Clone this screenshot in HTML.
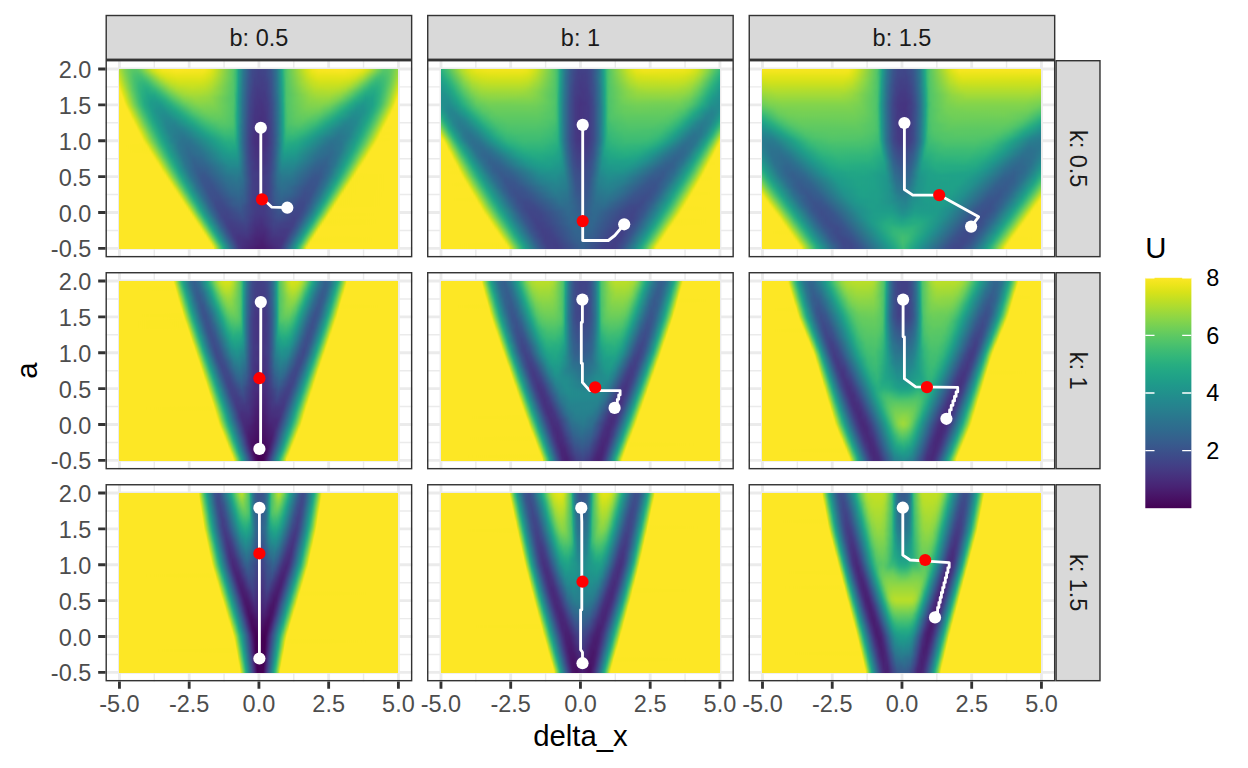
<!DOCTYPE html>
<html><head><meta charset="utf-8"><title>U landscape</title>
<style>
html,body{margin:0;padding:0;background:#fff}
#p{position:relative;width:1248px;height:768px;overflow:hidden;background:#fff;font-family:"Liberation Sans",sans-serif}
.l{position:absolute;left:0;top:0}
.hw{position:absolute;width:279px;height:180px;overflow:hidden}
.hm{position:absolute;left:0;top:-6px;width:279px;filter:url(#vb)}
.hm i{display:block;height:3px;width:279px}
</style></head><body><div id="p">
<svg width="0" height="0" style="position:absolute"><defs><filter id="vb" x="0" y="0" width="100%" height="100%" color-interpolation-filters="sRGB"><feGaussianBlur stdDeviation="0.6 1.4"/></filter></defs></svg>
<svg class="l" width="1248" height="768" viewBox="0 0 1248 768"><path d="M154.32 60.00V257.35M224.06 60.00V257.35M293.79 60.00V257.35M363.53 60.00V257.35M105.50 230.44H412.35M105.50 194.56H412.35M105.50 158.68H412.35M105.50 122.79H412.35M105.50 86.91H412.35" stroke="#ebebeb" stroke-width="1.42" fill="none"/><path d="M119.45 60.00V257.35M189.19 60.00V257.35M258.93 60.00V257.35M328.66 60.00V257.35M398.40 60.00V257.35M105.50 248.38H412.35M105.50 212.50H412.35M105.50 176.62H412.35M105.50 140.73H412.35M105.50 104.85H412.35M105.50 68.97H412.35" stroke="#ebebeb" stroke-width="2.84" fill="none"/><path d="M475.84 60.00V257.35M545.58 60.00V257.35M615.31 60.00V257.35M685.05 60.00V257.35M427.02 230.44H733.87M427.02 194.56H733.87M427.02 158.68H733.87M427.02 122.79H733.87M427.02 86.91H733.87" stroke="#ebebeb" stroke-width="1.42" fill="none"/><path d="M440.97 60.00V257.35M510.71 60.00V257.35M580.45 60.00V257.35M650.18 60.00V257.35M719.92 60.00V257.35M427.02 248.38H733.87M427.02 212.50H733.87M427.02 176.62H733.87M427.02 140.73H733.87M427.02 104.85H733.87M427.02 68.97H733.87" stroke="#ebebeb" stroke-width="2.84" fill="none"/><path d="M797.36 60.00V257.35M867.10 60.00V257.35M936.83 60.00V257.35M1006.57 60.00V257.35M748.54 230.44H1055.39M748.54 194.56H1055.39M748.54 158.68H1055.39M748.54 122.79H1055.39M748.54 86.91H1055.39" stroke="#ebebeb" stroke-width="1.42" fill="none"/><path d="M762.49 60.00V257.35M832.23 60.00V257.35M901.97 60.00V257.35M971.70 60.00V257.35M1041.44 60.00V257.35M748.54 248.38H1055.39M748.54 212.50H1055.39M748.54 176.62H1055.39M748.54 140.73H1055.39M748.54 104.85H1055.39M748.54 68.97H1055.39" stroke="#ebebeb" stroke-width="2.84" fill="none"/><path d="M154.32 272.02V469.37M224.06 272.02V469.37M293.79 272.02V469.37M363.53 272.02V469.37M105.50 442.46H412.35M105.50 406.58H412.35M105.50 370.70H412.35M105.50 334.81H412.35M105.50 298.93H412.35" stroke="#ebebeb" stroke-width="1.42" fill="none"/><path d="M119.45 272.02V469.37M189.19 272.02V469.37M258.93 272.02V469.37M328.66 272.02V469.37M398.40 272.02V469.37M105.50 460.40H412.35M105.50 424.52H412.35M105.50 388.64H412.35M105.50 352.75H412.35M105.50 316.87H412.35M105.50 280.99H412.35" stroke="#ebebeb" stroke-width="2.84" fill="none"/><path d="M475.84 272.02V469.37M545.58 272.02V469.37M615.31 272.02V469.37M685.05 272.02V469.37M427.02 442.46H733.87M427.02 406.58H733.87M427.02 370.70H733.87M427.02 334.81H733.87M427.02 298.93H733.87" stroke="#ebebeb" stroke-width="1.42" fill="none"/><path d="M440.97 272.02V469.37M510.71 272.02V469.37M580.45 272.02V469.37M650.18 272.02V469.37M719.92 272.02V469.37M427.02 460.40H733.87M427.02 424.52H733.87M427.02 388.64H733.87M427.02 352.75H733.87M427.02 316.87H733.87M427.02 280.99H733.87" stroke="#ebebeb" stroke-width="2.84" fill="none"/><path d="M797.36 272.02V469.37M867.10 272.02V469.37M936.83 272.02V469.37M1006.57 272.02V469.37M748.54 442.46H1055.39M748.54 406.58H1055.39M748.54 370.70H1055.39M748.54 334.81H1055.39M748.54 298.93H1055.39" stroke="#ebebeb" stroke-width="1.42" fill="none"/><path d="M762.49 272.02V469.37M832.23 272.02V469.37M901.97 272.02V469.37M971.70 272.02V469.37M1041.44 272.02V469.37M748.54 460.40H1055.39M748.54 424.52H1055.39M748.54 388.64H1055.39M748.54 352.75H1055.39M748.54 316.87H1055.39M748.54 280.99H1055.39" stroke="#ebebeb" stroke-width="2.84" fill="none"/><path d="M154.32 484.04V681.39M224.06 484.04V681.39M293.79 484.04V681.39M363.53 484.04V681.39M105.50 654.48H412.35M105.50 618.60H412.35M105.50 582.72H412.35M105.50 546.83H412.35M105.50 510.95H412.35" stroke="#ebebeb" stroke-width="1.42" fill="none"/><path d="M119.45 484.04V681.39M189.19 484.04V681.39M258.93 484.04V681.39M328.66 484.04V681.39M398.40 484.04V681.39M105.50 672.42H412.35M105.50 636.54H412.35M105.50 600.66H412.35M105.50 564.77H412.35M105.50 528.89H412.35M105.50 493.01H412.35" stroke="#ebebeb" stroke-width="2.84" fill="none"/><path d="M475.84 484.04V681.39M545.58 484.04V681.39M615.31 484.04V681.39M685.05 484.04V681.39M427.02 654.48H733.87M427.02 618.60H733.87M427.02 582.72H733.87M427.02 546.83H733.87M427.02 510.95H733.87" stroke="#ebebeb" stroke-width="1.42" fill="none"/><path d="M440.97 484.04V681.39M510.71 484.04V681.39M580.45 484.04V681.39M650.18 484.04V681.39M719.92 484.04V681.39M427.02 672.42H733.87M427.02 636.54H733.87M427.02 600.66H733.87M427.02 564.77H733.87M427.02 528.89H733.87M427.02 493.01H733.87" stroke="#ebebeb" stroke-width="2.84" fill="none"/><path d="M797.36 484.04V681.39M867.10 484.04V681.39M936.83 484.04V681.39M1006.57 484.04V681.39M748.54 654.48H1055.39M748.54 618.60H1055.39M748.54 582.72H1055.39M748.54 546.83H1055.39M748.54 510.95H1055.39" stroke="#ebebeb" stroke-width="1.42" fill="none"/><path d="M762.49 484.04V681.39M832.23 484.04V681.39M901.97 484.04V681.39M971.70 484.04V681.39M1041.44 484.04V681.39M748.54 672.42H1055.39M748.54 636.54H1055.39M748.54 600.66H1055.39M748.54 564.77H1055.39M748.54 528.89H1055.39M748.54 493.01H1055.39" stroke="#ebebeb" stroke-width="2.84" fill="none"/></svg>
<div class="hw" style="left:119px;top:69px"><div class="hm"><i style="background:linear-gradient(90deg,#b0dd2f 0.2%,#89d548 1.6%,#6ccd5a 3%,#5ac864 4.5%,#56c667 6.3%,#60ca60 7.3%,#75d054 8.4%,#cde11d 12%,#e7e419 13.8%,#f4e61e 15.6%,#fbe723 21%,#f6e620 30.6%,#e5e419 32.8%,#d0e11c 34.2%,#56c667 41%,#42be71 41.8%,#26ad81 42.5%,#1fa287 42.8%,#2a778e 44.6%,#39558c 46.8%,#3e4a89 47.8%,#414287 50%,#404688 52.5%,#3a538b 54.3%,#2b748e 56.5%,#1fa088 58.2%,#24aa83 58.6%,#3dbc74 59.3%,#5ac864 60.4%,#cde11d 66.8%,#dde318 67.9%,#efe51c 69.4%,#f8e621 71.5%,#fbe723 80.5%,#efe51c 86.6%,#dfe318 88%,#c8e020 89.4%,#77d153 92.7%,#56c667 94.8%,#56c667 95.9%,#60ca60 97.3%,#69cd5b 98%,#90d743 99.8%)"></i><i style="background:linear-gradient(90deg,#b0dd2f 0.2%,#89d548 1.6%,#6ccd5a 3%,#5ac864 4.5%,#56c667 6.3%,#60ca60 7.3%,#75d054 8.4%,#cde11d 12%,#e7e419 13.8%,#f4e61e 15.6%,#fbe723 21%,#f6e620 30.6%,#e5e419 32.8%,#d0e11c 34.2%,#56c667 41%,#42be71 41.8%,#26ad81 42.5%,#1fa287 42.8%,#2a778e 44.6%,#39558c 46.8%,#3e4a89 47.8%,#414287 50%,#404688 52.5%,#3a538b 54.3%,#2b748e 56.5%,#1fa088 58.2%,#24aa83 58.6%,#3dbc74 59.3%,#5ac864 60.4%,#cde11d 66.8%,#dde318 67.9%,#efe51c 69.4%,#f8e621 71.5%,#fbe723 80.5%,#efe51c 86.6%,#dfe318 88%,#c8e020 89.4%,#77d153 92.7%,#56c667 94.8%,#56c667 95.9%,#60ca60 97.3%,#69cd5b 98%,#90d743 99.8%)"></i><i style="background:linear-gradient(90deg,#b0dd2f 0.2%,#89d548 1.6%,#6ccd5a 3%,#5ac864 4.5%,#56c667 6.3%,#60ca60 7.3%,#75d054 8.4%,#cde11d 12%,#e7e419 13.8%,#f4e61e 15.6%,#fbe723 21%,#f6e620 30.6%,#e5e419 32.8%,#d0e11c 34.2%,#56c667 41%,#42be71 41.8%,#26ad81 42.5%,#1fa287 42.8%,#2a778e 44.6%,#39558c 46.8%,#3e4a89 47.8%,#414287 50%,#404688 52.5%,#3a538b 54.3%,#2b748e 56.5%,#1fa088 58.2%,#24aa83 58.6%,#3dbc74 59.3%,#5ac864 60.4%,#cde11d 66.8%,#dde318 67.9%,#efe51c 69.4%,#f8e621 71.5%,#fbe723 80.5%,#efe51c 86.6%,#dfe318 88%,#c8e020 89.4%,#77d153 92.7%,#56c667 94.8%,#56c667 95.9%,#60ca60 97.3%,#69cd5b 98%,#90d743 99.8%)"></i><i style="background:linear-gradient(90deg,#bade28 0.2%,#7cd250 2.3%,#60ca60 3.8%,#50c46a 5.2%,#4cc26c 6.6%,#56c667 8.1%,#69cd5b 9.1%,#cae11f 13.4%,#dae319 14.5%,#e5e419 15.9%,#f1e51d 20.3%,#efe51c 29.9%,#dfe318 32.4%,#cde11d 33.9%,#56c667 41%,#32b67a 42.1%,#1fa187 42.8%,#2a768e 44.6%,#3a548c 46.8%,#3e4989 47.8%,#424186 50%,#404588 52.5%,#39568c 54.7%,#2c738e 56.5%,#1f9f88 58.2%,#23a983 58.6%,#3bbb75 59.3%,#4ac16d 59.7%,#5ac864 60.4%,#c5e021 66.8%,#e2e418 69%,#efe51c 71.5%,#f1e51d 80.8%,#e5e419 85.5%,#cde11d 87.6%,#5ec962 92.7%,#4cc26c 94.4%,#52c569 96.2%,#5ec962 97.3%,#95d840 99.8%)"></i><i style="background:linear-gradient(90deg,#c5e021 0.2%,#8bd646 2%,#69cd5b 3.4%,#4cc26c 5.2%,#42be71 7%,#46c06f 8.1%,#5ec962 9.9%,#c8e020 14.9%,#dde318 17%,#e7e419 20.6%,#e7e419 28.9%,#e2e418 30.6%,#d2e21b 32.8%,#c0df25 34.2%,#60ca60 40.3%,#40bd72 41.8%,#25ac82 42.5%,#1fa188 42.8%,#2b758e 44.6%,#3a538b 46.8%,#3f4889 47.8%,#424086 50%,#414287 52.2%,#39558c 54.7%,#2c728e 56.5%,#1f9e89 58.2%,#22a884 58.6%,#48c16e 59.7%,#63cb5f 61.1%,#c8e020 67.6%,#d8e219 69%,#e5e419 71.1%,#e7e419 80.5%,#e5e419 82.3%,#d8e219 84.8%,#b8de29 87.3%,#60ca60 91.2%,#4ec36b 92.3%,#42be71 93.7%,#48c16e 95.5%,#54c568 96.6%,#6ece58 98%,#9dd93b 99.8%)"></i><i style="background:linear-gradient(90deg,#d0e11c 0.2%,#89d548 2.3%,#5ec962 4.1%,#42be71 5.9%,#3bbb75 8.4%,#48c16e 9.9%,#60ca60 11.3%,#addc30 14.9%,#d0e11c 17.7%,#dde318 21.3%,#dde318 28.9%,#d8e219 30.6%,#c5e021 33.2%,#5ac864 40.7%,#3fbc73 41.8%,#25ab82 42.5%,#1fa088 42.8%,#2b748e 44.6%,#39568c 46.4%,#414287 48.6%,#423f85 51.4%,#404688 53.2%,#3a548c 54.7%,#2c718e 56.5%,#1e9d89 58.2%,#2cb17e 59%,#52c569 60%,#bade28 67.2%,#d8e219 70.4%,#dde318 72.2%,#dde318 79.7%,#d5e21a 82.6%,#c8e020 84.4%,#9bd93c 87.3%,#5cc863 90.1%,#40bd72 91.9%,#3bbb75 92.7%,#3fbc73 94.8%,#54c568 96.6%,#69cd5b 97.7%,#a8db34 99.8%)"></i><i style="background:linear-gradient(90deg,#dfe318 0.2%,#c5e021 0.9%,#9dd93b 2%,#60ca60 4.1%,#46c06f 5.6%,#35b779 7.3%,#34b679 9.1%,#3fbc73 10.6%,#69cd5b 13.1%,#b0dd2f 16.7%,#c8e020 19.2%,#d2e21b 22%,#d2e21b 29.2%,#c8e020 31.7%,#aadc32 34.6%,#52c569 41%,#3dbc74 41.8%,#24aa83 42.5%,#1f9f88 42.8%,#2c738e 44.6%,#39558c 46.4%,#424186 48.6%,#433e85 51.4%,#414287 52.9%,#3a538b 54.7%,#2a788e 56.8%,#1e9c89 58.2%,#2ab07f 59%,#50c46a 60%,#9bd93c 65.4%,#c0df25 68.6%,#d2e21b 72.2%,#d2e21b 79%,#c5e021 82.6%,#a0da39 85.5%,#65cb5e 88.4%,#40bd72 90.5%,#35b779 91.9%,#34b679 93.4%,#44bf70 95.5%,#5ec962 97%,#8ed645 98.7%,#b2dd2d 99.8%)"></i><i style="background:linear-gradient(90deg,#ece51b 0.2%,#d0e11c 0.9%,#90d743 2.7%,#4ec36b 5.2%,#35b779 7%,#2db27d 8.8%,#2fb47c 10.2%,#3bbb75 11.6%,#73d056 14.9%,#b0dd2f 18.5%,#c5e021 21.7%,#cae11f 26.3%,#c5e021 30.3%,#b2dd2d 33.2%,#52c569 41%,#3dbc74 41.8%,#23a983 42.5%,#1f9e89 42.8%,#2c728e 44.6%,#3c4f8a 46.8%,#424086 48.6%,#433d84 51.4%,#424186 52.9%,#3b528b 54.7%,#2a778e 56.8%,#1e9b8a 58.2%,#29af7f 59%,#50c46a 60%,#9dd93b 66.1%,#c0df25 69.7%,#c8e020 71.9%,#c8e020 78.3%,#bddf26 81.2%,#addc30 83%,#8bd646 85.1%,#60ca60 87.3%,#38b977 89.8%,#2fb47c 90.9%,#2db27d 92.7%,#3bbb75 94.8%,#5ac864 96.6%,#8bd646 98.4%,#c0df25 99.8%)"></i><i style="background:linear-gradient(90deg,#fbe723 0.2%,#dfe318 0.9%,#d2e21b 1.3%,#8ed645 3%,#5ac864 4.8%,#44bf70 5.9%,#31b57b 7.3%,#27ad81 9.5%,#29af7f 10.9%,#3bbb75 13.1%,#93d741 18.1%,#b0dd2f 20.6%,#c0df25 26.3%,#b8de29 31%,#a8db34 33.2%,#52c569 41%,#3bbb75 41.8%,#22a884 42.5%,#1e9d89 42.8%,#2a788e 44.3%,#38588c 46.1%,#424186 48.2%,#443b84 49.6%,#424086 52.9%,#3b518b 54.7%,#2a768e 56.8%,#20a486 58.6%,#44bf70 59.7%,#54c568 60.4%,#a5db36 67.6%,#bade28 70.8%,#c0df25 74.7%,#b8de29 79%,#aadc32 81.2%,#89d548 83.7%,#3dbc74 88%,#28ae80 90.5%,#28ae80 92.3%,#2fb47c 93.7%,#48c16e 95.5%,#7fd34e 97.7%,#cde11d 99.8%)"></i><i style="background:linear-gradient(90deg,#fde725 0.2%,#fbe723 0.5%,#dfe318 1.3%,#d2e21b 1.6%,#81d34d 3.8%,#60ca60 4.8%,#35b779 7%,#2ab07f 8.1%,#24aa83 9.9%,#2db27d 13.1%,#42be71 14.9%,#73d056 17.7%,#98d83e 20.3%,#a8db34 22%,#b2dd2d 24.9%,#b2dd2d 29.2%,#a8db34 32.1%,#89d548 35.7%,#50c46a 41%,#3aba76 41.8%,#22a785 42.5%,#1e9c89 42.8%,#2a778e 44.3%,#39568c 46.1%,#414287 47.8%,#443a83 49.6%,#443b84 52.2%,#3f4889 53.9%,#34608d 55.7%,#1f988b 58.2%,#27ad81 59%,#4ec36b 60%,#8bd646 65.8%,#addc30 70.1%,#b2dd2d 76.5%,#a8db34 79%,#95d840 81.2%,#44bf70 86.2%,#2eb37c 88%,#25ac82 89.4%,#24aa83 91.6%,#2fb47c 93.7%,#46c06f 95.2%,#7cd250 97.3%,#dae319 99.8%)"></i><i style="background:linear-gradient(90deg,#fde725 0.2%,#fde725 0.9%,#dfe318 1.6%,#d2e21b 2%,#73d056 4.5%,#44bf70 6.3%,#2ab07f 8.1%,#21a685 10.2%,#22a884 12.7%,#2db27d 14.5%,#42be71 16.3%,#60ca60 18.1%,#8ed645 21.3%,#a0da39 23.5%,#a8db34 25.6%,#a8db34 29.2%,#a0da39 31.7%,#86d549 35.3%,#50c46a 41%,#2ab07f 42.1%,#1e9b8a 42.8%,#2a768e 44.3%,#39558c 46.1%,#424186 47.8%,#443983 49.6%,#443a83 52.2%,#3e4a89 54.3%,#2b748e 56.8%,#1fa287 58.6%,#26ad81 59%,#4ec36b 60%,#9bd93c 68.6%,#a8db34 71.9%,#a8db34 75.4%,#93d741 79.4%,#63cb5f 83%,#44bf70 84.8%,#2eb37c 86.6%,#23a983 88.4%,#21a685 91.2%,#26ad81 92.7%,#31b57b 93.7%,#52c569 95.5%,#7cd250 97%,#cde11d 99.1%,#eae51a 99.8%)"></i><i style="background:linear-gradient(90deg,#fde725 0.2%,#fde725 1.3%,#e2e418 2%,#d2e21b 2.3%,#a5db36 3.4%,#67cc5c 5.2%,#42be71 6.6%,#28ae80 8.4%,#1fa287 10.6%,#1fa187 12.7%,#27ad81 15.2%,#35b779 16.7%,#5ac864 19.2%,#89d548 22.8%,#9dd93b 27.1%,#93d741 32.4%,#4ec36b 41%,#46c06f 41.4%,#29af7f 42.1%,#1f9a8a 42.8%,#2b758e 44.3%,#3a548c 46.1%,#414287 47.5%,#453882 49.6%,#443a83 52.5%,#3e4989 54.3%,#2c728e 56.8%,#1fa187 58.6%,#25ac82 59%,#42be71 59.7%,#52c569 60.4%,#73d056 64.3%,#8ed645 67.9%,#9bd93c 70.8%,#9bd93c 75.4%,#7fd34e 79.4%,#3bbb75 84.1%,#28ae80 85.8%,#1fa187 88.4%,#1fa287 90.9%,#2eb37c 93.4%,#50c46a 95.2%,#86d549 97%,#cde11d 98.7%,#dde318 99.1%,#f8e621 99.8%)"></i><i style="background:linear-gradient(90deg,#fde725 0.2%,#fde725 1.6%,#e2e418 2.3%,#d2e21b 2.7%,#70cf57 5.2%,#38b977 7.3%,#23a983 9.1%,#1e9d89 11.6%,#1f9e89 13.8%,#27ad81 16.7%,#58c765 20.6%,#7fd34e 23.8%,#93d741 27.8%,#93d741 30.6%,#89d548 33.5%,#4ec36b 41%,#46c06f 41.4%,#28ae80 42.1%,#1f998a 42.8%,#2b748e 44.3%,#3e4989 46.8%,#443a83 48.6%,#453581 50.4%,#443b84 52.9%,#3b518b 55%,#2c718e 56.8%,#1fa188 58.6%,#32b67a 59.3%,#4cc26c 60%,#52c569 60.4%,#69cd5b 63.3%,#8bd646 68.3%,#93d741 73.3%,#8ed645 75.1%,#7ad151 78%,#5ac864 80.5%,#28ae80 84.4%,#1e9c89 88.4%,#1fa187 90.9%,#2cb17e 93%,#4ec36b 94.8%,#77d153 96.2%,#cde11d 98.4%,#dde318 98.7%,#fbe723 99.5%,#fde725 99.8%)"></i><i style="background:linear-gradient(90deg,#fde725 0.2%,#fde725 2%,#e2e418 2.7%,#d2e21b 3%,#6ece58 5.6%,#3dbc74 7.3%,#31b57b 8.1%,#24aa83 9.1%,#1e9b8a 11.3%,#1f978b 13.4%,#1e9d89 15.2%,#2ab07f 18.5%,#63cb5f 23.1%,#84d44b 27.1%,#89d548 28.9%,#84d44b 33.5%,#52c569 40.7%,#4ec36b 41%,#37b878 41.8%,#27ad81 42.1%,#1f988b 42.8%,#2c738e 44.3%,#3f4889 46.8%,#443983 48.6%,#463480 51.1%,#423f85 53.6%,#39558c 55.4%,#29798e 57.2%,#1fa088 58.6%,#24aa83 59%,#4cc26c 60%,#63cb5f 62.5%,#84d44b 67.9%,#89d548 72.6%,#7fd34e 75.1%,#70cf57 76.9%,#28ae80 83%,#1fa188 85.1%,#1f978b 87.6%,#1fa188 90.9%,#26ad81 92.3%,#42be71 94.1%,#90d743 96.6%,#dde318 98.4%,#fbe723 99.1%,#fde725 99.8%)"></i><i style="background:linear-gradient(90deg,#fde725 0.2%,#fde725 2.3%,#f6e620 2.7%,#d8e219 3.4%,#8bd646 5.2%,#50c46a 7%,#37b878 8.1%,#27ad81 9.1%,#1e9c89 11.3%,#1f948c 14.9%,#23a983 18.8%,#35b779 21%,#67cc5c 25.3%,#7fd34e 29.2%,#7cd250 34.2%,#63cb5f 38.5%,#4ec36b 41%,#35b779 41.8%,#1fa287 42.5%,#2c728e 44.3%,#3f4788 46.8%,#453581 49.3%,#463480 51.4%,#443b84 53.2%,#3c4f8a 55%,#2a788e 57.2%,#1f9f88 58.6%,#24aa83 59%,#3fbc73 59.7%,#4ac16d 60%,#58c765 61.1%,#7ad151 66.5%,#81d34d 69.4%,#7fd34e 71.9%,#6ccd5a 75.4%,#32b67a 80.5%,#22a884 82.6%,#1f978b 85.5%,#20938c 87.3%,#1fa287 90.9%,#26ad81 91.9%,#3bbb75 93.4%,#86d549 95.9%,#d2e21b 97.7%,#e2e418 98%,#fde725 98.7%,#fde725 99.8%)"></i><i style="background:linear-gradient(90deg,#fde725 0.2%,#fde725 3%,#dfe318 3.8%,#d0e11c 4.1%,#77d153 6.3%,#42be71 8.1%,#28ae80 9.5%,#1e9c89 11.6%,#20928c 13.4%,#20928c 15.9%,#23a983 20.3%,#63cb5f 26.7%,#77d153 30.6%,#75d054 34.9%,#5ac864 39.6%,#4cc26c 41%,#34b679 41.8%,#1fa187 42.5%,#2c728e 44.3%,#414287 47.1%,#453581 48.9%,#46337f 51.4%,#443b84 53.2%,#3e4989 54.7%,#2a778e 57.2%,#1f9e89 58.6%,#23a983 59%,#3fbc73 59.7%,#50c46a 60.4%,#63cb5f 62.9%,#77d153 67.2%,#75d054 71.5%,#5ac864 75.4%,#32b67a 79%,#22a884 81.2%,#20928c 85.1%,#20928c 87.6%,#1e9d89 89.8%,#27ad81 91.6%,#3fbc73 93%,#73d056 94.8%,#dae319 97.3%,#f8e621 98%,#fde725 99.8%)"></i><i style="background:linear-gradient(90deg,#fde725 0.2%,#fde725 3.4%,#f6e620 3.8%,#d8e219 4.5%,#70cf57 7%,#46c06f 8.4%,#2ab07f 9.9%,#1e9c89 12%,#20928c 13.4%,#218e8d 16.3%,#1fa287 20.6%,#2ab07f 22.8%,#52c569 26.7%,#6ccd5a 30.3%,#70cf57 32.1%,#6ccd5a 36.4%,#52c569 40.7%,#42be71 41.4%,#26ad81 42.1%,#1fa187 42.5%,#2c718e 44.3%,#3e4a89 46.4%,#453581 48.9%,#46337f 51.8%,#443a83 53.2%,#3d4e8a 55%,#2e6f8e 56.8%,#1f9e89 58.6%,#23a983 59%,#3dbc74 59.7%,#50c46a 60.4%,#6ccd5a 65.1%,#70cf57 69.4%,#65cb5e 72.2%,#48c16e 75.4%,#22a884 79.7%,#20928c 83.3%,#218e8d 85.1%,#20938c 88%,#1fa188 89.8%,#28ae80 91.2%,#42be71 92.7%,#60ca60 93.7%,#86d549 94.8%,#d2e21b 96.6%,#e2e418 97%,#fde725 97.7%,#fde725 99.8%)"></i><i style="background:linear-gradient(90deg,#fde725 0.2%,#fde725 4.1%,#dfe318 4.8%,#d0e11c 5.2%,#77d153 7.3%,#4ac16d 8.8%,#27ad81 10.6%,#1e9c89 12.4%,#228d8d 14.9%,#228b8d 17%,#1fa287 22%,#27ad81 23.8%,#48c16e 27.4%,#58c765 29.2%,#67cc5c 32.4%,#67cc5c 36.4%,#5ac864 39.2%,#4cc26c 41%,#25ac82 42.1%,#1fa188 42.5%,#2c718e 44.3%,#424186 47.1%,#453581 48.6%,#46327e 51.4%,#453581 52.5%,#3f4889 54.7%,#2a768e 57.2%,#1e9d89 58.6%,#22a884 59%,#3dbc74 59.7%,#52c569 60.8%,#63cb5f 63.6%,#69cd5b 67.9%,#56c667 72.2%,#22a884 78.3%,#228b8d 84.1%,#218e8d 86.6%,#1fa187 89.4%,#2ab07f 90.9%,#5cc863 93%,#8ed645 94.4%,#cae11f 95.9%,#dae319 96.2%,#f8e621 97%,#fde725 97.3%,#fde725 99.8%)"></i><i style="background:linear-gradient(90deg,#fde725 0.2%,#fde725 4.5%,#f6e620 4.8%,#d8e219 5.6%,#70cf57 8.1%,#46c06f 9.5%,#29af7f 10.9%,#1e9d89 12.7%,#238a8d 15.6%,#23888e 18.1%,#20a486 23.8%,#29af7f 25.6%,#56c667 31%,#63cb5f 34.9%,#5ec962 37.8%,#50c46a 40.7%,#40bd72 41.4%,#25ac82 42.1%,#1fa188 42.5%,#29798e 43.9%,#3e4989 46.4%,#453581 48.6%,#46307e 50.7%,#463480 52.5%,#3f4889 54.7%,#2e6e8e 56.8%,#1e9d89 58.6%,#22a785 59%,#3bbb75 59.7%,#4ec36b 60.4%,#5cc863 62.9%,#63cb5f 66.1%,#52c569 70.8%,#22a884 76.9%,#1e9d89 78.7%,#23888e 83%,#228b8d 85.8%,#1fa287 89.1%,#2db27d 90.5%,#42be71 91.6%,#60ca60 92.7%,#86d549 93.7%,#d2e21b 95.5%,#e2e418 95.9%,#fde725 96.6%,#fde725 99.8%)"></i><i style="background:linear-gradient(90deg,#fde725 0.2%,#fde725 5.2%,#dfe318 5.9%,#d0e11c 6.3%,#5ec962 9.1%,#38b977 10.6%,#23a983 12%,#1e9b8a 13.4%,#25858e 17%,#24878e 19.9%,#1e9c89 23.8%,#26ad81 26.7%,#3dbc74 29.6%,#56c667 33.5%,#5ac864 37.8%,#4ec36b 40.7%,#40bd72 41.4%,#25ab82 42.1%,#1fa088 42.5%,#34618d 45%,#424086 47.1%,#463480 48.6%,#46307e 51.4%,#453581 52.9%,#3f4788 54.7%,#2b758e 57.2%,#1e9c89 58.6%,#22a785 59%,#3bbb75 59.7%,#50c46a 60.8%,#5ac864 63.6%,#5ac864 66.1%,#46c06f 70.4%,#29af7f 74%,#1fa188 76.5%,#228c8d 80.1%,#25848e 83%,#23888e 85.1%,#20a486 88.7%,#29af7f 89.8%,#50c46a 91.6%,#8ed645 93.4%,#cae11f 94.8%,#dae319 95.2%,#f8e621 95.9%,#fde725 96.2%,#fde725 99.8%)"></i><i style="background:linear-gradient(90deg,#fde725 0.2%,#fde725 5.6%,#f8e621 5.9%,#d8e219 6.6%,#70cf57 9.1%,#44bf70 10.6%,#28ae80 12%,#1e9c89 13.8%,#24868e 16.7%,#26828e 19.9%,#1fa187 26.3%,#3dbc74 31.4%,#54c568 36.4%,#52c569 39.2%,#48c16e 41%,#31b57b 41.8%,#1fa088 42.5%,#2a788e 43.9%,#3f4889 46.4%,#463480 48.6%,#472f7d 51.1%,#443a83 53.6%,#3b518b 55.4%,#2b758e 57.2%,#1e9c89 58.6%,#21a685 59%,#3aba76 59.7%,#4ac16d 60.4%,#54c568 62.9%,#54c568 65.1%,#3bbb75 70.1%,#1fa287 74.7%,#26828e 81.2%,#24878e 84.8%,#1fa187 88%,#32b67a 89.8%,#60ca60 91.6%,#86d549 92.7%,#d2e21b 94.4%,#e2e418 94.8%,#fde725 95.5%,#fde725 99.8%)"></i><i style="background:linear-gradient(90deg,#fde725 0.2%,#fde725 6.3%,#dfe318 7%,#d0e11c 7.3%,#5ec962 10.2%,#2ab07f 12.4%,#1e9d89 14.2%,#25838e 17.4%,#277f8e 20.3%,#25858e 22.8%,#1fa187 27.8%,#32b67a 31.7%,#4ac16d 36%,#4cc26c 38.9%,#46c06f 40.7%,#3bbb75 41.4%,#2fb47c 41.8%,#24aa83 42.1%,#1f948c 42.8%,#2a778e 43.9%,#3d4d8a 46.1%,#443b84 47.5%,#472f7d 49.6%,#463480 52.9%,#424186 54.3%,#32658e 56.5%,#1e9b8a 58.6%,#21a685 59%,#38b977 59.7%,#44bf70 60.4%,#4cc26c 64.3%,#3dbc74 67.9%,#1fa287 73.3%,#25848e 78.7%,#277f8e 80.8%,#25838e 83.7%,#1e9c89 86.9%,#2eb37c 89.1%,#5ac864 90.9%,#8ed645 92.3%,#dae319 94.1%,#fbe723 94.8%,#fde725 99.8%)"></i><i style="background:linear-gradient(90deg,#fde725 0.2%,#fde725 6.6%,#f8e621 7%,#dae319 7.7%,#cae11f 8.1%,#70cf57 10.2%,#44bf70 11.6%,#28ae80 13.1%,#1e9b8a 14.9%,#25838e 17.7%,#287c8e 21.3%,#25838e 23.8%,#1e9d89 28.5%,#31b57b 33.2%,#44bf70 37.8%,#3dbc74 41%,#2eb37c 41.8%,#1f9e89 42.5%,#31678e 44.6%,#3f4788 46.4%,#46307e 48.9%,#472e7c 51.1%,#443983 53.6%,#3e4a89 55%,#2f6c8e 56.8%,#1f9a8a 58.6%,#21a585 59%,#3bbb75 60%,#44bf70 62.2%,#3bbb75 66.1%,#1fa187 71.9%,#25858e 76.9%,#287c8e 79.7%,#26828e 83.3%,#1e9d89 86.6%,#26ad81 88%,#40bd72 89.4%,#86d549 91.6%,#d2e21b 93.4%,#e5e419 93.7%,#fde725 94.4%,#fde725 99.8%)"></i><i style="background:linear-gradient(90deg,#fde725 0.2%,#fde725 7.3%,#e2e418 8.1%,#d2e21b 8.4%,#93d741 9.9%,#5ec962 11.3%,#2ab07f 13.4%,#1e9c89 15.2%,#26828e 18.1%,#29798e 22.4%,#26828e 25.3%,#1e9c89 29.9%,#26ad81 33.2%,#3aba76 37.1%,#3dbc74 39.2%,#38b977 41%,#2cb17e 41.8%,#1f9e89 42.5%,#2a768e 43.9%,#424186 46.8%,#46307e 48.9%,#472e7c 51.4%,#453581 53.2%,#3e4a89 55%,#2c738e 57.2%,#1f9a8a 58.6%,#20a486 59%,#31b57b 59.7%,#3aba76 60.4%,#3dbc74 62.2%,#32b67a 65.8%,#1e9d89 71.1%,#29798e 78.7%,#277e8e 82.3%,#1fa287 86.6%,#2eb37c 88%,#5ac864 89.8%,#8ed645 91.2%,#cde11d 92.7%,#dde318 93%,#fbe723 93.7%,#fde725 99.8%)"></i><i style="background:linear-gradient(90deg,#fde725 0.2%,#fde725 7.7%,#f8e621 8.1%,#dae319 8.8%,#cae11f 9.1%,#8bd646 10.6%,#58c765 12%,#3bbb75 13.1%,#27ad81 14.2%,#1e9d89 15.6%,#297a8e 19.9%,#2a768e 23.5%,#1e9c89 31.4%,#32b67a 37.8%,#34b679 41%,#29af7f 41.8%,#1e9d89 42.5%,#31668e 44.6%,#404688 46.4%,#46337f 48.2%,#472d7b 50%,#46307e 52.5%,#3e4989 55%,#33638d 56.5%,#1f998a 58.6%,#26ad81 59.3%,#32b67a 60%,#32b67a 63.6%,#1e9c89 69.7%,#26828e 74.4%,#2b758e 78.7%,#2a788e 80.8%,#25848e 83%,#1e9c89 85.5%,#2ab07f 87.3%,#4ac16d 88.7%,#95d840 90.9%,#d5e21a 92.3%,#e5e419 92.7%,#fde725 93.4%,#fde725 99.8%)"></i><i style="background:linear-gradient(90deg,#fde725 0.2%,#fde725 8.4%,#e2e418 9.1%,#d2e21b 9.5%,#93d741 10.9%,#5ec962 12.4%,#2fb47c 14.2%,#22a785 15.2%,#1e9b8a 16.3%,#25838e 18.8%,#2c728e 22.8%,#2a788e 26%,#1e9d89 33.2%,#2db27d 38.5%,#2cb17e 41.4%,#1e9c89 42.5%,#2e6d8e 44.3%,#424086 46.8%,#46307e 48.6%,#472d7b 51.4%,#463480 53.2%,#3a548c 55.7%,#1f988b 58.6%,#25ac82 59.3%,#2db27d 60%,#2eb37c 62.2%,#1e9c89 68.3%,#287d8e 74%,#2c728e 77.6%,#287d8e 81.5%,#1fa187 85.5%,#2eb37c 86.9%,#5ac864 88.7%,#8ed645 90.1%,#cde11d 91.6%,#dde318 91.9%,#fbe723 92.7%,#fde725 99.8%)"></i><i style="background:linear-gradient(90deg,#fde725 0.2%,#fde725 9.1%,#dde318 9.9%,#cde11d 10.2%,#8ed645 11.6%,#44bf70 13.8%,#27ad81 15.2%,#1e9d89 16.7%,#24868e 18.8%,#2c738e 21.7%,#2c718e 25.3%,#1e9c89 34.2%,#24aa83 37.5%,#27ad81 41.4%,#1e9c89 42.5%,#2b758e 43.9%,#3b518b 45.7%,#453581 47.8%,#472d7b 49.6%,#46307e 52.5%,#423f85 54.3%,#33638d 56.5%,#1f988b 58.6%,#27ad81 59.7%,#23a983 64%,#1e9b8a 67.2%,#2c718e 75.8%,#2b748e 79.7%,#1e9b8a 84.4%,#2ab07f 86.2%,#56c667 88%,#89d548 89.4%,#d8e219 91.2%,#f8e621 91.9%,#fde725 92.3%,#fde725 99.8%)"></i><i style="background:linear-gradient(90deg,#fde725 0.2%,#fbe723 9.9%,#dde318 10.6%,#8bd646 12.4%,#56c667 13.8%,#40bd72 14.5%,#2ab07f 15.6%,#1fa287 16.7%,#2a768e 21.3%,#2e6e8e 24.2%,#2c728e 27.1%,#1e9c89 35.3%,#24aa83 39.2%,#22a884 41.8%,#1e9c89 42.5%,#23888e 43.2%,#355f8d 45%,#424186 46.8%,#46307e 48.9%,#472e7c 51.4%,#453581 53.2%,#3e4a89 55%,#2c738e 57.2%,#218f8d 58.2%,#1fa187 59%,#23a983 59.7%,#20a486 64%,#1f958b 67.2%,#2b748e 73.7%,#2e6e8e 76.5%,#2b758e 79.7%,#1fa187 84.4%,#2eb37c 85.8%,#52c569 87.3%,#77d153 88.4%,#d8e219 90.5%,#f6e620 91.2%,#fde725 91.6%,#fde725 99.8%)"></i><i style="background:linear-gradient(90deg,#fde725 0.2%,#fbe723 10.6%,#eae51a 10.9%,#cae11f 11.6%,#5ec962 14.2%,#35b779 15.6%,#21a585 17%,#1e9c89 17.7%,#2a788e 21.3%,#2f6c8e 24.6%,#2c728e 28.1%,#1e9c89 36.4%,#21a685 40%,#20a486 41.8%,#1e9b8a 42.5%,#23898e 43.2%,#31678e 44.6%,#414287 46.8%,#46307e 49.3%,#472f7d 51.8%,#3e4a89 55%,#24868e 57.9%,#1fa088 59%,#21a585 59.7%,#1fa188 63.6%,#2b748e 72.6%,#2f6c8e 75.4%,#2a778e 79.7%,#20a386 84.1%,#32b67a 85.5%,#5ac864 86.9%,#a2da37 88.7%,#d5e21a 89.8%,#f6e620 90.5%,#fde725 90.9%,#fde725 99.8%)"></i><i style="background:linear-gradient(90deg,#fde725 0.2%,#fbe723 11.3%,#d8e219 12%,#95d840 13.4%,#5cc863 14.9%,#32b67a 16.3%,#1fa287 17.7%,#2b758e 22%,#306a8e 24.9%,#2c728e 29.2%,#1e9b8a 37.5%,#1fa188 39.6%,#1f9e89 42.1%,#20928c 42.8%,#3a538b 45.7%,#423f85 47.1%,#46327e 48.9%,#472f7d 51.1%,#453581 52.9%,#414287 54.3%,#31668e 56.5%,#21908d 58.2%,#1fa088 59.3%,#1e9d89 63.3%,#2c718e 72.2%,#306a8e 76.5%,#2a778e 79.4%,#1fa187 83.3%,#29af7f 84.4%,#40bd72 85.5%,#81d34d 87.3%,#d2e21b 89.1%,#e5e419 89.4%,#fde725 90.1%,#fde725 99.8%)"></i><i style="background:linear-gradient(90deg,#fde725 0.2%,#fde725 11.6%,#f8e621 12%,#d8e219 12.7%,#81d34d 14.5%,#40bd72 16.3%,#24aa83 17.7%,#1e9c89 18.8%,#2b758e 22.4%,#31688e 25.3%,#2c728e 30.3%,#1f968b 37.5%,#1e9c89 41.8%,#20928c 42.8%,#3a548c 45.7%,#424086 47.1%,#46337f 48.9%,#46307e 51.1%,#414287 54.3%,#355f8d 56.1%,#218f8d 58.2%,#1e9b8a 59.3%,#1f998a 62.9%,#2c718e 71.1%,#31688e 75.8%,#2b748e 78.7%,#1f9f88 82.6%,#27ad81 83.7%,#48c16e 85.1%,#8bd646 86.9%,#d0e11c 88.4%,#e2e418 88.7%,#f4e61e 89.1%,#fde725 89.4%,#fde725 99.8%)"></i><i style="background:linear-gradient(90deg,#fde725 0.2%,#fde725 12.4%,#f8e621 12.7%,#e7e419 13.1%,#d5e21a 13.4%,#8ed645 14.9%,#60ca60 15.9%,#3dbc74 17%,#26ad81 18.1%,#1fa287 18.8%,#2c738e 23.1%,#32658e 26.3%,#2f6b8e 29.6%,#21908d 37.1%,#1f988b 40.3%,#1f968b 42.1%,#21908d 42.8%,#3e4a89 46.4%,#443a83 47.8%,#46327e 49.6%,#453581 52.5%,#424086 53.9%,#3a538b 55.4%,#218e8d 58.2%,#1f978b 59.3%,#20928c 63.6%,#2c718e 70.1%,#32658e 74.7%,#2c728e 78%,#1e9d89 81.9%,#2ab07f 83.3%,#44bf70 84.4%,#69cd5b 85.5%,#d0e11c 87.6%,#dfe318 88%,#fde725 88.7%,#fde725 99.8%)"></i><i style="background:linear-gradient(90deg,#fde725 0.2%,#fde725 13.1%,#f6e620 13.4%,#e5e419 13.8%,#d2e21b 14.2%,#8bd646 15.6%,#44bf70 17.4%,#2ab07f 18.5%,#1e9c89 19.9%,#2a768e 23.1%,#33638d 26.7%,#31688e 29.9%,#218f8d 38.2%,#21918c 42.5%,#23888e 43.2%,#39568c 45.7%,#414287 47.1%,#453581 48.9%,#46337f 51.4%,#443a83 53.2%,#3e4989 54.7%,#228c8d 58.2%,#20928c 59%,#218e8d 63.3%,#31678e 71.5%,#33638d 74.4%,#2c728e 77.6%,#1f9f88 81.5%,#2eb37c 83%,#4cc26c 84.1%,#95d840 85.8%,#cde11d 86.9%,#dfe318 87.3%,#fde725 88%,#fde725 99.8%)"></i><i style="background:linear-gradient(90deg,#fde725 0.2%,#fde725 13.8%,#f6e620 14.2%,#e2e418 14.5%,#d0e11c 14.9%,#77d153 16.7%,#40bd72 18.1%,#27ad81 19.2%,#1f9e89 20.3%,#2c738e 23.8%,#34618d 27.1%,#31668e 30.6%,#228c8d 38.9%,#228d8d 42.5%,#26818e 43.5%,#39568c 45.7%,#3f4788 46.8%,#463480 49.6%,#453581 52.2%,#424186 53.9%,#375b8d 55.7%,#277e8e 57.5%,#228c8d 58.6%,#238a8d 62.9%,#32658e 70.8%,#34618d 74%,#2b758e 77.6%,#1e9d89 80.8%,#25ac82 81.9%,#3dbc74 83%,#81d34d 84.8%,#b8de29 85.8%,#dde318 86.6%,#fde725 87.3%,#fde725 99.8%)"></i><i style="background:linear-gradient(90deg,#fde725 0.2%,#fde725 14.5%,#f4e61e 14.9%,#e2e418 15.2%,#cde11d 15.6%,#84d44b 17%,#3dbc74 18.8%,#25ac82 19.9%,#1e9c89 21%,#2a778e 23.8%,#355f8d 27.4%,#33638d 31%,#23898e 40%,#23888e 42.5%,#277f8e 43.5%,#3b528b 46.1%,#424086 47.5%,#453781 48.9%,#463480 51.1%,#414287 53.9%,#39558c 55.4%,#287d8e 57.5%,#23888e 58.6%,#24868e 62.5%,#33628d 70.4%,#355e8d 72.9%,#34618d 74.4%,#2c728e 76.9%,#1f958b 79.7%,#20a486 80.8%,#31b57b 81.9%,#52c569 83%,#6ece58 83.7%,#dae319 85.8%,#fde725 86.6%,#fde725 99.8%)"></i><i style="background:linear-gradient(90deg,#fde725 0.2%,#fde725 15.2%,#dfe318 15.9%,#cde11d 16.3%,#81d34d 17.7%,#52c569 18.8%,#31b57b 19.9%,#20a486 21%,#1f948c 22%,#2b748e 24.6%,#32658e 26.3%,#365c8d 28.5%,#34618d 31.7%,#26828e 38.9%,#26818e 43.2%,#3e4989 46.8%,#443b84 48.2%,#453581 50%,#424086 53.6%,#39568c 55.4%,#287c8e 57.5%,#26828e 58.2%,#26828e 62.2%,#355f8d 70.1%,#365c8d 72.6%,#30698e 75.4%,#1e9d89 79.7%,#27ad81 80.8%,#4ec36b 82.3%,#8bd646 83.7%,#d8e219 85.1%,#fde725 85.8%,#fde725 99.8%)"></i><i style="background:linear-gradient(90deg,#fde725 0.2%,#fde725 15.9%,#dde318 16.7%,#cae11f 17%,#7cd250 18.5%,#5cc863 19.2%,#37b878 20.3%,#26ad81 21%,#1e9c89 22%,#2c718e 25.3%,#365c8d 28.1%,#375a8c 30.6%,#287d8e 38.9%,#26818e 41.8%,#297a8e 43.5%,#3e4989 46.8%,#423f85 47.8%,#453781 51.4%,#443b84 52.9%,#3f4889 54.3%,#2d708e 56.8%,#277e8e 58.2%,#27808e 61.1%,#365d8d 69.4%,#375a8c 72.2%,#31668e 74.7%,#2a788e 76.5%,#1fa088 79.4%,#2cb17e 80.5%,#4ac16d 81.5%,#77d153 82.6%,#d8e219 84.4%,#eae51a 84.8%,#fde725 85.1%,#fde725 99.8%)"></i><i style="background:linear-gradient(90deg,#fde725 0.2%,#fde725 16.7%,#dae319 17.4%,#c8e020 17.7%,#8bd646 18.8%,#4cc26c 20.3%,#2cb17e 21.3%,#1fa088 22.4%,#2c728e 25.6%,#38598c 28.9%,#39568c 30.6%,#2a768e 38.5%,#297b8e 42.5%,#2b748e 43.9%,#3e4a89 46.8%,#424086 47.8%,#453882 51.4%,#404588 53.9%,#2e6f8e 56.8%,#297b8e 59%,#2a788e 62.2%,#39568c 70.4%,#375a8c 72.6%,#2b758e 75.8%,#20a386 79%,#28ae80 79.7%,#54c568 81.2%,#aadc32 83%,#d5e21a 83.7%,#e7e419 84.1%,#fbe723 84.4%,#fde725 99.8%)"></i><i style="background:linear-gradient(90deg,#fde725 0.2%,#fde725 17.4%,#dae319 18.1%,#89d548 19.5%,#56c667 20.6%,#31b57b 21.7%,#20a386 22.8%,#2b748e 26%,#39568c 29.6%,#39558c 31.7%,#2d718e 38.2%,#2a788e 42.1%,#2e6f8e 44.3%,#424086 47.8%,#453882 50%,#414287 53.6%,#2d718e 57.2%,#2a778e 58.6%,#2a768e 61.5%,#39558c 69.4%,#39568c 71.5%,#31678e 74%,#1e9b8a 78%,#26ad81 79%,#44bf70 80.1%,#70cf57 81.2%,#d2e21b 83%,#e7e419 83.3%,#fbe723 83.7%,#fde725 99.8%)"></i><i style="background:linear-gradient(90deg,#fde725 0.2%,#fde725 18.1%,#dae319 18.8%,#86d549 20.3%,#46c06f 21.7%,#27ad81 22.8%,#1e9c89 23.8%,#2c728e 26.7%,#39568c 29.9%,#3a548c 32.4%,#2e6f8e 38.5%,#2b758e 42.1%,#2e6d8e 44.3%,#433e85 48.2%,#453882 51.1%,#414287 53.6%,#2f6c8e 56.8%,#2b748e 58.6%,#2e6e8e 62.9%,#3a548c 68.6%,#39558c 71.1%,#2b758e 74.7%,#1fa088 77.6%,#2db27d 78.7%,#5ec962 80.1%,#93d741 81.2%,#d2e21b 82.3%,#e7e419 82.6%,#fbe723 83%,#fde725 99.8%)"></i><i style="background:linear-gradient(90deg,#fde725 0.2%,#fde725 18.8%,#efe51c 19.2%,#d8e219 19.5%,#98d83e 20.6%,#52c569 22%,#2eb37c 23.1%,#1fa188 24.2%,#2f6c8e 27.8%,#3a548c 30.6%,#3a538b 33.2%,#2e6f8e 39.6%,#2d718e 43.2%,#31688e 44.6%,#424186 47.8%,#453882 51.1%,#414287 53.6%,#306a8e 56.8%,#2d718e 58.2%,#2e6d8e 62.2%,#3a538b 67.9%,#39558c 70.8%,#2c738e 74%,#20a486 77.2%,#2ab07f 78%,#5cc863 79.4%,#7fd34e 80.1%,#d2e21b 81.5%,#e7e419 81.9%,#fbe723 82.3%,#fde725 99.8%)"></i><i style="background:linear-gradient(90deg,#fde725 0.2%,#fde725 19.5%,#d8e219 20.3%,#70cf57 22%,#50c46a 22.8%,#35b779 23.5%,#20a486 24.6%,#2c728e 27.8%,#3a548c 31%,#3b518b 33.5%,#306a8e 39.2%,#2e6f8e 42.8%,#31668e 44.6%,#424186 47.8%,#453882 50.4%,#443b84 52.5%,#3e4989 54.3%,#2f6b8e 57.2%,#2d708e 59.3%,#3b528b 67.2%,#3a538b 70.1%,#2c718e 73.3%,#1e9d89 76.2%,#29af7f 77.2%,#4ac16d 78.3%,#7cd250 79.4%,#d0e11c 80.8%,#e7e419 81.2%,#fbe723 81.5%,#fde725 99.8%)"></i><i style="background:linear-gradient(90deg,#fde725 0.2%,#fde725 20.3%,#d8e219 21%,#81d34d 22.4%,#3fbc73 23.8%,#2ab07f 24.6%,#1e9d89 25.6%,#2b758e 28.1%,#3b528b 31.7%,#3c508b 34.2%,#306a8e 40.3%,#2f6c8e 42.8%,#34618d 45%,#424186 47.8%,#453882 50.7%,#414287 53.6%,#34608d 56.1%,#2f6c8e 58.2%,#31688e 61.5%,#3b518b 66.5%,#3a538b 69.7%,#2b748e 72.9%,#1fa188 75.8%,#2fb47c 76.9%,#48c16e 77.6%,#7ad151 78.7%,#d0e11c 80.1%,#e5e419 80.5%,#fbe723 80.8%,#fde725 99.8%)"></i><i style="background:linear-gradient(90deg,#fde725 0.2%,#fde725 21%,#d8e219 21.7%,#93d741 22.8%,#5ac864 23.8%,#28ae80 25.3%,#1e9b8a 26.3%,#306a8e 29.6%,#3c508b 32.4%,#3c4f8a 34.9%,#31668e 40.3%,#30698e 42.8%,#32658e 44.3%,#424186 47.8%,#453882 51.1%,#414287 53.6%,#375b8d 55.7%,#30698e 58.2%,#32648e 61.5%,#3d4e8a 66.8%,#3b518b 69%,#2c718e 72.2%,#1fa088 75.1%,#26ad81 75.8%,#46c06f 76.9%,#7ad151 78%,#d0e11c 79.4%,#e5e419 79.7%,#fbe723 80.1%,#fde725 99.8%)"></i><i style="background:linear-gradient(90deg,#fde725 0.2%,#fde725 21.7%,#ece51b 22%,#d5e21a 22.4%,#58c765 24.6%,#2fb47c 25.6%,#1fa088 26.7%,#2c718e 29.6%,#3c508b 32.8%,#3d4e8a 35.7%,#34618d 40%,#31668e 42.8%,#355e8d 45%,#3e4a89 46.8%,#443b84 48.9%,#443983 51.8%,#414287 53.6%,#365d8d 56.1%,#31668e 58.2%,#34608d 61.5%,#3d4d8a 66.1%,#3b518b 68.6%,#2b748e 71.9%,#20a486 74.7%,#37b878 75.8%,#54c568 76.5%,#8bd646 77.6%,#cde11d 78.7%,#e5e419 79%,#fbe723 79.4%,#fde725 99.8%)"></i><i style="background:linear-gradient(90deg,#fde725 0.2%,#fde725 22.4%,#ece51b 22.8%,#d5e21a 23.1%,#67cc5c 24.9%,#46c06f 25.6%,#25ac82 26.7%,#1f9f88 27.4%,#306a8e 30.6%,#3d4e8a 33.5%,#3d4d8a 36.4%,#33638d 42.8%,#365c8d 45%,#424186 47.8%,#443983 49.6%,#443b84 52.5%,#375b8d 56.1%,#33638d 58.2%,#3e4c8a 65.4%,#3c4f8a 67.9%,#2c728e 71.1%,#1e9c89 73.7%,#2ab07f 74.7%,#50c46a 75.8%,#89d548 76.9%,#cde11d 78%,#e5e419 78.3%,#fbe723 78.7%,#fde725 99.8%)"></i><i style="background:linear-gradient(90deg,#fde725 0.2%,#fde725 23.1%,#ece51b 23.5%,#d5e21a 23.8%,#8ed645 24.9%,#44bf70 26.3%,#2cb17e 27.1%,#1e9d89 28.1%,#33638d 31.7%,#3e4a89 34.6%,#3e4a89 36.7%,#365d8d 41%,#355f8d 43.5%,#375a8c 45%,#424086 47.8%,#443983 51.4%,#414287 53.6%,#38598c 56.1%,#355f8d 57.5%,#355f8d 59.3%,#3e4a89 64.7%,#3e4a89 66.5%,#39558c 68.3%,#31668e 69.7%,#24878e 71.9%,#1fa187 73.3%,#32b67a 74.4%,#5ec962 75.4%,#86d549 76.2%,#cde11d 77.2%,#e5e419 77.6%,#fbe723 78%,#fde725 99.8%)"></i><i style="background:linear-gradient(90deg,#fde725 0.2%,#fde725 23.8%,#ece51b 24.2%,#d2e21b 24.6%,#77d153 26%,#42be71 27.1%,#2ab07f 27.8%,#1e9b8a 28.9%,#34618d 32.4%,#3e4a89 34.9%,#3e4989 37.5%,#38598c 41%,#365c8d 43.5%,#424086 47.8%,#443983 50.7%,#433e85 52.9%,#365c8d 57.5%,#38588c 60.4%,#3f4889 64.3%,#3e4989 66.1%,#355f8d 68.6%,#25858e 71.1%,#1fa088 72.6%,#31b57b 73.7%,#5cc863 74.7%,#cae11f 76.5%,#e2e418 76.9%,#fbe723 77.2%,#fde725 99.8%)"></i><i style="background:linear-gradient(90deg,#fde725 0.2%,#fde725 24.6%,#eae51a 24.9%,#d2e21b 25.3%,#60ca60 27.1%,#32b67a 28.1%,#1fa088 29.2%,#31688e 32.4%,#3e4989 35.3%,#3f4788 37.8%,#38598c 43.5%,#423f85 48.2%,#443a83 51.8%,#38598c 57.5%,#3f4788 63.6%,#3e4989 65.8%,#3a548c 67.2%,#2c718e 69.4%,#20a486 72.2%,#2eb37c 72.9%,#5ac864 74%,#cae11f 75.8%,#e2e418 76.2%,#f8e621 76.5%,#fde725 76.9%,#fde725 99.8%)"></i><i style="background:linear-gradient(90deg,#fde725 0.2%,#fde725 25.3%,#eae51a 25.6%,#d2e21b 26%,#89d548 27.1%,#4cc26c 28.1%,#26ad81 29.2%,#1f9f88 29.9%,#31668e 33.2%,#3f4788 36%,#404688 38.5%,#39558c 43.5%,#443a83 49.6%,#443b84 52.2%,#39558c 57.5%,#404588 63.3%,#3f4788 65.1%,#39558c 66.8%,#2b748e 69%,#1e9c89 71.1%,#25ab82 71.9%,#46c06f 72.9%,#81d34d 74%,#c8e020 75.1%,#e2e418 75.4%,#f8e621 75.8%,#fde725 76.2%,#fde725 99.8%)"></i><i style="background:linear-gradient(90deg,#fde725 0.2%,#fde725 26%,#eae51a 26.3%,#d2e21b 26.7%,#86d549 27.8%,#5cc863 28.5%,#2fb47c 29.6%,#25ac82 29.9%,#1e9d89 30.6%,#32648e 33.9%,#404688 36.7%,#414487 38.9%,#3b518b 44.3%,#443a83 48.9%,#443983 51.8%,#3b518b 57.2%,#404588 61.8%,#404588 64.3%,#3a538b 66.1%,#33628d 67.2%,#25858e 69.4%,#1fa187 70.8%,#2cb17e 71.5%,#56c667 72.6%,#95d840 73.7%,#c8e020 74.4%,#e2e418 74.7%,#fbe723 75.1%,#fde725 99.8%)"></i><i style="background:linear-gradient(90deg,#fde725 0.2%,#fde725 26.7%,#eae51a 27.1%,#d2e21b 27.4%,#86d549 28.5%,#4ac16d 29.6%,#25ab82 30.6%,#1e9c89 31.4%,#365d8d 34.9%,#3f4889 36.7%,#414287 37.8%,#3d4e8a 44.3%,#443983 48.6%,#453581 50.7%,#443a83 52.9%,#3e4c8a 56.1%,#3d4e8a 57.9%,#424186 62.9%,#3f4788 64.3%,#39568c 65.8%,#20928c 69.4%,#23a983 70.4%,#35b779 71.1%,#69cd5b 72.2%,#c8e020 73.7%,#e2e418 74%,#fbe723 74.4%,#fde725 74.7%,#fde725 99.8%)"></i><i style="background:linear-gradient(90deg,#fde725 0.2%,#fde725 27.4%,#ece51b 27.8%,#d2e21b 28.1%,#9dd93b 28.9%,#48c16e 30.3%,#2db27d 31%,#1e9b8a 32.1%,#39568c 36%,#414287 38.2%,#424086 40%,#3e4a89 44.3%,#404688 46.1%,#453581 48.9%,#46337f 51.1%,#3e4a89 57.2%,#424186 62.9%,#3a548c 65.1%,#25838e 67.9%,#1fa088 69.4%,#29af7f 70.1%,#54c568 71.1%,#95d840 72.2%,#c8e020 72.9%,#e2e418 73.3%,#fbe723 73.7%,#fde725 99.8%)"></i><i style="background:linear-gradient(90deg,#fde725 0.2%,#fde725 28.1%,#ece51b 28.5%,#d2e21b 28.9%,#9dd93b 29.6%,#5ac864 30.6%,#2cb17e 31.7%,#1fa187 32.4%,#25848e 33.9%,#355f8d 36%,#414287 38.5%,#433e85 40.3%,#404588 45.3%,#453581 48.2%,#46307e 51.1%,#404588 55.7%,#433e85 60.8%,#424186 62.5%,#365d8d 65.1%,#23898e 67.6%,#1f9f88 68.6%,#28ae80 69.4%,#54c568 70.4%,#7cd250 71.1%,#c8e020 72.2%,#e2e418 72.6%,#fbe723 72.9%,#fde725 99.8%)"></i><i style="background:linear-gradient(90deg,#fde725 0.2%,#fde725 28.9%,#ece51b 29.2%,#d2e21b 29.6%,#84d44b 30.6%,#58c765 31.4%,#2ab07f 32.4%,#1fa188 33.2%,#365d8d 36.7%,#414287 38.9%,#433d84 40%,#424186 45.7%,#46307e 48.9%,#472e7c 51.4%,#424186 55.4%,#424186 62.2%,#39558c 64%,#24878e 66.8%,#21a685 68.3%,#32b67a 69%,#65cb5e 70.1%,#c8e020 71.5%,#e2e418 71.9%,#fde725 72.2%,#fde725 99.8%)"></i><i style="background:linear-gradient(90deg,#fde725 0.2%,#fde725 29.6%,#ece51b 29.9%,#d2e21b 30.3%,#6ccd5a 31.7%,#44bf70 32.4%,#29af7f 33.2%,#22a884 33.5%,#1f988b 34.2%,#31678e 36.7%,#424086 39.6%,#443a83 41%,#423f85 45.3%,#472c7a 49.6%,#472e7c 52.5%,#433e85 55.4%,#443a83 60.4%,#423f85 61.5%,#355f8d 64%,#1e9d89 67.2%,#26ad81 67.9%,#50c46a 69%,#7ad151 69.7%,#c8e020 70.8%,#e2e418 71.1%,#fde725 71.5%,#fde725 99.8%)"></i><i style="background:linear-gradient(90deg,#fde725 0.2%,#fde725 30.3%,#ece51b 30.6%,#d2e21b 31%,#81d34d 32.1%,#56c667 32.8%,#34b679 33.5%,#21a685 34.2%,#24878e 35.7%,#3a538b 38.5%,#443b84 40.7%,#443a83 46.1%,#482979 49.6%,#472a7a 52.2%,#443b84 55.7%,#453882 59.3%,#433d84 60.8%,#365d8d 63.3%,#1e9c89 66.5%,#25ac82 67.2%,#3dbc74 67.9%,#7ad151 69%,#c8e020 70.1%,#e2e418 70.4%,#fde725 70.8%,#fde725 99.8%)"></i><i style="background:linear-gradient(90deg,#fde725 0.2%,#fde725 31%,#ece51b 31.4%,#d0e11c 31.7%,#81d34d 32.8%,#54c568 33.5%,#27ad81 34.6%,#1e9d89 35.3%,#365d8d 38.5%,#443b84 41%,#453581 42.8%,#453882 45.7%,#482979 48.6%,#482677 51.8%,#453781 55%,#443a83 60%,#34618d 62.9%,#25838e 64.7%,#1fa287 66.1%,#2eb37c 66.8%,#60ca60 67.9%,#c8e020 69.4%,#e2e418 69.7%,#fde725 70.1%,#fde725 99.8%)"></i><i style="background:linear-gradient(90deg,#fde725 0.2%,#fde725 31.7%,#eae51a 32.1%,#d0e11c 32.4%,#7fd34e 33.5%,#3fbc73 34.6%,#26ad81 35.3%,#1e9c89 36%,#31688e 38.5%,#443b84 41.4%,#463480 42.5%,#46327e 46.4%,#482475 49.3%,#482475 51.8%,#46327e 54.7%,#463480 58.6%,#443a83 59.7%,#31668e 62.5%,#1fa188 65.4%,#2db27d 66.1%,#5ec962 67.2%,#c5e021 68.6%,#e2e418 69%,#fbe723 69.4%,#fde725 99.8%)"></i><i style="background:linear-gradient(90deg,#fde725 0.2%,#fde725 32.4%,#eae51a 32.8%,#cde11d 33.2%,#95d840 33.9%,#50c46a 34.9%,#2eb37c 35.7%,#1fa287 36.4%,#26828e 37.8%,#38588c 40%,#453581 42.5%,#482071 51.1%,#46307e 55.4%,#463480 58.6%,#39558c 61.1%,#218f8d 64%,#22a884 65.1%,#37b878 65.8%,#5cc863 66.5%,#8bd646 67.2%,#c2df23 67.9%,#dfe318 68.3%,#fbe723 68.6%,#fde725 99.8%)"></i><i style="background:linear-gradient(90deg,#fde725 0.2%,#fde725 33.2%,#e7e419 33.5%,#cae11f 33.9%,#60ca60 35.3%,#2cb17e 36.4%,#1fa188 37.1%,#306a8e 39.6%,#414287 41.8%,#453581 42.8%,#481d6f 51.4%,#472c7a 54.7%,#463480 58.2%,#31678e 61.5%,#1f958b 63.6%,#21a685 64.3%,#35b779 65.1%,#5ac864 65.8%,#89d548 66.5%,#dde318 67.6%,#f8e621 67.9%,#fde725 68.3%,#fde725 99.8%)"></i><i style="background:linear-gradient(90deg,#fde725 0.2%,#fde725 33.9%,#e5e419 34.2%,#c8e020 34.6%,#5ec962 36%,#38b977 36.7%,#22a785 37.5%,#1f968b 38.2%,#31688e 40.3%,#443a83 42.8%,#472d7b 44.3%,#481b6d 49.6%,#481c6e 52.2%,#46307e 57.5%,#3e4989 59.3%,#32658e 60.8%,#1e9c89 63.3%,#27ad81 64%,#42be71 64.7%,#86d549 65.8%,#dde318 66.8%,#f8e621 67.2%,#fde725 67.6%,#fde725 99.8%)"></i><i style="background:linear-gradient(90deg,#fde725 0.2%,#fde725 33.9%,#e5e419 34.2%,#c8e020 34.6%,#5ec962 36%,#38b977 36.7%,#22a785 37.5%,#1f968b 38.2%,#31688e 40.3%,#443a83 42.8%,#472d7b 44.3%,#481b6d 49.6%,#481c6e 52.2%,#46307e 57.5%,#3e4989 59.3%,#32658e 60.8%,#1e9c89 63.3%,#27ad81 64%,#42be71 64.7%,#86d549 65.8%,#dde318 66.8%,#f8e621 67.2%,#fde725 67.6%,#fde725 99.8%)"></i><i style="background:linear-gradient(90deg,#fde725 0.2%,#fde725 33.9%,#e5e419 34.2%,#c8e020 34.6%,#5ec962 36%,#38b977 36.7%,#22a785 37.5%,#1f968b 38.2%,#31688e 40.3%,#443a83 42.8%,#472d7b 44.3%,#481b6d 49.6%,#481c6e 52.2%,#46307e 57.5%,#3e4989 59.3%,#32658e 60.8%,#1e9c89 63.3%,#27ad81 64%,#42be71 64.7%,#86d549 65.8%,#dde318 66.8%,#f8e621 67.2%,#fde725 67.6%,#fde725 99.8%)"></i></div></div>
<div class="hw" style="left:441px;top:69px"><div class="hm"><i style="background:linear-gradient(90deg,#2ab07f 0.2%,#46c06f 2.3%,#addc30 7.3%,#d5e21a 9.9%,#eae51a 12.7%,#f1e51d 16.7%,#f1e51d 28.9%,#ece51b 30.6%,#dfe318 32.4%,#cde11d 33.9%,#73d056 39.2%,#4cc26c 41.4%,#25ab82 42.5%,#1fa188 42.8%,#25838e 43.9%,#39568c 46.4%,#424086 49.3%,#414287 52.5%,#3c508b 54.3%,#2c718e 56.5%,#1e9d89 58.2%,#22a785 58.6%,#3aba76 59.3%,#5ac864 60.4%,#c5e021 66.8%,#e5e419 69.4%,#f1e51d 72.2%,#efe51c 86.6%,#e5e419 89.4%,#cde11d 91.9%,#8bd646 95.5%,#5cc863 97.7%,#38b977 99.8%)"></i><i style="background:linear-gradient(90deg,#2ab07f 0.2%,#46c06f 2.3%,#addc30 7.3%,#d5e21a 9.9%,#eae51a 12.7%,#f1e51d 16.7%,#f1e51d 28.9%,#ece51b 30.6%,#dfe318 32.4%,#cde11d 33.9%,#73d056 39.2%,#4cc26c 41.4%,#25ab82 42.5%,#1fa188 42.8%,#25838e 43.9%,#39568c 46.4%,#424086 49.3%,#414287 52.5%,#3c508b 54.3%,#2c718e 56.5%,#1e9d89 58.2%,#22a785 58.6%,#3aba76 59.3%,#5ac864 60.4%,#c5e021 66.8%,#e5e419 69.4%,#f1e51d 72.2%,#efe51c 86.6%,#e5e419 89.4%,#cde11d 91.9%,#8bd646 95.5%,#5cc863 97.7%,#38b977 99.8%)"></i><i style="background:linear-gradient(90deg,#2ab07f 0.2%,#46c06f 2.3%,#addc30 7.3%,#d5e21a 9.9%,#eae51a 12.7%,#f1e51d 16.7%,#f1e51d 28.9%,#ece51b 30.6%,#dfe318 32.4%,#cde11d 33.9%,#73d056 39.2%,#4cc26c 41.4%,#25ab82 42.5%,#1fa188 42.8%,#25838e 43.9%,#39568c 46.4%,#424086 49.3%,#414287 52.5%,#3c508b 54.3%,#2c718e 56.5%,#1e9d89 58.2%,#22a785 58.6%,#3aba76 59.3%,#5ac864 60.4%,#c5e021 66.8%,#e5e419 69.4%,#f1e51d 72.2%,#efe51c 86.6%,#e5e419 89.4%,#cde11d 91.9%,#8bd646 95.5%,#5cc863 97.7%,#38b977 99.8%)"></i><i style="background:linear-gradient(90deg,#25ab82 0.2%,#40bd72 2.7%,#a5db36 7.7%,#b8de29 8.8%,#d2e21b 10.9%,#dfe318 13.1%,#e7e419 17.7%,#e7e419 28.1%,#e2e418 30.6%,#d8e219 32.1%,#b8de29 34.6%,#5ac864 40.7%,#3fbc73 41.8%,#24aa83 42.5%,#1fa088 42.8%,#2c738e 44.6%,#3e4989 47.5%,#423f85 49.3%,#423f85 51.8%,#3f4889 53.6%,#355e8d 55.4%,#2a788e 56.8%,#1e9c89 58.2%,#2ab07f 59%,#48c16e 59.7%,#73d056 62.2%,#c2df23 67.2%,#dfe318 70.1%,#e7e419 73.3%,#e2e418 87.3%,#dde318 88.7%,#c8e020 91.2%,#a8db34 93.4%,#8bd646 94.8%,#42be71 98.4%,#2fb47c 99.8%)"></i><i style="background:linear-gradient(90deg,#21a585 0.2%,#3bbb75 3%,#a2da37 8.4%,#c5e021 10.9%,#d8e219 14.5%,#dde318 21%,#dae319 29.2%,#d0e11c 31.7%,#bade28 33.9%,#63cb5f 40%,#54c568 41%,#3dbc74 41.8%,#23a983 42.5%,#1f9f88 42.8%,#2c728e 44.6%,#3a548c 46.4%,#424186 48.6%,#433d84 50.7%,#424086 52.5%,#3e4a89 53.9%,#2a778e 56.8%,#1e9b8a 58.2%,#21a585 58.6%,#38b977 59.3%,#58c765 60.4%,#bddf26 67.6%,#d5e21a 70.4%,#dde318 80.1%,#d8e219 86.6%,#c2df23 90.5%,#a5db36 92.7%,#73d056 95.2%,#3dbc74 98%,#28ae80 99.8%)"></i><i style="background:linear-gradient(90deg,#1fa188 0.2%,#27ad81 2%,#37b878 3.4%,#9bd93c 8.8%,#b8de29 10.9%,#c5e021 12.7%,#d0e11c 16.7%,#d0e11c 28.5%,#cae11f 30.6%,#c2df23 32.1%,#a8db34 34.6%,#58c765 40.7%,#3dbc74 41.8%,#23a983 42.5%,#1f9e89 42.8%,#2c718e 44.6%,#38598c 46.1%,#414287 48.2%,#433d84 49.6%,#433e85 52.2%,#3e4a89 53.9%,#33628d 55.7%,#1f9a8a 58.2%,#29af7f 59%,#46c06f 59.7%,#5ac864 60.8%,#aadc32 66.8%,#c8e020 70.1%,#d0e11c 72.6%,#d0e11c 84.4%,#c8e020 88%,#b5de2b 90.5%,#90d743 93%,#38b977 97.7%,#23a983 99.8%)"></i><i style="background:linear-gradient(90deg,#1e9d89 0.2%,#22a884 2%,#32b67a 3.8%,#7fd34e 8.1%,#addc30 11.3%,#c0df25 14.5%,#c5e021 17.7%,#c5e021 27.8%,#bddf26 31%,#9bd93c 34.9%,#52c569 41%,#3bbb75 41.8%,#22a884 42.5%,#1f9e89 42.8%,#2c718e 44.6%,#38588c 46.1%,#424186 48.2%,#443b84 49.6%,#443b84 51.4%,#3e4989 53.9%,#31688e 56.1%,#1f9a8a 58.2%,#28ae80 59%,#44bf70 59.7%,#50c46a 60%,#5ac864 60.8%,#addc30 67.9%,#c0df25 70.8%,#c5e021 83.3%,#c0df25 86.9%,#aadc32 90.1%,#8ed645 92.3%,#44bf70 96.2%,#2fb47c 97.7%,#20a386 99.8%)"></i><i style="background:linear-gradient(90deg,#1f998a 0.2%,#1fa287 2%,#2eb37c 4.1%,#42be71 5.6%,#77d153 8.4%,#a0da39 11.3%,#b5de2b 14.9%,#bade28 19.5%,#b8de29 28.9%,#b0dd2f 31.4%,#93d741 34.9%,#5ac864 40.3%,#50c46a 41%,#3bbb75 41.8%,#22a785 42.5%,#1e9d89 42.8%,#2a788e 44.3%,#3b528b 46.4%,#414287 47.8%,#443a83 50%,#433e85 52.5%,#3c508b 54.7%,#2b758e 56.8%,#1f998a 58.2%,#28ae80 59%,#44bf70 59.7%,#58c765 60.8%,#a2da37 67.9%,#b5de2b 71.1%,#bade28 75.4%,#b8de29 85.1%,#b0dd2f 87.6%,#9dd93b 90.1%,#73d056 93%,#35b779 96.6%,#25ac82 98%,#1f9f88 99.8%)"></i><i style="background:linear-gradient(90deg,#1f958b 0.2%,#1fa287 2.7%,#2ab07f 4.5%,#63cb5f 8.1%,#93d741 11.3%,#a5db36 13.8%,#addc30 17%,#addc30 28.1%,#a8db34 30.3%,#8ed645 34.6%,#50c46a 41%,#3aba76 41.8%,#21a685 42.5%,#1e9c89 42.8%,#2a778e 44.3%,#3b518b 46.4%,#423f85 48.2%,#443983 50%,#443b84 52.2%,#3a548c 55%,#2b748e 56.8%,#1fa287 58.6%,#27ad81 59%,#44bf70 59.7%,#52c569 60.4%,#93d741 67.2%,#a8db34 70.8%,#addc30 73.3%,#addc30 84.4%,#9bd93c 89.1%,#77d153 91.9%,#3aba76 95.5%,#28ae80 97%,#1f9a8a 99.8%)"></i><i style="background:linear-gradient(90deg,#20928c 0.2%,#1fa287 3.4%,#27ad81 4.8%,#50c46a 7.7%,#81d34d 10.9%,#9bd93c 14.2%,#a2da37 17.7%,#a0da39 28.9%,#95d840 32.1%,#86d549 34.2%,#54c568 40.7%,#3aba76 41.8%,#2ab07f 42.1%,#1e9b8a 42.8%,#2a768e 44.3%,#3c508b 46.4%,#424186 47.8%,#453882 50.7%,#443b84 52.5%,#3a538b 55%,#2c738e 56.8%,#1fa287 58.6%,#26ad81 59%,#42be71 59.7%,#52c569 60.4%,#7fd34e 65.8%,#9bd93c 70.4%,#a2da37 74.4%,#a2da37 83.3%,#9bd93c 86.9%,#8ed645 89.1%,#69cd5b 91.9%,#3aba76 94.8%,#25ac82 96.6%,#1f958b 99.8%)"></i><i style="background:linear-gradient(90deg,#21918c 0.2%,#20928c 1.6%,#22a884 4.8%,#38b977 7%,#50c46a 8.4%,#84d44b 12.4%,#93d741 15.2%,#98d83e 26.7%,#93d741 30.6%,#86d549 33.9%,#4ec36b 41%,#46c06f 41.4%,#29af7f 42.1%,#1f9a8a 42.8%,#2b758e 44.3%,#3e4a89 46.8%,#443b84 48.6%,#453882 51.4%,#423f85 53.2%,#3a538b 55%,#2c738e 56.8%,#1fa187 58.6%,#25ac82 59%,#42be71 59.7%,#52c569 60.4%,#84d44b 66.8%,#93d741 70.4%,#98d83e 82.3%,#8ed645 87.3%,#7ad151 89.8%,#52c569 92.7%,#29af7f 95.5%,#1fa188 97.3%,#20928c 99.8%)"></i><i style="background:linear-gradient(90deg,#218f8d 0.2%,#20938c 2.7%,#22a884 5.6%,#38b977 7.7%,#63cb5f 10.6%,#81d34d 13.8%,#8bd646 17%,#8ed645 21.7%,#89d548 31.7%,#7ad151 35.3%,#4ec36b 41%,#46c06f 41.4%,#29af7f 42.1%,#1f9a8a 42.8%,#2b758e 44.3%,#3a538b 46.1%,#423f85 47.8%,#453781 49.6%,#443b84 52.9%,#3f4889 54.3%,#2c728e 56.8%,#1fa188 58.6%,#32b67a 59.3%,#4cc26c 60%,#52c569 60.4%,#73d056 64.7%,#84d44b 67.9%,#8bd646 71.1%,#8ed645 79.4%,#89d548 85.5%,#75d054 89.1%,#50c46a 91.9%,#35b779 93.7%,#23a983 95.5%,#1e9b8a 97.3%,#218f8d 99.8%)"></i><i style="background:linear-gradient(90deg,#218f8d 0.2%,#218e8d 2.3%,#1fa287 5.6%,#2fb47c 7.7%,#6ece58 12.7%,#7ad151 14.9%,#81d34d 18.1%,#7fd34e 32.4%,#70cf57 36.4%,#52c569 40.7%,#4ec36b 41%,#37b878 41.8%,#28ae80 42.1%,#1f998a 42.8%,#2b748e 44.3%,#3a538b 46.1%,#443b84 48.2%,#453581 50%,#443983 52.5%,#3f4788 54.3%,#2c718e 56.8%,#1fa088 58.6%,#25ab82 59%,#4cc26c 60%,#73d056 65.4%,#81d34d 70.4%,#7fd34e 84.8%,#6ccd5a 88.7%,#44bf70 91.9%,#21a685 95.2%,#20938c 97.7%,#228d8d 99.8%)"></i><i style="background:linear-gradient(90deg,#218f8d 0.2%,#228d8d 3%,#1fa287 6.3%,#2fb47c 8.4%,#63cb5f 12.7%,#75d054 17%,#77d153 31%,#73d056 34.2%,#63cb5f 38.2%,#52c569 40.7%,#44bf70 41.4%,#27ad81 42.1%,#1fa287 42.5%,#2c738e 44.3%,#3b528b 46.1%,#443a83 48.2%,#463480 50%,#453581 51.8%,#414287 53.9%,#30698e 56.5%,#1f9f88 58.6%,#31b57b 59.3%,#4ac16d 60%,#50c46a 60.4%,#69cd5b 64.3%,#73d056 66.8%,#77d153 70.4%,#73d056 85.5%,#56c667 89.8%,#26ad81 93.7%,#1f958b 96.6%,#228b8d 99.8%)"></i><i style="background:linear-gradient(90deg,#21918c 0.2%,#23888e 2.7%,#1f958b 5.6%,#20a486 7.3%,#29af7f 8.8%,#5ac864 13.1%,#6ece58 17.7%,#6ece58 33.9%,#5ac864 39.2%,#4cc26c 41%,#35b779 41.8%,#1fa287 42.5%,#297b8e 43.9%,#3b518b 46.1%,#443a83 48.2%,#463480 49.6%,#443983 52.9%,#3e4a89 54.7%,#2a788e 57.2%,#1f9f88 58.6%,#24aa83 59%,#3fbc73 59.7%,#50c46a 60.4%,#63cb5f 63.6%,#70cf57 70.1%,#6ece58 83.7%,#65cb5e 86.6%,#58c765 88.4%,#22a884 93.4%,#228d8d 97%,#238a8d 99.8%)"></i><i style="background:linear-gradient(90deg,#1f968b 0.2%,#23888e 2%,#24868e 3.8%,#20a386 8.4%,#3dbc74 11.6%,#5cc863 14.9%,#69cd5b 18.8%,#6ccd5a 31%,#65cb5e 36.4%,#5ac864 38.9%,#4cc26c 41%,#35b779 41.8%,#1fa287 42.5%,#297b8e 43.9%,#3b518b 46.1%,#443a83 48.2%,#463480 49.6%,#443983 52.9%,#3e4a89 54.7%,#2a788e 57.2%,#1f9f88 58.6%,#24aa83 59%,#4ac16d 60%,#5ac864 62.2%,#67cc5c 65.8%,#6ccd5a 70.4%,#67cc5c 83.7%,#58c765 86.9%,#22a884 92.3%,#1e9c89 93.7%,#24878e 97%,#228c8d 99.8%)"></i><i style="background:linear-gradient(90deg,#1e9d89 0.2%,#24868e 2.7%,#25848e 4.8%,#1e9b8a 8.4%,#21a685 9.9%,#3bbb75 12.7%,#54c568 15.2%,#65cb5e 19.9%,#65cb5e 34.2%,#52c569 40.3%,#42be71 41.4%,#1fa287 42.5%,#297b8e 43.9%,#3b518b 46.1%,#443a83 48.2%,#463480 49.6%,#443983 52.9%,#3e4a89 54.7%,#2a788e 57.2%,#1f9f88 58.6%,#24aa83 59%,#3fbc73 59.7%,#4ec36b 60.4%,#5ac864 62.5%,#63cb5f 65.4%,#67cc5c 71.1%,#63cb5f 82.6%,#48c16e 87.3%,#29af7f 90.1%,#20a486 91.6%,#218e8d 94.4%,#25838e 97%,#24878e 98.7%,#21908d 99.8%)"></i><i style="background:linear-gradient(90deg,#21a685 0.2%,#24868e 3%,#26828e 5.6%,#1e9b8a 9.5%,#21a685 10.9%,#3dbc74 14.2%,#5ac864 18.1%,#60ca60 21%,#60ca60 34.6%,#52c569 40%,#4ac16d 41%,#35b779 41.8%,#1fa287 42.5%,#297b8e 43.9%,#3b518b 46.1%,#443a83 48.2%,#463480 49.6%,#443983 52.9%,#3e4a89 54.7%,#2a788e 57.2%,#1f9f88 58.6%,#24aa83 59%,#3dbc74 59.7%,#48c16e 60%,#52c569 61.1%,#60ca60 66.5%,#60ca60 80.1%,#52c569 84.8%,#38b977 87.6%,#20a486 90.5%,#26828e 95.5%,#26828e 97.3%,#1f968b 99.8%)"></i><i style="background:linear-gradient(90deg,#2ab07f 0.2%,#1e9b8a 1.6%,#24878e 3.4%,#27808e 6.3%,#24878e 8.1%,#21a685 12%,#3bbb75 15.2%,#52c569 18.1%,#5cc863 22.8%,#5cc863 34.9%,#52c569 39.6%,#48c16e 41%,#35b779 41.8%,#1fa287 42.5%,#297b8e 43.9%,#3b518b 46.1%,#443a83 48.2%,#463480 49.6%,#443983 52.9%,#3e4a89 54.7%,#2a788e 57.2%,#1f9f88 58.6%,#24aa83 59%,#3dbc74 59.7%,#4cc26c 60.4%,#50c46a 61.1%,#5cc863 66.5%,#5cc863 78.7%,#52c569 83%,#3dbc74 85.8%,#20a486 89.4%,#27808e 94.8%,#24868e 97.7%,#1f9e89 99.8%)"></i><i style="background:linear-gradient(90deg,#3bbb75 0.2%,#29af7f 0.9%,#20a486 1.6%,#25838e 4.5%,#287d8e 6.6%,#25848e 8.8%,#1fa287 12.7%,#31b57b 15.2%,#50c46a 19.5%,#58c765 23.8%,#58c765 34.6%,#48c16e 40.7%,#3fbc73 41.4%,#34b679 41.8%,#1fa287 42.5%,#297b8e 43.9%,#3b518b 46.1%,#443a83 48.2%,#463480 49.6%,#443983 52.9%,#3e4a89 54.7%,#2a788e 57.2%,#1f9f88 58.6%,#24aa83 59%,#3bbb75 59.7%,#4ac16d 60.8%,#58c765 66.8%,#58c765 77.6%,#52c569 81.2%,#3bbb75 84.8%,#21a685 88%,#1e9b8a 89.4%,#25858e 92.3%,#287d8e 94.4%,#26828e 96.6%,#1e9d89 99.1%,#22a884 99.8%)"></i><i style="background:linear-gradient(90deg,#54c568 0.2%,#2fb47c 1.3%,#20a386 2.3%,#24878e 4.5%,#297b8e 6.6%,#27808e 9.1%,#1fa287 13.8%,#32b67a 16.7%,#48c16e 19.9%,#54c568 24.9%,#54c568 33.9%,#50c46a 37.5%,#44bf70 40.7%,#32b67a 41.8%,#1fa287 42.5%,#1f988b 42.8%,#2c738e 44.3%,#3b518b 46.1%,#443a83 48.2%,#463480 49.6%,#443983 52.9%,#3e4a89 54.7%,#2a788e 57.2%,#1f9f88 58.6%,#23a983 59%,#3aba76 59.7%,#48c16e 61.5%,#54c568 67.2%,#54c568 76.2%,#48c16e 81.5%,#31b57b 84.8%,#1fa188 87.6%,#26828e 91.6%,#297b8e 93.4%,#287d8e 95.2%,#24868e 96.6%,#1e9c89 98.4%,#2db27d 99.8%)"></i><i style="background:linear-gradient(90deg,#73d056 0.2%,#44bf70 1.3%,#22a884 2.7%,#1e9d89 3.4%,#26828e 5.6%,#2a788e 7.7%,#25838e 10.9%,#1fa287 14.9%,#31b57b 17.7%,#46c06f 21%,#4ec36b 24.2%,#50c46a 33.5%,#4ac16d 38.2%,#3dbc74 41%,#31b57b 41.8%,#1fa287 42.5%,#1f988b 42.8%,#2c738e 44.3%,#3b518b 46.1%,#443a83 48.2%,#463480 49.6%,#443983 52.9%,#3e4a89 54.7%,#30698e 56.5%,#1f948c 58.2%,#23a983 59%,#3dbc74 60%,#4cc26c 64%,#50c46a 67.9%,#50c46a 74.7%,#48c16e 79.7%,#32b67a 83.3%,#1fa188 86.6%,#25848e 90.1%,#2a788e 93.4%,#25858e 95.9%,#1fa188 98%,#25ac82 98.7%,#40bd72 99.8%)"></i><i style="background:linear-gradient(90deg,#9bd93c 0.2%,#73d056 0.9%,#38b977 2.3%,#26ad81 3%,#1e9c89 4.1%,#277e8e 6.6%,#2a768e 9.1%,#25838e 12%,#1fa187 15.9%,#3dbc74 21%,#48c16e 23.8%,#4cc26c 28.5%,#4ac16d 35.7%,#3dbc74 40.7%,#2fb47c 41.8%,#1fa287 42.5%,#1f978b 42.8%,#2c738e 44.3%,#3b518b 46.1%,#443a83 48.2%,#463480 49.6%,#443983 52.9%,#3e4a89 54.7%,#30698e 56.5%,#1f948c 58.2%,#23a983 59%,#3aba76 60%,#46c06f 63.3%,#4cc26c 68.6%,#44bf70 78.7%,#31b57b 82.3%,#1fa287 85.1%,#287d8e 90.1%,#2a768e 93%,#25838e 95.2%,#21a585 97.7%,#35b779 98.7%,#5cc863 99.8%)"></i><i style="background:linear-gradient(90deg,#c5e021 0.2%,#60ca60 2%,#42be71 2.7%,#26ad81 3.8%,#1e9b8a 4.8%,#2a778e 8.1%,#2b748e 10.2%,#26828e 13.1%,#1fa187 17%,#31b57b 20.3%,#3dbc74 22.8%,#46c06f 26.3%,#46c06f 29.6%,#46c06f 35.3%,#3dbc74 39.6%,#2eb37c 41.8%,#1fa187 42.5%,#1f978b 42.8%,#2c738e 44.3%,#3b518b 46.1%,#443a83 48.2%,#463480 49.6%,#443983 52.9%,#3e4a89 54.7%,#30698e 56.5%,#1f948c 58.2%,#22a884 59%,#37b878 60%,#46c06f 65.8%,#46c06f 74.7%,#3dbc74 78.7%,#1fa287 84.1%,#25838e 88%,#2b748e 90.9%,#29798e 93.4%,#238a8d 95.2%,#1f9f88 96.6%,#24aa83 97.3%,#34b679 98%,#4cc26c 98.7%,#7fd34e 99.8%)"></i><i style="background:linear-gradient(90deg,#f4e61e 0.2%,#dde318 0.5%,#c5e021 0.9%,#86d549 2%,#50c46a 3%,#2db27d 4.1%,#1fa088 5.2%,#277e8e 7.7%,#2b758e 8.8%,#2c718e 10.6%,#297b8e 13.1%,#1e9b8a 17.4%,#26ad81 19.9%,#3aba76 23.5%,#42be71 30.3%,#42be71 35.3%,#3aba76 39.6%,#31b57b 41.4%,#25ab82 42.1%,#1f978b 42.8%,#32648e 45%,#3f4889 46.8%,#453882 48.6%,#463480 51.4%,#443b84 53.2%,#3e4a89 54.7%,#30698e 56.5%,#1f948c 58.2%,#22a884 59%,#2fb47c 59.7%,#3aba76 61.5%,#42be71 66.1%,#42be71 73.7%,#3bbb75 77.2%,#2fb47c 79.7%,#1e9c89 83.7%,#2a778e 88.7%,#2c718e 90.5%,#2a778e 92.7%,#25848e 94.1%,#1f9e89 95.9%,#29af7f 97%,#3dbc74 97.7%,#5ac864 98.4%,#a8db34 99.8%)"></i><i style="background:linear-gradient(90deg,#fde725 0.2%,#fde725 0.5%,#f4e61e 0.9%,#dde318 1.3%,#c8e020 1.6%,#86d549 2.7%,#42be71 4.1%,#2cb17e 4.8%,#1f9f88 5.9%,#25848e 7.7%,#2a768e 9.1%,#2d708e 11.6%,#2a788e 13.8%,#1e9b8a 18.5%,#32b67a 23.5%,#3fbc73 28.9%,#3fbc73 34.9%,#32b67a 40.7%,#2ab07f 41.8%,#1f978b 42.8%,#2c738e 44.3%,#3b518b 46.1%,#443a83 48.2%,#463480 49.6%,#443983 52.9%,#3e4a89 54.7%,#2a788e 57.2%,#1f9e89 58.6%,#28ae80 59.3%,#32b67a 60.4%,#3fbc73 66.5%,#3dbc74 74%,#32b67a 77.6%,#1e9c89 82.6%,#297b8e 86.9%,#2d708e 89.4%,#2b758e 91.9%,#1e9d89 95.2%,#29af7f 96.2%,#4ac16d 97.3%,#7fd34e 98.4%,#d5e21a 99.8%)"></i><i style="background:linear-gradient(90deg,#fde725 0.2%,#fde725 1.3%,#efe51c 1.6%,#d8e219 2%,#6ece58 3.8%,#40bd72 4.8%,#24aa83 5.9%,#1f988b 7%,#25848e 8.4%,#2c728e 10.2%,#2e6e8e 11.3%,#2c728e 14.2%,#1e9b8a 19.9%,#2db27d 24.2%,#3aba76 29.9%,#37b878 37.8%,#2cb17e 41.4%,#24aa83 42.1%,#1f998a 42.8%,#2b748e 44.3%,#3e4989 46.8%,#443983 48.6%,#453581 51.4%,#443a83 52.9%,#39568c 55.4%,#2c718e 56.8%,#1f958b 58.2%,#27ad81 59.3%,#32b67a 61.5%,#3aba76 66.1%,#3aba76 71.1%,#32b67a 75.4%,#24aa83 79%,#1e9c89 81.2%,#2b758e 86.6%,#2e6e8e 88.4%,#2b748e 91.2%,#1e9c89 94.4%,#28ae80 95.5%,#48c16e 96.6%,#7ad151 97.7%,#d0e11c 99.1%,#e7e419 99.5%,#fde725 99.8%)"></i><i style="background:linear-gradient(90deg,#fde725 0.2%,#fbe723 2%,#e5e419 2.3%,#d0e11c 2.7%,#69cd5b 4.5%,#32b67a 5.9%,#20a386 7%,#2a788e 10.2%,#2f6c8e 12.4%,#2c718e 15.2%,#1e9d89 21.7%,#25ac82 24.6%,#32b67a 29.2%,#34b679 36%,#26ad81 41.8%,#1e9b8a 42.8%,#2a778e 44.3%,#3c508b 46.4%,#443b84 48.6%,#453781 50.7%,#443a83 52.5%,#3e4989 54.3%,#2b748e 56.8%,#1f988b 58.2%,#25ac82 59.3%,#2cb17e 60.8%,#34b679 65.1%,#2fb47c 73.7%,#25ab82 76.9%,#1e9b8a 79.7%,#2c738e 85.5%,#2f6c8e 87.6%,#2c718e 90.1%,#26828e 91.9%,#1fa187 94.1%,#2fb47c 95.2%,#54c568 96.2%,#75d054 97%,#dde318 98.7%,#f4e61e 99.1%,#fde725 99.5%,#fde725 99.8%)"></i><i style="background:linear-gradient(90deg,#fde725 0.2%,#fde725 2.3%,#dde318 3%,#89d548 4.5%,#48c16e 5.9%,#28ae80 7%,#1e9d89 8.1%,#2c718e 11.6%,#306a8e 14.5%,#2b758e 17.4%,#1e9c89 23.1%,#26ad81 27.1%,#2eb37c 31%,#2eb37c 36.7%,#26ad81 41%,#20a486 42.5%,#1f948c 43.2%,#2c718e 44.6%,#3d4d8a 46.8%,#423f85 48.2%,#443983 50%,#443b84 52.2%,#3f4788 53.9%,#34618d 55.7%,#1f9a8a 58.2%,#22a785 59%,#26ad81 60%,#2eb37c 64.3%,#2eb37c 70.1%,#26ad81 74%,#1e9c89 78%,#2a788e 83.3%,#306a8e 86.6%,#2c738e 89.8%,#1e9b8a 93%,#26ad81 94.1%,#42be71 95.2%,#70cf57 96.2%,#d5e21a 98%,#eae51a 98.4%,#fde725 98.7%,#fde725 99.8%)"></i><i style="background:linear-gradient(90deg,#fde725 0.2%,#fde725 3%,#eae51a 3.4%,#d5e21a 3.8%,#70cf57 5.6%,#44bf70 6.6%,#27ad81 7.7%,#1e9c89 8.8%,#2c718e 12.4%,#31688e 15.6%,#2c718e 18.1%,#1f948c 23.5%,#26ad81 29.6%,#2ab07f 35.7%,#24aa83 41%,#1f9e89 42.8%,#31668e 45.3%,#3f4788 47.5%,#443b84 49.6%,#443b84 51.4%,#424086 52.9%,#3b528b 54.7%,#26828e 57.2%,#1fa187 58.6%,#25ac82 61.1%,#2ab07f 65.8%,#26ad81 71.5%,#1e9b8a 76.5%,#2a768e 82.3%,#31688e 85.5%,#306a8e 87.6%,#2c738e 89.1%,#1fa088 92.7%,#2cb17e 93.7%,#5cc863 95.2%,#7cd250 95.9%,#cde11d 97.3%,#e2e418 97.7%,#f6e620 98%,#fde725 98.4%,#fde725 99.8%)"></i><i style="background:linear-gradient(90deg,#fde725 0.2%,#fde725 3.4%,#f4e61e 3.8%,#e2e418 4.1%,#cde11d 4.5%,#a2da37 5.2%,#6ccd5a 6.3%,#40bd72 7.3%,#26ad81 8.4%,#1e9c89 9.5%,#2c738e 12.7%,#31688e 14.5%,#31668e 16.3%,#2c718e 19.5%,#1fa088 27.4%,#25ac82 32.8%,#23a983 40%,#1f9e89 42.8%,#31688e 45.3%,#3e4989 47.5%,#424186 48.6%,#433d84 51.1%,#414287 52.9%,#3a548c 54.7%,#2c738e 56.5%,#1f958b 57.9%,#1fa188 58.6%,#22a884 60.8%,#26ad81 66.8%,#22a785 71.5%,#1f958b 75.8%,#2c728e 81.5%,#31668e 84.8%,#30698e 86.9%,#2c728e 88.4%,#1fa088 91.9%,#2ab07f 93%,#4ac16d 94.1%,#77d153 95.2%,#dae319 97%,#fde725 97.7%,#fde725 99.8%)"></i><i style="background:linear-gradient(90deg,#fde725 0.2%,#fde725 4.1%,#d8e219 4.8%,#77d153 6.6%,#58c765 7.3%,#2cb17e 8.8%,#1e9b8a 10.2%,#2c738e 13.4%,#31678e 15.2%,#32648e 17.4%,#2c718e 21%,#218e8d 25.6%,#1fa188 29.9%,#23a983 34.9%,#1fa188 42.1%,#1f988b 43.2%,#2c718e 45%,#3c4f8a 47.1%,#424186 48.9%,#423f85 51.4%,#3f4788 53.2%,#39568c 54.7%,#1f968b 57.9%,#20a386 60%,#23a983 64.3%,#20a486 70.1%,#1f948c 74.4%,#2c728e 80.1%,#32648e 83.7%,#32658e 85.5%,#2e6f8e 87.3%,#25858e 89.4%,#1f9f88 91.2%,#29af7f 92.3%,#46c06f 93.4%,#95d840 95.2%,#d2e21b 96.2%,#e5e419 96.6%,#f8e621 97%,#fde725 97.3%,#fde725 99.8%)"></i><i style="background:linear-gradient(90deg,#fde725 0.2%,#fde725 4.5%,#f8e621 4.8%,#e5e419 5.2%,#d0e11c 5.6%,#95d840 6.6%,#63cb5f 7.7%,#3bbb75 8.8%,#21a585 10.2%,#1f958b 11.3%,#2c728e 14.2%,#33628d 17.4%,#31678e 20.3%,#1e9b8a 30.3%,#21a585 36%,#1f9e89 42.1%,#20928c 43.5%,#2c738e 45%,#3b518b 47.1%,#404588 48.6%,#424086 50.7%,#414287 52.2%,#3c508b 53.9%,#32648e 55.4%,#1f958b 57.9%,#1fa188 60.4%,#1fa188 69%,#21908d 73.7%,#30698e 80.5%,#33628d 84.1%,#2c718e 86.9%,#218f8d 89.4%,#20a386 90.9%,#2fb47c 91.9%,#50c46a 93%,#90d743 94.4%,#dde318 95.9%,#fde725 96.6%,#fde725 99.8%)"></i><i style="background:linear-gradient(90deg,#fde725 0.2%,#fde725 5.2%,#dde318 5.9%,#90d743 7.3%,#44bf70 9.1%,#29af7f 10.2%,#20a486 10.9%,#1f948c 12%,#2c728e 14.9%,#33638d 17%,#34608d 18.5%,#32648e 21%,#228c8d 28.5%,#1e9d89 33.2%,#1fa188 38.9%,#1f988b 42.8%,#20928c 43.5%,#31688e 45.7%,#3c4f8a 47.5%,#404588 48.9%,#414287 51.4%,#39568c 54.3%,#1f948c 57.9%,#1f9e89 60.4%,#1f9e89 67.6%,#21908d 71.9%,#33638d 80.5%,#34608d 83%,#2b748e 86.6%,#1fa287 90.1%,#2eb37c 91.2%,#5ac864 92.7%,#d5e21a 95.2%,#eae51a 95.5%,#fbe723 95.9%,#fde725 99.8%)"></i><i style="background:linear-gradient(90deg,#fde725 0.2%,#fbe723 5.9%,#e7e419 6.3%,#d5e21a 6.6%,#69cd5b 8.8%,#42be71 9.9%,#22a884 11.3%,#1f998a 12.4%,#2c718e 15.6%,#355e8d 19.2%,#33628d 22%,#21918c 31.4%,#1e9b8a 35.3%,#1e9d89 38.9%,#1f958b 42.8%,#228c8d 43.9%,#32648e 46.1%,#3b518b 47.5%,#3f4788 48.9%,#404588 51.4%,#3c508b 53.6%,#31688e 55.4%,#21908d 57.5%,#1f988b 59.3%,#1e9b8a 66.1%,#21908d 70.1%,#32648e 78.7%,#355e8d 81.9%,#33638d 83.7%,#2b748e 85.8%,#1fa187 89.4%,#2cb17e 90.5%,#56c667 91.9%,#84d44b 93%,#cde11d 94.4%,#e2e418 94.8%,#f4e61e 95.2%,#fde725 95.5%,#fde725 99.8%)"></i><i style="background:linear-gradient(90deg,#fde725 0.2%,#fde725 6.3%,#dfe318 7%,#cde11d 7.3%,#95d840 8.4%,#4ac16d 10.2%,#26ad81 11.6%,#1e9d89 12.7%,#2c718e 16.3%,#34618d 18.5%,#365c8d 20.3%,#33638d 23.8%,#20928c 33.9%,#1f998a 38.2%,#20938c 42.5%,#228c8d 43.9%,#3a538b 47.5%,#404688 50%,#3c4f8a 53.2%,#355f8d 54.7%,#218e8d 57.5%,#1f968b 60%,#1f998a 63.3%,#20928c 67.6%,#33628d 77.6%,#365c8d 80.8%,#31678e 83.7%,#1e9b8a 88.4%,#2ab07f 89.8%,#46c06f 90.9%,#7fd34e 92.3%,#dae319 94.1%,#fde725 94.8%,#fde725 99.8%)"></i><i style="background:linear-gradient(90deg,#fde725 0.2%,#fbe723 7%,#d8e219 7.7%,#60ca60 10.2%,#2cb17e 12%,#1e9c89 13.4%,#2b748e 16.7%,#33628d 18.8%,#375a8c 21.3%,#34608d 24.6%,#20928c 36%,#20928c 41.8%,#238a8d 43.9%,#355e8d 46.8%,#3c4f8a 48.2%,#3f4889 51.4%,#365c8d 54.3%,#23898e 57.2%,#20928c 59.3%,#20928c 65.1%,#26828e 69.7%,#355f8d 76.9%,#375a8c 79.7%,#30698e 83.3%,#26828e 85.8%,#1fa088 88%,#29af7f 89.1%,#5cc863 90.9%,#9bd93c 92.3%,#d2e21b 93.4%,#e5e419 93.7%,#f6e620 94.1%,#fde725 94.4%,#fde725 99.8%)"></i><i style="background:linear-gradient(90deg,#fde725 0.2%,#fde725 7.3%,#f4e61e 7.7%,#e2e418 8.1%,#d0e11c 8.4%,#7ad151 10.2%,#44bf70 11.6%,#29af7f 12.7%,#1e9b8a 14.2%,#2e6d8e 18.1%,#38598c 21.7%,#355e8d 25.6%,#23888e 34.9%,#21908d 40.7%,#25858e 44.3%,#3a538b 47.8%,#3e4989 51.1%,#39558c 53.6%,#24878e 57.2%,#21908d 60.4%,#24878e 66.5%,#365d8d 75.8%,#38598c 79.7%,#2c728e 83.7%,#1f9f88 87.3%,#2eb37c 88.7%,#58c765 90.1%,#84d44b 91.2%,#dde318 93%,#fde725 93.7%,#fde725 99.8%)"></i><i style="background:linear-gradient(90deg,#fde725 0.2%,#fde725 8.1%,#dde318 8.8%,#cde11d 9.1%,#67cc5c 11.3%,#42be71 12.4%,#28ae80 13.4%,#20a486 14.2%,#1f958b 15.2%,#30698e 19.2%,#39568c 22.8%,#365d8d 26.7%,#26818e 34.6%,#228b8d 38.2%,#228c8d 41.4%,#26818e 44.6%,#3b528b 48.2%,#3e4c8a 51.4%,#3a548c 53.2%,#27808e 56.5%,#228c8d 60%,#24868e 65.1%,#365c8d 74.7%,#39568c 78.7%,#2f6b8e 82.3%,#1fa287 86.9%,#2db27d 88%,#56c667 89.4%,#90d743 90.9%,#d8e219 92.3%,#fbe723 93%,#fde725 99.8%)"></i><i style="background:linear-gradient(90deg,#fde725 0.2%,#fde725 8.8%,#dae319 9.5%,#84d44b 11.3%,#58c765 12.4%,#2eb37c 13.8%,#1f9f88 15.2%,#2c728e 18.8%,#39558c 23.1%,#39568c 26%,#26818e 36%,#23898e 41%,#27808e 44.6%,#3a548c 48.2%,#3d4d8a 50.4%,#3a538b 52.9%,#26828e 56.8%,#23898e 60%,#277f8e 65.8%,#39568c 75.1%,#39558c 78%,#2c718e 82.3%,#1e9d89 85.8%,#2cb17e 87.3%,#60ca60 89.1%,#8ed645 90.1%,#d5e21a 91.6%,#e7e419 91.9%,#f8e621 92.3%,#fde725 92.7%,#fde725 99.8%)"></i><i style="background:linear-gradient(90deg,#fde725 0.2%,#fbe723 9.5%,#d8e219 10.2%,#90d743 11.6%,#56c667 13.1%,#2db27d 14.5%,#1f9e89 15.9%,#2f6b8e 20.3%,#3a548c 23.8%,#3a548c 26.7%,#287d8e 36.4%,#25858e 41.8%,#287c8e 45%,#39568c 48.2%,#3c4f8a 50%,#39558c 52.9%,#277e8e 56.5%,#25858e 59.3%,#27808e 64%,#39568c 73.7%,#3a538b 76.9%,#306a8e 80.8%,#1e9c89 85.1%,#2ab07f 86.6%,#46c06f 87.6%,#8bd646 89.4%,#d2e21b 90.9%,#e2e418 91.2%,#f4e61e 91.6%,#fde725 91.9%,#fde725 99.8%)"></i><i style="background:linear-gradient(90deg,#fde725 0.2%,#fde725 9.9%,#f6e620 10.2%,#d5e21a 10.9%,#8ed645 12.4%,#60ca60 13.4%,#34b679 14.9%,#1fa287 16.3%,#2c718e 20.3%,#355e8d 22.4%,#3b528b 24.9%,#39568c 28.9%,#26828e 40%,#277e8e 44.3%,#2a788e 45.3%,#39558c 48.6%,#3c508b 50%,#39568c 52.9%,#297a8e 56.1%,#26828e 58.6%,#26818e 61.8%,#39568c 72.6%,#3b528b 76.2%,#39568c 77.6%,#30698e 80.1%,#1e9c89 84.4%,#2ab07f 85.8%,#44bf70 86.9%,#89d548 88.7%,#cde11d 90.1%,#dfe318 90.5%,#fde725 91.2%,#fde725 99.8%)"></i><i style="background:linear-gradient(90deg,#fde725 0.2%,#fde725 10.6%,#f4e61e 10.9%,#e2e418 11.3%,#d0e11c 11.6%,#8bd646 13.1%,#46c06f 14.9%,#25ac82 16.3%,#1e9d89 17.4%,#33638d 22.4%,#3a548c 24.6%,#3c508b 26.3%,#39558c 29.9%,#2d718e 36%,#277f8e 41%,#29798e 45%,#39568c 48.6%,#3b518b 50.4%,#39568c 52.5%,#297a8e 56.5%,#277f8e 60.4%,#2d708e 65.4%,#39568c 71.1%,#3c508b 75.1%,#39558c 76.9%,#32658e 79%,#1e9b8a 83.7%,#29af7f 85.1%,#42be71 86.2%,#67cc5c 87.3%,#95d840 88.4%,#dde318 89.8%,#fde725 90.5%,#fde725 99.8%)"></i><i style="background:linear-gradient(90deg,#fde725 0.2%,#fde725 11.3%,#dfe318 12%,#cde11d 12.4%,#89d548 13.8%,#44bf70 15.6%,#2ab07f 16.7%,#1e9c89 18.1%,#30698e 22.4%,#39558c 24.9%,#3c4f8a 26.7%,#3b528b 30.3%,#297b8e 41%,#2b758e 45.3%,#375b8d 48.2%,#3a538b 50%,#39558c 52.2%,#2a768e 56.1%,#297b8e 60%,#2e6f8e 64.3%,#39568c 69.7%,#3c4f8a 74.4%,#39568c 76.5%,#31688e 78.7%,#1fa088 83.3%,#2fb47c 84.8%,#58c765 86.2%,#93d741 87.6%,#d8e219 89.1%,#fbe723 89.8%,#fde725 99.8%)"></i><i style="background:linear-gradient(90deg,#fde725 0.2%,#fde725 12%,#dde318 12.7%,#95d840 14.2%,#42be71 16.3%,#29af7f 17.4%,#1e9b8a 18.8%,#32658e 23.5%,#39568c 25.3%,#3d4e8a 27.4%,#39558c 32.4%,#2d708e 38.5%,#2a788e 42.1%,#2c738e 45.3%,#365c8d 48.2%,#3a548c 50.7%,#375b8d 52.9%,#2d718e 55.4%,#2a788e 59%,#2e6f8e 62.9%,#3a548c 69%,#3d4d8a 73.3%,#3a538b 75.4%,#31678e 78%,#1f9f88 82.6%,#27ad81 83.7%,#4ac16d 85.1%,#90d743 86.9%,#d5e21a 88.4%,#e7e419 88.7%,#f8e621 89.1%,#fde725 89.4%,#fde725 99.8%)"></i><i style="background:linear-gradient(90deg,#fde725 0.2%,#fbe723 12.7%,#d8e219 13.4%,#93d741 14.9%,#4cc26c 16.7%,#28ae80 18.1%,#1e9b8a 19.5%,#32648e 24.2%,#3d4d8a 27.8%,#3d4d8a 31%,#2b748e 42.5%,#2d708e 45.7%,#39568c 50%,#38598c 52.2%,#2d718e 55.7%,#2b748e 59%,#2e6f8e 61.5%,#3b528b 68.3%,#3e4c8a 72.9%,#3a548c 75.1%,#33638d 76.9%,#24868e 80.1%,#1fa287 82.3%,#35b779 83.7%,#60ca60 85.1%,#9dd93b 86.6%,#d2e21b 87.6%,#e5e419 88%,#fde725 88.7%,#fde725 99.8%)"></i><i style="background:linear-gradient(90deg,#fde725 0.2%,#fde725 13.1%,#f6e620 13.4%,#d5e21a 14.2%,#90d743 15.6%,#56c667 17%,#27ad81 18.8%,#1f9f88 19.9%,#24878e 21.7%,#34608d 25.3%,#3c508b 27.4%,#3e4989 29.9%,#3e4a89 31.7%,#2d718e 42.5%,#2e6f8e 45.3%,#38598c 49.6%,#38598c 51.4%,#2e6d8e 55.4%,#2d718e 58.6%,#3b518b 67.2%,#3e4a89 72.2%,#33628d 76.2%,#1e9d89 81.2%,#25ac82 82.3%,#46c06f 83.7%,#8bd646 85.5%,#d0e11c 86.9%,#dfe318 87.3%,#fde725 88%,#fde725 99.8%)"></i><i style="background:linear-gradient(90deg,#fde725 0.2%,#fde725 13.8%,#f4e61e 14.2%,#e2e418 14.5%,#d2e21b 14.9%,#9dd93b 15.9%,#54c568 17.7%,#2db27d 19.2%,#1f9e89 20.6%,#29798e 23.5%,#39568c 27.1%,#3f4889 30.3%,#3e4a89 33.2%,#2e6e8e 43.5%,#306a8e 46.8%,#375a8c 50%,#375b8d 51.8%,#2f6c8e 55%,#2e6d8e 58.6%,#3e4a89 67.9%,#3f4889 71.1%,#375b8d 74.7%,#1e9c89 80.5%,#2ab07f 81.9%,#44bf70 83%,#69cd5b 84.1%,#dde318 86.6%,#fde725 87.3%,#fde725 99.8%)"></i><i style="background:linear-gradient(90deg,#fde725 0.2%,#fde725 14.5%,#dfe318 15.2%,#cde11d 15.6%,#8bd646 17%,#52c569 18.5%,#2cb17e 19.9%,#1e9d89 21.3%,#33628d 26.3%,#3c508b 28.5%,#3f4788 30.6%,#3f4889 33.9%,#32658e 41.4%,#2f6c8e 46.1%,#365c8d 49.6%,#355e8d 52.2%,#2f6b8e 54.7%,#30698e 58.2%,#3e4a89 66.5%,#404688 69.7%,#3a548c 73.3%,#2a778e 76.9%,#1fa188 80.1%,#29af7f 81.2%,#5ac864 83%,#95d840 84.4%,#dae319 85.8%,#fbe723 86.6%,#fde725 99.8%)"></i><i style="background:linear-gradient(90deg,#fde725 0.2%,#fde725 15.2%,#dde318 15.9%,#98d83e 17.4%,#50c46a 19.2%,#2ab07f 20.6%,#1e9d89 22%,#34618d 27.1%,#3c4f8a 29.2%,#404588 31.7%,#3f4788 34.9%,#306a8e 45.7%,#365d8d 50%,#355e8d 51.8%,#306a8e 54.3%,#30698e 56.1%,#3f4889 65.8%,#404588 69.4%,#39568c 72.9%,#23888e 77.6%,#20a486 79.7%,#2fb47c 80.8%,#58c765 82.3%,#73d056 83%,#d5e21a 85.1%,#e7e419 85.5%,#f8e621 85.8%,#fde725 86.2%,#fde725 99.8%)"></i><i style="background:linear-gradient(90deg,#fde725 0.2%,#fde725 15.9%,#dde318 16.7%,#86d549 18.5%,#44bf70 20.3%,#2ab07f 21.3%,#1e9c89 22.8%,#23898e 24.2%,#39568c 28.9%,#404588 32.1%,#3f4788 36%,#31688e 45.3%,#355f8d 51.4%,#30698e 55.4%,#3e4a89 64.3%,#414487 68.6%,#39558c 72.2%,#24878e 76.9%,#20a486 79%,#2fb47c 80.1%,#58c765 81.5%,#81d34d 82.6%,#d5e21a 84.4%,#f6e620 85.1%,#fde725 85.5%,#fde725 99.8%)"></i><i style="background:linear-gradient(90deg,#fde725 0.2%,#fde725 16.7%,#dde318 17.4%,#77d153 19.5%,#44bf70 21%,#2ab07f 22%,#1e9b8a 23.5%,#2a768e 26.3%,#39558c 29.6%,#414487 32.8%,#404588 36%,#30698e 46.8%,#34608d 50%,#30698e 54.7%,#404688 64.7%,#414487 68.3%,#3e4a89 70.1%,#355e8d 72.6%,#24868e 76.2%,#20a386 78.3%,#2eb37c 79.4%,#58c765 80.8%,#81d34d 81.9%,#d8e219 83.7%,#f8e621 84.4%,#fde725 84.8%,#fde725 99.8%)"></i><i style="background:linear-gradient(90deg,#fde725 0.2%,#fde725 17.4%,#dde318 18.1%,#cde11d 18.5%,#77d153 20.3%,#44bf70 21.7%,#29af7f 22.8%,#1e9b8a 24.2%,#2b758e 27.1%,#3a548c 30.3%,#414287 33.9%,#3e4a89 38.5%,#31688e 46.8%,#34618d 50%,#31678e 55%,#3e4a89 62.5%,#414287 67.2%,#3f4788 69%,#39568c 71.1%,#24868e 75.4%,#20a386 77.6%,#2eb37c 78.7%,#58c765 80.1%,#a2da37 81.9%,#d8e219 83%,#fbe723 83.7%,#fde725 99.8%)"></i><i style="background:linear-gradient(90deg,#fde725 0.2%,#fde725 18.1%,#dfe318 18.8%,#cde11d 19.2%,#77d153 21%,#5cc863 21.7%,#29af7f 23.5%,#1fa088 24.6%,#24878e 26.3%,#39568c 30.6%,#414287 34.2%,#414287 36.7%,#32658e 46.1%,#33628d 51.1%,#31678e 53.9%,#3e4a89 61.8%,#424186 66.1%,#3f4889 68.6%,#39558c 70.4%,#25858e 74.7%,#1fa287 76.9%,#2eb37c 78%,#58c765 79.4%,#93d741 80.8%,#dae319 82.3%,#fbe723 83%,#fde725 99.8%)"></i><i style="background:linear-gradient(90deg,#fde725 0.2%,#fde725 18.8%,#dfe318 19.5%,#d0e11c 19.9%,#69cd5b 22%,#38b977 23.5%,#20a486 24.9%,#24868e 27.1%,#39558c 31.4%,#424186 34.9%,#3f4788 39.2%,#31668e 47.5%,#32658e 54.3%,#414287 63.6%,#424186 66.1%,#3a548c 69.7%,#2c728e 72.6%,#1e9d89 75.8%,#26ad81 76.9%,#4ac16d 78.3%,#73d056 79.4%,#b8de29 80.8%,#dae319 81.5%,#fde725 82.3%,#fde725 99.8%)"></i><i style="background:linear-gradient(90deg,#fde725 0.2%,#fde725 19.5%,#f4e61e 19.9%,#e2e418 20.3%,#d0e11c 20.6%,#69cd5b 22.8%,#38b977 24.2%,#20a486 25.6%,#25858e 27.8%,#3a548c 32.1%,#404588 34.2%,#424086 36.4%,#414287 38.5%,#32658e 47.8%,#32648e 53.9%,#404688 61.5%,#424186 65.8%,#39568c 69.4%,#23888e 73.7%,#1e9d89 75.1%,#26ad81 76.2%,#4ac16d 77.6%,#73d056 78.7%,#cae11f 80.5%,#dae319 80.8%,#fde725 81.5%,#fde725 99.8%)"></i><i style="background:linear-gradient(90deg,#fde725 0.2%,#fde725 20.3%,#f4e61e 20.6%,#e2e418 21%,#d0e11c 21.3%,#89d548 22.8%,#4ec36b 24.2%,#2fb47c 25.3%,#20a386 26.3%,#25848e 28.5%,#39568c 32.4%,#424086 36.4%,#414287 39.2%,#32648e 48.2%,#33638d 53.6%,#414287 61.8%,#424086 65.1%,#39558c 68.6%,#23888e 72.9%,#1e9c89 74.4%,#26ad81 75.4%,#4ac16d 76.9%,#73d056 78%,#dde318 80.1%,#fde725 80.8%,#fde725 99.8%)"></i><i style="background:linear-gradient(90deg,#fde725 0.2%,#fde725 21%,#f6e620 21.3%,#e5e419 21.7%,#d2e21b 22%,#89d548 23.5%,#4ec36b 24.9%,#27ad81 26.3%,#20a386 27.1%,#23898e 28.9%,#39558c 33.2%,#404588 35.3%,#423f85 37.5%,#414287 40%,#355e8d 46.8%,#32648e 49.6%,#365d8d 54.7%,#424186 61.5%,#424086 64.7%,#3a548c 67.9%,#24878e 72.2%,#1e9c89 73.7%,#25ac82 74.7%,#56c667 76.5%,#84d44b 77.6%,#bade28 78.7%,#dde318 79.4%,#fde725 80.1%,#fde725 99.8%)"></i><i style="background:linear-gradient(90deg,#fde725 0.2%,#fde725 21.7%,#f8e621 22%,#e5e419 22.4%,#d2e21b 22.8%,#69cd5b 24.9%,#4ec36b 25.6%,#2eb37c 26.7%,#1fa287 27.8%,#23888e 29.6%,#3a548c 33.9%,#423f85 37.5%,#414287 41%,#355e8d 47.5%,#32648e 50.4%,#365c8d 54.3%,#414287 60.4%,#423f85 63.6%,#3a538b 67.2%,#1e9b8a 72.9%,#25ac82 74%,#34b679 74.7%,#56c667 75.8%,#84d44b 76.9%,#cde11d 78.3%,#dfe318 78.7%,#fde725 79.4%,#fde725 99.8%)"></i><i style="background:linear-gradient(90deg,#fde725 0.2%,#fde725 22.4%,#f8e621 22.8%,#e7e419 23.1%,#d5e21a 23.5%,#69cd5b 25.6%,#4ec36b 26.3%,#27ad81 27.8%,#1e9d89 28.9%,#355f8d 33.5%,#424186 37.1%,#424086 41%,#355e8d 48.2%,#33638d 50.7%,#414287 59.7%,#433e85 62.5%,#414287 64.3%,#3b528b 66.5%,#2c728e 69.4%,#1fa188 72.6%,#2cb17e 73.7%,#56c667 75.1%,#84d44b 76.2%,#cde11d 77.6%,#dfe318 78%,#f4e61e 78.3%,#fde725 78.7%,#fde725 99.8%)"></i><i style="background:linear-gradient(90deg,#fde725 0.2%,#fbe723 23.5%,#eae51a 23.8%,#d5e21a 24.2%,#69cd5b 26.3%,#40bd72 27.4%,#26ad81 28.5%,#1e9c89 29.6%,#31668e 33.5%,#3b528b 35.3%,#424086 37.8%,#423f85 41.4%,#33628d 50.7%,#414287 58.6%,#433e85 62.5%,#3b518b 65.8%,#25858e 70.1%,#1fa088 71.9%,#2ab07f 72.9%,#56c667 74.4%,#86d549 75.4%,#d0e11c 76.9%,#e2e418 77.2%,#f4e61e 77.6%,#fde725 78%,#fde725 99.8%)"></i><i style="background:linear-gradient(90deg,#fde725 0.2%,#fbe723 24.2%,#d8e219 24.9%,#69cd5b 27.1%,#40bd72 28.1%,#26ad81 29.2%,#1e9c89 30.3%,#34618d 34.6%,#424186 38.2%,#433e85 41.8%,#34608d 50.7%,#414287 57.9%,#433d84 61.5%,#414287 63.3%,#3c508b 65.1%,#25848e 69.4%,#1fa088 71.1%,#2ab07f 72.2%,#56c667 73.7%,#86d549 74.7%,#d0e11c 76.2%,#e5e419 76.5%,#f6e620 76.9%,#fde725 77.2%,#fde725 99.8%)"></i><i style="background:linear-gradient(90deg,#fde725 0.2%,#fbe723 24.2%,#d8e219 24.9%,#69cd5b 27.1%,#40bd72 28.1%,#26ad81 29.2%,#1e9c89 30.3%,#34618d 34.6%,#424186 38.2%,#433e85 41.8%,#34608d 50.7%,#414287 57.9%,#433d84 61.5%,#414287 63.3%,#3c508b 65.1%,#25848e 69.4%,#1fa088 71.1%,#2ab07f 72.2%,#56c667 73.7%,#86d549 74.7%,#d0e11c 76.2%,#e5e419 76.5%,#f6e620 76.9%,#fde725 77.2%,#fde725 99.8%)"></i><i style="background:linear-gradient(90deg,#fde725 0.2%,#fbe723 24.2%,#d8e219 24.9%,#69cd5b 27.1%,#40bd72 28.1%,#26ad81 29.2%,#1e9c89 30.3%,#34618d 34.6%,#424186 38.2%,#433e85 41.8%,#34608d 50.7%,#414287 57.9%,#433d84 61.5%,#414287 63.3%,#3c508b 65.1%,#25848e 69.4%,#1fa088 71.1%,#2ab07f 72.2%,#56c667 73.7%,#86d549 74.7%,#d0e11c 76.2%,#e5e419 76.5%,#f6e620 76.9%,#fde725 77.2%,#fde725 99.8%)"></i></div></div>
<div class="hw" style="left:762px;top:69px"><div class="hm"><i style="background:linear-gradient(90deg,#f6e620 0.2%,#f4e61e 31%,#dfe318 33.2%,#c2df23 34.9%,#50c46a 41.4%,#29af7f 42.5%,#1e9c89 43.2%,#2c738e 45%,#3a548c 47.1%,#3f4889 48.9%,#404688 51.1%,#3c508b 53.6%,#34608d 55%,#2a778e 56.5%,#1fa287 58.2%,#25ac82 58.6%,#40bd72 59.3%,#5ac864 60.4%,#cde11d 66.8%,#e7e419 68.6%,#f6e620 70.8%,#f8e621 99.8%)"></i><i style="background:linear-gradient(90deg,#f6e620 0.2%,#f4e61e 31%,#dfe318 33.2%,#c2df23 34.9%,#50c46a 41.4%,#29af7f 42.5%,#1e9c89 43.2%,#2c738e 45%,#3a548c 47.1%,#3f4889 48.9%,#404688 51.1%,#3c508b 53.6%,#34608d 55%,#2a778e 56.5%,#1fa287 58.2%,#25ac82 58.6%,#40bd72 59.3%,#5ac864 60.4%,#cde11d 66.8%,#e7e419 68.6%,#f6e620 70.8%,#f8e621 99.8%)"></i><i style="background:linear-gradient(90deg,#f6e620 0.2%,#f4e61e 31%,#dfe318 33.2%,#c2df23 34.9%,#50c46a 41.4%,#29af7f 42.5%,#1e9c89 43.2%,#2c738e 45%,#3a548c 47.1%,#3f4889 48.9%,#404688 51.1%,#3c508b 53.6%,#34608d 55%,#2a778e 56.5%,#1fa287 58.2%,#25ac82 58.6%,#40bd72 59.3%,#5ac864 60.4%,#cde11d 66.8%,#e7e419 68.6%,#f6e620 70.8%,#f8e621 99.8%)"></i><i style="background:linear-gradient(90deg,#ece51b 0.2%,#efe51c 29.6%,#eae51a 31%,#dde318 32.4%,#c5e021 34.2%,#56c667 41%,#28ae80 42.5%,#1e9b8a 43.2%,#2c718e 45%,#3a538b 47.1%,#3f4889 48.6%,#404588 51.4%,#39558c 54.3%,#2a768e 56.5%,#1fa188 58.2%,#25ab82 58.6%,#3fbc73 59.3%,#5ac864 60.4%,#d0e11c 67.6%,#ece51b 70.8%,#efe51c 99.8%)"></i><i style="background:linear-gradient(90deg,#e2e418 0.2%,#e2e418 30.3%,#d8e219 32.1%,#c8e020 33.5%,#5ac864 40.7%,#42be71 41.8%,#27ad81 42.5%,#1f998a 43.2%,#2a778e 44.6%,#39558c 46.8%,#3f4788 48.6%,#414487 51.8%,#3e4a89 53.2%,#365d8d 55%,#287c8e 56.8%,#1fa088 58.2%,#24aa83 58.6%,#3dbc74 59.3%,#52c569 60%,#c0df25 67.2%,#d8e219 69.4%,#e5e419 71.9%,#e2e418 99.8%)"></i><i style="background:linear-gradient(90deg,#d5e21a 0.2%,#dae319 2.3%,#dae319 29.2%,#cde11d 32.1%,#b5de2b 34.2%,#86d549 37.5%,#54c568 41%,#40bd72 41.8%,#1fa287 42.8%,#2a768e 44.6%,#3a548c 46.8%,#3f4788 48.2%,#424186 50%,#414287 51.8%,#3a538b 54.3%,#2c738e 56.5%,#1f9f88 58.2%,#23a983 58.6%,#3bbb75 59.3%,#58c765 60.4%,#bddf26 67.6%,#d5e21a 70.4%,#dae319 72.2%,#d8e219 99.8%)"></i><i style="background:linear-gradient(90deg,#cae11f 0.2%,#d0e11c 3%,#d0e11c 28.9%,#c0df25 32.4%,#86d549 37.1%,#4cc26c 41.4%,#25ab82 42.5%,#1fa188 42.8%,#25848e 43.9%,#365c8d 46.1%,#3f4889 47.8%,#424086 49.6%,#414287 52.2%,#3b518b 54.3%,#2c728e 56.5%,#1f9e89 58.2%,#22a884 58.6%,#3bbb75 59.3%,#50c46a 60%,#5ac864 60.8%,#b0dd2f 67.2%,#cae11f 70.4%,#d0e11c 72.2%,#cde11d 99.8%)"></i><i style="background:linear-gradient(90deg,#bddf26 0.2%,#c5e021 3.4%,#c5e021 28.5%,#b8de29 32.1%,#86d549 36.7%,#52c569 41%,#3fbc73 41.8%,#24aa83 42.5%,#1fa088 42.8%,#2c738e 44.6%,#39558c 46.4%,#3e4989 47.5%,#423f85 49.6%,#423f85 51.8%,#3f4889 53.6%,#32648e 55.7%,#1e9c89 58.2%,#21a685 58.6%,#3aba76 59.3%,#50c46a 60%,#5ac864 60.8%,#aadc32 67.6%,#c0df25 70.8%,#c5e021 75.4%,#c5e021 97.7%,#c0df25 99.8%)"></i><i style="background:linear-gradient(90deg,#b2dd2d 0.2%,#bade28 4.1%,#b8de29 29.6%,#a5db36 33.2%,#69cd5b 38.9%,#52c569 41%,#3dbc74 41.8%,#23a983 42.5%,#1f9f88 42.8%,#2c728e 44.6%,#3a548c 46.4%,#414287 48.2%,#433d84 51.1%,#414287 52.9%,#3a538b 54.7%,#2a778e 56.8%,#1e9b8a 58.2%,#29af7f 59%,#46c06f 59.7%,#54c568 60.4%,#73d056 63.3%,#9dd93b 67.2%,#b8de29 71.5%,#bade28 97%,#b5de2b 99.8%)"></i><i style="background:linear-gradient(90deg,#a5db36 0.2%,#b0dd2f 4.8%,#addc30 29.6%,#93d741 34.2%,#63cb5f 39.2%,#48c16e 41.4%,#22a884 42.5%,#1e9d89 42.8%,#2c718e 44.6%,#38588c 46.1%,#424186 48.2%,#443b84 49.6%,#443b84 51.4%,#3e4989 53.9%,#31688e 56.1%,#1f9a8a 58.2%,#28ae80 59%,#44bf70 59.7%,#54c568 60.4%,#5ac864 61.1%,#9bd93c 67.9%,#a8db34 70.1%,#b0dd2f 73.3%,#b0dd2f 96.6%,#a8db34 99.8%)"></i><i style="background:linear-gradient(90deg,#98d83e 0.2%,#a5db36 5.6%,#a5db36 27.4%,#98d83e 32.1%,#5ac864 40%,#48c16e 41.4%,#2cb17e 42.1%,#1e9c89 42.8%,#33628d 45.3%,#404588 47.5%,#443a83 49.6%,#443a83 51.8%,#424186 53.2%,#3a548c 55%,#2b748e 56.8%,#1f988b 58.2%,#27ad81 59%,#44bf70 59.7%,#52c569 60.4%,#93d741 68.3%,#a5db36 73.7%,#a5db36 95.9%,#9dd93b 99.8%)"></i><i style="background:linear-gradient(90deg,#89d548 0.2%,#93d741 2%,#9bd93c 5.9%,#9bd93c 28.1%,#93d741 31.7%,#84d44b 34.6%,#52c569 40.7%,#46c06f 41.4%,#2ab07f 42.1%,#1e9b8a 42.8%,#2a768e 44.3%,#3f4788 47.1%,#443a83 48.9%,#453882 51.1%,#414287 53.6%,#3a538b 55%,#2c738e 56.8%,#1fa187 58.6%,#26ad81 59%,#42be71 59.7%,#52c569 60.4%,#89d548 67.6%,#9bd93c 73.3%,#9bd93c 95.2%,#90d743 99.8%)"></i><i style="background:linear-gradient(90deg,#7cd250 0.2%,#89d548 2.7%,#90d743 6.6%,#90d743 29.2%,#84d44b 33.9%,#52c569 40.7%,#46c06f 41.4%,#38b977 41.8%,#20a486 42.5%,#1f9a8a 42.8%,#31668e 45%,#3e4a89 46.8%,#443a83 48.6%,#453781 51.4%,#443b84 52.9%,#3b528b 55%,#2c728e 56.8%,#1fa188 58.6%,#32b67a 59.3%,#4cc26c 60%,#52c569 60.4%,#7fd34e 66.5%,#8ed645 70.4%,#90d743 94.4%,#84d44b 99.8%)"></i><i style="background:linear-gradient(90deg,#70cf57 0.2%,#7fd34e 3%,#86d549 7.3%,#86d549 29.9%,#7ad151 34.9%,#52c569 40.7%,#4ec36b 41%,#37b878 41.8%,#27ad81 42.1%,#1f988b 42.8%,#355e8d 45.3%,#424086 47.5%,#453581 49.6%,#453581 51.8%,#423f85 53.6%,#3c508b 55%,#2d718e 56.8%,#1fa088 58.6%,#24aa83 59%,#40bd72 59.7%,#58c765 61.1%,#7cd250 66.8%,#86d549 71.1%,#86d549 94.1%,#77d153 99.8%)"></i><i style="background:linear-gradient(90deg,#63cb5f 0.2%,#75d054 3.4%,#7fd34e 7.7%,#7fd34e 31.4%,#73d056 35.7%,#52c569 40.7%,#44bf70 41.4%,#27ad81 42.1%,#1f988b 42.8%,#2c738e 44.3%,#3f4889 46.8%,#453882 48.6%,#463480 51.4%,#3e4a89 54.7%,#30698e 56.5%,#1f9f88 58.6%,#24aa83 59%,#3fbc73 59.7%,#50c46a 60.4%,#5ac864 61.5%,#73d056 65.4%,#7fd34e 70.1%,#7fd34e 93.4%,#73d056 98.4%,#69cd5b 99.8%)"></i><i style="background:linear-gradient(90deg,#52c569 0.2%,#73d056 5.6%,#7cd250 14.5%,#7ad151 32.1%,#6ece58 36.4%,#52c569 40.7%,#4ec36b 41%,#37b878 41.8%,#28ae80 42.1%,#1f998a 42.8%,#32658e 45%,#3f4889 46.8%,#453581 49.3%,#463480 51.1%,#423f85 53.6%,#3c508b 55%,#2c718e 56.8%,#1fa088 58.6%,#32b67a 59.3%,#4cc26c 60%,#50c46a 60.4%,#73d056 66.1%,#7cd250 74%,#7ad151 92.3%,#73d056 95.9%,#5cc863 99.8%)"></i><i style="background:linear-gradient(90deg,#42be71 0.2%,#6ccd5a 5.9%,#75d054 9.9%,#75d054 32.8%,#6ccd5a 36.4%,#5ac864 39.6%,#46c06f 41.4%,#29af7f 42.1%,#1f9a8a 42.8%,#2b748e 44.3%,#3f4889 46.8%,#443983 48.6%,#453581 51.8%,#424086 53.6%,#39568c 55.4%,#2c718e 56.8%,#1fa188 58.6%,#32b67a 59.3%,#4cc26c 60%,#50c46a 60.4%,#69cd5b 64.3%,#73d056 67.2%,#77d153 86.9%,#6ccd5a 95.2%,#4cc26c 99.8%)"></i><i style="background:linear-gradient(90deg,#32b67a 0.2%,#63cb5f 6.3%,#6ece58 9.5%,#73d056 14.5%,#70cf57 33.5%,#65cb5e 37.5%,#52c569 40.7%,#46c06f 41.4%,#38b977 41.8%,#21a585 42.5%,#1f9a8a 42.8%,#31668e 45%,#3e4989 46.8%,#443983 48.6%,#453581 51.4%,#443a83 52.9%,#39568c 55.4%,#297a8e 57.2%,#1fa187 58.6%,#26ad81 59%,#42be71 59.7%,#50c46a 60.4%,#63cb5f 63.3%,#70cf57 67.9%,#73d056 86.9%,#65cb5e 94.4%,#3dbc74 99.8%)"></i><i style="background:linear-gradient(90deg,#27ad81 0.2%,#54c568 5.9%,#65cb5e 9.1%,#6ccd5a 12.4%,#6ece58 31.7%,#6ccd5a 34.2%,#5ac864 39.2%,#4ec36b 41%,#46c06f 41.4%,#2ab07f 42.1%,#1e9b8a 42.8%,#2b758e 44.3%,#3e4989 46.8%,#443b84 48.2%,#453581 51.4%,#424086 53.6%,#3b528b 55%,#2c728e 56.8%,#1fa287 58.6%,#35b779 59.3%,#4cc26c 60%,#52c569 60.8%,#63cb5f 63.6%,#6ece58 69.4%,#6ccd5a 89.1%,#63cb5f 92.7%,#52c569 95.5%,#2eb37c 99.8%)"></i><i style="background:linear-gradient(90deg,#20a486 0.2%,#2ab07f 2.7%,#48c16e 6.3%,#5ec962 9.9%,#67cc5c 13.4%,#69cd5b 32.8%,#63cb5f 36.7%,#52c569 40.3%,#4cc26c 41%,#3bbb75 41.8%,#22a785 42.5%,#1e9c89 42.8%,#31678e 45%,#3e4a89 46.8%,#443a83 48.6%,#453581 51.1%,#443b84 52.9%,#3b528b 55%,#2c738e 56.8%,#1fa287 58.6%,#35b779 59.3%,#4cc26c 60%,#52c569 60.8%,#63cb5f 64.3%,#69cd5b 68.6%,#67cc5c 88%,#54c568 93.4%,#24aa83 99.8%)"></i><i style="background:linear-gradient(90deg,#1e9b8a 0.2%,#26ad81 3.8%,#48c16e 8.1%,#56c667 10.2%,#63cb5f 14.5%,#65cb5e 33.5%,#52c569 40.3%,#4cc26c 41%,#3bbb75 41.8%,#22a785 42.5%,#1e9d89 42.8%,#2a768e 44.3%,#3e4a89 46.8%,#443a83 48.6%,#453781 51.4%,#443b84 52.9%,#3b528b 55%,#2c738e 56.8%,#1f998a 58.2%,#28ae80 59%,#44bf70 59.7%,#52c569 61.1%,#65cb5e 67.6%,#63cb5f 86.6%,#58c765 90.5%,#46c06f 93.4%,#29af7f 97%,#1fa188 99.8%)"></i><i style="background:linear-gradient(90deg,#20938c 0.2%,#23a983 4.8%,#3aba76 8.1%,#54c568 12%,#5ec962 15.6%,#60ca60 34.6%,#52c569 40%,#46c06f 41.4%,#22a884 42.5%,#1e9d89 42.8%,#2a778e 44.3%,#3e4a89 46.8%,#443a83 48.6%,#453781 51.4%,#424186 53.6%,#3a538b 55%,#2b748e 56.8%,#1f998a 58.2%,#29af7f 59%,#44bf70 59.7%,#52c569 61.1%,#60ca60 66.8%,#5ec962 85.5%,#56c667 88.7%,#46c06f 91.6%,#25ac82 95.9%,#1f978b 99.8%)"></i><i style="background:linear-gradient(90deg,#228c8d 0.2%,#1f958b 3%,#22a884 6.3%,#3aba76 9.9%,#52c569 13.8%,#5cc863 18.8%,#5cc863 35.3%,#50c46a 40.3%,#46c06f 41.4%,#3dbc74 41.8%,#23a983 42.5%,#1f9e89 42.8%,#2d708e 44.6%,#3f4788 47.1%,#443983 48.9%,#453781 51.1%,#443a83 52.5%,#3e4989 54.3%,#31668e 56.1%,#1f9a8a 58.2%,#2ab07f 59%,#44bf70 59.7%,#52c569 61.5%,#5cc863 65.8%,#5ac864 84.4%,#4ec36b 88.4%,#22a884 94.8%,#218f8d 99.8%)"></i><i style="background:linear-gradient(90deg,#25858e 0.2%,#23898e 2.3%,#1fa187 7%,#32b67a 10.6%,#50c46a 15.6%,#5ac864 25.3%,#58c765 35.7%,#50c46a 39.2%,#44bf70 41.4%,#2fb47c 42.1%,#1f9f88 42.8%,#2a788e 44.3%,#3c508b 46.4%,#443b84 48.6%,#453781 50.7%,#443983 52.2%,#3e4a89 54.3%,#2b758e 56.8%,#1e9b8a 58.2%,#21a685 58.6%,#38b977 59.3%,#46c06f 60%,#50c46a 61.8%,#5ac864 70.4%,#58c765 81.5%,#50c46a 85.5%,#3dbc74 89.1%,#20a486 93.7%,#24868e 99.8%)"></i><i style="background:linear-gradient(90deg,#27808e 0.2%,#25848e 3.4%,#1fa287 8.8%,#32b67a 12.4%,#48c16e 15.9%,#52c569 19.2%,#56c667 24.9%,#54c568 35.7%,#48c16e 40.3%,#3aba76 41.8%,#1fa088 42.8%,#29798e 44.3%,#39568c 46.1%,#424086 47.8%,#453882 49.6%,#443b84 52.5%,#3e4a89 54.3%,#31678e 56.1%,#1e9c89 58.2%,#21a685 58.6%,#37b878 59.3%,#48c16e 60.8%,#52c569 64%,#56c667 69%,#54c568 80.5%,#48c16e 85.1%,#31b57b 89.1%,#1fa188 92.7%,#24868e 97.3%,#27808e 99.8%)"></i><i style="background:linear-gradient(90deg,#297b8e 0.2%,#287d8e 3.8%,#1fa287 10.6%,#32b67a 14.2%,#46c06f 17.7%,#52c569 25.3%,#52c569 33.2%,#48c16e 39.6%,#3fbc73 41.4%,#38b977 41.8%,#1fa088 42.8%,#2c718e 44.6%,#3f4889 47.1%,#443a83 48.9%,#453882 51.4%,#414287 53.6%,#3a548c 55%,#2a768e 56.8%,#1e9c89 58.2%,#2cb17e 59%,#3dbc74 59.7%,#4ac16d 62.2%,#50c46a 65.1%,#52c569 75.8%,#48c16e 83%,#31b57b 87.3%,#1fa187 90.9%,#25838e 95.9%,#297a8e 99.8%)"></i><i style="background:linear-gradient(90deg,#29798e 0.2%,#29798e 4.5%,#1fa287 12%,#3dbc74 17.7%,#4cc26c 24.2%,#48c16e 37.8%,#38b977 41.8%,#26ad81 42.5%,#1f998a 43.2%,#2b748e 44.6%,#3e4a89 47.1%,#443b84 49.3%,#443a83 51.4%,#414287 53.2%,#3b528b 54.7%,#2c718e 56.5%,#1f958b 57.9%,#1fa088 58.2%,#2db27d 59%,#3dbc74 60%,#4cc26c 66.1%,#4cc26c 76.9%,#3dbc74 83.3%,#1fa187 89.4%,#287c8e 95.9%,#2a778e 99.8%)"></i><i style="background:linear-gradient(90deg,#297b8e 0.2%,#2b748e 2.3%,#29798e 5.9%,#1fa287 13.1%,#2fb47c 16.7%,#3dbc74 19.9%,#46c06f 27.1%,#46c06f 35.3%,#3dbc74 40%,#31b57b 42.1%,#1f9e89 43.2%,#2a788e 44.6%,#3e4a89 47.5%,#423f85 49.3%,#433e85 51.1%,#424186 52.5%,#39568c 54.7%,#2a768e 56.5%,#1f9a8a 57.9%,#20a486 58.2%,#2fb47c 59%,#37b878 59.7%,#46c06f 65.8%,#46c06f 76.2%,#3dbc74 81.5%,#1fa287 88%,#2a788e 95.5%,#2a768e 99.8%)"></i><i style="background:linear-gradient(90deg,#287d8e 0.2%,#2c728e 3%,#2b758e 6.3%,#1e9d89 13.4%,#2db27d 17.7%,#3aba76 21%,#40bd72 25.6%,#3dbc74 38.2%,#2fb47c 42.1%,#25ab82 42.8%,#1f988b 43.5%,#2b758e 45%,#39568c 46.8%,#404688 48.6%,#424186 51.1%,#3e4a89 53.2%,#375a8c 54.7%,#2c728e 56.1%,#1f958b 57.5%,#29af7f 58.6%,#31b57b 59.3%,#3fbc73 64%,#40bd72 75.8%,#32b67a 82.3%,#1e9c89 88%,#2a778e 94.4%,#2c728e 96.2%,#2a778e 99.8%)"></i><i style="background:linear-gradient(90deg,#26818e 0.2%,#2c718e 3.4%,#2c718e 6.3%,#297a8e 8.8%,#1e9c89 14.5%,#32b67a 21%,#3bbb75 26.3%,#3aba76 37.5%,#2ab07f 42.5%,#1e9d89 43.5%,#29798e 45%,#39568c 47.1%,#3f4889 48.9%,#404688 51.4%,#3a548c 53.9%,#2d708e 55.7%,#1f9a8a 57.5%,#24aa83 58.2%,#2eb37c 59.3%,#3aba76 64%,#3bbb75 75.1%,#32b67a 80.5%,#1e9d89 86.6%,#26828e 90.9%,#2c718e 94.8%,#2c718e 97.7%,#29798e 99.8%)"></i><i style="background:linear-gradient(90deg,#25848e 0.2%,#2c718e 3.4%,#2e6f8e 7%,#29798e 9.9%,#1e9d89 15.9%,#2fb47c 22%,#37b878 26.7%,#32b67a 39.2%,#25ac82 42.8%,#1f988b 43.9%,#2a768e 45.3%,#39568c 47.5%,#3e4a89 49.3%,#3e4989 51.4%,#365d8d 54.3%,#2b748e 55.7%,#1f948c 57.2%,#25ab82 58.2%,#29af7f 59%,#37b878 65.4%,#37b878 74.4%,#2db27d 80.1%,#1e9c89 85.5%,#2c718e 93.4%,#2e6f8e 96.6%,#287c8e 99.8%)"></i><i style="background:linear-gradient(90deg,#238a8d 0.2%,#2c718e 3.8%,#2f6c8e 7%,#2c718e 9.5%,#1e9c89 17%,#26ad81 21%,#32b67a 27.4%,#2fb47c 38.5%,#22a884 43.2%,#1e9c89 43.9%,#2c738e 45.7%,#355e8d 47.1%,#3a538b 48.2%,#3d4d8a 50%,#3c4f8a 52.2%,#34618d 54.3%,#2c718e 55.4%,#1f998a 57.2%,#24aa83 58.2%,#2fb47c 62.5%,#32b67a 73.7%,#29af7f 79.4%,#1e9b8a 84.4%,#2b758e 90.9%,#2e6d8e 93.4%,#2c728e 97.7%,#27808e 99.8%)"></i><i style="background:linear-gradient(90deg,#21918c 0.2%,#2c718e 4.1%,#306a8e 8.1%,#2c728e 10.9%,#1e9b8a 18.1%,#26ad81 22.8%,#2eb37c 28.1%,#2db27d 37.8%,#22a785 43.2%,#1f978b 44.3%,#31668e 46.8%,#39558c 48.6%,#3c508b 50%,#3b528b 52.2%,#34608d 53.9%,#2b758e 55.4%,#1f948c 56.8%,#21a685 57.9%,#2cb17e 62.5%,#2eb37c 72.9%,#26ad81 78.3%,#1e9c89 83%,#2b748e 89.8%,#306a8e 93%,#2e6e8e 96.2%,#25858e 99.8%)"></i><i style="background:linear-gradient(90deg,#1f978b 0.2%,#2c728e 4.5%,#31688e 9.1%,#2c718e 12%,#1f948c 18.1%,#25ac82 24.2%,#2ab07f 28.9%,#26ad81 40%,#1fa088 43.9%,#32658e 47.1%,#39568c 48.9%,#3a538b 50.4%,#39568c 52.2%,#34608d 53.6%,#29798e 55.4%,#1f9e89 57.2%,#26ad81 61.1%,#2ab07f 72.2%,#25ac82 76.9%,#1f948c 83%,#2c718e 89.1%,#31688e 92.3%,#2c718e 96.6%,#228b8d 99.8%)"></i><i style="background:linear-gradient(90deg,#1f9f88 0.2%,#2c738e 4.8%,#31668e 8.1%,#31668e 9.9%,#2c728e 13.4%,#1f958b 19.5%,#22a884 24.6%,#26ad81 28.1%,#24aa83 40.3%,#1f9f88 43.9%,#30698e 47.1%,#38588c 49.6%,#34608d 53.2%,#2d718e 54.7%,#20928c 56.5%,#1fa188 57.5%,#25ac82 62.2%,#23a983 76.2%,#1e9b8a 80.5%,#2c728e 87.6%,#31668e 91.2%,#31688e 94.1%,#2c728e 96.2%,#20928c 99.8%)"></i><i style="background:linear-gradient(90deg,#22a785 0.2%,#1e9b8a 1.3%,#2c728e 5.6%,#32648e 8.8%,#30698e 12.7%,#1f958b 21%,#21a585 25.3%,#25ab82 30.3%,#22a785 40.3%,#1f9e89 43.9%,#31688e 47.5%,#375b8d 50%,#365d8d 52.2%,#31678e 53.6%,#1e9d89 57.2%,#24aa83 62.9%,#24aa83 72.6%,#1fa188 77.6%,#1f948c 80.5%,#2c718e 86.6%,#32648e 90.1%,#2f6b8e 94.4%,#26828e 97.7%,#1f998a 99.8%)"></i><i style="background:linear-gradient(90deg,#2ab07f 0.2%,#1fa287 1.3%,#2a768e 5.6%,#32658e 8.4%,#34618d 10.9%,#30698e 14.2%,#1f948c 22%,#1fa088 24.9%,#22a884 36.4%,#1e9c89 43.9%,#1f978b 44.6%,#31688e 47.8%,#355e8d 50%,#31678e 53.2%,#21918c 56.1%,#1e9b8a 57.2%,#22a884 64.3%,#1fa188 75.8%,#218e8d 80.5%,#31688e 87.3%,#34618d 90.5%,#31668e 93%,#2b758e 95.5%,#1fa187 99.8%)"></i><i style="background:linear-gradient(90deg,#38b977 0.2%,#1fa287 2%,#2c728e 6.6%,#33628d 9.5%,#355f8d 11.3%,#31688e 15.2%,#218e8d 22%,#1f9e89 26%,#21a585 31.7%,#20a486 38.5%,#1f988b 44.3%,#218f8d 45.3%,#2e6f8e 47.5%,#34618d 50%,#32658e 52.5%,#2c718e 53.9%,#1f958b 56.5%,#1fa188 60%,#1fa188 73.7%,#21918c 78.7%,#32648e 86.9%,#355f8d 90.1%,#2c718e 94.4%,#1f948c 98%,#24aa83 99.8%)"></i><i style="background:linear-gradient(90deg,#4cc26c 0.2%,#2ab07f 1.6%,#1f9f88 3%,#2c728e 7.3%,#355e8d 11.3%,#33638d 15.2%,#1e9b8a 26.3%,#20a486 33.5%,#1fa188 40.3%,#1f978b 44.3%,#21918c 45.3%,#2c728e 47.5%,#32658e 49.6%,#2f6b8e 52.9%,#1f958b 56.5%,#1f9f88 59.7%,#20a486 65.1%,#1fa188 72.2%,#20928c 77.2%,#33628d 86.2%,#355e8d 89.8%,#2c718e 93.7%,#1e9d89 98%,#2fb47c 99.8%)"></i><i style="background:linear-gradient(90deg,#65cb5e 0.2%,#32b67a 2%,#20a386 3.4%,#218f8d 5.2%,#306a8e 9.1%,#365c8d 13.1%,#32648e 16.7%,#1e9b8a 27.4%,#20a386 34.9%,#1fa188 40.3%,#1f968b 44.6%,#2d708e 48.2%,#31688e 50.4%,#2e6f8e 52.9%,#21918c 55.7%,#1f9f88 59.7%,#1fa188 71.1%,#218f8d 76.9%,#34608d 85.5%,#365c8d 88.4%,#34618d 90.5%,#2c718e 93%,#1fa287 97.7%,#29af7f 98.7%,#40bd72 99.8%)"></i><i style="background:linear-gradient(90deg,#84d44b 0.2%,#67cc5c 0.9%,#3bbb75 2.3%,#20a486 4.1%,#2c728e 8.8%,#34618d 11.3%,#375b8d 13.4%,#33628d 17.4%,#1e9b8a 28.5%,#20a386 34.6%,#1fa188 40.3%,#1f968b 44.6%,#21908d 45.7%,#2c738e 48.2%,#2f6c8e 50.4%,#2c728e 52.9%,#1f948c 56.1%,#1f9f88 59.7%,#1fa188 70.1%,#21918c 75.4%,#34618d 84.1%,#375b8d 87.6%,#33628d 90.1%,#2e6e8e 91.9%,#1fa287 97%,#31b57b 98.4%,#58c765 99.8%)"></i><i style="background:linear-gradient(90deg,#a5db36 0.2%,#69cd5b 1.6%,#3dbc74 3%,#28ae80 4.1%,#1e9c89 5.6%,#2c718e 9.5%,#34608d 12%,#375a8c 14.2%,#33628d 18.5%,#1f968b 28.1%,#1fa287 34.6%,#1fa188 40.3%,#1f968b 44.6%,#20928c 45.7%,#2a778e 48.2%,#2d708e 50%,#2c728e 52.2%,#21918c 55.4%,#1f9e89 59.3%,#1fa188 68.6%,#21918c 74.4%,#355e8d 83.7%,#375a8c 87.3%,#2f6b8e 90.9%,#218e8d 94.4%,#20a386 96.2%,#32b67a 97.7%,#4ec36b 98.7%,#73d056 99.8%)"></i><i style="background:linear-gradient(90deg,#c8e020 0.2%,#7ad151 2%,#3fbc73 3.8%,#24aa83 5.2%,#1e9d89 6.3%,#30698e 11.3%,#375b8d 13.8%,#38588c 15.6%,#34608d 19.2%,#1f968b 29.2%,#1fa287 36.4%,#1f9f88 41.4%,#1f958b 45%,#2a788e 48.6%,#2c738e 50%,#2a778e 52.5%,#20928c 55.4%,#1f9e89 59.3%,#1fa088 68.3%,#21918c 73.3%,#355f8d 82.3%,#38588c 85.5%,#365d8d 88%,#31688e 89.8%,#24868e 93%,#20a486 95.5%,#2db27d 96.6%,#46c06f 97.7%,#75d054 99.1%,#93d741 99.8%)"></i><i style="background:linear-gradient(90deg,#ece51b 0.2%,#cde11d 0.9%,#70cf57 3%,#40bd72 4.5%,#29af7f 5.6%,#1e9d89 7%,#2c718e 10.9%,#365d8d 13.8%,#39568c 15.9%,#34608d 20.3%,#20928c 29.2%,#1fa188 34.9%,#1f9e89 41.8%,#21918c 46.1%,#277e8e 48.2%,#2a778e 50%,#29798e 52.2%,#20928c 55.4%,#1e9d89 59%,#1f9e89 68.3%,#21918c 72.2%,#355f8d 81.2%,#39568c 85.1%,#32658e 88.7%,#1e9c89 94.1%,#20a486 94.8%,#35b779 96.2%,#5ec962 97.7%,#b5de2b 99.8%)"></i><i style="background:linear-gradient(90deg,#fde725 0.2%,#fde725 0.5%,#dfe318 1.3%,#d0e11c 1.6%,#81d34d 3.4%,#4ec36b 4.8%,#2ab07f 6.3%,#1fa287 7.3%,#2c718e 11.6%,#39558c 16.7%,#355e8d 21%,#21918c 29.9%,#1fa188 36.4%,#1f9e89 41.8%,#21918c 46.1%,#297b8e 50%,#287c8e 51.8%,#21918c 55%,#1e9d89 59%,#1f9f88 66.5%,#218e8d 71.9%,#375a8c 81.2%,#39558c 84.8%,#33628d 87.6%,#2a778e 90.1%,#1e9c89 93.4%,#29af7f 94.8%,#4ac16d 96.2%,#7cd250 97.7%,#dae319 99.8%)"></i><i style="background:linear-gradient(90deg,#fde725 0.2%,#fde725 1.3%,#e5e419 2%,#d5e21a 2.3%,#75d054 4.5%,#50c46a 5.6%,#3bbb75 6.3%,#22a884 7.7%,#1f958b 9.1%,#2c718e 12.4%,#34608d 14.5%,#3a548c 17.4%,#365c8d 21.7%,#21918c 31%,#1e9b8a 34.2%,#1f9f88 41%,#20928c 46.1%,#25838e 48.6%,#277f8e 51.4%,#218f8d 54.3%,#1e9c89 58.6%,#1e9d89 66.5%,#21908d 70.4%,#39568c 80.8%,#3a548c 84.1%,#306a8e 88%,#1fa187 93%,#29af7f 94.1%,#4cc26c 95.5%,#70cf57 96.6%,#d0e11c 98.7%,#dfe318 99.1%,#fde725 99.8%)"></i><i style="background:linear-gradient(90deg,#fde725 0.2%,#fde725 2%,#f8e621 2.3%,#d8e219 3%,#5ec962 5.9%,#2db27d 7.7%,#20a386 8.8%,#2c718e 13.1%,#365d8d 15.6%,#3b528b 18.5%,#3a548c 21%,#21918c 32.1%,#1e9b8a 35.3%,#1f9e89 41.4%,#26828e 51.4%,#21918c 53.9%,#1e9b8a 58.2%,#1f9e89 64.7%,#21908d 69.4%,#39568c 79.7%,#3b528b 82.6%,#34618d 86.2%,#24878e 90.1%,#1fa287 92.3%,#2ab07f 93.4%,#4ec36b 94.8%,#75d054 95.9%,#d2e21b 98%,#e5e419 98.4%,#fde725 99.1%,#fde725 99.8%)"></i><i style="background:linear-gradient(90deg,#fde725 0.2%,#fde725 3%,#dde318 3.8%,#cde11d 4.1%,#8bd646 5.6%,#54c568 7%,#2eb37c 8.4%,#23a983 9.1%,#1e9b8a 10.2%,#2c718e 13.8%,#355f8d 15.9%,#3b518b 19.2%,#39568c 22.8%,#21918c 33.2%,#1f9f88 38.9%,#1f978b 46.4%,#24868e 50%,#24878e 51.8%,#1f978b 55%,#1e9d89 64%,#20928c 67.9%,#39558c 78.7%,#3b518b 81.9%,#34618d 85.5%,#23888e 89.4%,#1fa287 91.6%,#26ad81 92.3%,#3bbb75 93.4%,#5cc863 94.4%,#95d840 95.9%,#d8e219 97.3%,#f8e621 98%,#fde725 99.8%)"></i><i style="background:linear-gradient(90deg,#fde725 0.2%,#fde725 3.8%,#e2e418 4.5%,#d0e11c 4.8%,#70cf57 7%,#40bd72 8.4%,#24aa83 9.9%,#1e9c89 10.9%,#2c718e 14.5%,#39558c 18.1%,#3c508b 19.9%,#3a538b 23.1%,#218e8d 33.5%,#1f9e89 39.6%,#1f9a8a 46.4%,#238a8d 50%,#228b8d 51.8%,#1f9a8a 55%,#1e9c89 63.3%,#228b8d 68.3%,#39568c 77.2%,#3c508b 81.5%,#39568c 83.3%,#2e6d8e 86.2%,#1f9f88 90.5%,#2db27d 91.9%,#5ec962 93.7%,#98d83e 95.2%,#dde318 96.6%,#fbe723 97.3%,#fde725 99.8%)"></i><i style="background:linear-gradient(90deg,#fde725 0.2%,#fde725 4.5%,#f6e620 4.8%,#d5e21a 5.6%,#75d054 7.7%,#42be71 9.1%,#2ab07f 10.2%,#1e9d89 11.6%,#34618d 17%,#39568c 18.5%,#3d4e8a 21.3%,#3a548c 24.6%,#21908d 34.9%,#1e9d89 40.3%,#1e9c89 46.4%,#228d8d 50.4%,#1e9c89 54.7%,#1e9b8a 62.5%,#228d8d 66.8%,#39568c 76.2%,#3d4e8a 80.1%,#3b528b 81.9%,#34608d 84.1%,#1e9b8a 89.4%,#28ae80 90.9%,#4ac16d 92.3%,#70cf57 93.4%,#d0e11c 95.5%,#dfe318 95.9%,#fde725 96.6%,#fde725 99.8%)"></i><i style="background:linear-gradient(90deg,#fde725 0.2%,#fde725 5.2%,#f8e621 5.6%,#d8e219 6.3%,#77d153 8.4%,#44bf70 9.9%,#2ab07f 10.9%,#1e9d89 12.4%,#2f6b8e 16.7%,#39568c 19.2%,#3d4e8a 21.3%,#3a548c 25.6%,#20928c 36%,#1f9e89 40%,#1fa188 44.6%,#1fa088 47.1%,#20938c 50%,#1f948c 51.8%,#1fa188 54.7%,#1e9c89 62.2%,#218f8d 65.8%,#39558c 75.4%,#3d4e8a 79.7%,#34608d 83.3%,#1e9b8a 88.7%,#24aa83 89.8%,#40bd72 91.2%,#81d34d 93%,#d2e21b 94.8%,#e5e419 95.2%,#fde725 95.9%,#fde725 99.8%)"></i><i style="background:linear-gradient(90deg,#fde725 0.2%,#fde725 6.3%,#dde318 7%,#98d83e 8.4%,#5ec962 9.9%,#2cb17e 11.6%,#1fa287 12.7%,#31688e 17.7%,#3a548c 20.3%,#3d4d8a 22.8%,#39558c 26.7%,#21918c 36.4%,#1e9b8a 38.9%,#21a685 46.1%,#1f9a8a 50.7%,#21a685 54.7%,#1fa188 60.4%,#228b8d 65.8%,#3a548c 74.7%,#3d4d8a 78.7%,#39568c 81.2%,#306a8e 83.7%,#1fa188 88.4%,#29af7f 89.4%,#42be71 90.5%,#75d054 91.9%,#d5e21a 94.1%,#f6e620 94.8%,#fde725 95.2%,#fde725 99.8%)"></i><i style="background:linear-gradient(90deg,#fde725 0.2%,#fde725 7%,#dfe318 7.7%,#cde11d 8.1%,#60ca60 10.6%,#3dbc74 11.6%,#22a884 13.1%,#1f958b 14.5%,#31688e 18.5%,#39568c 20.6%,#3d4d8a 23.1%,#39568c 27.8%,#23888e 35.7%,#1e9c89 39.2%,#25ab82 46.1%,#1fa187 50%,#25ab82 54.3%,#22a785 58.2%,#20928c 64%,#3a538b 74%,#3d4d8a 78.3%,#31678e 82.6%,#1fa187 87.6%,#2ab07f 88.7%,#5cc863 90.5%,#95d840 91.9%,#d8e219 93.4%,#f8e621 94.1%,#fde725 94.4%,#fde725 99.8%)"></i><i style="background:linear-gradient(90deg,#fde725 0.2%,#fde725 7.7%,#e2e418 8.4%,#d0e11c 8.8%,#9dd93b 9.9%,#56c667 11.6%,#2eb37c 13.1%,#20a486 14.2%,#23888e 16.3%,#32658e 19.5%,#3b528b 22%,#3e4c8a 24.2%,#39558c 28.5%,#1e9b8a 39.6%,#26ad81 44.6%,#22a884 50.4%,#26ad81 56.5%,#1f958b 62.5%,#3a548c 72.9%,#3e4c8a 76.9%,#3a538b 79.4%,#32648e 81.5%,#24868e 84.8%,#1fa287 86.9%,#26ad81 87.6%,#3bbb75 88.7%,#5ec962 89.8%,#98d83e 91.2%,#dde318 92.7%,#fde725 93.4%,#fde725 99.8%)"></i><i style="background:linear-gradient(90deg,#fde725 0.2%,#fde725 8.4%,#f6e620 8.8%,#e5e419 9.1%,#d2e21b 9.5%,#81d34d 11.3%,#40bd72 13.1%,#28ae80 14.2%,#1e9b8a 15.6%,#2c738e 18.8%,#39568c 22%,#3e4c8a 24.6%,#3e4c8a 26.7%,#39568c 29.6%,#1f958b 39.2%,#25ac82 43.9%,#2db27d 46.8%,#28ae80 50%,#2db27d 54.7%,#1e9c89 60.8%,#23888e 64%,#3a538b 72.2%,#3e4c8a 76.5%,#3a538b 78.7%,#32648e 80.8%,#1f9e89 85.8%,#26ad81 86.9%,#48c16e 88.4%,#7cd250 89.8%,#cde11d 91.6%,#dfe318 91.9%,#fde725 92.7%,#fde725 99.8%)"></i><i style="background:linear-gradient(90deg,#fde725 0.2%,#fde725 9.1%,#f8e621 9.5%,#d8e219 10.2%,#a2da37 11.3%,#75d054 12.4%,#42be71 13.8%,#29af7f 14.9%,#1e9c89 16.3%,#2b748e 19.5%,#39568c 22.8%,#3e4a89 27.1%,#39558c 30.3%,#1f948c 40%,#25ab82 43.9%,#32b67a 47.5%,#32b67a 53.6%,#1e9c89 60%,#24878e 63.3%,#3a548c 71.1%,#3e4a89 75.4%,#3b518b 77.6%,#34618d 79.7%,#24878e 83.3%,#1f9f88 85.1%,#27ad81 86.2%,#4ac16d 87.6%,#70cf57 88.7%,#d0e11c 90.9%,#e2e418 91.2%,#fde725 91.9%,#fde725 99.8%)"></i><i style="background:linear-gradient(90deg,#fde725 0.2%,#fbe723 10.2%,#dae319 10.9%,#95d840 12.4%,#5cc863 13.8%,#2ab07f 15.6%,#1fa187 16.7%,#23898e 18.5%,#31668e 21.7%,#39568c 23.5%,#3e4a89 26.3%,#3a548c 31%,#1e9b8a 41.8%,#32b67a 47.1%,#38b977 49.6%,#32b67a 53.9%,#1e9c89 59.3%,#23898e 62.2%,#3a538b 70.4%,#3e4a89 72.9%,#3e4a89 75.1%,#3a538b 77.2%,#31688e 79.7%,#1f958b 83.7%,#20a486 84.8%,#2fb47c 85.8%,#58c765 87.3%,#90d743 88.7%,#d2e21b 90.1%,#e5e419 90.5%,#f6e620 90.9%,#fde725 91.2%,#fde725 99.8%)"></i><i style="background:linear-gradient(90deg,#fde725 0.2%,#fde725 10.9%,#dde318 11.6%,#98d83e 13.1%,#5ec962 14.5%,#32b67a 15.9%,#1fa187 17.4%,#25858e 19.5%,#39568c 24.2%,#3e4989 27.4%,#39558c 32.1%,#1e9b8a 42.5%,#22a884 44.6%,#31b57b 47.1%,#3fbc73 50.4%,#3bbb75 52.2%,#26ad81 55.7%,#1e9c89 58.6%,#23888e 61.5%,#3b528b 69.7%,#3e4989 73.7%,#3c4f8a 75.8%,#32658e 78.7%,#1fa188 83.7%,#29af7f 84.8%,#42be71 85.8%,#75d054 87.3%,#a2da37 88.4%,#d8e219 89.4%,#f8e621 90.1%,#fde725 90.5%,#fde725 99.8%)"></i><i style="background:linear-gradient(90deg,#fde725 0.2%,#fde725 11.6%,#dfe318 12.4%,#cde11d 12.7%,#60ca60 15.2%,#34b679 16.7%,#1fa287 18.1%,#24868e 20.3%,#33638d 23.5%,#39568c 24.9%,#3e4989 27.8%,#3e4989 29.9%,#3a548c 32.8%,#23898e 40.7%,#1e9d89 43.5%,#22a884 45.3%,#42be71 50.4%,#3bbb75 52.2%,#23a983 55.7%,#1e9b8a 57.9%,#3a538b 68.6%,#3e4a89 70.8%,#3e4989 73.3%,#3a538b 75.8%,#32658e 78%,#1fa188 83%,#31b57b 84.4%,#5cc863 85.8%,#95d840 87.3%,#dae319 88.7%,#fbe723 89.4%,#fde725 99.8%)"></i><i style="background:linear-gradient(90deg,#fde725 0.2%,#fde725 12.4%,#f4e61e 12.7%,#e2e418 13.1%,#d0e11c 13.4%,#9dd93b 14.5%,#56c667 16.3%,#2db27d 17.7%,#20a386 18.8%,#24868e 21%,#33638d 24.2%,#39568c 25.6%,#3f4889 28.9%,#3e4989 31%,#3a538b 33.5%,#23888e 41.4%,#1e9c89 44.3%,#28ae80 47.1%,#42be71 50.4%,#3bbb75 51.8%,#23a983 55%,#1e9b8a 57.2%,#3b528b 67.9%,#3f4889 72.2%,#3c4f8a 74.4%,#33628d 76.9%,#25858e 80.1%,#1fa187 82.3%,#2ab07f 83.3%,#5cc863 85.1%,#a8db34 86.9%,#dde318 88%,#fde725 88.7%,#fde725 99.8%)"></i><i style="background:linear-gradient(90deg,#fde725 0.2%,#fde725 13.1%,#f6e620 13.4%,#d5e21a 14.2%,#90d743 15.6%,#56c667 17%,#2eb37c 18.5%,#20a486 19.5%,#24878e 21.7%,#34608d 25.3%,#3f4889 29.2%,#3e4989 32.1%,#3a548c 34.6%,#24878e 42.1%,#1e9c89 45%,#28ae80 47.8%,#3fbc73 50.4%,#3bbb75 51.1%,#29af7f 53.2%,#1e9d89 56.1%,#23888e 59%,#3b518b 67.2%,#3f4889 69.7%,#3f4889 71.9%,#3a538b 74.4%,#33628d 76.2%,#25858e 79.4%,#1fa287 81.5%,#2cb17e 82.6%,#5ec962 84.4%,#cde11d 86.9%,#dfe318 87.3%,#fde725 88%,#fde725 99.8%)"></i><i style="background:linear-gradient(90deg,#fde725 0.2%,#fde725 13.8%,#f8e621 14.2%,#d8e219 14.9%,#a2da37 15.9%,#65cb5e 17.4%,#40bd72 18.5%,#28ae80 19.5%,#1e9b8a 21%,#2c728e 24.2%,#3a548c 27.4%,#3e4a89 29.2%,#3f4788 32.1%,#39558c 35.7%,#1e9b8a 45.7%,#25ac82 48.2%,#3aba76 50.7%,#26ad81 52.9%,#1e9c89 55.4%,#23898e 57.9%,#3b528b 66.1%,#3f4889 68.6%,#3f4788 70.8%,#355f8d 75.1%,#24868e 78.7%,#1fa287 80.8%,#26ad81 81.5%,#3dbc74 82.6%,#60ca60 83.7%,#d0e11c 86.2%,#e2e418 86.6%,#f4e61e 86.9%,#fde725 87.3%,#fde725 99.8%)"></i><i style="background:linear-gradient(90deg,#fde725 0.2%,#fde725 13.8%,#f8e621 14.2%,#d8e219 14.9%,#a2da37 15.9%,#65cb5e 17.4%,#40bd72 18.5%,#28ae80 19.5%,#1e9b8a 21%,#2c728e 24.2%,#3a548c 27.4%,#3e4a89 29.2%,#3f4788 32.1%,#39558c 35.7%,#1e9b8a 45.7%,#25ac82 48.2%,#3aba76 50.7%,#26ad81 52.9%,#1e9c89 55.4%,#23898e 57.9%,#3b528b 66.1%,#3f4889 68.6%,#3f4788 70.8%,#355f8d 75.1%,#24868e 78.7%,#1fa287 80.8%,#26ad81 81.5%,#3dbc74 82.6%,#60ca60 83.7%,#d0e11c 86.2%,#e2e418 86.6%,#f4e61e 86.9%,#fde725 87.3%,#fde725 99.8%)"></i><i style="background:linear-gradient(90deg,#fde725 0.2%,#fde725 13.8%,#f8e621 14.2%,#d8e219 14.9%,#a2da37 15.9%,#65cb5e 17.4%,#40bd72 18.5%,#28ae80 19.5%,#1e9b8a 21%,#2c728e 24.2%,#3a548c 27.4%,#3e4a89 29.2%,#3f4788 32.1%,#39558c 35.7%,#1e9b8a 45.7%,#25ac82 48.2%,#3aba76 50.7%,#26ad81 52.9%,#1e9c89 55.4%,#23898e 57.9%,#3b528b 66.1%,#3f4889 68.6%,#3f4788 70.8%,#355f8d 75.1%,#24868e 78.7%,#1fa287 80.8%,#26ad81 81.5%,#3dbc74 82.6%,#60ca60 83.7%,#d0e11c 86.2%,#e2e418 86.6%,#f4e61e 86.9%,#fde725 87.3%,#fde725 99.8%)"></i></div></div>
<div class="hw" style="left:119px;top:281px"><div class="hm"><i style="background:linear-gradient(90deg,#fde725 0.2%,#fde725 19.5%,#e5e419 19.9%,#c5e021 20.3%,#86d549 21%,#52c569 21.7%,#2eb37c 22.4%,#1fa088 23.1%,#30698e 25.6%,#355f8d 27.1%,#306a8e 28.5%,#1f968b 31%,#21a585 31.7%,#3aba76 32.8%,#77d153 34.2%,#b2dd2d 35.7%,#cae11f 36.7%,#d2e21b 37.5%,#d5e21a 39.2%,#cde11d 40%,#b2dd2d 41%,#58c765 43.5%,#2db27d 44.3%,#1fa287 44.6%,#2a788e 45.7%,#365c8d 46.8%,#3e4a89 47.8%,#423f85 49.6%,#423f85 51.4%,#3e4989 53.2%,#375a8c 54.3%,#2b748e 55.4%,#1e9d89 56.5%,#26ad81 56.8%,#52c569 57.5%,#60ca60 57.9%,#b8de29 60.4%,#d5e21a 61.8%,#d0e11c 64%,#b5de2b 65.4%,#9dd93b 66.1%,#3fbc73 68.3%,#22a785 69.4%,#20928c 70.4%,#2c718e 72.2%,#355f8d 74%,#31678e 75.4%,#1e9c89 78%,#29af7f 78.7%,#4ac16d 79.4%,#7cd250 80.1%,#d8e219 81.2%,#f6e620 81.5%,#fde725 81.9%,#fde725 99.8%)"></i><i style="background:linear-gradient(90deg,#fde725 0.2%,#fde725 19.5%,#e5e419 19.9%,#c5e021 20.3%,#86d549 21%,#52c569 21.7%,#2eb37c 22.4%,#1fa088 23.1%,#30698e 25.6%,#355f8d 27.1%,#306a8e 28.5%,#1f968b 31%,#21a585 31.7%,#3aba76 32.8%,#77d153 34.2%,#b2dd2d 35.7%,#cae11f 36.7%,#d2e21b 37.5%,#d5e21a 39.2%,#cde11d 40%,#b2dd2d 41%,#58c765 43.5%,#2db27d 44.3%,#1fa287 44.6%,#2a788e 45.7%,#365c8d 46.8%,#3e4a89 47.8%,#423f85 49.6%,#423f85 51.4%,#3e4989 53.2%,#375a8c 54.3%,#2b748e 55.4%,#1e9d89 56.5%,#26ad81 56.8%,#52c569 57.5%,#60ca60 57.9%,#b8de29 60.4%,#d5e21a 61.8%,#d0e11c 64%,#b5de2b 65.4%,#9dd93b 66.1%,#3fbc73 68.3%,#22a785 69.4%,#20928c 70.4%,#2c718e 72.2%,#355f8d 74%,#31678e 75.4%,#1e9c89 78%,#29af7f 78.7%,#4ac16d 79.4%,#7cd250 80.1%,#d8e219 81.2%,#f6e620 81.5%,#fde725 81.9%,#fde725 99.8%)"></i><i style="background:linear-gradient(90deg,#fde725 0.2%,#fde725 19.5%,#e5e419 19.9%,#c5e021 20.3%,#86d549 21%,#52c569 21.7%,#2eb37c 22.4%,#1fa088 23.1%,#30698e 25.6%,#355f8d 27.1%,#306a8e 28.5%,#1f968b 31%,#21a585 31.7%,#3aba76 32.8%,#77d153 34.2%,#b2dd2d 35.7%,#cae11f 36.7%,#d2e21b 37.5%,#d5e21a 39.2%,#cde11d 40%,#b2dd2d 41%,#58c765 43.5%,#2db27d 44.3%,#1fa287 44.6%,#2a788e 45.7%,#365c8d 46.8%,#3e4a89 47.8%,#423f85 49.6%,#423f85 51.4%,#3e4989 53.2%,#375a8c 54.3%,#2b748e 55.4%,#1e9d89 56.5%,#26ad81 56.8%,#52c569 57.5%,#60ca60 57.9%,#b8de29 60.4%,#d5e21a 61.8%,#d0e11c 64%,#b5de2b 65.4%,#9dd93b 66.1%,#3fbc73 68.3%,#22a785 69.4%,#20928c 70.4%,#2c718e 72.2%,#355f8d 74%,#31678e 75.4%,#1e9c89 78%,#29af7f 78.7%,#4ac16d 79.4%,#7cd250 80.1%,#d8e219 81.2%,#f6e620 81.5%,#fde725 81.9%,#fde725 99.8%)"></i><i style="background:linear-gradient(90deg,#fde725 0.2%,#fde725 19.9%,#dfe318 20.3%,#67cc5c 21.7%,#3bbb75 22.4%,#22a884 23.1%,#1f958b 23.8%,#2b748e 25.3%,#355e8d 27.1%,#30698e 28.9%,#1e9d89 31.7%,#25ab82 32.4%,#38b977 33.2%,#73d056 34.6%,#aadc32 36%,#c0df25 37.1%,#cae11f 38.2%,#c8e020 39.6%,#aadc32 41%,#56c667 43.5%,#44bf70 43.9%,#2db27d 44.3%,#1fa187 44.6%,#2e6d8e 46.1%,#3e4989 47.8%,#423f85 49.3%,#424086 52.2%,#3f4889 53.2%,#38598c 54.3%,#2c738e 55.4%,#1e9c89 56.5%,#26ad81 56.8%,#52c569 57.5%,#bade28 60.8%,#cae11f 61.8%,#cae11f 62.9%,#c2df23 64%,#addc30 65.1%,#77d153 66.5%,#3bbb75 67.9%,#21a685 69%,#1f988b 69.7%,#2a768e 71.5%,#355e8d 73.7%,#33628d 74.7%,#2c718e 75.8%,#1e9b8a 77.6%,#28ae80 78.3%,#48c16e 79%,#95d840 80.1%,#d5e21a 80.8%,#f4e61e 81.2%,#fde725 81.5%,#fde725 99.8%)"></i><i style="background:linear-gradient(90deg,#fde725 0.2%,#fbe723 20.3%,#dde318 20.6%,#7fd34e 21.7%,#4ec36b 22.4%,#2ab07f 23.1%,#1e9d89 23.8%,#297a8e 25.3%,#31678e 26.3%,#365d8d 27.8%,#31688e 29.2%,#1fa287 32.4%,#35b779 33.5%,#6ece58 34.9%,#a2da37 36.4%,#b8de29 37.5%,#c0df25 38.5%,#bddf26 39.6%,#a2da37 41%,#56c667 43.5%,#2cb17e 44.3%,#1fa188 44.6%,#2a778e 45.7%,#3a538b 47.1%,#424186 48.6%,#433e85 49.6%,#433e85 51.8%,#3f4788 53.2%,#30698e 55%,#1e9b8a 56.5%,#25ac82 56.8%,#50c46a 57.5%,#a8db34 60.4%,#c0df25 61.8%,#c0df25 62.9%,#b5de2b 64%,#a5db36 64.7%,#90d743 65.4%,#46c06f 67.2%,#2eb37c 67.9%,#21a585 68.6%,#1f968b 69.4%,#2b758e 71.1%,#365d8d 73.3%,#34608d 74.4%,#306a8e 75.1%,#23888e 76.5%,#20a386 77.6%,#34b679 78.3%,#5cc863 79%,#75d054 79.4%,#d2e21b 80.5%,#f1e51d 80.8%,#fde725 81.2%,#fde725 99.8%)"></i><i style="background:linear-gradient(90deg,#fde725 0.2%,#fde725 20.3%,#f8e621 20.6%,#d8e219 21%,#7cd250 22%,#4ac16d 22.8%,#28ae80 23.5%,#1e9c89 24.2%,#32658e 26.7%,#365c8d 28.1%,#2c718e 30.3%,#20928c 32.1%,#22a884 33.2%,#32b67a 33.9%,#69cd5b 35.3%,#9bd93c 36.7%,#b0dd2f 37.8%,#b5de2b 38.5%,#b2dd2d 39.6%,#a2da37 40.7%,#54c568 43.5%,#2ab07f 44.3%,#1fa188 44.6%,#2a768e 45.7%,#3b528b 47.1%,#3f4788 47.8%,#433d84 49.6%,#433e85 52.2%,#3e4a89 53.6%,#2c728e 55.4%,#1e9b8a 56.5%,#25ab82 56.8%,#50c46a 57.5%,#a0da39 60.4%,#addc30 61.1%,#b5de2b 62.5%,#b0dd2f 63.3%,#9dd93b 64.3%,#89d548 65.1%,#42be71 66.8%,#2cb17e 67.6%,#20a386 68.3%,#1f958b 69%,#30698e 71.5%,#365c8d 72.9%,#355f8d 74%,#30698e 74.7%,#1fa187 77.2%,#25ac82 77.6%,#42be71 78.3%,#8ed645 79.4%,#cde11d 80.1%,#ece51b 80.5%,#fde725 80.8%,#fde725 99.8%)"></i><i style="background:linear-gradient(90deg,#fde725 0.2%,#fde725 20.6%,#f4e61e 21%,#d5e21a 21.3%,#95d840 22%,#5ec962 22.8%,#35b779 23.5%,#20a486 24.2%,#23888e 25.3%,#32648e 27.1%,#365c8d 27.8%,#365c8d 28.9%,#2f6b8e 30.3%,#20928c 32.4%,#22a785 33.5%,#3bbb75 34.6%,#7fd34e 36.4%,#93d741 37.1%,#a8db34 38.5%,#a5db36 40%,#81d34d 41.8%,#54c568 43.5%,#2ab07f 44.3%,#1fa088 44.6%,#2b758e 45.7%,#3b518b 47.1%,#433e85 48.9%,#443b84 51.4%,#424186 52.9%,#3c4f8a 53.9%,#2c718e 55.4%,#1f9a8a 56.5%,#25ab82 56.8%,#3aba76 57.2%,#5ac864 57.9%,#9dd93b 60.8%,#aadc32 62.2%,#a2da37 63.3%,#8ed645 64.3%,#69cd5b 65.4%,#34b679 66.8%,#23a983 67.6%,#1e9b8a 68.3%,#2c728e 70.4%,#355f8d 71.9%,#375a8c 72.9%,#33628d 74%,#2b758e 75.1%,#1f978b 76.5%,#24aa83 77.2%,#2fb47c 77.6%,#56c667 78.3%,#8bd646 79%,#cae11f 79.7%,#eae51a 80.1%,#fde725 80.5%,#fde725 99.8%)"></i><i style="background:linear-gradient(90deg,#fde725 0.2%,#fde725 21%,#f1e51d 21.3%,#d2e21b 21.7%,#75d054 22.8%,#44bf70 23.5%,#32b67a 23.8%,#1fa287 24.6%,#30698e 27.1%,#355e8d 27.8%,#38598c 28.9%,#306a8e 30.6%,#1f978b 33.2%,#26ad81 34.2%,#52c569 35.7%,#8bd646 37.5%,#9dd93b 38.9%,#9bd93c 40%,#84d44b 41.4%,#52c569 43.5%,#29af7f 44.3%,#1f9f88 44.6%,#2b748e 45.7%,#38588c 46.8%,#414287 48.2%,#443a83 49.6%,#443b84 51.8%,#3e4989 53.6%,#31678e 55%,#1f998a 56.5%,#24aa83 56.8%,#4ec36b 57.5%,#86d549 60%,#98d83e 61.1%,#9dd93b 61.8%,#95d840 63.3%,#86d549 64%,#63cb5f 65.1%,#28ae80 66.8%,#1fa188 67.6%,#2c718e 70.1%,#375b8d 71.9%,#375a8c 72.9%,#34618d 73.7%,#2b748e 74.7%,#1fa088 76.5%,#2eb37c 77.2%,#54c568 78%,#6ccd5a 78.3%,#c5e021 79.4%,#e7e419 79.7%,#fde725 80.1%,#fde725 99.8%)"></i><i style="background:linear-gradient(90deg,#fde725 0.2%,#fde725 21.3%,#ece51b 21.7%,#cde11d 22%,#8ed645 22.8%,#58c765 23.5%,#42be71 23.8%,#25ab82 24.6%,#1f988b 25.3%,#2b758e 26.7%,#365d8d 28.1%,#38588c 28.9%,#32648e 30.6%,#1e9d89 33.9%,#2cb17e 34.9%,#5ac864 36.4%,#7cd250 37.5%,#93d741 38.9%,#8ed645 40.3%,#63cb5f 42.8%,#52c569 43.5%,#40bd72 43.9%,#28ae80 44.3%,#1f9e89 44.6%,#2b748e 45.7%,#3c508b 47.1%,#443a83 49.3%,#443b84 52.2%,#3f4889 53.6%,#31668e 55%,#1f988b 56.5%,#23a983 56.8%,#4ec36b 57.5%,#89d548 60.4%,#93d741 62.2%,#86d549 63.3%,#52c569 65.1%,#2fb47c 66.1%,#21a685 66.8%,#20928c 67.9%,#2f6b8e 70.1%,#375a8c 71.5%,#38598c 72.6%,#32658e 73.7%,#1f9e89 76.2%,#2cb17e 76.9%,#50c46a 77.6%,#84d44b 78.3%,#c2df23 79%,#e2e418 79.4%,#fde725 79.7%,#fde725 99.8%)"></i><i style="background:linear-gradient(90deg,#fde725 0.2%,#fde725 21.7%,#eae51a 22%,#cae11f 22.4%,#8bd646 23.1%,#56c667 23.8%,#2fb47c 24.6%,#24aa83 24.9%,#1f968b 25.6%,#2b748e 27.1%,#39568c 29.2%,#355e8d 30.6%,#1e9c89 34.2%,#2ab07f 35.3%,#60ca60 37.1%,#7cd250 38.2%,#8bd646 39.6%,#86d549 40.7%,#5ac864 43.2%,#52c569 43.5%,#3fbc73 43.9%,#28ae80 44.3%,#1f9e89 44.6%,#2c738e 45.7%,#39568c 46.8%,#424086 48.2%,#443983 49.6%,#443983 51.8%,#414287 53.2%,#32658e 55%,#1f978b 56.5%,#22a884 56.8%,#4cc26c 57.5%,#58c765 57.9%,#7fd34e 60%,#8bd646 61.5%,#7fd34e 62.9%,#5ac864 64.3%,#2db27d 65.8%,#21a585 66.5%,#1f978b 67.2%,#306a8e 69.7%,#39568c 71.9%,#32648e 73.3%,#1e9d89 75.8%,#2ab07f 76.5%,#4ec36b 77.2%,#81d34d 78%,#c0df25 78.7%,#dfe318 79%,#fde725 79.4%,#fde725 99.8%)"></i><i style="background:linear-gradient(90deg,#fde725 0.2%,#fde725 22%,#e7e419 22.4%,#c5e021 22.8%,#6ccd5a 23.8%,#3dbc74 24.6%,#2db27d 24.9%,#1f9f88 25.6%,#25838e 26.7%,#355f8d 28.5%,#39558c 29.6%,#39568c 30.3%,#2c728e 32.4%,#1fa187 34.9%,#28ae80 35.7%,#52c569 37.1%,#75d054 38.5%,#7fd34e 39.2%,#81d34d 40.3%,#73d056 41.8%,#5ac864 43.2%,#3fbc73 43.9%,#27ad81 44.3%,#1e9d89 44.6%,#2c728e 45.7%,#39558c 46.8%,#414287 47.8%,#453882 49.6%,#453882 51.8%,#424186 53.2%,#32648e 55%,#1f978b 56.5%,#22a884 56.8%,#4cc26c 57.5%,#58c765 57.9%,#77d153 59.7%,#81d34d 60.8%,#7cd250 62.2%,#5ec962 63.6%,#2ab07f 65.4%,#1e9d89 66.5%,#30698e 69.4%,#39568c 71.1%,#39568c 71.9%,#33638d 72.9%,#1e9c89 75.4%,#29af7f 76.2%,#4cc26c 76.9%,#9bd93c 78%,#dae319 78.7%,#fbe723 79%,#fde725 99.8%)"></i><i style="background:linear-gradient(90deg,#fde725 0.2%,#fde725 22.4%,#e2e418 22.8%,#c2df23 23.1%,#84d44b 23.8%,#50c46a 24.6%,#3bbb75 24.9%,#22a785 25.6%,#1f948c 26.3%,#32648e 28.5%,#39568c 29.6%,#3a548c 30.3%,#31668e 32.1%,#20928c 34.6%,#21a685 35.7%,#42be71 37.1%,#6ece58 38.9%,#77d153 40%,#77d153 41%,#6ccd5a 42.1%,#50c46a 43.5%,#26ad81 44.3%,#1e9c89 44.6%,#2c718e 45.7%,#3f4788 47.5%,#443983 48.9%,#453781 51.4%,#443a83 52.5%,#3e4a89 53.9%,#33638d 55%,#1f968b 56.5%,#22a785 56.8%,#4cc26c 57.5%,#69cd5b 59%,#73d056 59.7%,#77d153 61.5%,#5ac864 63.3%,#31b57b 64.7%,#1fa187 65.8%,#2c738e 68.3%,#3a548c 70.8%,#38588c 71.9%,#31688e 72.9%,#23888e 74.4%,#20a486 75.4%,#27ad81 75.8%,#48c16e 76.5%,#7ad151 77.2%,#d8e219 78.3%,#f6e620 78.7%,#fde725 79%,#fde725 99.8%)"></i><i style="background:linear-gradient(90deg,#fde725 0.2%,#fde725 22.8%,#dfe318 23.1%,#c0df25 23.5%,#81d34d 24.2%,#4ec36b 24.9%,#2ab07f 25.6%,#1e9c89 26.3%,#2a788e 27.8%,#365d8d 29.2%,#3a548c 29.9%,#3a548c 31%,#2a768e 33.5%,#1f9e89 35.7%,#25ab82 36.4%,#48c16e 37.8%,#5ac864 38.5%,#6ece58 40%,#70cf57 41%,#63cb5f 42.5%,#50c46a 43.5%,#26ad81 44.3%,#1e9b8a 44.6%,#31668e 46.1%,#404688 47.5%,#453882 48.9%,#453581 51.4%,#443983 52.5%,#3e4a89 53.9%,#2e6d8e 55.4%,#1f958b 56.5%,#21a685 56.8%,#4ac16d 57.5%,#56c667 57.9%,#67cc5c 59%,#70cf57 60%,#6ccd5a 61.5%,#4cc26c 63.3%,#2eb37c 64.3%,#1fa188 65.4%,#34618d 69%,#3a538b 70.4%,#39568c 71.5%,#31678e 72.6%,#1fa287 75.1%,#34b679 75.8%,#5cc863 76.5%,#93d741 77.2%,#d5e21a 78%,#f4e61e 78.3%,#fde725 78.7%,#fde725 99.8%)"></i><i style="background:linear-gradient(90deg,#fde725 0.2%,#fbe723 23.1%,#dae319 23.5%,#7cd250 24.6%,#4ac16d 25.3%,#28ae80 26%,#1e9b8a 26.7%,#34618d 29.2%,#3a538b 30.3%,#3a538b 31.4%,#30698e 33.2%,#1e9d89 36%,#29af7f 37.1%,#3aba76 37.8%,#54c568 38.9%,#63cb5f 40%,#67cc5c 41.4%,#60ca60 42.5%,#4ec36b 43.5%,#25ac82 44.3%,#1f9a8a 44.6%,#32658e 46.1%,#404588 47.5%,#453581 49.3%,#463480 51.1%,#443b84 52.9%,#3e4989 53.9%,#2f6c8e 55.4%,#1f948c 56.5%,#21a585 56.8%,#4ac16d 57.5%,#5ac864 58.2%,#67cc5c 59.7%,#65cb5e 61.1%,#46c06f 62.9%,#25ac82 64.3%,#1f9f88 65.1%,#2f6b8e 67.9%,#3b528b 70.1%,#39558c 71.1%,#355f8d 71.9%,#25858e 73.7%,#1fa187 74.7%,#25ab82 75.1%,#42be71 75.8%,#73d056 76.5%,#d0e11c 77.6%,#efe51c 78%,#fde725 78.3%,#fde725 99.8%)"></i><i style="background:linear-gradient(90deg,#fde725 0.2%,#fde725 23.1%,#f8e621 23.5%,#dae319 23.8%,#60ca60 25.3%,#35b779 26%,#20a486 26.7%,#24878e 27.8%,#31678e 29.2%,#39558c 30.3%,#3b518b 31%,#355e8d 32.8%,#1e9c89 36.4%,#22a884 37.1%,#46c06f 38.9%,#58c765 40%,#5ec962 41.8%,#54c568 43.2%,#4cc26c 43.5%,#3bbb75 43.9%,#25ab82 44.3%,#1f9a8a 44.6%,#2d708e 45.7%,#3e4a89 47.1%,#443b84 48.2%,#453581 49.3%,#463480 51.4%,#443a83 52.9%,#3f4889 53.9%,#34618d 55%,#1f948c 56.5%,#21a585 56.8%,#48c16e 57.5%,#52c569 57.9%,#5ec962 59.3%,#5cc863 60.8%,#42be71 62.5%,#2ab07f 63.6%,#1f9e89 64.7%,#32658e 67.9%,#39568c 69%,#3b518b 70.1%,#355e8d 71.5%,#2c738e 72.6%,#1fa188 74.4%,#31b57b 75.1%,#58c765 75.8%,#8ed645 76.5%,#d0e11c 77.2%,#efe51c 77.6%,#fde725 78%,#fde725 99.8%)"></i><i style="background:linear-gradient(90deg,#fde725 0.2%,#fbe723 23.8%,#dae319 24.2%,#60ca60 25.6%,#35b779 26.3%,#20a386 27.1%,#24878e 28.1%,#34608d 29.9%,#3b518b 31.4%,#38598c 32.8%,#1e9b8a 36.7%,#22a785 37.5%,#3bbb75 38.9%,#50c46a 40.3%,#54c568 42.1%,#48c16e 43.5%,#25ab82 44.3%,#1f9a8a 44.6%,#2d708e 45.7%,#3e4a89 47.1%,#443b84 48.2%,#453581 49.3%,#463480 51.4%,#443a83 52.9%,#3f4889 53.9%,#34618d 55%,#1f948c 56.5%,#21a585 56.8%,#32b67a 57.2%,#44bf70 57.5%,#50c46a 58.2%,#50c46a 60.8%,#3dbc74 62.2%,#29af7f 63.3%,#1f9e89 64.3%,#306a8e 67.2%,#3b518b 69.4%,#3a548c 70.4%,#32648e 71.5%,#1fa188 74%,#2fb47c 74.7%,#58c765 75.4%,#d0e11c 76.9%,#efe51c 77.2%,#fde725 77.6%,#fde725 99.8%)"></i><i style="background:linear-gradient(90deg,#fde725 0.2%,#fbe723 24.2%,#dae319 24.6%,#60ca60 26%,#35b779 26.7%,#20a386 27.4%,#24878e 28.5%,#355f8d 30.3%,#3a548c 31%,#3c508b 32.1%,#33628d 33.9%,#1fa188 37.5%,#31b57b 38.9%,#44bf70 40.3%,#4ac16d 41.8%,#46c06f 42.8%,#3fbc73 43.5%,#35b779 43.9%,#24aa83 44.3%,#1f9a8a 44.6%,#2d708e 45.7%,#3e4a89 47.1%,#443b84 48.2%,#463480 49.6%,#453882 52.5%,#3f4889 53.9%,#34618d 55%,#1f948c 56.5%,#20a486 56.8%,#3bbb75 57.5%,#4ac16d 59.7%,#3dbc74 61.5%,#22a884 63.3%,#1e9d89 64%,#32648e 67.2%,#39558c 68.3%,#3c508b 69.4%,#365d8d 70.8%,#1f968b 73.3%,#24aa83 74%,#2fb47c 74.4%,#58c765 75.1%,#d0e11c 76.5%,#f1e51d 76.9%,#fde725 77.2%,#fde725 99.8%)"></i><i style="background:linear-gradient(90deg,#fde725 0.2%,#fbe723 24.6%,#dde318 24.9%,#60ca60 26.3%,#35b779 27.1%,#20a386 27.8%,#24868e 28.9%,#355f8d 30.6%,#3a548c 31.4%,#3c508b 32.4%,#33628d 34.2%,#1f9a8a 37.5%,#24aa83 38.5%,#32b67a 39.6%,#3fbc73 41.4%,#3aba76 43.2%,#2fb47c 43.9%,#1f9a8a 44.6%,#2d708e 45.7%,#3e4a89 47.1%,#443b84 48.2%,#463480 49.6%,#453581 51.8%,#414287 53.6%,#34618d 55%,#1f948c 56.5%,#20a486 56.8%,#2cb17e 57.2%,#38b977 57.9%,#3fbc73 60%,#2fb47c 61.8%,#1e9c89 63.6%,#355e8d 67.2%,#3c4f8a 69%,#3b528b 69.7%,#33638d 70.8%,#1f968b 72.9%,#24aa83 73.7%,#40bd72 74.4%,#58c765 74.7%,#d0e11c 76.2%,#f1e51d 76.5%,#fde725 76.9%,#fde725 99.8%)"></i><i style="background:linear-gradient(90deg,#fde725 0.2%,#fde725 24.9%,#dde318 25.3%,#60ca60 26.7%,#35b779 27.4%,#20a386 28.1%,#24868e 29.2%,#355e8d 31%,#3a538b 31.7%,#3c4f8a 32.8%,#34618d 34.6%,#20928c 37.5%,#26ad81 39.2%,#35b779 41%,#31b57b 43.2%,#2ab07f 43.9%,#1f998a 44.6%,#2d708e 45.7%,#3e4a89 47.1%,#443b84 48.2%,#463480 49.6%,#453581 51.8%,#414287 53.6%,#34618d 55%,#20938c 56.5%,#1fa287 56.8%,#27ad81 57.2%,#31b57b 57.9%,#37b878 59.3%,#31b57b 60.8%,#1e9b8a 63.3%,#33638d 66.5%,#3a548c 67.6%,#3c4f8a 68.6%,#365c8d 70.1%,#1f958b 72.6%,#24aa83 73.3%,#40bd72 74%,#58c765 74.4%,#90d743 75.1%,#d2e21b 75.8%,#f1e51d 76.2%,#fde725 76.5%,#fde725 99.8%)"></i><i style="background:linear-gradient(90deg,#fde725 0.2%,#fde725 25.3%,#dde318 25.6%,#60ca60 27.1%,#35b779 27.8%,#20a386 28.5%,#218f8d 29.2%,#2f6c8e 30.6%,#3b528b 32.1%,#3d4e8a 32.8%,#39568c 34.2%,#1e9d89 38.5%,#2db27d 41%,#25ac82 43.9%,#1f988b 44.6%,#2d708e 45.7%,#3e4a89 47.1%,#443b84 48.2%,#453581 49.3%,#463480 51.4%,#443a83 52.9%,#3f4889 53.9%,#34618d 55%,#20938c 56.5%,#24aa83 57.2%,#2cb17e 58.2%,#2eb37c 59.7%,#25ab82 61.5%,#218e8d 63.6%,#3a548c 67.2%,#3d4e8a 68.3%,#375b8d 69.7%,#26828e 71.5%,#1fa088 72.6%,#24aa83 72.9%,#40bd72 73.7%,#90d743 74.7%,#d2e21b 75.4%,#f1e51d 75.8%,#fde725 76.2%,#fde725 99.8%)"></i><i style="background:linear-gradient(90deg,#fde725 0.2%,#fde725 25.6%,#dde318 26%,#60ca60 27.4%,#35b779 28.1%,#1fa287 28.9%,#32648e 31.4%,#39568c 32.1%,#3d4e8a 33.2%,#39568c 34.6%,#1e9b8a 38.9%,#25ac82 40.7%,#24aa83 43.5%,#1f978b 44.6%,#32658e 46.1%,#3e4a89 47.1%,#443b84 48.2%,#453581 49.3%,#463480 51.4%,#443a83 52.9%,#3f4889 53.9%,#34618d 55%,#1f9f88 56.8%,#26ad81 58.2%,#25ac82 60.4%,#1fa187 61.8%,#24878e 63.6%,#33628d 65.8%,#3d4e8a 67.6%,#3a548c 69%,#26828e 71.1%,#1f9f88 72.2%,#23a983 72.6%,#40bd72 73.3%,#90d743 74.4%,#d2e21b 75.1%,#f4e61e 75.4%,#fde725 75.8%,#fde725 99.8%)"></i><i style="background:linear-gradient(90deg,#fde725 0.2%,#fde725 26%,#dfe318 26.3%,#60ca60 27.8%,#35b779 28.5%,#1fa287 29.2%,#25858e 30.3%,#365c8d 32.1%,#3b518b 32.8%,#3d4d8a 33.9%,#39558c 34.9%,#1f9e89 39.6%,#21a685 40.7%,#22a884 42.8%,#1f9e89 44.3%,#23898e 45%,#32658e 46.1%,#3e4a89 47.1%,#443b84 48.2%,#463480 49.6%,#453581 51.8%,#414287 53.6%,#34618d 55%,#1e9c89 56.8%,#23a983 59%,#1f9f88 61.5%,#24868e 63.3%,#3a538b 66.5%,#3d4d8a 67.6%,#3a548c 68.6%,#31688e 69.7%,#1f948c 71.5%,#23a983 72.2%,#40bd72 72.9%,#58c765 73.3%,#90d743 74%,#d2e21b 74.7%,#f4e61e 75.1%,#fde725 75.4%,#fde725 99.8%)"></i><i style="background:linear-gradient(90deg,#fde725 0.2%,#fde725 26.3%,#dfe318 26.7%,#60ca60 28.1%,#34b679 28.9%,#1fa287 29.6%,#25848e 30.6%,#33638d 32.1%,#3c508b 33.2%,#3d4d8a 33.9%,#39558c 35.3%,#1e9b8a 40%,#20a386 41.4%,#1f9e89 43.9%,#20938c 44.6%,#32658e 46.1%,#3e4a89 47.1%,#443b84 48.2%,#453581 49.3%,#463480 51.4%,#443a83 52.9%,#3f4889 53.9%,#34618d 55%,#21908d 56.5%,#1fa188 57.9%,#20a386 59.7%,#1e9c89 61.1%,#21908d 62.2%,#39568c 65.8%,#3d4d8a 66.8%,#3a538b 68.3%,#2a788e 70.1%,#1f9f88 71.5%,#23a983 71.9%,#40bd72 72.6%,#90d743 73.7%,#d5e21a 74.4%,#f4e61e 74.7%,#fde725 75.1%,#fde725 99.8%)"></i><i style="background:linear-gradient(90deg,#fde725 0.2%,#fde725 26.7%,#dfe318 27.1%,#60ca60 28.5%,#34b679 29.2%,#1fa187 29.9%,#25848e 31%,#33628d 32.4%,#3a548c 33.2%,#3e4c8a 34.2%,#3a548c 35.7%,#26828e 38.5%,#1f988b 40.3%,#1f9f88 41.8%,#1e9b8a 43.5%,#21908d 44.6%,#3b528b 46.8%,#443b84 48.2%,#463480 51.4%,#414287 53.6%,#34618d 55%,#228d8d 56.5%,#1e9c89 57.9%,#1f9f88 59.3%,#1f998a 60.8%,#23898e 62.2%,#39568c 65.4%,#3e4c8a 67.2%,#31678e 69%,#1f9f88 71.1%,#23a983 71.5%,#40bd72 72.2%,#90d743 73.3%,#d5e21a 74%,#f6e620 74.4%,#fde725 74.7%,#fde725 99.8%)"></i><i style="background:linear-gradient(90deg,#fde725 0.2%,#fde725 27.1%,#dfe318 27.4%,#c0df25 27.8%,#60ca60 28.9%,#34b679 29.6%,#25ac82 29.9%,#1fa187 30.3%,#25838e 31.4%,#34618d 32.8%,#3c4f8a 33.9%,#3e4a89 34.6%,#3a548c 36%,#20928c 40.3%,#1f998a 41.8%,#1f958b 43.5%,#228c8d 44.6%,#3b528b 46.8%,#443b84 48.2%,#463480 51.4%,#414287 53.6%,#38588c 54.7%,#238a8d 56.5%,#1f988b 58.2%,#21908d 61.1%,#39558c 65.1%,#3e4a89 66.5%,#38588c 67.9%,#1f9e89 70.8%,#22a884 71.1%,#40bd72 71.9%,#90d743 72.9%,#d5e21a 73.7%,#f6e620 74%,#fde725 74.4%,#fde725 99.8%)"></i><i style="background:linear-gradient(90deg,#fde725 0.2%,#fde725 27.4%,#e2e418 27.8%,#c0df25 28.1%,#60ca60 29.2%,#34b679 29.9%,#25ac82 30.3%,#1fa187 30.6%,#25838e 31.7%,#34618d 33.2%,#3d4e8a 34.2%,#3e4a89 34.9%,#3a538b 36.4%,#228c8d 40.3%,#1f948c 42.5%,#23888e 44.6%,#3e4a89 47.1%,#443b84 48.2%,#463480 49.6%,#463480 51.8%,#3f4889 53.9%,#24868e 56.5%,#20938c 58.2%,#228d8d 60.8%,#39558c 64.7%,#3e4a89 65.8%,#3e4a89 66.5%,#355e8d 67.9%,#1f9e89 70.4%,#22a884 70.8%,#40bd72 71.5%,#90d743 72.6%,#d5e21a 73.3%,#f6e620 73.7%,#fde725 74%,#fde725 99.8%)"></i><i style="background:linear-gradient(90deg,#fde725 0.2%,#fde725 27.8%,#e2e418 28.1%,#c0df25 28.5%,#60ca60 29.6%,#34b679 30.3%,#1fa187 31%,#25838e 32.1%,#34618d 33.5%,#3e4a89 34.9%,#3d4e8a 36.4%,#25858e 40.3%,#218f8d 41.8%,#218f8d 42.8%,#277f8e 45%,#3e4a89 47.1%,#443b84 48.2%,#463480 49.3%,#46337f 51.4%,#414287 53.6%,#287d8e 56.1%,#218f8d 58.2%,#218e8d 59.7%,#24868e 60.8%,#3a538b 64.3%,#3e4a89 66.1%,#355e8d 67.6%,#1f9e89 70.1%,#23a983 70.4%,#40bd72 71.1%,#73d056 71.9%,#d5e21a 72.9%,#f6e620 73.3%,#fde725 73.7%,#fde725 99.8%)"></i><i style="background:linear-gradient(90deg,#fde725 0.2%,#fde725 28.1%,#e2e418 28.5%,#c0df25 28.9%,#7fd34e 29.6%,#4ac16d 30.3%,#26ad81 31%,#1fa287 31.4%,#2c728e 33.2%,#3a538b 34.6%,#3e4a89 35.3%,#3d4d8a 36.7%,#26828e 40.7%,#228b8d 42.5%,#287c8e 45%,#3e4989 47.1%,#443a83 48.2%,#46327e 51.1%,#463480 52.2%,#424186 53.6%,#297a8e 56.1%,#238a8d 58.2%,#23888e 59.7%,#277f8e 60.8%,#3d4e8a 64.3%,#3e4a89 65.8%,#355f8d 67.2%,#1f9f88 69.7%,#23a983 70.1%,#42be71 70.8%,#75d054 71.5%,#d8e219 72.6%,#f8e621 72.9%,#fde725 73.3%,#fde725 99.8%)"></i><i style="background:linear-gradient(90deg,#fde725 0.2%,#fde725 28.5%,#e2e418 28.9%,#c0df25 29.2%,#81d34d 29.9%,#4ac16d 30.6%,#27ad81 31.4%,#1f998a 32.1%,#375b8d 34.6%,#3e4a89 35.7%,#3c4f8a 37.5%,#26828e 41.4%,#25858e 43.2%,#2a788e 45%,#414287 47.5%,#443a83 48.2%,#46307e 51.1%,#453581 52.5%,#424186 53.6%,#2a768e 56.1%,#25858e 58.2%,#27808e 60%,#3c508b 63.6%,#3f4889 64.7%,#3e4a89 65.4%,#34608d 66.8%,#1fa088 69.4%,#24aa83 69.7%,#42be71 70.4%,#75d054 71.1%,#d8e219 72.2%,#f8e621 72.6%,#fde725 72.9%,#fde725 99.8%)"></i><i style="background:linear-gradient(90deg,#fde725 0.2%,#fde725 28.9%,#e2e418 29.2%,#c2df23 29.6%,#81d34d 30.3%,#4cc26c 31%,#28ae80 31.7%,#1f9a8a 32.4%,#365c8d 34.9%,#3f4889 36.4%,#3b518b 38.2%,#297b8e 41.4%,#26818e 43.2%,#2d708e 45.3%,#424186 47.5%,#453581 48.6%,#46307e 51.4%,#443b84 53.2%,#3a548c 54.7%,#2e6e8e 55.7%,#26818e 57.9%,#29798e 60%,#3e4989 64%,#3e4a89 65.1%,#34618d 66.5%,#1fa188 69%,#31b57b 69.7%,#44bf70 70.1%,#77d153 70.8%,#d8e219 71.9%,#f8e621 72.2%,#fde725 72.6%,#fde725 99.8%)"></i><i style="background:linear-gradient(90deg,#fde725 0.2%,#fde725 29.2%,#e2e418 29.6%,#c2df23 29.9%,#81d34d 30.6%,#4cc26c 31.4%,#28ae80 32.1%,#1f9a8a 32.8%,#39558c 35.7%,#3f4889 36.7%,#3e4989 37.8%,#2d718e 41%,#287c8e 43.2%,#2e6d8e 45.3%,#443b84 47.8%,#46307e 49.3%,#472f7d 51.4%,#443a83 53.2%,#2f6b8e 55.7%,#287c8e 57.9%,#2b758e 59.7%,#3e4a89 63.3%,#3e4a89 64.7%,#2c718e 66.8%,#1fa188 68.6%,#32b67a 69.4%,#5cc863 70.1%,#95d840 70.8%,#d8e219 71.5%,#f8e621 71.9%,#fde725 72.2%,#fde725 99.8%)"></i><i style="background:linear-gradient(90deg,#fde725 0.2%,#fde725 29.6%,#e5e419 29.9%,#c2df23 30.3%,#4ec36b 31.7%,#29af7f 32.4%,#1e9b8a 33.2%,#365d8d 35.7%,#3f4889 37.1%,#3e4a89 38.5%,#2e6e8e 41.4%,#2a778e 43.2%,#30698e 45.3%,#453781 48.2%,#472f7d 49.6%,#472f7d 51.8%,#433e85 53.6%,#2f6c8e 56.1%,#2a778e 57.9%,#2e6f8e 59.7%,#3e4989 62.9%,#3f4788 64%,#33628d 65.8%,#25848e 67.2%,#1fa187 68.3%,#32b67a 69%,#5cc863 69.7%,#95d840 70.4%,#d8e219 71.1%,#f8e621 71.5%,#fde725 71.9%,#fde725 99.8%)"></i><i style="background:linear-gradient(90deg,#fde725 0.2%,#fde725 29.9%,#e5e419 30.3%,#c2df23 30.6%,#4ec36b 32.1%,#29af7f 32.8%,#1e9c89 33.5%,#23888e 34.2%,#39568c 36.4%,#3f4889 37.5%,#3e4989 38.9%,#2e6e8e 42.1%,#2d718e 43.9%,#32658e 45.3%,#453581 48.2%,#472e7c 51.4%,#463480 52.9%,#32648e 55.7%,#2c728e 57.9%,#2f6c8e 59.3%,#3e4a89 62.2%,#3f4788 63.6%,#33638d 65.4%,#25858e 66.8%,#1fa287 67.9%,#34b679 68.6%,#5ec962 69.4%,#d8e219 70.8%,#f8e621 71.1%,#fde725 71.5%,#fde725 99.8%)"></i><i style="background:linear-gradient(90deg,#fde725 0.2%,#fde725 30.3%,#e2e418 30.6%,#c2df23 31%,#67cc5c 32.1%,#50c46a 32.4%,#2ab07f 33.2%,#1e9c89 33.9%,#31668e 36%,#3f4889 37.8%,#3e4a89 39.6%,#32648e 41.8%,#2e6d8e 43.5%,#365d8d 45.7%,#463480 48.2%,#472e7c 51.8%,#443b84 53.6%,#32648e 56.1%,#2e6e8e 57.9%,#32658e 59.3%,#3f4889 61.8%,#3f4788 63.3%,#3a548c 64.3%,#25858e 66.5%,#1fa287 67.6%,#34b679 68.3%,#5ec962 69%,#d8e219 70.4%,#f8e621 70.8%,#fde725 71.1%,#fde725 99.8%)"></i><i style="background:linear-gradient(90deg,#fde725 0.2%,#fde725 30.6%,#e2e418 31%,#c2df23 31.4%,#67cc5c 32.4%,#50c46a 32.8%,#2ab07f 33.5%,#1e9d89 34.2%,#355f8d 36.7%,#3f4788 38.2%,#404688 39.6%,#32648e 42.5%,#31688e 43.9%,#38598c 45.7%,#443b84 47.5%,#46307e 48.6%,#472d7b 51.4%,#453581 53.2%,#38588c 55.4%,#31688e 57.5%,#32658e 58.6%,#3f4788 61.5%,#404688 62.9%,#32648e 64.7%,#21908d 66.5%,#20a386 67.2%,#26ad81 67.6%,#35b779 67.9%,#5ec962 68.6%,#d8e219 70.1%,#f6e620 70.4%,#fde725 70.8%,#fde725 99.8%)"></i><i style="background:linear-gradient(90deg,#fde725 0.2%,#fde725 31%,#e2e418 31.4%,#c2df23 31.7%,#67cc5c 32.8%,#50c46a 33.2%,#2cb17e 33.9%,#1e9d89 34.6%,#355f8d 37.1%,#3f4788 38.5%,#404588 40%,#34608d 42.8%,#33638d 43.9%,#38598c 45.3%,#443983 47.5%,#46307e 48.6%,#472d7b 51.8%,#453882 53.6%,#38588c 55.7%,#33638d 57.5%,#3f4889 60.8%,#404688 62.5%,#39558c 63.6%,#24868e 65.8%,#20a386 66.8%,#35b779 67.6%,#5ec962 68.3%,#d8e219 69.7%,#f6e620 70.1%,#fde725 70.4%,#fde725 99.8%)"></i><i style="background:linear-gradient(90deg,#fde725 0.2%,#fde725 31.4%,#e2e418 31.7%,#c2df23 32.1%,#67cc5c 33.2%,#50c46a 33.5%,#2cb17e 34.2%,#1e9d89 34.9%,#26818e 36%,#3b518b 38.2%,#414487 39.2%,#414287 40%,#355e8d 43.9%,#38588c 45%,#472f7d 48.6%,#472c7a 51.4%,#463480 53.2%,#3a538b 55.7%,#355e8d 57.2%,#375b8d 58.2%,#414287 61.1%,#404688 62.2%,#39558c 63.3%,#24878e 65.4%,#20a386 66.5%,#35b779 67.2%,#5ec962 67.9%,#b5de2b 69%,#d8e219 69.4%,#f6e620 69.7%,#fde725 70.1%,#fde725 99.8%)"></i><i style="background:linear-gradient(90deg,#fde725 0.2%,#fde725 31.7%,#dfe318 32.1%,#a0da39 32.8%,#50c46a 33.9%,#2cb17e 34.6%,#1e9d89 35.3%,#34608d 37.8%,#404688 39.2%,#414287 40.7%,#38598c 43.9%,#472f7d 48.6%,#472a7a 50.7%,#46307e 52.9%,#3c4f8a 55.7%,#38588c 57.2%,#414287 60.4%,#414287 61.5%,#39558c 62.9%,#24878e 65.1%,#20a386 66.1%,#35b779 66.8%,#5ec962 67.6%,#95d840 68.3%,#d5e21a 69%,#f4e61e 69.4%,#fde725 69.7%,#fde725 99.8%)"></i><i style="background:linear-gradient(90deg,#fde725 0.2%,#fde725 32.1%,#dfe318 32.4%,#a0da39 33.2%,#50c46a 34.2%,#2cb17e 34.9%,#1f9e89 35.7%,#34608d 38.2%,#414287 40%,#424186 41.4%,#3a538b 44.3%,#46307e 48.2%,#482979 51.1%,#472f7d 52.9%,#3a538b 57.2%,#424086 60%,#424186 61.1%,#32658e 63.3%,#24878e 64.7%,#20a486 65.8%,#35b779 66.5%,#5ec962 67.2%,#95d840 67.9%,#d5e21a 68.6%,#f4e61e 69%,#fde725 69.4%,#fde725 99.8%)"></i><i style="background:linear-gradient(90deg,#fde725 0.2%,#fde725 32.4%,#dfe318 32.8%,#84d44b 33.9%,#50c46a 34.6%,#3bbb75 34.9%,#22a884 35.7%,#1f948c 36.4%,#26828e 37.1%,#3b518b 39.2%,#424186 40.3%,#424186 42.1%,#3d4d8a 43.5%,#3d4e8a 44.6%,#472e7c 48.2%,#482878 49.6%,#472a7a 52.2%,#3d4e8a 56.8%,#424086 59.3%,#424086 60.8%,#39568c 62.2%,#1e9b8a 65.1%,#28ae80 65.8%,#48c16e 66.5%,#7ad151 67.2%,#d5e21a 68.3%,#f4e61e 68.6%,#fde725 69%,#fde725 99.8%)"></i><i style="background:linear-gradient(90deg,#fde725 0.2%,#fde725 32.8%,#dfe318 33.2%,#69cd5b 34.6%,#3dbc74 35.3%,#22a884 36%,#1f948c 36.7%,#26828e 37.5%,#3b518b 39.6%,#424186 40.7%,#433d84 41.8%,#3e4989 44.6%,#482677 49.6%,#482677 51.8%,#3e4989 56.8%,#433d84 59.3%,#424086 60.4%,#39568c 61.8%,#1e9b8a 64.7%,#28ae80 65.4%,#4ac16d 66.1%,#7ad151 66.8%,#d5e21a 67.9%,#f4e61e 68.3%,#fde725 68.6%,#fde725 99.8%)"></i><i style="background:linear-gradient(90deg,#fde725 0.2%,#fde725 33.2%,#dfe318 33.5%,#69cd5b 34.9%,#3dbc74 35.7%,#22a884 36.4%,#1f958b 37.1%,#26828e 37.8%,#3b518b 40%,#424086 41%,#443b84 42.5%,#414487 45%,#482576 49.3%,#482677 52.2%,#404588 56.5%,#443b84 58.6%,#423f85 60%,#39568c 61.5%,#1e9b8a 64.3%,#28ae80 65.1%,#4ac16d 65.8%,#7ad151 66.5%,#d5e21a 67.6%,#f4e61e 67.9%,#fde725 68.3%,#fde725 99.8%)"></i><i style="background:linear-gradient(90deg,#fde725 0.2%,#fde725 33.5%,#dfe318 33.9%,#69cd5b 35.3%,#3dbc74 36%,#23a983 36.7%,#1f958b 37.5%,#26828e 38.2%,#3b518b 40.3%,#443b84 41.8%,#423f85 45%,#482374 49.6%,#482677 52.5%,#453781 54.3%,#424086 56.5%,#443a83 59.3%,#39568c 61.1%,#23898e 63.3%,#1e9c89 64%,#28ae80 64.7%,#4ac16d 65.4%,#7ad151 66.1%,#d5e21a 67.2%,#f4e61e 67.6%,#fde725 67.9%,#fde725 99.8%)"></i><i style="background:linear-gradient(90deg,#fde725 0.2%,#fde725 33.9%,#dfe318 34.2%,#69cd5b 35.7%,#3dbc74 36.4%,#23a983 37.1%,#1f958b 37.8%,#25838e 38.5%,#3b518b 40.7%,#443a83 42.1%,#453781 46.4%,#482173 49.6%,#482173 51.8%,#453882 55%,#443983 59%,#39568c 60.8%,#23898e 62.9%,#1e9c89 63.6%,#28ae80 64.3%,#4ac16d 65.1%,#7ad151 65.8%,#d5e21a 66.8%,#f4e61e 67.2%,#fde725 67.6%,#fde725 99.8%)"></i><i style="background:linear-gradient(90deg,#fde725 0.2%,#fbe723 34.2%,#dde318 34.6%,#69cd5b 36%,#3dbc74 36.7%,#22a884 37.5%,#1f958b 38.2%,#30698e 40%,#3e4989 41.4%,#443983 42.5%,#453581 46.4%,#482173 48.9%,#481f70 50%,#482173 52.2%,#463480 54.7%,#453581 58.2%,#443b84 59%,#31668e 61.1%,#1e9c89 63.3%,#28ae80 64%,#4ac16d 64.7%,#95d840 65.8%,#d2e21b 66.5%,#f1e51d 66.8%,#fde725 67.2%,#fde725 99.8%)"></i><i style="background:linear-gradient(90deg,#fde725 0.2%,#fde725 34.2%,#f8e621 34.6%,#dde318 34.9%,#67cc5c 36.4%,#3bbb75 37.1%,#22a884 37.8%,#1f958b 38.5%,#30698e 40.3%,#453882 42.8%,#46327e 43.9%,#46337f 46.4%,#481d6f 49.6%,#481d6f 51.4%,#46327e 54.7%,#46327e 57.2%,#443a83 58.6%,#31668e 60.8%,#1e9b8a 62.9%,#28ae80 63.6%,#48c16e 64.3%,#77d153 65.1%,#d2e21b 66.1%,#efe51c 66.5%,#fde725 66.8%,#fde725 99.8%)"></i><i style="background:linear-gradient(90deg,#fde725 0.2%,#fde725 34.6%,#f6e620 34.9%,#dae319 35.3%,#7fd34e 36.4%,#3aba76 37.5%,#22a785 38.2%,#1f948c 38.9%,#31688e 40.7%,#453581 43.2%,#472f7d 43.9%,#472f7d 46.8%,#481d6f 49.3%,#481c6e 51.8%,#472e7c 54.3%,#463480 57.9%,#32658e 60.4%,#24878e 61.8%,#20a486 62.9%,#35b779 63.6%,#5cc863 64.3%,#d0e11c 65.8%,#ece51b 66.1%,#fde725 66.5%,#fde725 99.8%)"></i><i style="background:linear-gradient(90deg,#fde725 0.2%,#fde725 34.9%,#f1e51d 35.3%,#d5e21a 35.7%,#7ad151 36.7%,#4ac16d 37.5%,#29af7f 38.2%,#1e9c89 38.9%,#31668e 41%,#433e85 42.8%,#472e7c 43.9%,#472d7b 46.4%,#481c6e 48.9%,#481a6c 51.1%,#481d6f 52.5%,#472c7a 54.3%,#46307e 57.5%,#375b8d 59.7%,#24868e 61.5%,#1fa287 62.5%,#32b67a 63.3%,#5ac864 64%,#cae11f 65.4%,#e7e419 65.8%,#fde725 66.1%,#fde725 99.8%)"></i><i style="background:linear-gradient(90deg,#fde725 0.2%,#fde725 35.3%,#f1e51d 35.7%,#d2e21b 36%,#95d840 36.7%,#4ac16d 37.8%,#29af7f 38.5%,#1e9c89 39.2%,#31668e 41.4%,#404588 42.8%,#472d7b 44.3%,#482878 47.1%,#48186a 49.6%,#48186a 51.4%,#482979 54.3%,#482979 56.5%,#472f7d 57.2%,#375b8d 59.3%,#24868e 61.1%,#1fa287 62.2%,#32b67a 62.9%,#58c765 63.6%,#8bd646 64.3%,#c8e020 65.1%,#e7e419 65.4%,#fde725 65.8%,#fde725 99.8%)"></i><i style="background:linear-gradient(90deg,#fde725 0.2%,#fde725 35.7%,#efe51c 36%,#d2e21b 36.4%,#95d840 37.1%,#4ac16d 38.2%,#29af7f 38.9%,#1e9c89 39.6%,#23898e 40.3%,#39558c 42.5%,#472c7a 44.6%,#482576 47.1%,#48186a 48.9%,#481769 51.8%,#482475 53.9%,#472a7a 56.5%,#375b8d 59%,#24868e 60.8%,#1fa287 61.8%,#32b67a 62.5%,#58c765 63.3%,#8bd646 64%,#c8e020 64.7%,#e5e419 65.1%,#fde725 65.4%,#fde725 99.8%)"></i><i style="background:linear-gradient(90deg,#fde725 0.2%,#fde725 36%,#f4e61e 36.4%,#d8e219 36.7%,#7cd250 37.8%,#4cc26c 38.5%,#2ab07f 39.2%,#1e9d89 40%,#3a548c 42.8%,#472a7a 45%,#481769 48.9%,#481668 51.8%,#472d7b 56.5%,#375b8d 58.6%,#24868e 60.4%,#1fa287 61.5%,#34b679 62.2%,#5ac864 62.9%,#cde11d 64.3%,#eae51a 64.7%,#fde725 65.1%,#fde725 99.8%)"></i><i style="background:linear-gradient(90deg,#fde725 0.2%,#fde725 36.7%,#dfe318 37.1%,#a0da39 37.8%,#50c46a 38.9%,#2cb17e 39.6%,#1f9e89 40.3%,#3a548c 43.2%,#482878 45.3%,#481467 49.3%,#481467 51.8%,#482677 55.7%,#3b518b 57.9%,#24878e 60%,#20a486 61.1%,#35b779 61.8%,#5ec962 62.5%,#95d840 63.3%,#d5e21a 64%,#f4e61e 64.3%,#fde725 64.7%,#fde725 99.8%)"></i><i style="background:linear-gradient(90deg,#fde725 0.2%,#fde725 37.1%,#e7e419 37.5%,#c8e020 37.8%,#89d548 38.5%,#54c568 39.2%,#3dbc74 39.6%,#22a884 40.3%,#1f948c 41%,#32658e 42.8%,#472a7a 45.3%,#481f70 46.4%,#471365 49.6%,#481467 52.2%,#482475 55.4%,#3c508b 57.5%,#1e9b8a 60.4%,#28ae80 61.1%,#37b878 61.5%,#63cb5f 62.2%,#dae319 63.6%,#f8e621 64%,#fde725 64.3%,#fde725 99.8%)"></i><i style="background:linear-gradient(90deg,#fde725 0.2%,#fde725 37.5%,#ece51b 37.8%,#cde11d 38.2%,#56c667 39.6%,#3fbc73 40%,#23a983 40.7%,#1f948c 41.4%,#32648e 43.2%,#3f4889 44.3%,#482878 45.7%,#481d6f 46.4%,#471164 49.3%,#471164 51.8%,#482071 55%,#463480 56.1%,#38588c 57.5%,#1e9b8a 60%,#29af7f 60.8%,#4ec36b 61.5%,#81d34d 62.2%,#c2df23 62.9%,#e2e418 63.3%,#fde725 63.6%,#fde725 99.8%)"></i><i style="background:linear-gradient(90deg,#fde725 0.2%,#fde725 37.8%,#f1e51d 38.2%,#d2e21b 38.5%,#90d743 39.2%,#58c765 40%,#40bd72 40.3%,#23a983 41%,#1f948c 41.8%,#2e6d8e 43.2%,#3c508b 44.3%,#482576 46.1%,#48186a 47.1%,#471063 49.3%,#471164 52.5%,#481d6f 54.7%,#443a83 56.1%,#39568c 57.2%,#1e9b8a 59.7%,#2ab07f 60.4%,#50c46a 61.1%,#86d549 61.8%,#c8e020 62.5%,#e7e419 62.9%,#fde725 63.3%,#fde725 99.8%)"></i><i style="background:linear-gradient(90deg,#fde725 0.2%,#fde725 38.2%,#f8e621 38.5%,#d8e219 38.9%,#75d054 40%,#5ac864 40.3%,#2fb47c 41%,#24aa83 41.4%,#1f948c 42.1%,#38598c 44.3%,#404588 45%,#482173 46.4%,#481467 47.5%,#470e61 48.9%,#470e61 52.2%,#481a6c 54.3%,#472e7c 55.4%,#3a548c 56.8%,#1e9b8a 59.3%,#2ab07f 60%,#3bbb75 60.4%,#6ccd5a 61.1%,#cde11d 62.2%,#ece51b 62.5%,#fde725 62.9%,#fde725 99.8%)"></i><i style="background:linear-gradient(90deg,#fde725 0.2%,#fde725 38.9%,#dde318 39.2%,#bddf26 39.6%,#5ec962 40.7%,#44bf70 41%,#24aa83 41.8%,#1f948c 42.5%,#2f6b8e 43.9%,#414287 45.3%,#482677 46.4%,#471365 47.5%,#460b5e 49.6%,#460b5e 51.8%,#481668 53.9%,#3e4989 56.1%,#31688e 57.2%,#1e9c89 59%,#21a685 59.3%,#3dbc74 60%,#70cf57 60.8%,#d2e21b 61.8%,#f4e61e 62.2%,#fde725 62.5%,#fde725 99.8%)"></i><i style="background:linear-gradient(90deg,#fde725 0.2%,#fde725 39.2%,#e5e419 39.6%,#c2df23 40%,#7fd34e 40.7%,#48c16e 41.4%,#25ab82 42.1%,#1f958b 42.8%,#39568c 45%,#453781 46.1%,#481c6e 47.1%,#471063 47.8%,#460a5d 48.9%,#460b5e 52.9%,#471365 53.6%,#46337f 55%,#3f4889 55.7%,#31678e 56.8%,#1e9c89 58.6%,#2db27d 59.3%,#40bd72 59.7%,#75d054 60.4%,#dae319 61.5%,#fbe723 61.8%,#fde725 62.2%,#fde725 99.8%)"></i><i style="background:linear-gradient(90deg,#fde725 0.2%,#fde725 39.6%,#efe51c 40%,#cae11f 40.3%,#86d549 41%,#4cc26c 41.8%,#35b779 42.1%,#1fa187 42.8%,#27808e 43.9%,#39558c 45.3%,#453581 46.4%,#481a6c 47.5%,#470d60 48.2%,#46075a 49.3%,#46085c 52.5%,#471063 53.2%,#482878 54.3%,#3b528b 55.7%,#20928c 57.9%,#23a983 58.6%,#2fb47c 59%,#5cc863 59.7%,#c0df25 60.8%,#e2e418 61.1%,#fde725 61.5%,#fde725 99.8%)"></i><i style="background:linear-gradient(90deg,#fde725 0.2%,#fde725 40%,#f6e620 40.3%,#d5e21a 40.7%,#6ccd5a 41.8%,#50c46a 42.1%,#28ae80 42.8%,#1fa287 43.2%,#26818e 44.3%,#39558c 45.7%,#453581 46.8%,#471063 48.2%,#450559 49.3%,#450559 52.2%,#470e61 52.9%,#482677 53.9%,#3b528b 55.4%,#20938c 57.5%,#24aa83 58.2%,#32b67a 58.6%,#63cb5f 59.3%,#a2da37 60%,#c8e020 60.4%,#eae51a 60.8%,#fde725 61.1%,#fde725 99.8%)"></i><i style="background:linear-gradient(90deg,#fde725 0.2%,#fde725 40.7%,#dde318 41%,#73d056 42.1%,#56c667 42.5%,#2ab07f 43.2%,#20a486 43.5%,#218e8d 44.3%,#39568c 46.1%,#463480 47.1%,#470e61 48.6%,#440256 49.6%,#450457 51.8%,#481467 52.9%,#46307e 53.9%,#3b528b 55%,#23898e 56.8%,#1fa188 57.5%,#26ad81 57.9%,#4cc26c 58.6%,#89d548 59.3%,#d0e11c 60%,#f4e61e 60.4%,#fde725 60.8%,#fde725 99.8%)"></i><i style="background:linear-gradient(90deg,#fde725 0.2%,#fde725 41%,#e7e419 41.4%,#c2df23 41.8%,#7ad151 42.5%,#40bd72 43.2%,#21a685 43.9%,#218f8d 44.6%,#39568c 46.4%,#463480 47.5%,#470d60 48.9%,#440154 50%,#440154 51.4%,#460a5d 52.2%,#482576 53.2%,#3f4788 54.3%,#27808e 56.1%,#1fa287 57.2%,#28ae80 57.5%,#52c569 58.2%,#90d743 59%,#dae319 59.7%,#fde725 60%,#fde725 99.8%)"></i><i style="background:linear-gradient(90deg,#fde725 0.2%,#fde725 41%,#e7e419 41.4%,#c2df23 41.8%,#7ad151 42.5%,#40bd72 43.2%,#21a685 43.9%,#218f8d 44.6%,#39568c 46.4%,#463480 47.5%,#470d60 48.9%,#440154 50%,#440154 51.4%,#460a5d 52.2%,#482576 53.2%,#3f4788 54.3%,#27808e 56.1%,#1fa287 57.2%,#28ae80 57.5%,#52c569 58.2%,#90d743 59%,#dae319 59.7%,#fde725 60%,#fde725 99.8%)"></i><i style="background:linear-gradient(90deg,#fde725 0.2%,#fde725 41%,#e7e419 41.4%,#c2df23 41.8%,#7ad151 42.5%,#40bd72 43.2%,#21a685 43.9%,#218f8d 44.6%,#39568c 46.4%,#463480 47.5%,#470d60 48.9%,#440154 50%,#440154 51.4%,#460a5d 52.2%,#482576 53.2%,#3f4788 54.3%,#27808e 56.1%,#1fa287 57.2%,#28ae80 57.5%,#52c569 58.2%,#90d743 59%,#dae319 59.7%,#fde725 60%,#fde725 99.8%)"></i></div></div>
<div class="hw" style="left:441px;top:281px"><div class="hm"><i style="background:linear-gradient(90deg,#fde725 0.2%,#fde725 14.5%,#e5e419 14.9%,#c2df23 15.2%,#4ec36b 16.7%,#2cb17e 17.4%,#1f9e89 18.1%,#25848e 19.2%,#2f6b8e 20.6%,#355f8d 22.8%,#2b748e 24.9%,#20928c 26.7%,#21a685 27.8%,#44bf70 29.2%,#7ad151 30.6%,#9bd93c 31.7%,#addc30 32.8%,#b8de29 34.6%,#b8de29 38.5%,#addc30 40%,#98d83e 41%,#54c568 43.5%,#46c06f 43.9%,#21a585 44.6%,#1f968b 45%,#2c718e 46.1%,#3d4e8a 47.8%,#414487 49.6%,#414487 51.8%,#3e4989 52.9%,#365d8d 54.3%,#25838e 55.7%,#1fa088 56.5%,#29af7f 56.8%,#50c46a 57.5%,#9dd93b 60.4%,#b0dd2f 61.5%,#b8de29 62.5%,#b8de29 66.5%,#addc30 68.3%,#9dd93b 69.4%,#7fd34e 70.4%,#32b67a 72.6%,#23a983 73.3%,#1e9c89 74%,#2f6c8e 76.9%,#34618d 78%,#355f8d 79%,#32658e 80.1%,#2b748e 81.2%,#20a486 83.3%,#27ad81 83.7%,#46c06f 84.4%,#77d153 85.1%,#d8e219 86.2%,#f8e621 86.6%,#fde725 86.9%,#fde725 99.8%)"></i><i style="background:linear-gradient(90deg,#fde725 0.2%,#fde725 14.5%,#e5e419 14.9%,#c2df23 15.2%,#4ec36b 16.7%,#2cb17e 17.4%,#1f9e89 18.1%,#25848e 19.2%,#2f6b8e 20.6%,#355f8d 22.8%,#2b748e 24.9%,#20928c 26.7%,#21a685 27.8%,#44bf70 29.2%,#7ad151 30.6%,#9bd93c 31.7%,#addc30 32.8%,#b8de29 34.6%,#b8de29 38.5%,#addc30 40%,#98d83e 41%,#54c568 43.5%,#46c06f 43.9%,#21a585 44.6%,#1f968b 45%,#2c718e 46.1%,#3d4e8a 47.8%,#414487 49.6%,#414487 51.8%,#3e4989 52.9%,#365d8d 54.3%,#25838e 55.7%,#1fa088 56.5%,#29af7f 56.8%,#50c46a 57.5%,#9dd93b 60.4%,#b0dd2f 61.5%,#b8de29 62.5%,#b8de29 66.5%,#addc30 68.3%,#9dd93b 69.4%,#7fd34e 70.4%,#32b67a 72.6%,#23a983 73.3%,#1e9c89 74%,#2f6c8e 76.9%,#34618d 78%,#355f8d 79%,#32658e 80.1%,#2b748e 81.2%,#20a486 83.3%,#27ad81 83.7%,#46c06f 84.4%,#77d153 85.1%,#d8e219 86.2%,#f8e621 86.6%,#fde725 86.9%,#fde725 99.8%)"></i><i style="background:linear-gradient(90deg,#fde725 0.2%,#fde725 14.5%,#e5e419 14.9%,#c2df23 15.2%,#4ec36b 16.7%,#2cb17e 17.4%,#1f9e89 18.1%,#25848e 19.2%,#2f6b8e 20.6%,#355f8d 22.8%,#2b748e 24.9%,#20928c 26.7%,#21a685 27.8%,#44bf70 29.2%,#7ad151 30.6%,#9bd93c 31.7%,#addc30 32.8%,#b8de29 34.6%,#b8de29 38.5%,#addc30 40%,#98d83e 41%,#54c568 43.5%,#46c06f 43.9%,#21a585 44.6%,#1f968b 45%,#2c718e 46.1%,#3d4e8a 47.8%,#414487 49.6%,#414487 51.8%,#3e4989 52.9%,#365d8d 54.3%,#25838e 55.7%,#1fa088 56.5%,#29af7f 56.8%,#50c46a 57.5%,#9dd93b 60.4%,#b0dd2f 61.5%,#b8de29 62.5%,#b8de29 66.5%,#addc30 68.3%,#9dd93b 69.4%,#7fd34e 70.4%,#32b67a 72.6%,#23a983 73.3%,#1e9c89 74%,#2f6c8e 76.9%,#34618d 78%,#355f8d 79%,#32658e 80.1%,#2b748e 81.2%,#20a486 83.3%,#27ad81 83.7%,#46c06f 84.4%,#77d153 85.1%,#d8e219 86.2%,#f8e621 86.6%,#fde725 86.9%,#fde725 99.8%)"></i><i style="background:linear-gradient(90deg,#fde725 0.2%,#fde725 14.9%,#dfe318 15.2%,#7fd34e 16.3%,#4ac16d 17%,#29af7f 17.7%,#1e9c89 18.5%,#2b758e 20.3%,#32658e 21.3%,#355e8d 23.1%,#2b748e 25.3%,#20928c 27.1%,#21a685 28.1%,#38b977 29.2%,#5ec962 30.3%,#9dd93b 32.4%,#addc30 33.9%,#b2dd2d 36%,#b0dd2f 38.5%,#a0da39 40.3%,#54c568 43.5%,#46c06f 43.9%,#20a486 44.6%,#297b8e 45.7%,#38598c 47.1%,#3e4a89 48.2%,#414487 49.6%,#404588 52.2%,#3b518b 53.6%,#2a778e 55.4%,#1f9f88 56.5%,#28ae80 56.8%,#50c46a 57.5%,#9dd93b 60.8%,#b0dd2f 62.5%,#b2dd2d 65.1%,#addc30 67.2%,#98d83e 69%,#63cb5f 70.8%,#32b67a 72.2%,#1fa187 73.3%,#2a768e 75.8%,#355f8d 78%,#355f8d 79%,#31688e 80.1%,#29798e 81.2%,#1fa287 83%,#32b67a 83.7%,#5ac864 84.4%,#90d743 85.1%,#d2e21b 85.8%,#f4e61e 86.2%,#fde725 86.6%,#fde725 99.8%)"></i><i style="background:linear-gradient(90deg,#fde725 0.2%,#fde725 14.9%,#f8e621 15.2%,#dae319 15.6%,#7ad151 16.7%,#46c06f 17.4%,#27ad81 18.1%,#1e9b8a 18.8%,#2c738e 20.6%,#32648e 21.7%,#355f8d 23.8%,#2c738e 25.6%,#20928c 27.4%,#21a685 28.5%,#2eb37c 29.2%,#50c46a 30.3%,#75d054 31.4%,#98d83e 32.8%,#a8db34 34.6%,#aadc32 35.7%,#a8db34 38.9%,#93d741 40.7%,#52c569 43.5%,#44bf70 43.9%,#20a386 44.6%,#297b8e 45.7%,#355f8d 46.8%,#3e4a89 48.2%,#414487 49.6%,#404588 52.2%,#3b518b 53.6%,#2e6d8e 55%,#1f9f88 56.5%,#28ae80 56.8%,#4ec36b 57.5%,#7ad151 59.3%,#9bd93c 61.1%,#a8db34 62.5%,#aadc32 65.8%,#a5db36 67.2%,#93d741 68.6%,#60ca60 70.4%,#3bbb75 71.5%,#22a884 72.6%,#1f948c 73.7%,#2b758e 75.4%,#355e8d 77.6%,#355e8d 78.7%,#31678e 79.7%,#24868e 81.5%,#1fa188 82.6%,#2fb47c 83.3%,#56c667 84.1%,#8bd646 84.8%,#cde11d 85.5%,#efe51c 85.8%,#fde725 86.2%,#fde725 99.8%)"></i><i style="background:linear-gradient(90deg,#fde725 0.2%,#fde725 15.2%,#f4e61e 15.6%,#d2e21b 15.9%,#75d054 17%,#42be71 17.7%,#25ac82 18.5%,#1fa187 18.8%,#24878e 19.9%,#31678e 21.7%,#365c8d 23.5%,#30698e 25.3%,#20928c 27.8%,#21a585 28.9%,#37b878 29.9%,#7cd250 32.1%,#93d741 33.2%,#a2da37 35.3%,#a0da39 38.9%,#86d549 41%,#52c569 43.5%,#2eb37c 44.3%,#20a386 44.6%,#297a8e 45.7%,#3b528b 47.5%,#404688 48.9%,#414487 51.8%,#39568c 53.9%,#2a768e 55.4%,#1f9e89 56.5%,#27ad81 56.8%,#4ec36b 57.5%,#90d743 60.8%,#a2da37 62.9%,#a2da37 65.8%,#9bd93c 67.2%,#8ed645 68.3%,#69cd5b 69.7%,#28ae80 71.9%,#1e9b8a 72.9%,#2f6b8e 75.8%,#365c8d 77.6%,#355f8d 78.7%,#2d708e 80.1%,#1f958b 81.9%,#22a884 82.6%,#3dbc74 83.3%,#69cd5b 84.1%,#c8e020 85.1%,#eae51a 85.5%,#fde725 85.8%,#fde725 99.8%)"></i><i style="background:linear-gradient(90deg,#fde725 0.2%,#fde725 15.6%,#efe51c 15.9%,#cde11d 16.3%,#70cf57 17.4%,#3fbc73 18.1%,#2eb37c 18.5%,#1fa188 19.2%,#2a778e 21%,#31668e 22%,#365c8d 24.2%,#2c738e 26.3%,#20928c 28.1%,#21a585 29.2%,#2db27d 29.9%,#63cb5f 31.7%,#7fd34e 32.8%,#90d743 33.9%,#9bd93c 35.3%,#9bd93c 38.5%,#93d741 40%,#84d44b 41%,#60ca60 42.8%,#42be71 43.9%,#1fa287 44.6%,#297a8e 45.7%,#355f8d 46.8%,#3b528b 47.5%,#404688 48.9%,#414487 51.8%,#3b518b 53.6%,#2a768e 55.4%,#1e9d89 56.5%,#26ad81 56.8%,#3bbb75 57.2%,#4cc26c 57.5%,#5ec962 58.2%,#81d34d 60%,#9bd93c 62.5%,#9bd93c 65.8%,#93d741 67.2%,#84d44b 68.3%,#73d056 69%,#2fb47c 71.1%,#1fa187 72.2%,#2b758e 74.7%,#365d8d 76.9%,#365c8d 78%,#32648e 79%,#2b748e 80.1%,#1e9d89 81.9%,#2ab07f 82.6%,#4ec36b 83.3%,#81d34d 84.1%,#c2df23 84.8%,#e5e419 85.1%,#fde725 85.5%,#fde725 99.8%)"></i><i style="background:linear-gradient(90deg,#fde725 0.2%,#fde725 15.9%,#eae51a 16.3%,#c8e020 16.7%,#69cd5b 17.7%,#3bbb75 18.5%,#22a884 19.2%,#1f9f88 19.5%,#2b758e 21.3%,#32658e 22.4%,#365c8d 23.5%,#365c8d 24.6%,#2c738e 26.7%,#20928c 28.5%,#21a585 29.6%,#2cb17e 30.3%,#60ca60 32.1%,#75d054 32.8%,#8bd646 34.2%,#93d741 35.3%,#95d840 38.2%,#8bd646 40.3%,#75d054 41.8%,#50c46a 43.5%,#40bd72 43.9%,#1fa187 44.6%,#25858e 45.3%,#31678e 46.4%,#3b528b 47.5%,#3f4788 48.6%,#414487 51.8%,#3e4989 52.9%,#39558c 53.9%,#2f6c8e 55%,#1e9d89 56.5%,#25ac82 56.8%,#4cc26c 57.5%,#7ad151 59.7%,#90d743 61.5%,#95d840 62.9%,#93d741 65.8%,#89d548 67.2%,#7fd34e 67.9%,#5ac864 69.4%,#2fb47c 70.8%,#1fa188 71.9%,#2b758e 74.4%,#365c8d 76.5%,#375b8d 77.6%,#33638d 78.7%,#2c738e 79.7%,#1e9b8a 81.5%,#28ae80 82.3%,#60ca60 83.3%,#9bd93c 84.1%,#dfe318 84.8%,#fde725 85.1%,#fde725 99.8%)"></i><i style="background:linear-gradient(90deg,#fde725 0.2%,#fde725 16.3%,#e5e419 16.7%,#c2df23 17%,#81d34d 17.7%,#4ec36b 18.5%,#2ab07f 19.2%,#1e9d89 19.9%,#26828e 21%,#33638d 22.8%,#375b8d 24.9%,#2c728e 27.1%,#20928c 28.9%,#20a486 29.9%,#2cb17e 30.6%,#4ac16d 31.7%,#77d153 33.5%,#89d548 34.9%,#8ed645 36.4%,#8ed645 38.9%,#7fd34e 41%,#50c46a 43.5%,#2ab07f 44.3%,#1fa188 44.6%,#29798e 45.7%,#38588c 47.1%,#3f4788 48.6%,#414487 49.6%,#404588 52.2%,#39558c 53.9%,#2b758e 55.4%,#1e9c89 56.5%,#25ab82 56.8%,#4cc26c 57.5%,#77d153 59.7%,#8bd646 61.5%,#8ed645 65.1%,#84d44b 66.8%,#63cb5f 68.6%,#2eb37c 70.4%,#1fa188 71.5%,#2b748e 74%,#34618d 75.4%,#375a8c 76.5%,#31668e 78.7%,#2a788e 79.7%,#1fa287 81.5%,#34b679 82.3%,#5cc863 83%,#95d840 83.7%,#dae319 84.4%,#fbe723 84.8%,#fde725 99.8%)"></i><i style="background:linear-gradient(90deg,#fde725 0.2%,#fde725 16.7%,#dfe318 17%,#60ca60 18.5%,#28ae80 19.5%,#1e9b8a 20.3%,#29798e 21.7%,#33628d 23.1%,#375a8c 25.3%,#2c728e 27.4%,#20928c 29.2%,#20a486 30.3%,#2ab07f 31%,#48c16e 32.1%,#73d056 33.9%,#86d549 36.4%,#84d44b 40%,#6ccd5a 42.1%,#58c765 43.2%,#3fbc73 43.9%,#29af7f 44.3%,#1fa188 44.6%,#25848e 45.3%,#355e8d 46.8%,#3e4a89 48.2%,#414487 49.6%,#404588 52.2%,#3c508b 53.6%,#2b758e 55.4%,#1e9b8a 56.5%,#25ab82 56.8%,#4ac16d 57.5%,#75d054 59.7%,#84d44b 61.1%,#86d549 65.1%,#7ad151 66.8%,#67cc5c 67.9%,#2eb37c 70.1%,#1fa188 71.1%,#32658e 74.7%,#38598c 76.5%,#365d8d 77.6%,#306a8e 78.7%,#1fa188 81.2%,#31b57b 81.9%,#58c765 82.6%,#90d743 83.3%,#d2e21b 84.1%,#f4e61e 84.4%,#fde725 84.8%,#fde725 99.8%)"></i><i style="background:linear-gradient(90deg,#fde725 0.2%,#fbe723 17%,#dae319 17.4%,#77d153 18.5%,#5cc863 18.8%,#34b679 19.5%,#1fa287 20.3%,#24878e 21.3%,#32658e 23.1%,#375a8c 24.2%,#375a8c 25.6%,#2c728e 27.8%,#20a486 30.6%,#2ab07f 31.4%,#46c06f 32.4%,#6ece58 34.2%,#7ad151 35.3%,#81d34d 37.1%,#7fd34e 40%,#73d056 41.4%,#4ec36b 43.5%,#29af7f 44.3%,#1fa088 44.6%,#2a788e 45.7%,#355e8d 46.8%,#3e4a89 48.2%,#414487 49.6%,#404588 52.2%,#3c508b 53.6%,#2b758e 55.4%,#1f9a8a 56.5%,#24aa83 56.8%,#4ac16d 57.5%,#73d056 59.7%,#81d34d 62.2%,#7fd34e 65.1%,#75d054 66.5%,#63cb5f 67.6%,#2db27d 69.7%,#1fa088 70.8%,#24868e 72.2%,#34608d 74.7%,#38588c 76.2%,#365c8d 77.2%,#30698e 78.3%,#25848e 79.7%,#1fa088 80.8%,#2eb37c 81.5%,#54c568 82.3%,#8bd646 83%,#cde11d 83.7%,#efe51c 84.1%,#fde725 84.4%,#fde725 99.8%)"></i><i style="background:linear-gradient(90deg,#fde725 0.2%,#fde725 17%,#f6e620 17.4%,#d5e21a 17.7%,#90d743 18.5%,#58c765 19.2%,#31b57b 19.9%,#1fa188 20.6%,#2a768e 22.4%,#32648e 23.5%,#38598c 24.6%,#38588c 25.6%,#33638d 27.1%,#25848e 29.2%,#20a386 31%,#29af7f 31.7%,#5ec962 33.9%,#75d054 35.7%,#7ad151 37.1%,#7ad151 39.6%,#70cf57 41.4%,#4ec36b 43.5%,#28ae80 44.3%,#1f9f88 44.6%,#2a788e 45.7%,#355e8d 46.8%,#3e4a89 48.2%,#414487 49.6%,#404588 52.2%,#3c508b 53.6%,#2b748e 55.4%,#1f9a8a 56.5%,#23a983 56.8%,#48c16e 57.5%,#5ac864 58.2%,#73d056 60%,#7ad151 61.5%,#7ad151 64%,#73d056 65.8%,#60ca60 67.2%,#25ac82 69.7%,#1fa088 70.4%,#30698e 73.7%,#38588c 75.4%,#33628d 77.6%,#297b8e 79%,#1f9e89 80.5%,#2cb17e 81.2%,#50c46a 81.9%,#86d549 82.6%,#c8e020 83.3%,#eae51a 83.7%,#fde725 84.1%,#fde725 99.8%)"></i><i style="background:linear-gradient(90deg,#fde725 0.2%,#fde725 17.4%,#f1e51d 17.7%,#d0e11c 18.1%,#8bd646 18.8%,#54c568 19.5%,#2eb37c 20.3%,#23a983 20.6%,#1f958b 21.3%,#2b748e 22.8%,#355e8d 24.2%,#39568c 25.3%,#355e8d 27.1%,#1e9d89 31%,#23a983 31.7%,#42be71 33.2%,#5ac864 34.2%,#6ccd5a 35.7%,#73d056 37.1%,#73d056 40.3%,#60ca60 42.5%,#4cc26c 43.5%,#3bbb75 43.9%,#27ad81 44.3%,#1f9f88 44.6%,#2a788e 45.7%,#355e8d 46.8%,#3e4a89 48.2%,#414487 49.6%,#404588 52.2%,#3c508b 53.6%,#2b748e 55.4%,#1f998a 56.5%,#22a884 56.8%,#48c16e 57.5%,#63cb5f 59%,#73d056 61.1%,#73d056 64.3%,#67cc5c 66.1%,#56c667 67.2%,#25ac82 69.4%,#1fa088 70.1%,#30698e 73.3%,#39568c 75.1%,#375a8c 76.5%,#31668e 77.6%,#1e9c89 80.1%,#29af7f 80.8%,#4cc26c 81.5%,#81d34d 82.3%,#c2df23 83%,#e5e419 83.3%,#fde725 83.7%,#fde725 99.8%)"></i><i style="background:linear-gradient(90deg,#fde725 0.2%,#fde725 17.7%,#ece51b 18.1%,#cae11f 18.5%,#86d549 19.2%,#50c46a 19.9%,#2cb17e 20.6%,#1e9d89 21.3%,#26828e 22.4%,#34618d 24.2%,#39568c 25.3%,#39558c 26.3%,#2c718e 28.9%,#1fa287 31.7%,#28ae80 32.4%,#50c46a 34.2%,#65cb5e 35.7%,#6ece58 38.2%,#6ccd5a 40.7%,#5ec962 42.5%,#54c568 43.2%,#3aba76 43.9%,#26ad81 44.3%,#1f9e89 44.6%,#2a778e 45.7%,#3b528b 47.5%,#3f4788 48.6%,#414487 51.8%,#3e4c8a 53.2%,#375b8d 54.3%,#2c738e 55.4%,#1f988b 56.5%,#22a884 56.8%,#46c06f 57.5%,#60ca60 59%,#6ccd5a 60.4%,#6ece58 63.3%,#63cb5f 65.8%,#52c569 66.8%,#2ab07f 68.6%,#1f9f88 69.7%,#25858e 71.1%,#355f8d 73.7%,#39558c 75.1%,#39568c 75.8%,#32658e 77.2%,#23888e 79%,#20a386 80.1%,#35b779 80.8%,#60ca60 81.5%,#9bd93c 82.3%,#dfe318 83%,#fde725 83.3%,#fde725 99.8%)"></i><i style="background:linear-gradient(90deg,#fde725 0.2%,#fde725 18.1%,#eae51a 18.5%,#c8e020 18.8%,#84d44b 19.5%,#4ec36b 20.3%,#29af7f 21%,#1e9c89 21.7%,#32658e 24.2%,#39558c 25.6%,#3a548c 26.7%,#31668e 28.5%,#23898e 30.6%,#1fa287 32.1%,#27ad81 32.8%,#52c569 34.9%,#63cb5f 36.7%,#67cc5c 38.5%,#65cb5e 41%,#5ac864 42.5%,#52c569 43.2%,#3aba76 43.9%,#26ad81 44.3%,#1e9d89 44.6%,#2a778e 45.7%,#3b528b 47.5%,#3f4889 48.6%,#404588 51.8%,#39558c 53.9%,#2b748e 55.4%,#1f988b 56.5%,#22a785 56.8%,#44bf70 57.5%,#54c568 58.2%,#60ca60 59.3%,#67cc5c 61.5%,#65cb5e 64%,#5cc863 65.4%,#48c16e 66.8%,#29af7f 68.3%,#1f9e89 69.4%,#33638d 72.9%,#3a548c 74.7%,#39568c 75.8%,#33638d 76.9%,#24868e 78.7%,#1fa287 79.7%,#34b679 80.5%,#5ec962 81.2%,#98d83e 81.9%,#dde318 82.6%,#fde725 83%,#fde725 99.8%)"></i><i style="background:linear-gradient(90deg,#fde725 0.2%,#fde725 18.5%,#eae51a 18.8%,#c8e020 19.2%,#84d44b 19.9%,#4ec36b 20.6%,#29af7f 21.3%,#1e9b8a 22%,#32648e 24.6%,#39568c 25.6%,#3a538b 27.1%,#32658e 28.9%,#1e9b8a 32.1%,#26ad81 33.2%,#48c16e 34.9%,#56c667 36%,#5ec962 37.8%,#5ec962 40.7%,#52c569 42.8%,#46c06f 43.5%,#38b977 43.9%,#25ac82 44.3%,#1e9d89 44.6%,#2a788e 45.7%,#3a548c 47.5%,#3e4a89 48.6%,#3f4788 51.8%,#3c4f8a 53.2%,#365d8d 54.3%,#2b748e 55.4%,#1f988b 56.5%,#21a685 56.8%,#31b57b 57.2%,#42be71 57.5%,#52c569 58.2%,#5ec962 60.4%,#5ec962 63.3%,#56c667 65.1%,#3dbc74 66.8%,#28ae80 67.9%,#1e9d89 69%,#2c718e 71.5%,#3a538b 74%,#39558c 75.4%,#33628d 76.5%,#25858e 78.3%,#1fa187 79.4%,#32b67a 80.1%,#5ec962 80.8%,#dde318 82.3%,#fde725 82.6%,#fde725 99.8%)"></i><i style="background:linear-gradient(90deg,#fde725 0.2%,#fde725 18.8%,#eae51a 19.2%,#c8e020 19.5%,#84d44b 20.3%,#4ec36b 21%,#28ae80 21.7%,#1e9b8a 22.4%,#2a778e 23.8%,#365d8d 25.3%,#3b518b 27.1%,#355f8d 28.9%,#24878e 31.4%,#1fa088 32.8%,#3dbc74 34.9%,#50c46a 36.4%,#56c667 37.8%,#58c765 40.3%,#50c46a 42.5%,#48c16e 43.2%,#35b779 43.9%,#25ab82 44.3%,#1e9d89 44.6%,#2d708e 46.1%,#39568c 47.5%,#3e4a89 48.9%,#3f4889 51.1%,#3d4e8a 52.9%,#38598c 53.9%,#2b758e 55.4%,#1f988b 56.5%,#21a685 56.8%,#3dbc74 57.5%,#52c569 59%,#58c765 61.1%,#56c667 63.6%,#4ec36b 65.1%,#3aba76 66.5%,#26ad81 67.6%,#1e9c89 68.6%,#2f6b8e 71.5%,#3a548c 73.3%,#3b518b 74%,#3a548c 75.1%,#34618d 76.2%,#2b748e 77.2%,#1fa187 79%,#32b67a 79.7%,#5cc863 80.5%,#bddf26 81.5%,#dfe318 81.9%,#fde725 82.3%,#fde725 99.8%)"></i><i style="background:linear-gradient(90deg,#fde725 0.2%,#fde725 19.2%,#ece51b 19.5%,#c8e020 19.9%,#84d44b 20.6%,#4cc26c 21.3%,#28ae80 22%,#20a486 22.4%,#24878e 23.5%,#34618d 25.3%,#3c508b 27.1%,#38598c 28.9%,#24868e 31.7%,#1f9f88 33.2%,#2eb37c 34.6%,#46c06f 36.4%,#50c46a 38.5%,#4ec36b 41.4%,#3bbb75 43.5%,#1e9d89 44.6%,#2d718e 46.1%,#38588c 47.5%,#3d4d8a 48.9%,#3e4a89 51.1%,#3b528b 53.2%,#34608d 54.3%,#2a768e 55.4%,#1f988b 56.5%,#21a585 56.8%,#38b977 57.5%,#44bf70 58.2%,#50c46a 60.4%,#50c46a 62.9%,#48c16e 64.7%,#3bbb75 65.8%,#25ac82 67.2%,#1e9b8a 68.3%,#355f8d 71.9%,#3c508b 73.7%,#3b528b 74.7%,#355f8d 75.8%,#2c738e 76.9%,#1fa188 78.7%,#31b57b 79.4%,#5cc863 80.1%,#bddf26 81.2%,#dfe318 81.5%,#fde725 81.9%,#fde725 99.8%)"></i><i style="background:linear-gradient(90deg,#fde725 0.2%,#fde725 19.5%,#ece51b 19.9%,#cae11f 20.3%,#84d44b 21%,#4cc26c 21.7%,#27ad81 22.4%,#20a386 22.8%,#24868e 23.8%,#34608d 25.6%,#39558c 26.3%,#3c4f8a 27.4%,#38588c 29.2%,#1e9d89 33.5%,#31b57b 35.3%,#48c16e 38.2%,#48c16e 41%,#3fbc73 42.8%,#2db27d 43.9%,#1e9c89 44.6%,#2c718e 46.1%,#355e8d 47.1%,#3c508b 48.6%,#3d4d8a 51.4%,#3a548c 53.2%,#33628d 54.3%,#2a778e 55.4%,#1f988b 56.5%,#29af7f 57.2%,#34b679 57.5%,#3dbc74 58.2%,#48c16e 60%,#4ac16d 61.8%,#42be71 64.3%,#32b67a 65.8%,#20a486 67.2%,#1f998a 67.9%,#355e8d 71.5%,#3c4f8a 73.3%,#3b518b 74.4%,#355e8d 75.4%,#2c728e 76.5%,#1fa088 78.3%,#31b57b 79%,#5cc863 79.7%,#bddf26 80.8%,#dfe318 81.2%,#fde725 81.5%,#fde725 99.8%)"></i><i style="background:linear-gradient(90deg,#fde725 0.2%,#fde725 19.9%,#ece51b 20.3%,#cae11f 20.6%,#84d44b 21.3%,#4cc26c 22%,#27ad81 22.8%,#1fa287 23.1%,#32658e 25.6%,#3a548c 26.7%,#3d4d8a 27.8%,#39568c 29.6%,#1e9c89 33.9%,#32b67a 36%,#3fbc73 37.8%,#42be71 40.7%,#3bbb75 42.5%,#31b57b 43.5%,#1e9c89 44.6%,#2c728e 46.1%,#375b8d 47.5%,#3b528b 48.6%,#3c4f8a 51.4%,#3a538b 52.9%,#33638d 54.3%,#2a788e 55.4%,#1f978b 56.5%,#2eb37c 57.5%,#3dbc74 59%,#42be71 60.4%,#3dbc74 64%,#2fb47c 65.4%,#1f9e89 67.2%,#24868e 68.6%,#3a538b 71.9%,#3d4d8a 73.3%,#3a538b 74.4%,#33638d 75.4%,#29798e 76.5%,#1fa088 78%,#2fb47c 78.7%,#42be71 79%,#7ad151 79.7%,#bddf26 80.5%,#e2e418 80.8%,#fde725 81.2%,#fde725 99.8%)"></i><i style="background:linear-gradient(90deg,#fde725 0.2%,#fde725 20.3%,#efe51c 20.6%,#cae11f 21%,#84d44b 21.7%,#4ac16d 22.4%,#26ad81 23.1%,#1fa287 23.5%,#32648e 26%,#3a538b 27.1%,#3e4c8a 28.1%,#39558c 29.9%,#1e9b8a 34.2%,#32b67a 36.7%,#3bbb75 38.5%,#3bbb75 41%,#32b67a 42.8%,#26ad81 43.9%,#1e9b8a 44.6%,#2c738e 46.1%,#34618d 47.1%,#3a548c 48.6%,#3b518b 51.8%,#39558c 52.9%,#306a8e 54.7%,#1f978b 56.5%,#2ab07f 57.5%,#3aba76 59.7%,#3aba76 63.3%,#2db27d 65.1%,#1e9d89 66.8%,#39568c 71.1%,#3e4c8a 72.9%,#39558c 74.4%,#2a788e 76.2%,#1f9f88 77.6%,#23a983 78%,#42be71 78.7%,#7ad151 79.4%,#bddf26 80.1%,#e2e418 80.5%,#fde725 80.8%,#fde725 99.8%)"></i><i style="background:linear-gradient(90deg,#fde725 0.2%,#fde725 20.6%,#efe51c 21%,#cae11f 21.3%,#84d44b 22%,#4ac16d 22.8%,#26ad81 23.5%,#1fa187 23.8%,#25838e 24.9%,#365c8d 26.7%,#3b518b 27.4%,#3e4989 28.9%,#3a538b 30.3%,#1f998a 34.6%,#25ac82 36%,#32b67a 37.8%,#37b878 40.7%,#2ab07f 43.2%,#24aa83 43.9%,#1f9a8a 44.6%,#2b748e 46.1%,#33638d 47.1%,#3a548c 48.9%,#3b528b 50.4%,#39558c 52.5%,#34618d 53.9%,#2c728e 55%,#1f978b 56.5%,#26ad81 57.5%,#2fb47c 58.6%,#37b878 60.8%,#2fb47c 64%,#1e9b8a 66.5%,#39558c 70.8%,#3e4a89 72.9%,#3a548c 74%,#31688e 75.1%,#20938c 76.9%,#23a983 77.6%,#2fb47c 78%,#5ac864 78.7%,#77d153 79%,#bddf26 79.7%,#e2e418 80.1%,#fde725 80.5%,#fde725 99.8%)"></i><i style="background:linear-gradient(90deg,#fde725 0.2%,#fde725 21%,#f1e51d 21.3%,#cae11f 21.7%,#84d44b 22.4%,#4ac16d 23.1%,#25ac82 23.8%,#1fa187 24.2%,#26828e 25.3%,#3a548c 27.4%,#3f4889 28.9%,#3b528b 30.6%,#24868e 33.9%,#1e9d89 35.3%,#2db27d 37.8%,#2db27d 42.1%,#22a785 43.9%,#1f998a 44.6%,#2b758e 46.1%,#34608d 47.5%,#39568c 48.9%,#3a548c 51.1%,#365c8d 53.2%,#31678e 54.3%,#1f968b 56.5%,#23a983 57.5%,#2eb37c 59.3%,#31b57b 62.2%,#25ab82 64.7%,#1f948c 66.5%,#3a548c 70.4%,#3f4889 72.2%,#3c4f8a 73.3%,#355f8d 74.4%,#1f9e89 76.9%,#22a884 77.2%,#2eb37c 77.6%,#5ac864 78.3%,#77d153 78.7%,#c0df25 79.4%,#e5e419 79.7%,#fde725 80.1%,#fde725 99.8%)"></i><i style="background:linear-gradient(90deg,#fde725 0.2%,#fde725 21.3%,#f1e51d 21.7%,#cde11d 22%,#84d44b 22.8%,#4ac16d 23.5%,#25ac82 24.2%,#1fa188 24.6%,#34608d 27.1%,#3d4e8a 28.1%,#3f4788 29.2%,#3e4989 30.3%,#39558c 31.4%,#1e9b8a 35.7%,#24aa83 37.1%,#2cb17e 38.9%,#25ac82 42.8%,#1f988b 44.6%,#2a768e 46.1%,#33628d 47.5%,#39558c 50.7%,#32648e 53.9%,#2b748e 55%,#1f958b 56.5%,#1fa287 57.2%,#25ab82 58.2%,#2cb17e 62.2%,#25ab82 64%,#1e9d89 65.4%,#24878e 66.8%,#3b528b 70.1%,#3f4889 71.1%,#3f4788 72.2%,#3b518b 73.3%,#32658e 74.4%,#1e9d89 76.5%,#22a884 76.9%,#40bd72 77.6%,#77d153 78.3%,#c0df25 79%,#e5e419 79.4%,#fde725 79.7%,#fde725 99.8%)"></i><i style="background:linear-gradient(90deg,#fde725 0.2%,#fde725 21.7%,#f1e51d 22%,#cde11d 22.4%,#63cb5f 23.5%,#48c16e 23.8%,#25ab82 24.6%,#1f958b 25.3%,#38588c 27.8%,#3e4989 28.9%,#404588 29.9%,#3a548c 31.7%,#1f948c 35.7%,#24aa83 37.8%,#26ad81 41.8%,#1e9c89 44.3%,#2a778e 46.1%,#33638d 47.5%,#375a8c 48.9%,#38588c 51.4%,#355f8d 53.2%,#306a8e 54.3%,#20938c 56.5%,#21a585 57.9%,#27ad81 59.7%,#25ac82 62.9%,#1fa088 64.7%,#20928c 65.8%,#3b518b 69.7%,#404588 71.5%,#39558c 73.3%,#2b748e 74.7%,#1e9c89 76.2%,#2db27d 76.9%,#40bd72 77.2%,#77d153 78%,#c0df25 78.7%,#e5e419 79%,#fde725 79.4%,#fde725 99.8%)"></i><i style="background:linear-gradient(90deg,#fde725 0.2%,#fde725 22%,#f4e61e 22.4%,#cde11d 22.8%,#84d44b 23.5%,#48c16e 24.2%,#32b67a 24.6%,#1fa088 25.3%,#27808e 26.3%,#39568c 28.1%,#3f4788 29.2%,#414487 29.9%,#3d4e8a 31.7%,#23898e 35.3%,#1e9c89 36.7%,#24aa83 38.9%,#22a884 42.1%,#1f998a 44.3%,#2c718e 46.4%,#34618d 47.8%,#375a8c 51.4%,#355e8d 52.9%,#2f6b8e 54.3%,#20928c 56.5%,#1f9f88 57.5%,#23a983 59.3%,#25ab82 61.8%,#21a685 63.3%,#1f958b 65.1%,#39558c 69%,#414487 70.8%,#404688 71.9%,#3a548c 72.9%,#2c738e 74.4%,#1e9c89 75.8%,#21a685 76.2%,#40bd72 76.9%,#77d153 77.6%,#c0df25 78.3%,#e7e419 78.7%,#fde725 79%,#fde725 99.8%)"></i><i style="background:linear-gradient(90deg,#fde725 0.2%,#fde725 22.4%,#f4e61e 22.8%,#d0e11c 23.1%,#84d44b 23.8%,#48c16e 24.6%,#32b67a 24.9%,#1fa088 25.6%,#2a768e 27.1%,#39568c 28.5%,#414287 30.3%,#3f4889 31.7%,#228c8d 36%,#1fa088 37.8%,#22a884 41%,#1e9d89 43.5%,#20928c 44.6%,#2c738e 46.4%,#34618d 48.2%,#365d8d 51.4%,#30698e 53.9%,#21908d 56.5%,#1fa188 58.2%,#22a884 60%,#21a585 62.5%,#218e8d 65.1%,#3e4989 69.4%,#414287 70.8%,#3a538b 72.6%,#24868e 74.7%,#1e9c89 75.4%,#22a785 75.8%,#2db27d 76.2%,#5ac864 76.9%,#9bd93c 77.6%,#c2df23 78%,#e7e419 78.3%,#fde725 78.7%,#fde725 99.8%)"></i><i style="background:linear-gradient(90deg,#fde725 0.2%,#fde725 22.8%,#f6e620 23.1%,#d0e11c 23.5%,#86d549 24.2%,#4ac16d 24.9%,#25ac82 25.6%,#1fa188 26%,#26818e 27.1%,#39568c 28.9%,#424186 30.6%,#3e4a89 32.4%,#218e8d 36.7%,#1f9e89 38.2%,#21a585 41%,#1e9d89 43.2%,#31668e 47.8%,#34618d 51.8%,#31688e 53.6%,#218f8d 56.5%,#1fa188 58.6%,#1fa188 62.5%,#21908d 64.3%,#3f4788 69%,#424186 70.4%,#3f4889 71.5%,#375b8d 72.6%,#20928c 74.7%,#22a785 75.4%,#2eb37c 75.8%,#5cc863 76.5%,#c2df23 77.6%,#eae51a 78%,#fde725 78.3%,#fde725 99.8%)"></i><i style="background:linear-gradient(90deg,#fde725 0.2%,#fde725 23.1%,#f8e621 23.5%,#d2e21b 23.8%,#67cc5c 24.9%,#4cc26c 25.3%,#25ac82 26%,#1fa188 26.3%,#26828e 27.4%,#39568c 29.2%,#424086 31%,#3f4889 32.8%,#26818e 36.4%,#1e9d89 38.9%,#1fa287 40.3%,#1f9f88 42.5%,#20928c 44.3%,#2f6c8e 47.5%,#32658e 49.3%,#32658e 51.8%,#2d718e 54.3%,#21918c 56.8%,#1e9c89 58.2%,#1fa088 61.8%,#20928c 63.6%,#3a538b 67.6%,#424086 69.4%,#424186 70.4%,#3a548c 71.9%,#2b748e 73.3%,#1e9d89 74.7%,#22a884 75.1%,#42be71 75.8%,#7cd250 76.5%,#c5e021 77.2%,#ece51b 77.6%,#fde725 78%,#fde725 99.8%)"></i><i style="background:linear-gradient(90deg,#fde725 0.2%,#fde725 23.5%,#f8e621 23.8%,#d5e21a 24.2%,#69cd5b 25.3%,#4ec36b 25.6%,#26ad81 26.3%,#1fa187 26.7%,#26828e 27.8%,#39568c 29.6%,#423f85 31.4%,#424086 32.4%,#3e4a89 33.5%,#228d8d 37.8%,#1e9d89 39.6%,#1f9e89 42.1%,#228c8d 44.6%,#2c718e 47.1%,#31688e 51.4%,#2c738e 54.3%,#1f998a 58.2%,#1f9f88 61.1%,#238a8d 63.6%,#3f4788 67.9%,#423f85 69.7%,#3a548c 71.5%,#20928c 74%,#23a983 74.7%,#2fb47c 75.1%,#5ec962 75.8%,#c8e020 76.9%,#ece51b 77.2%,#fde725 77.6%,#fde725 99.8%)"></i><i style="background:linear-gradient(90deg,#fde725 0.2%,#fde725 23.8%,#fbe723 24.2%,#d8e219 24.6%,#8bd646 25.3%,#4ec36b 26%,#27ad81 26.7%,#1fa287 27.1%,#26828e 28.1%,#39568c 29.9%,#3e4989 30.6%,#433e85 32.1%,#3f4788 33.9%,#238a8d 38.2%,#1e9b8a 40.3%,#1f978b 42.8%,#2c728e 47.5%,#2f6c8e 51.8%,#287d8e 55.4%,#20928c 57.5%,#1e9c89 59.3%,#1e9c89 60.8%,#21908d 62.5%,#31668e 65.4%,#424186 67.9%,#433e85 69.4%,#3f4788 70.4%,#3a548c 71.1%,#20938c 73.7%,#24aa83 74.4%,#31b57b 74.7%,#60ca60 75.4%,#a2da37 76.2%,#cae11f 76.5%,#efe51c 76.9%,#fde725 77.2%,#fde725 99.8%)"></i><i style="background:linear-gradient(90deg,#fde725 0.2%,#fde725 24.6%,#d8e219 24.9%,#8ed645 25.6%,#50c46a 26.3%,#28ae80 27.1%,#1fa287 27.4%,#1f988b 27.8%,#39568c 30.3%,#424086 31.7%,#443b84 32.8%,#404588 34.2%,#24878e 38.5%,#1f998a 41%,#1f988b 42.1%,#25838e 45%,#2d708e 49.3%,#2c738e 53.2%,#1f968b 58.6%,#1f998a 60.4%,#228d8d 62.2%,#414287 67.2%,#443b84 68.3%,#414287 69.7%,#3a548c 70.8%,#23898e 72.9%,#1f9f88 73.7%,#24aa83 74%,#48c16e 74.7%,#81d34d 75.4%,#cae11f 76.2%,#f1e51d 76.5%,#fde725 76.9%,#fde725 99.8%)"></i><i style="background:linear-gradient(90deg,#fde725 0.2%,#fde725 24.9%,#dae319 25.3%,#90d743 26%,#52c569 26.7%,#28ae80 27.4%,#20a386 27.8%,#25838e 28.9%,#3c508b 31%,#423f85 32.1%,#443a83 33.2%,#414287 34.6%,#277f8e 38.5%,#1f948c 40.7%,#1f958b 42.1%,#25858e 44.6%,#2c728e 50.4%,#2b758e 52.9%,#1f968b 59.3%,#1f948c 60.4%,#26818e 62.5%,#424086 66.8%,#443b84 68.6%,#3a548c 70.4%,#1f948c 72.9%,#25ab82 73.7%,#32b67a 74%,#48c16e 74.4%,#84d44b 75.1%,#cde11d 75.8%,#f1e51d 76.2%,#fde725 76.5%,#fde725 99.8%)"></i><i style="background:linear-gradient(90deg,#fde725 0.2%,#fde725 25.3%,#dde318 25.6%,#70cf57 26.7%,#3bbb75 27.4%,#29af7f 27.8%,#1f998a 28.5%,#31688e 30.3%,#3e4989 31.7%,#443b84 32.8%,#443983 33.5%,#404588 35.3%,#26818e 39.2%,#20928c 41%,#24868e 46.1%,#2a768e 49.6%,#2a778e 52.2%,#24878e 55.4%,#20928c 60%,#277e8e 62.2%,#414287 66.1%,#443983 67.6%,#424186 69%,#3a548c 70.1%,#1f958b 72.6%,#25ac82 73.3%,#34b679 73.7%,#65cb5e 74.4%,#d0e11c 75.4%,#f4e61e 75.8%,#fde725 76.2%,#fde725 99.8%)"></i><i style="background:linear-gradient(90deg,#fde725 0.2%,#fde725 25.6%,#dde318 26%,#93d741 26.7%,#54c568 27.4%,#3bbb75 27.8%,#20a486 28.5%,#1f9a8a 28.9%,#3c508b 31.7%,#423f85 32.8%,#453882 33.9%,#414287 35.7%,#277e8e 39.6%,#218f8d 41.8%,#228b8d 45.3%,#297a8e 49.3%,#297a8e 51.8%,#228b8d 55.7%,#218f8d 59.7%,#27808e 61.5%,#424086 65.8%,#453882 67.2%,#424186 68.6%,#39558c 69.7%,#1f968b 72.2%,#25ac82 72.9%,#35b779 73.3%,#67cc5c 74%,#d0e11c 75.1%,#f6e620 75.4%,#fde725 75.8%,#fde725 99.8%)"></i><i style="background:linear-gradient(90deg,#fde725 0.2%,#fde725 26%,#dfe318 26.3%,#bade28 26.7%,#73d056 27.4%,#3dbc74 28.1%,#2ab07f 28.5%,#1f9a8a 29.2%,#3c508b 32.1%,#414287 32.8%,#453781 34.2%,#424086 36%,#365c8d 37.8%,#24878e 41%,#228d8d 43.2%,#228d8d 45.3%,#287d8e 50%,#277e8e 52.2%,#228d8d 55.7%,#238a8d 59.7%,#287d8e 61.1%,#414287 65.1%,#453781 66.8%,#424186 68.3%,#39558c 69.4%,#1f968b 71.9%,#26ad81 72.6%,#4cc26c 73.3%,#89d548 74%,#d2e21b 74.7%,#f8e621 75.1%,#fde725 75.4%,#fde725 99.8%)"></i><i style="background:linear-gradient(90deg,#fde725 0.2%,#fde725 26.3%,#e2e418 26.7%,#bddf26 27.1%,#75d054 27.8%,#3fbc73 28.5%,#2cb17e 28.9%,#1e9b8a 29.6%,#3c508b 32.4%,#414287 33.2%,#453581 34.6%,#453581 35.3%,#414287 36.7%,#26818e 41%,#218e8d 44.3%,#26818e 49.3%,#26828e 52.9%,#218e8d 55.7%,#228c8d 58.2%,#297a8e 60.8%,#443b84 65.1%,#453581 66.5%,#424186 67.9%,#39558c 69%,#26828e 70.8%,#1fa287 71.9%,#27ad81 72.2%,#4ec36b 72.9%,#69cd5b 73.3%,#d5e21a 74.4%,#f8e621 74.7%,#fde725 75.1%,#fde725 99.8%)"></i><i style="background:linear-gradient(90deg,#fde725 0.2%,#fde725 26.7%,#e5e419 27.1%,#bddf26 27.4%,#98d83e 27.8%,#58c765 28.5%,#2db27d 29.2%,#1e9c89 29.9%,#24868e 30.6%,#3c508b 32.8%,#414287 33.5%,#463480 34.9%,#443b84 36.7%,#365c8d 38.9%,#26828e 41.8%,#218e8d 45%,#25838e 49.3%,#25848e 52.5%,#218e8d 55.7%,#228b8d 57.9%,#2a778e 60.4%,#443983 64.7%,#463480 66.1%,#443b84 67.2%,#39558c 68.6%,#26828e 70.4%,#1fa287 71.5%,#38b977 72.2%,#50c46a 72.6%,#6ccd5a 72.9%,#d8e219 74%,#fbe723 74.4%,#fde725 74.7%,#fde725 99.8%)"></i><i style="background:linear-gradient(90deg,#fde725 0.2%,#fde725 27.1%,#e5e419 27.4%,#c0df25 27.8%,#7ad151 28.5%,#40bd72 29.2%,#22a884 29.9%,#1e9d89 30.3%,#24878e 31%,#38598c 32.8%,#414287 33.9%,#453581 34.9%,#46337f 36%,#443a83 37.1%,#2e6f8e 40.7%,#24878e 43.2%,#228d8d 45.7%,#25858e 51.8%,#228d8d 55.7%,#26818e 59%,#375b8d 61.8%,#443b84 64%,#46337f 65.8%,#443b84 66.8%,#3d4e8a 67.9%,#25838e 70.1%,#20a386 71.1%,#29af7f 71.5%,#52c569 72.2%,#6ece58 72.6%,#d8e219 73.7%,#fde725 74%,#fde725 99.8%)"></i><i style="background:linear-gradient(90deg,#fde725 0.2%,#fde725 27.4%,#e7e419 27.8%,#c2df23 28.1%,#7cd250 28.9%,#44bf70 29.6%,#2fb47c 29.9%,#1f9e89 30.6%,#23888e 31.4%,#3e4a89 33.9%,#46337f 35.7%,#453581 37.1%,#365d8d 40%,#26818e 42.8%,#228b8d 45.3%,#23898e 56.8%,#2a778e 59.3%,#443a83 63.6%,#46337f 65.4%,#443b84 66.5%,#3c4f8a 67.6%,#25848e 69.7%,#20a486 70.8%,#3bbb75 71.5%,#54c568 71.9%,#70cf57 72.2%,#dae319 73.3%,#fde725 73.7%,#fde725 99.8%)"></i><i style="background:linear-gradient(90deg,#fde725 0.2%,#fde725 27.8%,#eae51a 28.1%,#c5e021 28.5%,#60ca60 29.6%,#31b57b 30.3%,#24aa83 30.6%,#1f9f88 31%,#23898e 31.7%,#3e4a89 34.2%,#443983 35.3%,#46327e 36.4%,#443a83 38.2%,#3a548c 40%,#297b8e 42.8%,#238a8d 46.4%,#24878e 56.5%,#2d718e 59.3%,#453882 63.3%,#463480 65.4%,#3f4889 66.8%,#30698e 68.3%,#1e9b8a 70.1%,#21a685 70.4%,#3dbc74 71.1%,#73d056 71.9%,#bade28 72.6%,#dfe318 72.9%,#fde725 73.3%,#fde725 99.8%)"></i><i style="background:linear-gradient(90deg,#fde725 0.2%,#fde725 28.1%,#ece51b 28.5%,#c8e020 28.9%,#63cb5f 29.9%,#32b67a 30.6%,#25ab82 31%,#1f948c 31.7%,#3a538b 34.2%,#443983 35.7%,#46307e 37.1%,#443983 38.5%,#355e8d 41%,#29798e 43.2%,#23888e 46.4%,#23888e 54.7%,#26828e 56.8%,#2e6f8e 59%,#443a83 62.5%,#46307e 64%,#46327e 64.7%,#3e4989 66.5%,#306a8e 67.9%,#1e9c89 69.7%,#22a785 70.1%,#3fbc73 70.8%,#75d054 71.5%,#bddf26 72.2%,#e2e418 72.6%,#fde725 72.9%,#fde725 99.8%)"></i><i style="background:linear-gradient(90deg,#fde725 0.2%,#fde725 28.5%,#efe51c 28.9%,#cae11f 29.2%,#65cb5e 30.3%,#34b679 31%,#25ac82 31.4%,#1f968b 32.1%,#3a548c 34.6%,#443983 36%,#46307e 37.1%,#443b84 39.2%,#2f6b8e 42.5%,#297a8e 43.9%,#24868e 46.8%,#26828e 56.1%,#2d718e 58.2%,#453581 62.5%,#46307e 64%,#453882 65.1%,#3e4989 66.1%,#2f6b8e 67.6%,#1e9d89 69.4%,#22a884 69.7%,#40bd72 70.4%,#77d153 71.1%,#c0df25 71.9%,#e5e419 72.2%,#fde725 72.6%,#fde725 99.8%)"></i><i style="background:linear-gradient(90deg,#fde725 0.2%,#fde725 28.9%,#f1e51d 29.2%,#cde11d 29.6%,#86d549 30.3%,#4cc26c 31%,#35b779 31.4%,#1fa187 32.1%,#26828e 33.2%,#3d4d8a 35.3%,#453581 36.7%,#46307e 37.5%,#453581 39.2%,#2e6d8e 43.2%,#26818e 45.7%,#25858e 53.2%,#26828e 55.4%,#29798e 56.8%,#375b8d 59.3%,#443b84 61.5%,#472f7d 63.3%,#463480 64.3%,#3e4a89 65.8%,#23898e 68.3%,#23a983 69.4%,#2fb47c 69.7%,#5cc863 70.4%,#c2df23 71.5%,#e7e419 71.9%,#fde725 72.2%,#fde725 99.8%)"></i><i style="background:linear-gradient(90deg,#fde725 0.2%,#fde725 29.2%,#f4e61e 29.6%,#d0e11c 29.9%,#89d548 30.6%,#4ec36b 31.4%,#27ad81 32.1%,#1fa287 32.4%,#25838e 33.5%,#39558c 35.3%,#443a83 36.7%,#46307e 37.8%,#463480 39.6%,#365c8d 42.5%,#29798e 45%,#26828e 46.8%,#25848e 51.1%,#26828e 54.3%,#297a8e 56.1%,#355e8d 58.6%,#453581 61.5%,#472f7d 63.3%,#453882 64.3%,#3a538b 65.8%,#1f948c 68.3%,#24aa83 69%,#31b57b 69.4%,#5ec962 70.1%,#c5e021 71.1%,#eae51a 71.5%,#fde725 71.9%,#fde725 99.8%)"></i><i style="background:linear-gradient(90deg,#fde725 0.2%,#fde725 29.6%,#f6e620 29.9%,#d2e21b 30.3%,#8bd646 31%,#50c46a 31.7%,#28ae80 32.4%,#1f998a 33.2%,#39568c 35.7%,#443a83 37.1%,#472f7d 38.2%,#46307e 39.6%,#443a83 40.7%,#30698e 43.9%,#29798e 45.7%,#26828e 48.2%,#26828e 52.9%,#277e8e 54.7%,#2e6e8e 56.8%,#453882 60.8%,#472e7c 62.5%,#463480 63.6%,#3a538b 65.4%,#1f958b 67.9%,#25ab82 68.6%,#32b67a 69%,#63cb5f 69.7%,#a2da37 70.4%,#c8e020 70.8%,#ece51b 71.1%,#fde725 71.5%,#fde725 99.8%)"></i><i style="background:linear-gradient(90deg,#fde725 0.2%,#fde725 29.9%,#f8e621 30.3%,#d5e21a 30.6%,#6ece58 31.7%,#3bbb75 32.4%,#29af7f 32.8%,#1f9a8a 33.5%,#3c4f8a 36.4%,#443a83 37.5%,#472f7d 38.5%,#453581 40.7%,#2f6b8e 44.6%,#2a778e 46.1%,#27808e 48.6%,#26818e 51.4%,#287d8e 53.9%,#2d708e 56.1%,#443a83 60%,#472e7c 62.2%,#46307e 62.9%,#404588 64.3%,#31668e 65.8%,#1f968b 67.6%,#25ac82 68.3%,#34b679 68.6%,#65cb5e 69.4%,#cae11f 70.4%,#efe51c 70.8%,#fde725 71.1%,#fde725 99.8%)"></i><i style="background:linear-gradient(90deg,#fde725 0.2%,#fbe723 30.6%,#d8e219 31%,#90d743 31.7%,#54c568 32.4%,#2ab07f 33.2%,#1e9b8a 33.9%,#306a8e 35.7%,#3f4889 37.1%,#472f7d 38.9%,#46337f 41%,#3c508b 43.2%,#2b758e 46.4%,#287c8e 47.8%,#277f8e 51.4%,#2d718e 55.4%,#3d4d8a 58.2%,#463480 60%,#472d7b 61.8%,#463480 62.9%,#39558c 64.7%,#1f978b 67.2%,#26ad81 67.9%,#35b779 68.3%,#67cc5c 69%,#cde11d 70.1%,#f1e51d 70.4%,#fde725 70.8%,#fde725 99.8%)"></i><i style="background:linear-gradient(90deg,#fde725 0.2%,#fde725 31%,#dae319 31.4%,#93d741 32.1%,#56c667 32.8%,#2db27d 33.5%,#1e9c89 34.2%,#2f6b8e 36%,#424186 37.8%,#472d7b 39.6%,#453581 41.8%,#2d718e 46.4%,#297b8e 48.6%,#287d8e 51.1%,#2e6f8e 55%,#3c508b 57.5%,#472f7d 60%,#472c7a 61.1%,#46307e 62.2%,#423f85 63.3%,#31688e 65.1%,#218e8d 66.5%,#20a386 67.2%,#27ad81 67.6%,#4ec36b 68.3%,#89d548 69%,#d0e11c 69.7%,#f1e51d 70.1%,#fde725 70.4%,#fde725 99.8%)"></i><i style="background:linear-gradient(90deg,#fde725 0.2%,#fde725 31.4%,#dde318 31.7%,#95d840 32.4%,#58c765 33.2%,#2eb37c 33.9%,#1e9d89 34.6%,#23888e 35.3%,#3e4989 37.8%,#472e7c 39.6%,#46307e 41.8%,#3e4c8a 43.9%,#2e6f8e 46.8%,#297b8e 50.7%,#2d708e 54.3%,#453581 59%,#472c7a 61.1%,#463480 62.2%,#3f4788 63.3%,#25848e 65.8%,#20a486 66.8%,#28ae80 67.2%,#50c46a 67.9%,#8bd646 68.6%,#d2e21b 69.4%,#f4e61e 69.7%,#fde725 70.1%,#fde725 99.8%)"></i><i style="background:linear-gradient(90deg,#fde725 0.2%,#fde725 31.7%,#e2e418 32.1%,#c0df25 32.4%,#7ad151 33.2%,#42be71 33.9%,#23a983 34.6%,#1f9e89 34.9%,#2f6c8e 36.7%,#414287 38.5%,#472c7a 40.3%,#472f7d 42.1%,#3c508b 44.6%,#2e6d8e 47.1%,#2a778e 51.1%,#2e6e8e 53.9%,#3d4d8a 56.8%,#46307e 59%,#472a7a 60.4%,#463480 61.8%,#3f4788 62.9%,#25858e 65.4%,#21a585 66.5%,#2ab07f 66.8%,#52c569 67.6%,#8ed645 68.3%,#d8e219 69%,#f8e621 69.4%,#fde725 69.7%,#fde725 99.8%)"></i><i style="background:linear-gradient(90deg,#fde725 0.2%,#fde725 32.1%,#eae51a 32.4%,#c5e021 32.8%,#60ca60 33.9%,#31b57b 34.6%,#24aa83 34.9%,#1f948c 35.7%,#3e4989 38.5%,#46307e 40%,#472a7a 41%,#472f7d 42.5%,#3c508b 45%,#31688e 47.1%,#2c738e 50.4%,#30698e 53.9%,#3d4d8a 56.5%,#46307e 58.6%,#472a7a 59.7%,#472d7b 60.8%,#3f4788 62.5%,#306a8e 64%,#1e9b8a 65.8%,#21a685 66.1%,#3dbc74 66.8%,#73d056 67.6%,#dde318 68.6%,#fde725 69%,#fde725 99.8%)"></i><i style="background:linear-gradient(90deg,#fde725 0.2%,#fde725 32.4%,#efe51c 32.8%,#cae11f 33.2%,#63cb5f 34.2%,#48c16e 34.6%,#25ab82 35.3%,#1f958b 36%,#32648e 37.8%,#3e4989 38.9%,#46307e 40.3%,#482979 41.8%,#46327e 43.2%,#404588 44.6%,#31668e 47.5%,#2d708e 50.7%,#32648e 53.9%,#3e4c8a 56.1%,#472f7d 58.2%,#472a7a 60%,#423f85 61.8%,#306a8e 63.6%,#1e9c89 65.4%,#2db27d 66.1%,#40bd72 66.5%,#77d153 67.2%,#bddf26 67.9%,#e2e418 68.3%,#fde725 68.6%,#fde725 99.8%)"></i><i style="background:linear-gradient(90deg,#fde725 0.2%,#fde725 32.8%,#f6e620 33.2%,#d0e11c 33.5%,#67cc5c 34.6%,#35b779 35.3%,#26ad81 35.7%,#1f968b 36.4%,#32648e 38.2%,#424186 39.6%,#463480 40.3%,#482979 41.8%,#472e7c 43.2%,#3e4989 45.3%,#34618d 47.5%,#2f6b8e 50%,#33628d 53.6%,#3c508b 55.4%,#472f7d 57.9%,#472a7a 59.7%,#472e7c 60.4%,#423f85 61.5%,#306a8e 63.3%,#1e9d89 65.1%,#22a884 65.4%,#44bf70 66.1%,#7cd250 66.8%,#c5e021 67.6%,#eae51a 67.9%,#fde725 68.3%,#fde725 99.8%)"></i><i style="background:linear-gradient(90deg,#fde725 0.2%,#fbe723 33.5%,#d8e219 33.9%,#8ed645 34.6%,#50c46a 35.3%,#27ad81 36%,#1fa287 36.4%,#26828e 37.5%,#3e4989 39.6%,#463480 40.7%,#482979 41.8%,#46307e 43.9%,#365c8d 47.5%,#31678e 50.7%,#365d8d 53.6%,#404588 55.7%,#472e7c 57.5%,#482878 59%,#472a7a 59.7%,#423f85 61.1%,#23888e 64%,#1f9e89 64.7%,#24aa83 65.1%,#31b57b 65.4%,#60ca60 66.1%,#cae11f 67.2%,#efe51c 67.6%,#fde725 67.9%,#fde725 99.8%)"></i><i style="background:linear-gradient(90deg,#fde725 0.2%,#fde725 33.9%,#dde318 34.2%,#70cf57 35.3%,#52c569 35.7%,#28ae80 36.4%,#1f978b 37.1%,#32648e 38.9%,#424186 40.3%,#472e7c 41.4%,#482979 42.1%,#472a7a 43.5%,#3e4c8a 46.4%,#365c8d 48.2%,#33628d 51.1%,#38588c 53.6%,#472a7a 57.5%,#482878 59%,#472d7b 59.7%,#404688 61.1%,#20938c 64%,#25ab82 64.7%,#32b67a 65.1%,#65cb5e 65.8%,#d0e11c 66.8%,#f6e620 67.2%,#fde725 67.6%,#fde725 99.8%)"></i><i style="background:linear-gradient(90deg,#fde725 0.2%,#fde725 34.2%,#e2e418 34.6%,#bddf26 34.9%,#75d054 35.7%,#3bbb75 36.4%,#29af7f 36.7%,#1f988b 37.5%,#32648e 39.2%,#424086 40.7%,#472e7c 41.8%,#482677 42.8%,#472f7d 44.6%,#3a548c 47.8%,#355e8d 50.4%,#38588c 52.9%,#46307e 56.5%,#482677 58.2%,#46307e 59.7%,#433e85 60.4%,#2f6b8e 62.2%,#1f948c 63.6%,#25ac82 64.3%,#35b779 64.7%,#69cd5b 65.4%,#d5e21a 66.5%,#fbe723 66.8%,#fde725 99.8%)"></i><i style="background:linear-gradient(90deg,#fde725 0.2%,#fde725 34.6%,#eae51a 34.9%,#c2df23 35.3%,#77d153 36%,#3fbc73 36.7%,#21a585 37.5%,#1f998a 37.8%,#32658e 39.6%,#3f4889 40.7%,#46327e 41.8%,#482677 42.8%,#482878 44.3%,#3c4f8a 47.8%,#375a8c 50.7%,#3c508b 53.2%,#482979 56.8%,#482576 57.9%,#46307e 59.3%,#433e85 60%,#2f6b8e 61.8%,#1f958b 63.3%,#26ad81 64%,#37b878 64.3%,#6ccd5a 65.1%,#dde318 66.1%,#fde725 66.5%,#fde725 99.8%)"></i><i style="background:linear-gradient(90deg,#fde725 0.2%,#fde725 34.9%,#efe51c 35.3%,#c8e020 35.7%,#7cd250 36.4%,#40bd72 37.1%,#21a685 37.8%,#1f9a8a 38.2%,#32658e 40%,#423f85 41.4%,#482576 43.2%,#482576 44.3%,#3e4c8a 48.2%,#3a548c 50.4%,#3d4d8a 52.9%,#482878 56.5%,#482576 57.9%,#472f7d 59%,#404588 60%,#27808e 62.2%,#1fa187 63.3%,#27ad81 63.6%,#38b977 64%,#52c569 64.3%,#93d741 65.1%,#bade28 65.4%,#e2e418 65.8%,#fde725 66.1%,#fde725 99.8%)"></i><i style="background:linear-gradient(90deg,#fde725 0.2%,#fde725 35.3%,#f4e61e 35.7%,#cde11d 36%,#5ec962 37.1%,#42be71 37.5%,#2eb37c 37.8%,#1e9b8a 38.5%,#32648e 40.3%,#3f4788 41.4%,#482677 43.2%,#482475 44.6%,#414487 47.8%,#3c508b 50.7%,#404588 53.2%,#482677 56.1%,#482475 57.5%,#482979 58.2%,#443b84 59.3%,#2f6b8e 61.1%,#1fa287 62.9%,#28ae80 63.3%,#54c568 64%,#c0df25 65.1%,#e7e419 65.4%,#fde725 65.8%,#fde725 99.8%)"></i><i style="background:linear-gradient(90deg,#fde725 0.2%,#fbe723 36%,#d2e21b 36.4%,#84d44b 37.1%,#46c06f 37.8%,#2fb47c 38.2%,#22a785 38.5%,#1e9b8a 38.9%,#3c508b 41.4%,#453581 42.5%,#482576 43.5%,#482374 45%,#414487 48.6%,#3e4a89 51.1%,#423f85 53.2%,#482576 55.7%,#482374 57.2%,#482878 57.9%,#443b84 59%,#2f6b8e 60.8%,#20a386 62.5%,#29af7f 62.9%,#58c765 63.6%,#77d153 64%,#c5e021 64.7%,#ece51b 65.1%,#fde725 65.4%,#fde725 99.8%)"></i><i style="background:linear-gradient(90deg,#fde725 0.2%,#fde725 36.4%,#d8e219 36.7%,#89d548 37.5%,#48c16e 38.2%,#22a884 38.9%,#1e9c89 39.2%,#32648e 41%,#433d84 42.5%,#482878 43.5%,#482173 44.3%,#482173 45.3%,#433e85 48.6%,#404688 50.7%,#443983 53.2%,#482677 55%,#482071 56.5%,#482677 57.5%,#414287 59%,#26818e 61.1%,#20a486 62.2%,#2ab07f 62.5%,#5ac864 63.3%,#cae11f 64.3%,#f1e51d 64.7%,#fde725 65.1%,#fde725 99.8%)"></i><i style="background:linear-gradient(90deg,#fde725 0.2%,#fde725 36.4%,#d8e219 36.7%,#89d548 37.5%,#48c16e 38.2%,#22a884 38.9%,#1e9c89 39.2%,#32648e 41%,#433d84 42.5%,#482878 43.5%,#482173 44.3%,#482173 45.3%,#433e85 48.6%,#404688 50.7%,#443983 53.2%,#482677 55%,#482071 56.5%,#482677 57.5%,#414287 59%,#26818e 61.1%,#20a486 62.2%,#2ab07f 62.5%,#5ac864 63.3%,#cae11f 64.3%,#f1e51d 64.7%,#fde725 65.1%,#fde725 99.8%)"></i><i style="background:linear-gradient(90deg,#fde725 0.2%,#fde725 36.4%,#d8e219 36.7%,#89d548 37.5%,#48c16e 38.2%,#22a884 38.9%,#1e9c89 39.2%,#32648e 41%,#433d84 42.5%,#482878 43.5%,#482173 44.3%,#482173 45.3%,#433e85 48.6%,#404688 50.7%,#443983 53.2%,#482677 55%,#482071 56.5%,#482677 57.5%,#414287 59%,#26818e 61.1%,#20a486 62.2%,#2ab07f 62.5%,#5ac864 63.3%,#cae11f 64.3%,#f1e51d 64.7%,#fde725 65.1%,#fde725 99.8%)"></i></div></div>
<div class="hw" style="left:762px;top:281px"><div class="hm"><i style="background:linear-gradient(90deg,#fde725 0.2%,#fde725 9.1%,#f4e61e 9.5%,#d5e21a 9.9%,#95d840 10.6%,#5ec962 11.3%,#37b878 12%,#21a685 12.7%,#1f958b 13.4%,#2a788e 14.9%,#32658e 17%,#2f6b8e 18.8%,#1e9b8a 22.8%,#24aa83 23.8%,#2fb47c 24.6%,#52c569 26%,#93d741 28.5%,#a8db34 29.9%,#b8de29 32.8%,#b8de29 38.5%,#addc30 40%,#98d83e 41%,#54c568 43.5%,#44bf70 43.9%,#2db27d 44.3%,#1fa287 44.6%,#2a788e 45.7%,#39558c 47.1%,#414487 48.6%,#423f85 50.4%,#424186 52.2%,#3a538b 53.9%,#2b748e 55.4%,#1e9d89 56.5%,#26ad81 56.8%,#50c46a 57.5%,#9dd93b 60.4%,#b0dd2f 61.5%,#b8de29 62.5%,#b8de29 68.3%,#b0dd2f 70.4%,#9bd93c 72.2%,#73d056 74%,#31b57b 76.5%,#1fa187 78%,#2c738e 81.5%,#31678e 83%,#32658e 84.4%,#2a768e 86.2%,#20a386 88.4%,#31b57b 89.1%,#58c765 89.8%,#8bd646 90.5%,#cae11f 91.2%,#eae51a 91.6%,#fde725 91.9%,#fde725 99.8%)"></i><i style="background:linear-gradient(90deg,#fde725 0.2%,#fde725 9.1%,#f4e61e 9.5%,#d5e21a 9.9%,#95d840 10.6%,#5ec962 11.3%,#37b878 12%,#21a685 12.7%,#1f958b 13.4%,#2a788e 14.9%,#32658e 17%,#2f6b8e 18.8%,#1e9b8a 22.8%,#24aa83 23.8%,#2fb47c 24.6%,#52c569 26%,#93d741 28.5%,#a8db34 29.9%,#b8de29 32.8%,#b8de29 38.5%,#addc30 40%,#98d83e 41%,#54c568 43.5%,#44bf70 43.9%,#2db27d 44.3%,#1fa287 44.6%,#2a788e 45.7%,#39558c 47.1%,#414487 48.6%,#423f85 50.4%,#424186 52.2%,#3a538b 53.9%,#2b748e 55.4%,#1e9d89 56.5%,#26ad81 56.8%,#50c46a 57.5%,#9dd93b 60.4%,#b0dd2f 61.5%,#b8de29 62.5%,#b8de29 68.3%,#b0dd2f 70.4%,#9bd93c 72.2%,#73d056 74%,#31b57b 76.5%,#1fa187 78%,#2c738e 81.5%,#31678e 83%,#32658e 84.4%,#2a768e 86.2%,#20a386 88.4%,#31b57b 89.1%,#58c765 89.8%,#8bd646 90.5%,#cae11f 91.2%,#eae51a 91.6%,#fde725 91.9%,#fde725 99.8%)"></i><i style="background:linear-gradient(90deg,#fde725 0.2%,#fde725 9.1%,#f4e61e 9.5%,#d5e21a 9.9%,#95d840 10.6%,#5ec962 11.3%,#37b878 12%,#21a685 12.7%,#1f958b 13.4%,#2a788e 14.9%,#32658e 17%,#2f6b8e 18.8%,#1e9b8a 22.8%,#24aa83 23.8%,#2fb47c 24.6%,#52c569 26%,#93d741 28.5%,#a8db34 29.9%,#b8de29 32.8%,#b8de29 38.5%,#addc30 40%,#98d83e 41%,#54c568 43.5%,#44bf70 43.9%,#2db27d 44.3%,#1fa287 44.6%,#2a788e 45.7%,#39558c 47.1%,#414487 48.6%,#423f85 50.4%,#424186 52.2%,#3a538b 53.9%,#2b748e 55.4%,#1e9d89 56.5%,#26ad81 56.8%,#50c46a 57.5%,#9dd93b 60.4%,#b0dd2f 61.5%,#b8de29 62.5%,#b8de29 68.3%,#b0dd2f 70.4%,#9bd93c 72.2%,#73d056 74%,#31b57b 76.5%,#1fa187 78%,#2c738e 81.5%,#31678e 83%,#32658e 84.4%,#2a768e 86.2%,#20a386 88.4%,#31b57b 89.1%,#58c765 89.8%,#8bd646 90.5%,#cae11f 91.2%,#eae51a 91.6%,#fde725 91.9%,#fde725 99.8%)"></i><i style="background:linear-gradient(90deg,#fde725 0.2%,#fde725 9.5%,#f1e51d 9.9%,#d2e21b 10.2%,#75d054 11.3%,#46c06f 12%,#27ad81 12.7%,#1e9c89 13.4%,#2c718e 15.6%,#31668e 16.7%,#33638d 18.1%,#2a788e 20.6%,#1f948c 22.8%,#22a884 24.2%,#3bbb75 25.6%,#60ca60 27.1%,#84d44b 28.5%,#9dd93b 29.9%,#aadc32 31.4%,#b2dd2d 34.6%,#addc30 39.2%,#a0da39 40.3%,#52c569 43.5%,#42be71 43.9%,#2cb17e 44.3%,#1fa187 44.6%,#2a788e 45.7%,#365c8d 46.8%,#3e4a89 47.8%,#414287 48.9%,#424086 51.8%,#3e4989 53.2%,#306a8e 55%,#1e9c89 56.5%,#25ac82 56.8%,#4ec36b 57.5%,#9dd93b 60.8%,#b0dd2f 62.5%,#b2dd2d 63.6%,#addc30 69.4%,#9bd93c 71.5%,#7fd34e 72.9%,#35b779 75.8%,#21a585 77.2%,#1e9b8a 78%,#2c718e 81.2%,#33638d 83.3%,#32658e 84.4%,#2b748e 85.8%,#1fa187 88%,#2fb47c 88.7%,#54c568 89.4%,#6ccd5a 89.8%,#c8e020 90.9%,#e7e419 91.2%,#fde725 91.6%,#fde725 99.8%)"></i><i style="background:linear-gradient(90deg,#fde725 0.2%,#fde725 9.9%,#efe51c 10.2%,#d0e11c 10.6%,#8ed645 11.3%,#58c765 12%,#32b67a 12.7%,#20a386 13.4%,#2b758e 15.6%,#34618d 17.7%,#2f6b8e 19.9%,#1e9c89 23.8%,#29af7f 25.3%,#7fd34e 28.9%,#9bd93c 30.6%,#aadc32 34.2%,#aadc32 37.8%,#a2da37 39.6%,#93d741 40.7%,#52c569 43.5%,#2ab07f 44.3%,#1fa088 44.6%,#2a778e 45.7%,#39558c 47.1%,#414487 48.6%,#423f85 50.4%,#424186 52.2%,#3a538b 53.9%,#2c738e 55.4%,#1e9b8a 56.5%,#25ab82 56.8%,#38b977 57.2%,#58c765 57.9%,#89d548 60%,#a0da39 61.5%,#aadc32 63.3%,#a8db34 68.3%,#98d83e 70.8%,#70cf57 72.9%,#32b67a 75.4%,#1fa287 76.9%,#2c738e 80.5%,#34618d 83%,#33638d 84.1%,#2c728e 85.5%,#1fa088 87.6%,#2db27d 88.4%,#52c569 89.1%,#84d44b 89.8%,#c2df23 90.5%,#e5e419 90.9%,#fde725 91.2%,#fde725 99.8%)"></i><i style="background:linear-gradient(90deg,#fde725 0.2%,#fde725 10.2%,#ece51b 10.6%,#cae11f 10.9%,#8bd646 11.6%,#56c667 12.4%,#2fb47c 13.1%,#1fa187 13.8%,#2c738e 15.9%,#33628d 17.4%,#355f8d 18.5%,#2b748e 21.3%,#1f958b 23.8%,#20a486 24.9%,#2db27d 26%,#4ec36b 27.4%,#7fd34e 29.6%,#90d743 30.6%,#a2da37 33.9%,#a2da37 38.2%,#9bd93c 39.6%,#7fd34e 41.4%,#50c46a 43.5%,#29af7f 44.3%,#1f9f88 44.6%,#2e6d8e 46.1%,#3e4a89 47.8%,#424086 49.6%,#424086 51.8%,#3b528b 53.9%,#2c738e 55.4%,#1f9a8a 56.5%,#24aa83 56.8%,#4cc26c 57.5%,#56c667 57.9%,#84d44b 60%,#9bd93c 61.8%,#a2da37 62.9%,#a2da37 67.2%,#95d840 70.1%,#6ccd5a 72.6%,#2fb47c 75.1%,#1e9c89 76.9%,#2c718e 80.1%,#355f8d 83%,#2c718e 85.1%,#1f958b 86.9%,#22a785 87.6%,#3aba76 88.4%,#65cb5e 89.1%,#c0df25 90.1%,#e2e418 90.5%,#fde725 90.9%,#fde725 99.8%)"></i><i style="background:linear-gradient(90deg,#fde725 0.2%,#fde725 10.6%,#eae51a 10.9%,#c8e020 11.3%,#52c569 12.7%,#2eb37c 13.4%,#1fa088 14.2%,#2c718e 16.3%,#365d8d 18.5%,#31678e 20.6%,#1e9d89 24.9%,#2ab07f 26.3%,#73d056 29.6%,#8ed645 31.4%,#9bd93c 33.9%,#9dd93b 36%,#98d83e 39.2%,#89d548 40.7%,#4ec36b 43.5%,#27ad81 44.3%,#1f9e89 44.6%,#2a768e 45.7%,#3a548c 47.1%,#414487 48.6%,#424086 49.6%,#424186 52.2%,#3d4d8a 53.6%,#2c728e 55.4%,#1f998a 56.5%,#22a884 56.8%,#4ac16d 57.5%,#56c667 57.9%,#81d34d 60%,#90d743 61.1%,#9bd93c 62.5%,#9dd93b 64%,#98d83e 68.3%,#8bd646 70.1%,#6ece58 71.9%,#3bbb75 74%,#20a386 75.8%,#1f958b 76.9%,#2f6c8e 80.1%,#365d8d 82.3%,#32658e 84.1%,#2b758e 85.1%,#1e9d89 86.9%,#29af7f 87.6%,#4cc26c 88.4%,#7fd34e 89.1%,#dde318 90.1%,#fde725 90.5%,#fde725 99.8%)"></i><i style="background:linear-gradient(90deg,#fde725 0.2%,#fde725 10.9%,#e7e419 11.3%,#c5e021 11.6%,#67cc5c 12.7%,#3bbb75 13.4%,#22a785 14.2%,#1f958b 14.9%,#2b758e 16.3%,#34618d 17.7%,#375b8d 18.8%,#32658e 21%,#1e9b8a 25.3%,#2eb37c 27.1%,#56c667 28.9%,#7fd34e 31%,#90d743 33.2%,#95d840 35.3%,#95d840 38.2%,#8ed645 40%,#58c765 43.2%,#4ec36b 43.5%,#3bbb75 43.9%,#26ad81 44.3%,#1e9d89 44.6%,#2b758e 45.7%,#3a548c 47.1%,#414487 48.6%,#424086 49.6%,#424086 51.8%,#3f4889 53.2%,#31688e 55%,#1f978b 56.5%,#22a785 56.8%,#48c16e 57.5%,#5cc863 58.2%,#7fd34e 60%,#8bd646 61.1%,#95d840 62.9%,#8ed645 68.6%,#75d054 70.8%,#60ca60 71.9%,#2ab07f 74.4%,#1fa187 75.4%,#2c728e 79%,#375b8d 81.9%,#33638d 83.7%,#2c738e 84.8%,#1e9b8a 86.6%,#27ad81 87.3%,#35b779 87.6%,#5ec962 88.4%,#dae319 89.8%,#fbe723 90.1%,#fde725 99.8%)"></i><i style="background:linear-gradient(90deg,#fde725 0.2%,#fde725 11.3%,#e2e418 11.6%,#c2df23 12%,#81d34d 12.7%,#4cc26c 13.4%,#29af7f 14.2%,#1e9d89 14.9%,#26828e 15.9%,#33638d 17.7%,#375a8c 18.8%,#375b8d 20.3%,#2c738e 22.8%,#1f948c 25.3%,#22a884 26.7%,#38b977 28.1%,#73d056 31%,#84d44b 32.4%,#8ed645 34.9%,#89d548 40%,#73d056 41.8%,#56c667 43.2%,#3aba76 43.9%,#25ac82 44.3%,#1e9c89 44.6%,#2b758e 45.7%,#33628d 46.4%,#3e4a89 47.8%,#424086 49.3%,#424086 51.8%,#3f4889 53.2%,#2c718e 55.4%,#1f968b 56.5%,#21a685 56.8%,#48c16e 57.5%,#54c568 57.9%,#7cd250 60%,#86d549 61.1%,#8ed645 62.2%,#89d548 67.9%,#7ad151 69.7%,#63cb5f 71.1%,#2db27d 73.7%,#20a486 74.7%,#24878e 76.9%,#34618d 80.1%,#375a8c 81.2%,#375b8d 82.6%,#31668e 83.7%,#2a788e 84.8%,#1fa287 86.6%,#32b67a 87.3%,#5cc863 88%,#95d840 88.7%,#d8e219 89.4%,#f8e621 89.8%,#fde725 90.1%,#fde725 99.8%)"></i><i style="background:linear-gradient(90deg,#fde725 0.2%,#fde725 11.6%,#dfe318 12%,#7fd34e 13.1%,#4ac16d 13.8%,#28ae80 14.5%,#1e9b8a 15.2%,#29798e 16.7%,#34618d 18.1%,#38588c 20.3%,#2c718e 23.1%,#1fa187 26.7%,#29af7f 27.8%,#3dbc74 28.9%,#67cc5c 31%,#7ad151 32.4%,#84d44b 34.2%,#89d548 37.1%,#84d44b 40%,#70cf57 41.8%,#4cc26c 43.5%,#25ab82 44.3%,#1e9b8a 44.6%,#2b748e 45.7%,#3a538b 47.1%,#424086 49.3%,#424086 51.8%,#3f4889 53.2%,#355f8d 54.7%,#1f958b 56.5%,#21a585 56.8%,#46c06f 57.5%,#6ece58 59.3%,#7fd34e 60.8%,#89d548 63.6%,#84d44b 67.2%,#77d153 69%,#63cb5f 70.4%,#2ab07f 73.3%,#1fa287 74.4%,#25858e 76.5%,#33638d 79.4%,#38588c 81.2%,#32648e 83.3%,#2a768e 84.4%,#1fa188 86.2%,#31b57b 86.9%,#58c765 87.6%,#90d743 88.4%,#d5e21a 89.1%,#f6e620 89.4%,#fde725 89.8%,#fde725 99.8%)"></i><i style="background:linear-gradient(90deg,#fde725 0.2%,#fde725 12%,#dde318 12.4%,#98d83e 13.1%,#5ec962 13.8%,#34b679 14.5%,#1fa287 15.2%,#24878e 16.3%,#32648e 18.1%,#38588c 19.2%,#39558c 20.6%,#34608d 22%,#24878e 25.3%,#20a386 27.4%,#26ad81 28.1%,#56c667 30.6%,#70cf57 32.4%,#7fd34e 34.9%,#7fd34e 40%,#73d056 41.4%,#63cb5f 42.5%,#4ac16d 43.5%,#24aa83 44.3%,#1f9a8a 44.6%,#2c738e 45.7%,#3e4989 47.8%,#424086 49.3%,#424086 51.8%,#3b518b 53.9%,#31678e 55%,#1f948c 56.5%,#20a486 56.8%,#44bf70 57.5%,#52c569 57.9%,#6ccd5a 59.3%,#7cd250 60.8%,#81d34d 64.7%,#7ad151 67.6%,#6ece58 69%,#58c765 70.4%,#28ae80 72.9%,#1e9c89 74.4%,#34618d 79%,#39568c 80.5%,#39558c 81.5%,#2e6e8e 83.7%,#1fa088 85.8%,#23a983 86.2%,#3fbc73 86.9%,#70cf57 87.6%,#d0e11c 88.7%,#f4e61e 89.1%,#fde725 89.4%,#fde725 99.8%)"></i><i style="background:linear-gradient(90deg,#fde725 0.2%,#fbe723 12.4%,#dae319 12.7%,#95d840 13.4%,#5cc863 14.2%,#31b57b 14.9%,#1fa187 15.6%,#31688e 18.1%,#39558c 19.5%,#3a538b 20.3%,#355e8d 22.4%,#1e9d89 27.4%,#29af7f 28.9%,#50c46a 31%,#73d056 33.9%,#7ad151 36%,#7ad151 39.6%,#73d056 41%,#54c568 43.2%,#48c16e 43.5%,#22a884 44.3%,#1f998a 44.6%,#2c738e 45.7%,#3a538b 47.1%,#424186 48.9%,#423f85 50.7%,#414287 52.5%,#3b518b 53.9%,#297a8e 55.7%,#20a386 56.8%,#42be71 57.5%,#50c46a 57.9%,#65cb5e 59%,#75d054 60.4%,#7ad151 61.5%,#75d054 66.8%,#6ccd5a 68.3%,#52c569 70.1%,#26ad81 72.6%,#1f9f88 73.7%,#2f6b8e 77.6%,#3a538b 80.5%,#39558c 81.5%,#34608d 82.6%,#26828e 84.4%,#1f9e89 85.5%,#2cb17e 86.2%,#52c569 86.9%,#6ccd5a 87.3%,#cde11d 88.4%,#efe51c 88.7%,#fde725 89.1%,#fde725 99.8%)"></i><i style="background:linear-gradient(90deg,#fde725 0.2%,#fde725 12.4%,#f8e621 12.7%,#d5e21a 13.1%,#73d056 14.2%,#58c765 14.5%,#40bd72 14.9%,#24aa83 15.6%,#1f968b 16.3%,#31668e 18.5%,#39568c 19.5%,#3b518b 20.6%,#365c8d 22.8%,#1e9b8a 27.8%,#27ad81 29.2%,#52c569 31.7%,#6ece58 34.6%,#73d056 40%,#63cb5f 42.1%,#48c16e 43.5%,#22a785 44.3%,#1f988b 44.6%,#2c728e 45.7%,#3a538b 47.1%,#424186 48.9%,#423f85 50.7%,#414287 52.5%,#3b518b 53.9%,#31668e 55%,#25858e 56.1%,#1fa187 56.8%,#40bd72 57.5%,#50c46a 57.9%,#63cb5f 59%,#70cf57 60.4%,#70cf57 66.1%,#5ec962 68.6%,#48c16e 70.1%,#28ae80 71.9%,#1e9d89 73.3%,#32658e 77.6%,#3b518b 80.1%,#39558c 81.5%,#355e8d 82.3%,#2c718e 83.3%,#1e9c89 85.1%,#2ab07f 85.8%,#50c46a 86.6%,#86d549 87.3%,#cae11f 88%,#ece51b 88.4%,#fde725 88.7%,#fde725 99.8%)"></i><i style="background:linear-gradient(90deg,#fde725 0.2%,#fde725 12.7%,#f6e620 13.1%,#d2e21b 13.4%,#70cf57 14.5%,#3fbc73 15.2%,#22a884 15.9%,#1f9e89 16.3%,#355e8d 19.2%,#3a548c 19.9%,#3c4f8a 21.3%,#39568c 22.8%,#24868e 26.7%,#1fa287 28.9%,#2eb37c 30.3%,#52c569 32.4%,#5ec962 33.5%,#6ccd5a 36%,#6ece58 39.6%,#69cd5b 41%,#58c765 42.8%,#46c06f 43.5%,#21a685 44.3%,#1f978b 44.6%,#2c728e 45.7%,#3a538b 47.1%,#424186 48.9%,#423f85 50.7%,#414287 52.5%,#39568c 54.3%,#29798e 55.7%,#1fa188 56.8%,#2ab07f 57.2%,#4ec36b 57.9%,#63cb5f 59.3%,#6ece58 61.5%,#67cc5c 66.5%,#54c568 68.6%,#3dbc74 70.1%,#22a884 71.9%,#1e9b8a 72.9%,#375b8d 78%,#3c4f8a 80.1%,#3a538b 81.2%,#33628d 82.3%,#23888e 84.1%,#20a486 85.1%,#28ae80 85.5%,#4cc26c 86.2%,#65cb5e 86.6%,#c8e020 87.6%,#eae51a 88%,#fde725 88.4%,#fde725 99.8%)"></i><i style="background:linear-gradient(90deg,#fde725 0.2%,#fde725 13.1%,#f8e621 13.4%,#d5e21a 13.8%,#70cf57 14.9%,#56c667 15.2%,#2db27d 15.9%,#22a884 16.3%,#1f948c 17%,#33638d 19.2%,#3d4e8a 21%,#3a548c 23.1%,#23898e 27.4%,#1e9d89 28.9%,#28ae80 30.3%,#44bf70 32.1%,#58c765 33.5%,#63cb5f 34.9%,#69cd5b 40%,#5ac864 42.5%,#50c46a 43.2%,#44bf70 43.5%,#21a685 44.3%,#1f978b 44.6%,#2c738e 45.7%,#3a548c 47.1%,#404688 48.6%,#414287 51.8%,#3e4a89 53.2%,#355f8d 54.7%,#297a8e 55.7%,#1fa188 56.8%,#29af7f 57.2%,#4cc26c 57.9%,#60ca60 59.3%,#69cd5b 61.5%,#67cc5c 65.1%,#5cc863 67.2%,#46c06f 69%,#29af7f 70.8%,#1fa287 71.9%,#24868e 74%,#39558c 78%,#3d4e8a 79.4%,#3c4f8a 80.5%,#375b8d 81.5%,#24878e 83.7%,#20a486 84.8%,#28ae80 85.1%,#4ec36b 85.8%,#67cc5c 86.2%,#cae11f 87.3%,#ece51b 87.6%,#fde725 88%,#fde725 99.8%)"></i><i style="background:linear-gradient(90deg,#fde725 0.2%,#fde725 13.8%,#dfe318 14.2%,#98d83e 14.9%,#5ac864 15.6%,#2fb47c 16.3%,#23a983 16.7%,#1f958b 17.4%,#33638d 19.5%,#3b528b 20.6%,#3e4c8a 21.7%,#39568c 23.8%,#23888e 27.8%,#1e9c89 29.2%,#27ad81 30.6%,#48c16e 32.8%,#56c667 33.9%,#63cb5f 36%,#65cb5e 40.7%,#58c765 42.5%,#4ec36b 43.2%,#42be71 43.5%,#21a685 44.3%,#1f988b 44.6%,#2b758e 45.7%,#355e8d 46.8%,#3e4a89 48.6%,#3f4788 49.6%,#3e4989 52.5%,#39568c 53.9%,#2c728e 55.4%,#1fa188 56.8%,#3bbb75 57.5%,#52c569 58.2%,#63cb5f 60%,#65cb5e 64.3%,#5ac864 66.8%,#28ae80 70.4%,#1e9d89 71.9%,#34608d 76.5%,#3e4c8a 79%,#39558c 80.8%,#2a768e 82.6%,#1e9c89 84.1%,#2ab07f 84.8%,#3bbb75 85.1%,#8bd646 86.2%,#d2e21b 86.9%,#f6e620 87.3%,#fde725 87.6%,#fde725 99.8%)"></i><i style="background:linear-gradient(90deg,#fde725 0.2%,#fde725 14.2%,#e7e419 14.5%,#c2df23 14.9%,#7fd34e 15.6%,#46c06f 16.3%,#32b67a 16.7%,#1fa188 17.4%,#26828e 18.5%,#365c8d 20.3%,#3e4a89 22%,#3b518b 23.8%,#1e9b8a 29.6%,#22a884 30.6%,#46c06f 33.2%,#54c568 34.2%,#60ca60 36.4%,#63cb5f 40.3%,#5ac864 42.1%,#4cc26c 43.2%,#40bd72 43.5%,#21a685 44.3%,#1f988b 44.6%,#2e6f8e 46.1%,#3a538b 47.8%,#3d4d8a 48.9%,#3e4c8a 51.8%,#3b528b 53.2%,#32658e 54.7%,#2b748e 55.4%,#1fa187 56.8%,#3bbb75 57.5%,#48c16e 57.9%,#58c765 59%,#63cb5f 60.8%,#63cb5f 63.6%,#5ac864 66.1%,#3dbc74 68.6%,#24aa83 70.4%,#1e9d89 71.5%,#23898e 72.9%,#39568c 76.9%,#3e4a89 79%,#3c508b 80.1%,#34608d 81.2%,#1e9d89 83.7%,#2db27d 84.4%,#56c667 85.1%,#93d741 85.8%,#dae319 86.6%,#fde725 86.9%,#fde725 99.8%)"></i><i style="background:linear-gradient(90deg,#fde725 0.2%,#fde725 14.5%,#f1e51d 14.9%,#cde11d 15.2%,#84d44b 15.9%,#4ac16d 16.7%,#26ad81 17.4%,#1fa187 17.7%,#25838e 18.8%,#33628d 20.3%,#3c508b 21.3%,#3e4989 22.4%,#3a538b 24.6%,#24868e 28.5%,#1f9f88 30.3%,#25ac82 31.4%,#3aba76 32.8%,#52c569 34.6%,#5ac864 36%,#60ca60 40%,#5ac864 41.8%,#4ac16d 43.2%,#21a685 44.3%,#1f9a8a 44.6%,#2c718e 46.1%,#32658e 46.8%,#39558c 48.2%,#3c508b 49.6%,#3b528b 52.5%,#355e8d 53.9%,#2a778e 55.4%,#1fa287 56.8%,#3aba76 57.5%,#52c569 58.6%,#60ca60 61.5%,#5ac864 65.4%,#3bbb75 68.3%,#23a983 70.1%,#1e9c89 71.1%,#23888e 72.6%,#3b518b 76.9%,#3e4989 79%,#3a538b 80.1%,#31678e 81.2%,#20938c 83%,#23a983 83.7%,#2fb47c 84.1%,#5cc863 84.8%,#c0df25 85.8%,#e5e419 86.2%,#fde725 86.6%,#fde725 99.8%)"></i><i style="background:linear-gradient(90deg,#fde725 0.2%,#fbe723 15.2%,#d5e21a 15.6%,#8bd646 16.3%,#50c46a 17%,#38b977 17.4%,#20a386 18.1%,#218e8d 18.8%,#33628d 20.6%,#3c4f8a 21.7%,#3f4788 22.8%,#3b528b 24.9%,#25858e 28.9%,#1fa287 31%,#2eb37c 32.4%,#50c46a 34.9%,#5cc863 37.8%,#5ac864 41.4%,#48c16e 43.2%,#22a785 44.3%,#1e9b8a 44.6%,#2b748e 46.1%,#355f8d 47.5%,#3a548c 49.3%,#3a548c 51.8%,#355e8d 53.6%,#2c718e 55%,#1fa287 56.8%,#44bf70 57.9%,#54c568 59%,#5cc863 60.4%,#56c667 65.4%,#3bbb75 67.9%,#26ad81 69.4%,#1e9b8a 70.8%,#3a538b 76.2%,#3f4788 78.3%,#3b528b 79.7%,#2a778e 81.5%,#1fa088 83%,#24aa83 83.3%,#46c06f 84.1%,#60ca60 84.4%,#c8e020 85.5%,#efe51c 85.8%,#fde725 86.2%,#fde725 99.8%)"></i><i style="background:linear-gradient(90deg,#fde725 0.2%,#fde725 15.6%,#dfe318 15.9%,#bade28 16.3%,#93d741 16.7%,#54c568 17.4%,#3bbb75 17.7%,#20a486 18.5%,#218f8d 19.2%,#33628d 21%,#3e4a89 22.4%,#404688 23.1%,#3c508b 25.3%,#25848e 29.2%,#1e9d89 31%,#28ae80 32.4%,#3dbc74 33.9%,#4ec36b 35.3%,#56c667 36.7%,#5ac864 40.3%,#52c569 42.1%,#3bbb75 43.5%,#22a884 44.3%,#1e9c89 44.6%,#2a778e 46.1%,#33638d 47.5%,#38598c 49.3%,#38598c 51.8%,#32658e 53.9%,#2b748e 55%,#1f988b 56.5%,#20a386 56.8%,#37b878 57.5%,#48c16e 58.2%,#58c765 60%,#58c765 64%,#4ec36b 65.8%,#3aba76 67.6%,#25ac82 69%,#1f9f88 70.1%,#24868e 71.9%,#39568c 75.4%,#3e4a89 76.5%,#404688 78%,#3d4d8a 79%,#355f8d 80.1%,#1fa188 82.6%,#25ac82 83%,#4cc26c 83.7%,#67cc5c 84.1%,#d2e21b 85.1%,#f8e621 85.5%,#fde725 85.8%,#fde725 99.8%)"></i><i style="background:linear-gradient(90deg,#fde725 0.2%,#fde725 15.9%,#eae51a 16.3%,#c2df23 16.7%,#7ad151 17.4%,#3fbc73 18.1%,#21a685 18.8%,#1e9b8a 19.2%,#25858e 19.9%,#375a8c 21.7%,#3e4989 22.8%,#404588 23.5%,#3c4f8a 25.6%,#23898e 29.9%,#1e9d89 31.4%,#27ad81 32.8%,#3bbb75 34.2%,#4cc26c 35.7%,#54c568 37.1%,#56c667 40.7%,#4ec36b 42.1%,#38b977 43.5%,#22a884 44.3%,#1e9d89 44.6%,#2c738e 46.4%,#31668e 47.5%,#365d8d 49.3%,#365d8d 51.8%,#34608d 52.9%,#2c718e 54.7%,#1f998a 56.5%,#20a486 56.8%,#35b779 57.5%,#44bf70 58.2%,#56c667 60.4%,#52c569 64.3%,#3dbc74 66.8%,#1fa287 69.4%,#228b8d 71.1%,#3a548c 75.1%,#3e4989 76.2%,#404588 77.6%,#3e4c8a 78.7%,#355f8d 79.7%,#26828e 81.2%,#1fa287 82.3%,#27ad81 82.6%,#50c46a 83.3%,#90d743 84.1%,#dde318 84.8%,#fde725 85.1%,#fde725 99.8%)"></i><i style="background:linear-gradient(90deg,#fde725 0.2%,#fde725 16.3%,#f4e61e 16.7%,#cde11d 17%,#5ec962 18.1%,#44bf70 18.5%,#22a884 19.2%,#1e9c89 19.5%,#24868e 20.3%,#3a538b 22.4%,#3f4889 23.1%,#414287 24.2%,#3b518b 26.3%,#23888e 30.3%,#1e9c89 31.7%,#23a983 32.8%,#31b57b 33.9%,#4ac16d 36%,#50c46a 37.1%,#52c569 41%,#3dbc74 43.2%,#22a884 44.3%,#1f9f88 44.6%,#25838e 45.7%,#2c718e 46.8%,#33638d 48.6%,#34608d 50.4%,#32648e 52.9%,#2f6c8e 53.9%,#297a8e 55%,#1e9b8a 56.5%,#32b67a 57.5%,#46c06f 58.6%,#54c568 60.8%,#52c569 63.6%,#48c16e 65.4%,#32b67a 67.2%,#1fa287 69%,#25848e 71.1%,#3e4a89 75.4%,#414287 76.9%,#3b518b 78.7%,#31678e 79.7%,#1f988b 81.5%,#29af7f 82.3%,#3bbb75 82.6%,#75d054 83.3%,#bddf26 84.1%,#e5e419 84.4%,#fde725 84.8%,#fde725 99.8%)"></i><i style="background:linear-gradient(90deg,#fde725 0.2%,#fde725 17%,#d5e21a 17.4%,#65cb5e 18.5%,#32b67a 19.2%,#24aa83 19.5%,#20928c 20.3%,#306a8e 21.7%,#3e4c8a 23.1%,#424186 24.2%,#414287 25.3%,#3a548c 27.1%,#1e9b8a 32.1%,#2fb47c 34.2%,#4ec36b 37.5%,#50c46a 40.7%,#46c06f 42.1%,#34b679 43.5%,#1fa088 44.6%,#2b748e 46.8%,#31678e 48.6%,#32648e 51.1%,#31688e 52.9%,#2c738e 54.3%,#25838e 55.4%,#1e9c89 56.5%,#31b57b 57.5%,#3dbc74 58.2%,#50c46a 60.4%,#50c46a 62.9%,#48c16e 64.7%,#31b57b 66.8%,#1e9d89 69%,#23898e 70.4%,#3b518b 74.4%,#424186 76.2%,#414287 77.2%,#39568c 78.7%,#1f9a8a 81.2%,#21a585 81.5%,#2cb17e 81.9%,#40bd72 82.3%,#5ac864 82.6%,#c8e020 83.7%,#efe51c 84.1%,#fde725 84.4%,#fde725 99.8%)"></i><i style="background:linear-gradient(90deg,#fde725 0.2%,#fde725 17.4%,#dfe318 17.7%,#b8de29 18.1%,#90d743 18.5%,#4ec36b 19.2%,#35b779 19.5%,#25ac82 19.9%,#1fa088 20.3%,#23898e 21%,#33628d 22.4%,#404688 23.8%,#424086 24.6%,#424186 25.6%,#3d4e8a 27.1%,#24868e 31%,#1f9f88 32.8%,#32b67a 34.9%,#48c16e 37.1%,#4ec36b 40.3%,#4ac16d 41.4%,#3bbb75 42.8%,#2ab07f 43.9%,#1fa188 44.6%,#23888e 45.7%,#2a788e 46.8%,#31688e 49.6%,#30698e 52.2%,#2c728e 53.9%,#24868e 55.4%,#1f9e89 56.5%,#2fb47c 57.5%,#48c16e 59.7%,#4ec36b 60.8%,#4cc26c 63.3%,#35b779 66.1%,#23a983 67.6%,#1e9c89 68.6%,#23888e 70.1%,#3a548c 73.7%,#423f85 76.2%,#424186 76.9%,#39568c 78.3%,#1e9b8a 80.8%,#22a785 81.2%,#2eb37c 81.5%,#60ca60 82.3%,#d2e21b 83.3%,#f8e621 83.7%,#fde725 84.1%,#fde725 99.8%)"></i><i style="background:linear-gradient(90deg,#fde725 0.2%,#fde725 17.7%,#eae51a 18.1%,#c2df23 18.5%,#73d056 19.2%,#54c568 19.5%,#27ad81 20.3%,#1fa187 20.6%,#277f8e 21.7%,#3b518b 23.5%,#424186 24.6%,#433e85 25.3%,#3f4889 27.1%,#25858e 31.4%,#1f9f88 33.2%,#32b67a 35.3%,#46c06f 37.5%,#4ac16d 40.7%,#3dbc74 42.5%,#2fb47c 43.5%,#1fa187 44.6%,#25848e 46.1%,#2a778e 47.1%,#2f6c8e 49.6%,#2c738e 53.6%,#26828e 55%,#1f9f88 56.5%,#32b67a 57.9%,#48c16e 60%,#4ac16d 62.5%,#3bbb75 65.1%,#26ad81 66.8%,#1e9b8a 68.3%,#31688e 71.9%,#3e4989 74%,#433e85 75.8%,#424086 76.5%,#39568c 78%,#20928c 80.1%,#23a983 80.8%,#32b67a 81.2%,#67cc5c 81.9%,#dde318 83%,#fde725 83.3%,#fde725 99.8%)"></i><i style="background:linear-gradient(90deg,#fde725 0.2%,#fde725 18.1%,#f4e61e 18.5%,#cae11f 18.8%,#7ad151 19.5%,#3dbc74 20.3%,#29af7f 20.6%,#20a386 21%,#27808e 22%,#3e4989 24.2%,#433d84 25.6%,#414287 27.1%,#32658e 29.6%,#1f998a 33.2%,#1fa287 33.9%,#3bbb75 36.7%,#46c06f 38.5%,#48c16e 40.3%,#31b57b 43.2%,#1e9b8a 45%,#24878e 46.1%,#2a778e 47.5%,#2c718e 48.6%,#2d708e 52.2%,#29798e 53.9%,#25858e 55%,#1fa088 56.5%,#38b977 58.6%,#48c16e 61.1%,#46c06f 62.9%,#3dbc74 64.3%,#25ac82 66.5%,#1e9b8a 67.9%,#31678e 71.5%,#3f4889 73.7%,#433e85 74.7%,#433d84 75.8%,#414287 76.5%,#39568c 77.6%,#24878e 79.4%,#1f9f88 80.1%,#25ab82 80.5%,#35b779 80.8%,#4ec36b 81.2%,#6ece58 81.5%,#bddf26 82.3%,#e7e419 82.6%,#fde725 83%,#fde725 99.8%)"></i><i style="background:linear-gradient(90deg,#fde725 0.2%,#fde725 18.5%,#f6e620 18.8%,#cde11d 19.2%,#7cd250 19.9%,#5ac864 20.3%,#2ab07f 21%,#20a386 21.3%,#26818e 22.4%,#38598c 23.8%,#3e4989 24.6%,#443b84 26%,#3e4989 28.1%,#30698e 30.3%,#1e9d89 33.9%,#2fb47c 36%,#3dbc74 37.5%,#46c06f 39.6%,#44bf70 40.7%,#2fb47c 43.2%,#1e9c89 45%,#25858e 46.4%,#2a788e 47.8%,#2c738e 52.2%,#25838e 54.7%,#1fa188 56.5%,#32b67a 58.2%,#44bf70 60.4%,#42be71 62.9%,#31b57b 65.1%,#1fa287 66.8%,#1f948c 67.9%,#3e4a89 72.9%,#423f85 74%,#443b84 75.4%,#3f4788 76.5%,#39568c 77.2%,#24878e 79%,#1fa088 79.7%,#25ac82 80.1%,#50c46a 80.8%,#95d840 81.5%,#c0df25 81.9%,#eae51a 82.3%,#fde725 82.6%,#fde725 99.8%)"></i><i style="background:linear-gradient(90deg,#fde725 0.2%,#fde725 18.8%,#f4e61e 19.2%,#cae11f 19.5%,#7ad151 20.3%,#3dbc74 21%,#29af7f 21.3%,#20a386 21.7%,#26818e 22.8%,#3b518b 24.6%,#423f85 25.6%,#443a83 26.3%,#3f4788 28.5%,#31678e 30.6%,#1e9b8a 34.2%,#22a884 35.3%,#3bbb75 37.8%,#42be71 40.7%,#32b67a 42.8%,#1e9d89 45%,#297b8e 47.8%,#2a778e 52.2%,#26828e 54.3%,#1e9b8a 56.1%,#31b57b 58.2%,#42be71 60.4%,#42be71 62.2%,#2fb47c 64.7%,#1e9d89 66.8%,#23888e 68.3%,#3e4989 72.6%,#443a83 74.7%,#424186 75.8%,#3d4e8a 76.5%,#24878e 78.7%,#1f9f88 79.4%,#25ac82 79.7%,#35b779 80.1%,#50c46a 80.5%,#6ece58 80.8%,#bddf26 81.5%,#e5e419 81.9%,#fde725 82.3%,#fde725 99.8%)"></i><i style="background:linear-gradient(90deg,#fde725 0.2%,#fde725 19.2%,#efe51c 19.5%,#c8e020 19.9%,#77d153 20.6%,#58c765 21%,#29af7f 21.7%,#20a386 22%,#26818e 23.1%,#3e4989 25.3%,#443b84 26.3%,#443983 27.1%,#3e4a89 29.2%,#1f948c 34.2%,#1fa287 35.3%,#3aba76 38.2%,#40bd72 40.7%,#2fb47c 42.8%,#1f9e89 45%,#24868e 46.8%,#287c8e 48.6%,#27808e 53.6%,#1e9c89 56.1%,#32b67a 58.6%,#3fbc73 60%,#3fbc73 62.2%,#38b977 63.3%,#22a884 65.4%,#1e9b8a 66.5%,#31668e 70.1%,#414287 72.6%,#443983 74.4%,#424186 75.4%,#39568c 76.5%,#20938c 78.7%,#25ab82 79.4%,#35b779 79.7%,#6ccd5a 80.5%,#b8de29 81.2%,#e2e418 81.5%,#fde725 81.9%,#fde725 99.8%)"></i><i style="background:linear-gradient(90deg,#fde725 0.2%,#fde725 19.5%,#ece51b 19.9%,#c2df23 20.3%,#56c667 21.3%,#3bbb75 21.7%,#1fa287 22.4%,#26818e 23.5%,#3b518b 25.3%,#423f85 26.3%,#453882 27.4%,#3f4889 29.6%,#31688e 31.7%,#1e9c89 35.3%,#32b67a 37.8%,#3fbc73 40%,#3dbc74 41%,#32b67a 42.5%,#1fa287 44.6%,#23888e 46.8%,#26828e 47.8%,#277f8e 52.2%,#25858e 53.9%,#1e9d89 56.1%,#38b977 59.3%,#3fbc73 60.8%,#3dbc74 61.8%,#25ab82 64.7%,#1f948c 66.5%,#3e4989 71.5%,#453882 73.7%,#3f4788 75.4%,#30698e 76.9%,#1f9f88 78.7%,#25ab82 79%,#34b679 79.4%,#4cc26c 79.7%,#8ed645 80.5%,#dfe318 81.2%,#fde725 81.5%,#fde725 99.8%)"></i><i style="background:linear-gradient(90deg,#fde725 0.2%,#fde725 19.9%,#eae51a 20.3%,#c0df25 20.6%,#54c568 21.7%,#28ae80 22.4%,#1fa287 22.8%,#26818e 23.8%,#375a8c 25.3%,#433e85 26.7%,#453882 27.4%,#424186 29.6%,#31668e 32.1%,#1e9b8a 35.7%,#2db27d 37.8%,#37b878 38.9%,#3bbb75 41%,#1fa287 44.6%,#24868e 47.8%,#26828e 52.2%,#228b8d 54.3%,#1e9d89 56.1%,#2fb47c 58.6%,#3aba76 60%,#3bbb75 61.5%,#2eb37c 63.3%,#1e9c89 65.4%,#31688e 69%,#423f85 71.9%,#453882 73.7%,#3f4788 75.1%,#30698e 76.5%,#1f9f88 78.3%,#25ab82 78.7%,#34b679 79%,#4cc26c 79.4%,#8bd646 80.1%,#dae319 80.8%,#fde725 81.2%,#fde725 99.8%)"></i><i style="background:linear-gradient(90deg,#fde725 0.2%,#fde725 20.3%,#e5e419 20.6%,#bddf26 21%,#95d840 21.3%,#54c568 22%,#28ae80 22.8%,#1fa287 23.1%,#26818e 24.2%,#3e4a89 26.3%,#443a83 27.4%,#453781 28.1%,#443b84 29.6%,#32648e 32.4%,#1f948c 35.7%,#21a685 37.1%,#32b67a 38.9%,#3aba76 40.3%,#32b67a 42.1%,#1fa187 44.6%,#24878e 48.6%,#23898e 53.2%,#1e9d89 56.1%,#2eb37c 58.6%,#3aba76 60.4%,#2fb47c 62.5%,#1e9b8a 65.1%,#31668e 68.6%,#424186 71.1%,#453781 73.3%,#424186 74.4%,#3c4f8a 75.1%,#20928c 77.6%,#24aa83 78.3%,#32b67a 78.7%,#67cc5c 79.4%,#d8e219 80.5%,#fde725 80.8%,#fde725 99.8%)"></i><i style="background:linear-gradient(90deg,#fde725 0.2%,#fde725 20.6%,#e2e418 21%,#bade28 21.3%,#93d741 21.7%,#52c569 22.4%,#27ad81 23.1%,#1fa287 23.5%,#26818e 24.6%,#3e4a89 26.7%,#453581 28.5%,#453581 29.2%,#414287 30.6%,#31678e 33.2%,#1e9c89 36.7%,#2db27d 38.9%,#37b878 41%,#1fa188 44.6%,#228c8d 48.2%,#238a8d 52.2%,#1e9c89 56.1%,#32b67a 59.3%,#37b878 60.8%,#31b57b 61.8%,#21a685 63.6%,#1f948c 65.1%,#3f4889 70.1%,#443b84 71.1%,#453581 72.6%,#424186 74%,#3c4f8a 74.7%,#20928c 77.2%,#24aa83 78%,#32b67a 78.3%,#65cb5e 79%,#86d549 79.4%,#d5e21a 80.1%,#fbe723 80.5%,#fde725 99.8%)"></i><i style="background:linear-gradient(90deg,#fde725 0.2%,#fde725 21%,#dfe318 21.3%,#b8de29 21.7%,#90d743 22%,#50c46a 22.8%,#27ad81 23.5%,#1fa187 23.8%,#26818e 24.9%,#3e4a89 27.1%,#443983 28.1%,#463480 29.2%,#3e4989 31.7%,#32658e 33.5%,#1f958b 36.7%,#20a386 37.8%,#2cb17e 39.2%,#34b679 41.4%,#21a685 43.9%,#1e9c89 46.1%,#218f8d 48.6%,#218e8d 52.2%,#1fa287 56.8%,#31b57b 59.3%,#34b679 60.8%,#2fb47c 61.5%,#1e9c89 64%,#31678e 67.6%,#424186 70.1%,#463480 72.2%,#453882 72.9%,#3c4f8a 74.4%,#20928c 76.9%,#24aa83 77.6%,#31b57b 78%,#63cb5f 78.7%,#d0e11c 79.7%,#f6e620 80.1%,#fde725 80.5%,#fde725 99.8%)"></i><i style="background:linear-gradient(90deg,#fde725 0.2%,#fde725 21.3%,#dae319 21.7%,#8ed645 22.4%,#50c46a 23.1%,#37b878 23.5%,#1fa187 24.2%,#26818e 25.3%,#3e4a89 27.4%,#453581 28.9%,#46337f 29.6%,#414287 31.7%,#30698e 34.2%,#1e9d89 37.8%,#2db27d 40%,#31b57b 41.4%,#20a486 44.3%,#20928c 48.6%,#20928c 52.5%,#20a486 57.2%,#31b57b 59.7%,#2fb47c 60.8%,#25ab82 62.2%,#1f958b 64%,#32658e 67.2%,#3e4989 69%,#443b84 70.1%,#46337f 71.5%,#443b84 72.9%,#3f4889 73.7%,#24878e 76.2%,#1f9e89 76.9%,#23a983 77.2%,#46c06f 78%,#84d44b 78.7%,#cde11d 79.4%,#f4e61e 79.7%,#fde725 80.1%,#fde725 99.8%)"></i><i style="background:linear-gradient(90deg,#fde725 0.2%,#fde725 21.7%,#d8e219 22%,#8bd646 22.8%,#4ec36b 23.5%,#26ad81 24.2%,#1fa187 24.6%,#26818e 25.6%,#3e4a89 27.8%,#46337f 29.6%,#46337f 30.6%,#424086 32.1%,#31678e 34.6%,#1e9c89 38.2%,#25ac82 39.6%,#2eb37c 41%,#22a785 43.5%,#21a685 45.3%,#1f958b 49.3%,#1f958b 52.2%,#20a486 55.4%,#22a785 57.5%,#2db27d 59.3%,#2cb17e 60.8%,#1e9d89 62.9%,#30698e 66.5%,#414287 69%,#463480 70.4%,#46337f 71.5%,#443b84 72.6%,#3f4889 73.3%,#24878e 75.8%,#1f9e89 76.5%,#23a983 76.9%,#2fb47c 77.2%,#60ca60 78%,#cae11f 79%,#f1e51d 79.4%,#fde725 79.7%,#fde725 99.8%)"></i><i style="background:linear-gradient(90deg,#fde725 0.2%,#fde725 21.7%,#f8e621 22%,#d5e21a 22.4%,#69cd5b 23.5%,#35b779 24.2%,#26ad81 24.6%,#1f968b 25.3%,#32648e 27.1%,#3e4a89 28.1%,#443983 29.2%,#46327e 30.3%,#443a83 32.1%,#32658e 34.9%,#1f958b 38.2%,#26ad81 40.3%,#2cb17e 41.8%,#25ac82 42.8%,#22a884 45.7%,#1e9d89 47.8%,#1f998a 52.2%,#23a983 55.7%,#2cb17e 60%,#1e9c89 62.5%,#31678e 66.1%,#443b84 69%,#46327e 71.1%,#443b84 72.2%,#3f4889 72.9%,#24878e 75.4%,#1e9d89 76.2%,#22a884 76.5%,#2fb47c 76.9%,#5ec962 77.6%,#c8e020 78.7%,#ece51b 79%,#fde725 79.4%,#fde725 99.8%)"></i><i style="background:linear-gradient(90deg,#fde725 0.2%,#fde725 22%,#f6e620 22.4%,#d2e21b 22.8%,#67cc5c 23.8%,#35b779 24.6%,#25ac82 24.9%,#1f958b 25.6%,#32648e 27.4%,#3e4a89 28.5%,#453882 29.6%,#46307e 30.6%,#46307e 31.4%,#424186 33.2%,#31688e 35.7%,#1e9d89 39.2%,#28ae80 41.4%,#26ad81 45.3%,#1e9d89 48.9%,#1e9d89 52.2%,#26ad81 56.1%,#25ac82 60.4%,#1f958b 62.5%,#32648e 65.8%,#433e85 68.3%,#46307e 70.4%,#46337f 71.1%,#3f4889 72.6%,#24878e 75.1%,#1e9d89 75.8%,#22a884 76.2%,#42be71 76.9%,#5cc863 77.2%,#c5e021 78.3%,#eae51a 78.7%,#fde725 79%,#fde725 99.8%)"></i><i style="background:linear-gradient(90deg,#fde725 0.2%,#fde725 22.4%,#f4e61e 22.8%,#cde11d 23.1%,#65cb5e 24.2%,#4ac16d 24.6%,#25ac82 25.3%,#1fa188 25.6%,#32658e 27.8%,#414487 29.2%,#463480 30.3%,#472f7d 31.4%,#423f85 33.5%,#31668e 36%,#1e9c89 39.6%,#25ac82 41%,#2fb47c 43.9%,#20a486 50%,#21a685 52.9%,#2eb37c 55.7%,#2cb17e 59%,#24aa83 60.4%,#1f948c 62.2%,#31688e 65.1%,#424186 67.6%,#463480 68.6%,#472f7d 70.1%,#443b84 71.5%,#3f4889 72.2%,#24878e 74.7%,#1e9d89 75.4%,#22a884 75.8%,#2eb37c 76.2%,#5cc863 76.9%,#c2df23 78%,#e7e419 78.3%,#fde725 78.7%,#fde725 99.8%)"></i><i style="background:linear-gradient(90deg,#fde725 0.2%,#fde725 22.8%,#efe51c 23.1%,#cae11f 23.5%,#84d44b 24.2%,#4ac16d 24.9%,#25ac82 25.6%,#1fa188 26%,#26818e 27.1%,#3e4c8a 29.2%,#463480 30.6%,#472f7d 31.4%,#46327e 32.8%,#414287 34.2%,#32658e 36.4%,#1e9c89 40%,#2eb37c 42.1%,#38b977 43.5%,#3aba76 45.7%,#29af7f 49.3%,#2ab07f 52.5%,#3bbb75 56.1%,#32b67a 58.6%,#1fa287 60.8%,#1f988b 61.5%,#31678e 64.7%,#443a83 67.6%,#46307e 68.6%,#472f7d 69.7%,#453781 70.8%,#3e4989 71.9%,#24878e 74.4%,#1e9d89 75.1%,#22a884 75.4%,#40bd72 76.2%,#5ac864 76.5%,#77d153 76.9%,#c0df25 77.6%,#e5e419 78%,#fde725 78.3%,#fde725 99.8%)"></i><i style="background:linear-gradient(90deg,#fde725 0.2%,#fde725 23.1%,#ece51b 23.5%,#c8e020 23.8%,#81d34d 24.6%,#48c16e 25.3%,#25ac82 26%,#1fa188 26.3%,#26828e 27.4%,#404588 29.9%,#463480 31%,#472e7c 32.1%,#46307e 33.2%,#424186 34.6%,#30698e 37.1%,#1e9c89 40.3%,#31b57b 42.5%,#3dbc74 43.5%,#46c06f 45.3%,#38b977 48.9%,#38b977 52.2%,#46c06f 55.7%,#3dbc74 57.5%,#2eb37c 59%,#1e9d89 60.8%,#32658e 64.3%,#414287 66.5%,#472f7d 68.3%,#472e7c 69%,#46337f 70.1%,#3e4989 71.5%,#23888e 74%,#1e9d89 74.7%,#22a884 75.1%,#40bd72 75.8%,#5ac864 76.2%,#bddf26 77.2%,#dfe318 77.6%,#fde725 78%,#fde725 99.8%)"></i><i style="background:linear-gradient(90deg,#fde725 0.2%,#fde725 23.5%,#eae51a 23.8%,#c5e021 24.2%,#81d34d 24.9%,#48c16e 25.6%,#25ac82 26.3%,#1fa188 26.7%,#26828e 27.8%,#3a548c 29.6%,#463480 31.4%,#472e7c 32.4%,#443a83 34.6%,#31678e 37.5%,#1e9b8a 40.7%,#24aa83 41.8%,#3dbc74 43.5%,#4ac16d 44.6%,#50c46a 46.1%,#48c16e 49.3%,#50c46a 55%,#48c16e 56.8%,#25ac82 59.3%,#1e9d89 60.4%,#30698e 63.6%,#443b84 66.5%,#46307e 67.6%,#472e7c 69%,#46337f 69.7%,#3e4a89 71.1%,#23888e 73.7%,#1e9d89 74.4%,#22a785 74.7%,#2db27d 75.1%,#58c765 75.8%,#95d840 76.5%,#dde318 77.2%,#fde725 77.6%,#fde725 99.8%)"></i><i style="background:linear-gradient(90deg,#fde725 0.2%,#fde725 23.8%,#e7e419 24.2%,#c2df23 24.6%,#60ca60 25.6%,#32b67a 26.3%,#25ab82 26.7%,#1f968b 27.4%,#26828e 28.1%,#423f85 31%,#46307e 32.1%,#472d7b 33.2%,#463480 34.6%,#414287 35.7%,#31668e 37.8%,#1fa088 41.4%,#28ae80 42.5%,#50c46a 45%,#5ac864 47.1%,#58c765 55%,#4ec36b 56.5%,#3dbc74 57.5%,#25ac82 59%,#1e9c89 60%,#31688e 63.3%,#453581 66.5%,#472d7b 68.3%,#46337f 69.4%,#3e4a89 70.8%,#23888e 73.3%,#1e9d89 74%,#22a785 74.4%,#3fbc73 75.1%,#73d056 75.8%,#b8de29 76.5%,#dae319 76.9%,#fde725 77.2%,#fde725 99.8%)"></i><i style="background:linear-gradient(90deg,#fde725 0.2%,#fde725 24.2%,#e5e419 24.6%,#c0df25 24.9%,#5ec962 26%,#32b67a 26.7%,#25ab82 27.1%,#1f968b 27.8%,#31678e 29.6%,#404688 31%,#46307e 32.4%,#472d7b 33.2%,#472f7d 34.6%,#443b84 35.7%,#32648e 38.2%,#1f9f88 41.8%,#28ae80 42.8%,#3dbc74 43.9%,#5ac864 45.7%,#65cb5e 48.2%,#60ca60 54.7%,#46c06f 56.8%,#2ab07f 58.2%,#1e9b8a 59.7%,#31668e 62.9%,#414287 65.1%,#46307e 66.5%,#472d7b 67.9%,#46337f 69%,#414487 70.1%,#23888e 72.9%,#1e9d89 73.7%,#22a785 74%,#2db27d 74.4%,#56c667 75.1%,#90d743 75.8%,#d8e219 76.5%,#f8e621 76.9%,#fde725 77.2%,#fde725 99.8%)"></i><i style="background:linear-gradient(90deg,#fde725 0.2%,#fde725 24.6%,#dfe318 24.9%,#bddf26 25.3%,#5ec962 26.3%,#32b67a 27.1%,#25ab82 27.4%,#1f968b 28.1%,#31678e 29.9%,#3f4788 31.4%,#46307e 32.8%,#472c7a 33.9%,#453581 35.7%,#31688e 38.9%,#1f9e89 42.1%,#28ae80 43.2%,#4ec36b 45%,#63cb5f 46.4%,#6ccd5a 47.5%,#70cf57 49.3%,#6ece58 53.2%,#65cb5e 54.7%,#50c46a 56.1%,#2ab07f 57.9%,#1fa088 59%,#32648e 62.5%,#443b84 65.1%,#472c7a 66.8%,#472f7d 68.3%,#433e85 69.4%,#32648e 71.1%,#1e9d89 73.3%,#22a785 73.7%,#3dbc74 74.4%,#70cf57 75.1%,#d5e21a 76.2%,#f6e620 76.5%,#fde725 76.9%,#fde725 99.8%)"></i><i style="background:linear-gradient(90deg,#fde725 0.2%,#fde725 24.9%,#dde318 25.3%,#98d83e 26%,#5cc863 26.7%,#31b57b 27.4%,#1fa188 28.1%,#26828e 29.2%,#3f4788 31.7%,#46307e 33.2%,#472c7a 33.9%,#472d7b 35.3%,#453882 36.4%,#31668e 39.2%,#1e9d89 42.5%,#27ad81 43.5%,#48c16e 45%,#65cb5e 46.4%,#75d054 47.8%,#7ad151 52.2%,#67cc5c 54.7%,#42be71 56.5%,#29af7f 57.5%,#1f9f88 58.6%,#31688e 61.8%,#443983 64.7%,#472c7a 66.1%,#472c7a 67.2%,#472f7d 67.9%,#404588 69.4%,#23888e 72.2%,#1e9d89 72.9%,#22a785 73.3%,#3dbc74 74%,#6ece58 74.7%,#d2e21b 75.8%,#f4e61e 76.2%,#fde725 76.5%,#fde725 99.8%)"></i><i style="background:linear-gradient(90deg,#fde725 0.2%,#fde725 24.9%,#fbe723 25.3%,#dae319 25.6%,#95d840 26.3%,#44bf70 27.4%,#31b57b 27.8%,#1fa088 28.5%,#31688e 30.6%,#443a83 32.8%,#472a7a 34.6%,#472a7a 35.3%,#443b84 37.1%,#32648e 39.6%,#1e9b8a 42.8%,#26ad81 43.9%,#52c569 45.7%,#7ad151 47.8%,#86d549 50.7%,#84d44b 51.8%,#73d056 53.9%,#42be71 56.1%,#29af7f 57.2%,#20a386 57.9%,#25848e 59.7%,#414287 63.6%,#472f7d 65.1%,#472a7a 66.5%,#472f7d 67.6%,#404588 69%,#23898e 71.9%,#1e9d89 72.6%,#22a785 72.9%,#2cb17e 73.3%,#54c568 74%,#8bd646 74.7%,#d0e11c 75.4%,#f1e51d 75.8%,#fde725 76.2%,#fde725 99.8%)"></i><i style="background:linear-gradient(90deg,#fde725 0.2%,#fde725 25.3%,#f8e621 25.6%,#d8e219 26%,#75d054 27.1%,#5ac864 27.4%,#42be71 27.8%,#24aa83 28.5%,#1f968b 29.2%,#31688e 31%,#3f4889 32.4%,#453581 33.5%,#472a7a 34.9%,#463480 37.1%,#30698e 40.3%,#1fa088 43.5%,#25ac82 44.3%,#52c569 46.1%,#7cd250 47.8%,#8ed645 50%,#8ed645 51.4%,#86d549 52.5%,#60ca60 54.7%,#2fb47c 56.5%,#22a884 57.2%,#1e9c89 57.9%,#32658e 61.1%,#443b84 63.6%,#472e7c 64.7%,#472a7a 66.5%,#443983 67.9%,#3a548c 69.4%,#23898e 71.5%,#21a685 72.6%,#3bbb75 73.3%,#52c569 73.7%,#89d548 74.4%,#cde11d 75.1%,#efe51c 75.4%,#fde725 75.8%,#fde725 99.8%)"></i><i style="background:linear-gradient(90deg,#fde725 0.2%,#fde725 25.6%,#f6e620 26%,#d5e21a 26.3%,#93d741 27.1%,#5ac864 27.8%,#2fb47c 28.5%,#24aa83 28.9%,#1f968b 29.6%,#30698e 31.4%,#424186 33.2%,#472e7c 34.6%,#482979 35.7%,#472f7d 37.1%,#414287 38.5%,#31678e 40.7%,#1f9f88 43.9%,#25ab82 44.6%,#34b679 45.3%,#5ec962 46.8%,#81d34d 48.2%,#90d743 49.3%,#98d83e 50.7%,#84d44b 52.9%,#6ccd5a 53.9%,#2eb37c 56.1%,#1e9b8a 57.5%,#365d8d 61.1%,#463480 63.6%,#472a7a 64.7%,#482979 65.8%,#472f7d 66.8%,#423f85 67.9%,#31668e 69.7%,#20928c 71.5%,#21a685 72.2%,#3bbb75 72.9%,#69cd5b 73.7%,#cae11f 74.7%,#eae51a 75.1%,#fde725 75.4%,#fde725 99.8%)"></i><i style="background:linear-gradient(90deg,#fde725 0.2%,#fde725 26%,#f4e61e 26.3%,#d2e21b 26.7%,#90d743 27.4%,#40bd72 28.5%,#2fb47c 28.9%,#1fa088 29.6%,#30698e 31.7%,#443b84 33.9%,#472a7a 35.3%,#482878 36.4%,#443a83 38.5%,#32658e 41%,#1e9d89 44.3%,#32b67a 45.7%,#69cd5b 47.5%,#8ed645 48.9%,#a0da39 50.4%,#9bd93c 51.4%,#89d548 52.5%,#63cb5f 53.9%,#35b779 55.4%,#21a685 56.5%,#20928c 57.5%,#31678e 60%,#453781 62.9%,#482979 64.3%,#482979 65.4%,#46307e 66.5%,#424086 67.6%,#23898e 70.8%,#21a685 71.9%,#2ab07f 72.2%,#50c46a 72.9%,#86d549 73.7%,#c8e020 74.4%,#e7e419 74.7%,#fde725 75.1%,#fde725 99.8%)"></i><i style="background:linear-gradient(90deg,#fde725 0.2%,#fde725 26.3%,#f6e620 26.7%,#d8e219 27.1%,#77d153 28.1%,#44bf70 28.9%,#25ab82 29.6%,#1fa188 29.9%,#306a8e 32.1%,#414287 33.9%,#472e7c 35.3%,#482878 36.4%,#472a7a 37.5%,#423f85 39.2%,#32648e 41.4%,#1e9d89 44.6%,#29af7f 45.7%,#67cc5c 47.8%,#81d34d 48.9%,#95d840 50.7%,#84d44b 52.2%,#60ca60 53.6%,#2cb17e 55.4%,#1f9f88 56.5%,#31668e 59.7%,#443b84 62.2%,#472e7c 63.3%,#482878 64.7%,#46307e 66.1%,#424086 67.2%,#26818e 70.1%,#22a884 71.5%,#3dbc74 72.2%,#54c568 72.6%,#89d548 73.3%,#cae11f 74%,#ece51b 74.4%,#fde725 74.7%,#fde725 99.8%)"></i><i style="background:linear-gradient(90deg,#fde725 0.2%,#fde725 27.1%,#dfe318 27.4%,#60ca60 28.9%,#35b779 29.6%,#20a386 30.3%,#25858e 31.4%,#3e4a89 33.9%,#46327e 35.3%,#482878 36.7%,#472a7a 37.8%,#443983 39.2%,#32648e 41.8%,#1e9d89 45%,#29af7f 46.1%,#4ec36b 47.5%,#6ece58 48.9%,#7cd250 50%,#7ad151 51.4%,#63cb5f 52.9%,#2cb17e 55%,#1fa088 56.1%,#31668e 59.3%,#443b84 61.8%,#472e7c 62.9%,#482878 64.3%,#46307e 65.8%,#424186 66.8%,#26828e 69.7%,#1f958b 70.4%,#24aa83 71.1%,#40bd72 71.9%,#58c765 72.2%,#90d743 72.9%,#d2e21b 73.7%,#f4e61e 74%,#fde725 74.4%,#fde725 99.8%)"></i><i style="background:linear-gradient(90deg,#fde725 0.2%,#fde725 27.4%,#e7e419 27.8%,#c5e021 28.1%,#84d44b 28.9%,#4ec36b 29.6%,#29af7f 30.3%,#1e9b8a 31%,#32648e 33.2%,#433e85 34.9%,#472e7c 36%,#482878 37.5%,#443983 39.6%,#32648e 42.1%,#1e9d89 45.3%,#28ae80 46.4%,#48c16e 47.8%,#63cb5f 49.3%,#6ccd5a 50.4%,#63cb5f 51.8%,#4cc26c 53.2%,#2ab07f 54.7%,#1f9f88 55.7%,#31678e 59%,#443b84 61.5%,#472a7a 62.9%,#482878 64%,#46307e 65.4%,#443b84 66.1%,#25848e 69.4%,#1f978b 70.1%,#25ac82 70.8%,#32b67a 71.1%,#5ec962 71.9%,#98d83e 72.6%,#dde318 73.3%,#fde725 73.7%,#fde725 99.8%)"></i><i style="background:linear-gradient(90deg,#fde725 0.2%,#fde725 27.8%,#f1e51d 28.1%,#d0e11c 28.5%,#8bd646 29.2%,#3dbc74 30.3%,#2cb17e 30.6%,#1e9d89 31.4%,#31668e 33.5%,#423f85 35.3%,#472f7d 36.4%,#482878 37.8%,#443983 40%,#32648e 42.5%,#1e9d89 45.7%,#27ad81 46.8%,#52c569 49.3%,#5ac864 50.4%,#52c569 51.8%,#3dbc74 53.2%,#29af7f 54.3%,#1f9f88 55.4%,#31678e 58.6%,#453581 61.5%,#472a7a 62.5%,#482878 63.6%,#472a7a 64.3%,#414287 66.1%,#24868e 69%,#20a386 70.1%,#27ad81 70.4%,#4cc26c 71.1%,#81d34d 71.9%,#c2df23 72.6%,#e5e419 72.9%,#fde725 73.3%,#fde725 99.8%)"></i><i style="background:linear-gradient(90deg,#fde725 0.2%,#fde725 28.1%,#f8e621 28.5%,#d8e219 28.9%,#93d741 29.6%,#5ac864 30.3%,#2fb47c 31%,#23a983 31.4%,#1f948c 32.1%,#26828e 32.8%,#423f85 35.7%,#472f7d 36.7%,#482878 38.2%,#472f7d 39.6%,#443983 40.3%,#32648e 42.8%,#1e9c89 46.1%,#2fb47c 47.8%,#3fbc73 48.9%,#48c16e 50.4%,#46c06f 51.4%,#3bbb75 52.5%,#23a983 54.3%,#1f988b 55.4%,#31678e 58.2%,#453581 61.1%,#472a7a 62.2%,#482878 63.3%,#472e7c 64.3%,#433d84 65.4%,#32648e 67.2%,#20928c 69%,#21a685 69.7%,#2ab07f 70.1%,#50c46a 70.8%,#cae11f 72.2%,#ece51b 72.6%,#fde725 72.9%,#fde725 99.8%)"></i><i style="background:linear-gradient(90deg,#fde725 0.2%,#fde725 28.9%,#dfe318 29.2%,#bddf26 29.6%,#5ec962 30.6%,#32b67a 31.4%,#1fa187 32.1%,#31688e 34.2%,#424086 36%,#472f7d 37.1%,#482878 38.5%,#472f7d 40%,#433e85 41%,#32648e 43.2%,#1e9b8a 46.4%,#32b67a 48.9%,#3aba76 50.4%,#2fb47c 52.5%,#1e9d89 54.7%,#31678e 57.9%,#443a83 60.4%,#472a7a 61.8%,#482878 62.9%,#472e7c 64%,#404588 65.4%,#23898e 68.3%,#22a884 69.4%,#3fbc73 70.1%,#70cf57 70.8%,#d5e21a 71.9%,#f6e620 72.2%,#fde725 72.6%,#fde725 99.8%)"></i><i style="background:linear-gradient(90deg,#fde725 0.2%,#fde725 29.2%,#eae51a 29.6%,#c5e021 29.9%,#65cb5e 31%,#4cc26c 31.4%,#27ad81 32.1%,#20a386 32.4%,#218f8d 33.2%,#306a8e 34.6%,#443a83 36.7%,#482878 38.9%,#472f7d 40.3%,#32648e 43.5%,#1f948c 46.4%,#24aa83 48.2%,#2eb37c 50.7%,#25ab82 52.9%,#1e9c89 54.3%,#31678e 57.5%,#443a83 60%,#472a7a 61.5%,#482878 62.5%,#46337f 64%,#404688 65.1%,#31678e 66.5%,#1fa088 68.6%,#31b57b 69.4%,#5cc863 70.1%,#77d153 70.4%,#dde318 71.5%,#fde725 71.9%,#fde725 99.8%)"></i><i style="background:linear-gradient(90deg,#fde725 0.2%,#fde725 29.6%,#f1e51d 29.9%,#d0e11c 30.3%,#6ccd5a 31.4%,#3aba76 32.1%,#2ab07f 32.4%,#1e9b8a 33.2%,#2f6b8e 34.9%,#3e4989 36.4%,#453581 37.5%,#472a7a 38.5%,#482979 40%,#46337f 41%,#32648e 43.9%,#218e8d 46.4%,#1fa088 47.8%,#25ab82 51.1%,#1f998a 53.9%,#31668e 57.2%,#46307e 60.4%,#482878 62.2%,#472f7d 63.3%,#423f85 64.3%,#31688e 66.1%,#1fa187 68.3%,#26ad81 68.6%,#48c16e 69.4%,#7fd34e 70.1%,#c2df23 70.8%,#e5e419 71.1%,#fde725 71.5%,#fde725 99.8%)"></i><i style="background:linear-gradient(90deg,#fde725 0.2%,#fbe723 30.3%,#d8e219 30.6%,#56c667 32.1%,#2db27d 32.8%,#1e9d89 33.5%,#32648e 35.7%,#414287 37.1%,#472a7a 38.9%,#482979 40.3%,#46337f 41.4%,#32648e 44.3%,#21918c 47.1%,#1fa188 49.3%,#20a386 50.7%,#1f968b 53.6%,#31668e 56.8%,#463480 59.7%,#482878 61.8%,#472f7d 62.9%,#424086 64%,#30698e 65.8%,#218f8d 67.2%,#20a386 67.9%,#28ae80 68.3%,#4ec36b 69%,#86d549 69.7%,#cae11f 70.4%,#efe51c 70.8%,#fde725 71.1%,#fde725 99.8%)"></i><i style="background:linear-gradient(90deg,#fde725 0.2%,#fde725 30.6%,#e2e418 31%,#bddf26 31.4%,#5cc863 32.4%,#31b57b 33.2%,#1f9f88 33.9%,#32658e 36%,#414487 37.5%,#472d7b 38.9%,#482878 40%,#472e7c 41.4%,#3c508b 43.5%,#218e8d 47.5%,#1e9b8a 50%,#1f988b 52.2%,#218f8d 53.6%,#31668e 56.5%,#463480 59.3%,#482878 61.5%,#472f7d 62.5%,#3f4889 64%,#24868e 66.5%,#21a685 67.6%,#3bbb75 68.3%,#6ece58 69%,#d5e21a 70.1%,#f6e620 70.4%,#fde725 70.8%,#fde725 99.8%)"></i><i style="background:linear-gradient(90deg,#fde725 0.2%,#fde725 31%,#eae51a 31.4%,#c5e021 31.7%,#81d34d 32.4%,#48c16e 33.2%,#25ac82 33.9%,#1f968b 34.6%,#31668e 36.4%,#404588 37.8%,#46327e 38.9%,#482878 40.3%,#472e7c 41.8%,#3c508b 43.9%,#24868e 47.5%,#20938c 50.4%,#21918c 52.2%,#27808e 54.3%,#3e4c8a 57.5%,#472f7d 59.3%,#482878 61.1%,#46307e 62.2%,#3e4989 63.6%,#2f6c8e 65.1%,#1e9d89 66.8%,#22a884 67.2%,#40bd72 67.9%,#75d054 68.6%,#dde318 69.7%,#fde725 70.1%,#fde725 99.8%)"></i><i style="background:linear-gradient(90deg,#fde725 0.2%,#fde725 31.4%,#f1e51d 31.7%,#d0e11c 32.1%,#89d548 32.8%,#4ec36b 33.5%,#27ad81 34.2%,#1f988b 34.9%,#39558c 37.5%,#433e85 38.5%,#472a7a 40%,#472a7a 41.8%,#46327e 42.5%,#39558c 44.6%,#277f8e 47.5%,#228c8d 50.7%,#287d8e 53.9%,#3e4c8a 57.2%,#472f7d 59%,#482878 60.8%,#46307e 61.8%,#414287 62.9%,#32648e 64.3%,#1f948c 66.1%,#24aa83 66.8%,#31b57b 67.2%,#5ec962 67.9%,#c2df23 69%,#e7e419 69.4%,#fde725 69.7%,#fde725 99.8%)"></i><i style="background:linear-gradient(90deg,#fde725 0.2%,#fde725 31.4%,#f1e51d 31.7%,#d0e11c 32.1%,#89d548 32.8%,#4ec36b 33.5%,#27ad81 34.2%,#1f988b 34.9%,#39558c 37.5%,#433e85 38.5%,#472a7a 40%,#472a7a 41.8%,#46327e 42.5%,#39558c 44.6%,#277f8e 47.5%,#228c8d 50.7%,#287d8e 53.9%,#3e4c8a 57.2%,#472f7d 59%,#482878 60.8%,#46307e 61.8%,#414287 62.9%,#32648e 64.3%,#1f948c 66.1%,#24aa83 66.8%,#31b57b 67.2%,#5ec962 67.9%,#c2df23 69%,#e7e419 69.4%,#fde725 69.7%,#fde725 99.8%)"></i><i style="background:linear-gradient(90deg,#fde725 0.2%,#fde725 31.4%,#f1e51d 31.7%,#d0e11c 32.1%,#89d548 32.8%,#4ec36b 33.5%,#27ad81 34.2%,#1f988b 34.9%,#39558c 37.5%,#433e85 38.5%,#472a7a 40%,#472a7a 41.8%,#46327e 42.5%,#39558c 44.6%,#277f8e 47.5%,#228c8d 50.7%,#287d8e 53.9%,#3e4c8a 57.2%,#472f7d 59%,#482878 60.8%,#46307e 61.8%,#414287 62.9%,#32648e 64.3%,#1f948c 66.1%,#24aa83 66.8%,#31b57b 67.2%,#5ec962 67.9%,#c2df23 69%,#e7e419 69.4%,#fde725 69.7%,#fde725 99.8%)"></i></div></div>
<div class="hw" style="left:119px;top:493px"><div class="hm"><i style="background:linear-gradient(90deg,#fde725 0.2%,#fde725 28.5%,#dfe318 28.9%,#75d054 29.9%,#3fbc73 30.6%,#21a685 31.4%,#1e9b8a 31.7%,#39558c 34.2%,#3e4a89 35.7%,#3b528b 36.4%,#24878e 38.9%,#1f988b 39.6%,#24aa83 40.3%,#3bbb75 41%,#70cf57 42.1%,#a2da37 43.2%,#b2dd2d 43.9%,#b0dd2f 44.3%,#50c46a 46.4%,#38b977 46.8%,#20a386 47.1%,#287d8e 47.8%,#365d8d 48.9%,#3a548c 49.6%,#3a538b 51.4%,#2f6b8e 52.9%,#24878e 53.6%,#1e9c89 53.9%,#2db27d 54.3%,#4ac16d 54.7%,#9dd93b 56.5%,#b2dd2d 57.2%,#b0dd2f 57.5%,#a5db36 57.9%,#77d153 59%,#40bd72 60%,#26ad81 60.8%,#20a486 61.1%,#26828e 62.5%,#3a548c 64.7%,#3e4a89 65.8%,#3a538b 66.8%,#26828e 68.6%,#1fa287 69.7%,#27ad81 70.1%,#50c46a 70.8%,#8bd646 71.5%,#d2e21b 72.2%,#f6e620 72.6%,#fde725 72.9%,#fde725 99.8%)"></i><i style="background:linear-gradient(90deg,#fde725 0.2%,#fde725 28.5%,#dfe318 28.9%,#75d054 29.9%,#3fbc73 30.6%,#21a685 31.4%,#1e9b8a 31.7%,#39558c 34.2%,#3e4a89 35.7%,#3b528b 36.4%,#24878e 38.9%,#1f988b 39.6%,#24aa83 40.3%,#3bbb75 41%,#70cf57 42.1%,#a2da37 43.2%,#b2dd2d 43.9%,#b0dd2f 44.3%,#50c46a 46.4%,#38b977 46.8%,#20a386 47.1%,#287d8e 47.8%,#365d8d 48.9%,#3a548c 49.6%,#3a538b 51.4%,#2f6b8e 52.9%,#24878e 53.6%,#1e9c89 53.9%,#2db27d 54.3%,#4ac16d 54.7%,#9dd93b 56.5%,#b2dd2d 57.2%,#b0dd2f 57.5%,#a5db36 57.9%,#77d153 59%,#40bd72 60%,#26ad81 60.8%,#20a486 61.1%,#26828e 62.5%,#3a548c 64.7%,#3e4a89 65.8%,#3a538b 66.8%,#26828e 68.6%,#1fa287 69.7%,#27ad81 70.1%,#50c46a 70.8%,#8bd646 71.5%,#d2e21b 72.2%,#f6e620 72.6%,#fde725 72.9%,#fde725 99.8%)"></i><i style="background:linear-gradient(90deg,#fde725 0.2%,#fde725 28.5%,#dfe318 28.9%,#75d054 29.9%,#3fbc73 30.6%,#21a685 31.4%,#1e9b8a 31.7%,#39558c 34.2%,#3e4a89 35.7%,#3b528b 36.4%,#24878e 38.9%,#1f988b 39.6%,#24aa83 40.3%,#3bbb75 41%,#70cf57 42.1%,#a2da37 43.2%,#b2dd2d 43.9%,#b0dd2f 44.3%,#50c46a 46.4%,#38b977 46.8%,#20a386 47.1%,#287d8e 47.8%,#365d8d 48.9%,#3a548c 49.6%,#3a538b 51.4%,#2f6b8e 52.9%,#24878e 53.6%,#1e9c89 53.9%,#2db27d 54.3%,#4ac16d 54.7%,#9dd93b 56.5%,#b2dd2d 57.2%,#b0dd2f 57.5%,#a5db36 57.9%,#77d153 59%,#40bd72 60%,#26ad81 60.8%,#20a486 61.1%,#26828e 62.5%,#3a548c 64.7%,#3e4a89 65.8%,#3a538b 66.8%,#26828e 68.6%,#1fa287 69.7%,#27ad81 70.1%,#50c46a 70.8%,#8bd646 71.5%,#d2e21b 72.2%,#f6e620 72.6%,#fde725 72.9%,#fde725 99.8%)"></i><i style="background:linear-gradient(90deg,#fde725 0.2%,#fde725 28.5%,#efe51c 28.9%,#cde11d 29.2%,#86d549 29.9%,#4cc26c 30.6%,#25ac82 31.4%,#1fa188 31.7%,#27808e 32.8%,#3b528b 34.6%,#3e4989 35.3%,#3e4a89 36%,#3a538b 36.7%,#23898e 39.2%,#20a386 40.3%,#2fb47c 41%,#70cf57 42.5%,#9bd93c 43.5%,#a0da39 43.9%,#9dd93b 44.3%,#89d548 45%,#50c46a 46.4%,#3aba76 46.8%,#21a585 47.1%,#21908d 47.5%,#2d708e 48.2%,#355e8d 48.9%,#39558c 49.6%,#3a538b 50.7%,#365c8d 52.2%,#2a788e 53.2%,#1e9d89 53.9%,#2eb37c 54.3%,#4ac16d 54.7%,#84d44b 56.1%,#9bd93c 56.8%,#a0da39 57.2%,#93d741 57.9%,#42be71 59.7%,#21a685 60.8%,#1f948c 61.5%,#39558c 64.3%,#3e4989 65.4%,#3e4a89 66.1%,#39568c 66.8%,#20928c 69%,#22a884 69.7%,#2eb37c 70.1%,#5cc863 70.8%,#c0df25 71.9%,#e5e419 72.2%,#fde725 72.6%,#fde725 99.8%)"></i><i style="background:linear-gradient(90deg,#fde725 0.2%,#fde725 28.9%,#dde318 29.2%,#75d054 30.3%,#3fbc73 31%,#2cb17e 31.4%,#1e9b8a 32.1%,#3a548c 34.6%,#3e4989 35.3%,#3f4889 36%,#33638d 37.8%,#228b8d 39.6%,#21a585 40.7%,#32b67a 41.4%,#50c46a 42.1%,#7cd250 43.2%,#8ed645 43.9%,#8ed645 44.3%,#67cc5c 45.7%,#4ec36b 46.4%,#3bbb75 46.8%,#21a685 47.1%,#2c718e 48.2%,#355f8d 48.9%,#39558c 50%,#39568c 51.4%,#365d8d 52.2%,#297a8e 53.2%,#1f9f88 53.9%,#31b57b 54.3%,#4ac16d 54.7%,#7ad151 56.1%,#8bd646 56.8%,#8ed645 57.2%,#81d34d 57.9%,#44bf70 59.3%,#22a884 60.4%,#218e8d 61.5%,#355e8d 63.6%,#3f4788 65.4%,#3e4c8a 66.1%,#375a8c 66.8%,#26818e 68.3%,#1fa287 69.4%,#27ad81 69.7%,#4ec36b 70.4%,#69cd5b 70.8%,#d2e21b 71.9%,#f4e61e 72.2%,#fde725 72.6%,#fde725 99.8%)"></i><i style="background:linear-gradient(90deg,#fde725 0.2%,#fde725 28.9%,#efe51c 29.2%,#cae11f 29.6%,#65cb5e 30.6%,#34b679 31.4%,#25ac82 31.7%,#1f948c 32.4%,#34618d 34.2%,#3e4a89 35.3%,#404688 36%,#39568c 37.5%,#1f958b 40.3%,#21a685 41%,#40bd72 42.1%,#6ccd5a 43.2%,#81d34d 44.3%,#7fd34e 44.6%,#5ac864 46.1%,#3bbb75 46.8%,#22a785 47.1%,#26818e 47.8%,#31688e 48.6%,#365c8d 49.3%,#39568c 50.4%,#38588c 51.4%,#32658e 52.5%,#297b8e 53.2%,#1fa088 53.9%,#32b67a 54.3%,#4ac16d 54.7%,#7cd250 56.5%,#7fd34e 57.2%,#7ad151 57.5%,#63cb5f 58.2%,#2cb17e 59.7%,#1fa187 60.4%,#24878e 61.5%,#3b528b 64%,#3f4788 65.1%,#3e4989 65.8%,#39558c 66.5%,#24868e 68.3%,#1e9c89 69%,#22a785 69.4%,#42be71 70.1%,#7ad151 70.8%,#c0df25 71.5%,#e2e418 71.9%,#fde725 72.2%,#fde725 99.8%)"></i><i style="background:linear-gradient(90deg,#fde725 0.2%,#fde725 29.2%,#dde318 29.6%,#75d054 30.6%,#3fbc73 31.4%,#21a585 32.1%,#1f9a8a 32.4%,#3a538b 34.9%,#3f4788 35.7%,#404688 36.4%,#3b518b 37.5%,#24868e 40%,#1fa088 41%,#2ab07f 41.8%,#50c46a 42.8%,#6ece58 43.9%,#75d054 44.6%,#70cf57 45%,#4ec36b 46.4%,#3dbc74 46.8%,#22a884 47.1%,#26828e 47.8%,#306a8e 48.6%,#365d8d 49.3%,#38588c 50.7%,#365c8d 51.8%,#31678e 52.5%,#287c8e 53.2%,#1fa188 53.9%,#32b67a 54.3%,#4ac16d 54.7%,#67cc5c 55.7%,#75d054 56.8%,#69cd5b 57.5%,#46c06f 58.6%,#2eb37c 59.3%,#1fa287 60%,#23898e 61.1%,#3a538b 63.6%,#404588 65.1%,#3e4a89 65.8%,#33628d 66.8%,#1f968b 68.6%,#26ad81 69.4%,#37b878 69.7%,#69cd5b 70.4%,#d0e11c 71.5%,#f4e61e 71.9%,#fde725 72.2%,#fde725 99.8%)"></i><i style="background:linear-gradient(90deg,#fde725 0.2%,#fde725 29.2%,#efe51c 29.6%,#cae11f 29.9%,#65cb5e 31%,#34b679 31.7%,#25ab82 32.1%,#1f948c 32.8%,#3c4f8a 35.3%,#414487 36.4%,#3a538b 37.8%,#23888e 40.3%,#1fa187 41.4%,#23a983 41.8%,#40bd72 42.8%,#65cb5e 44.3%,#65cb5e 45.3%,#4ec36b 46.4%,#3dbc74 46.8%,#24aa83 47.1%,#1f948c 47.5%,#26828e 47.8%,#2f6b8e 48.6%,#375a8c 50%,#34618d 52.2%,#2c718e 52.9%,#1fa187 53.9%,#34b679 54.3%,#4ac16d 54.7%,#63cb5f 55.7%,#67cc5c 56.8%,#5ac864 57.5%,#25ac82 59.3%,#1e9c89 60%,#39558c 63.3%,#3e4989 64%,#414487 65.1%,#3a548c 66.1%,#21918c 68.3%,#22a785 69%,#40bd72 69.7%,#5ac864 70.1%,#bddf26 71.1%,#e2e418 71.5%,#fde725 71.9%,#fde725 99.8%)"></i><i style="background:linear-gradient(90deg,#fde725 0.2%,#fde725 29.6%,#dde318 29.9%,#73d056 31%,#56c667 31.4%,#2ab07f 32.1%,#21a585 32.4%,#25838e 33.5%,#3b528b 35.3%,#414287 36.4%,#3f4889 37.5%,#3a548c 38.2%,#1e9b8a 41.4%,#24aa83 42.1%,#48c16e 43.5%,#56c667 44.3%,#5cc863 45.3%,#52c569 46.1%,#4cc26c 46.4%,#3dbc74 46.8%,#25ab82 47.1%,#1f958b 47.5%,#2a768e 48.2%,#32658e 48.9%,#365d8d 49.6%,#365c8d 51.4%,#2c728e 52.9%,#218f8d 53.6%,#20a386 53.9%,#35b779 54.3%,#48c16e 54.7%,#50c46a 55%,#5cc863 56.1%,#58c765 56.8%,#4cc26c 57.5%,#26ad81 59%,#1f9e89 59.7%,#39568c 62.9%,#414287 64.7%,#3c508b 65.8%,#1f968b 68.3%,#26ad81 69%,#37b878 69.4%,#69cd5b 70.1%,#d0e11c 71.1%,#f4e61e 71.5%,#fde725 71.9%,#fde725 99.8%)"></i><i style="background:linear-gradient(90deg,#fde725 0.2%,#fde725 29.6%,#efe51c 29.9%,#cae11f 30.3%,#65cb5e 31.4%,#34b679 32.1%,#25ab82 32.4%,#20938c 33.2%,#39568c 35.3%,#3f4788 36%,#424186 36.7%,#39558c 38.5%,#1e9c89 41.8%,#25ab82 42.5%,#3bbb75 43.5%,#4ec36b 44.6%,#50c46a 45.3%,#44bf70 46.4%,#3aba76 46.8%,#25ab82 47.1%,#1f978b 47.5%,#2a778e 48.2%,#31668e 48.9%,#365c8d 50.7%,#34608d 51.8%,#2f6b8e 52.5%,#27808e 53.2%,#20a486 53.9%,#34b679 54.3%,#4ac16d 55%,#4ec36b 56.5%,#37b878 57.9%,#26ad81 58.6%,#1f9f88 59.3%,#24878e 60.4%,#3b518b 62.9%,#424186 64.3%,#404588 65.1%,#3a538b 65.8%,#21908d 67.9%,#22a785 68.6%,#2db27d 69%,#5ac864 69.7%,#77d153 70.1%,#bddf26 70.8%,#e2e418 71.1%,#fde725 71.5%,#fde725 99.8%)"></i><i style="background:linear-gradient(90deg,#fde725 0.2%,#fde725 29.9%,#dde318 30.3%,#93d741 31%,#56c667 31.7%,#2ab07f 32.4%,#21a585 32.8%,#25838e 33.9%,#3b518b 35.7%,#424086 36.7%,#424186 37.5%,#3c508b 38.5%,#25858e 41%,#1e9d89 42.1%,#31b57b 43.5%,#40bd72 44.6%,#42be71 45.7%,#3aba76 46.4%,#32b67a 46.8%,#24aa83 47.1%,#1f978b 47.5%,#29798e 48.2%,#31678e 48.9%,#355e8d 50%,#355e8d 51.1%,#32658e 52.2%,#2b758e 52.9%,#20a486 53.9%,#2eb37c 54.3%,#40bd72 55.4%,#3dbc74 56.8%,#21a685 58.6%,#1f988b 59.3%,#3a538b 62.5%,#414287 63.6%,#424086 64.3%,#3f4788 65.1%,#34618d 66.1%,#1f958b 67.9%,#26ad81 68.6%,#35b779 69%,#67cc5c 69.7%,#d0e11c 70.8%,#f4e61e 71.1%,#fde725 71.5%,#fde725 99.8%)"></i><i style="background:linear-gradient(90deg,#fde725 0.2%,#fde725 29.9%,#ece51b 30.3%,#cae11f 30.6%,#81d34d 31.4%,#63cb5f 31.7%,#32b67a 32.4%,#25ab82 32.8%,#20938c 33.5%,#39558c 35.7%,#423f85 37.1%,#424186 37.8%,#3b528b 38.9%,#1f968b 42.1%,#20a386 42.8%,#32b67a 44.3%,#37b878 45.7%,#2ab07f 46.8%,#1f988b 47.5%,#2d708e 48.6%,#32648e 49.3%,#355f8d 50.4%,#34608d 51.4%,#2e6d8e 52.5%,#20928c 53.6%,#20a386 53.9%,#2eb37c 54.7%,#37b878 55.7%,#2fb47c 57.2%,#21a685 58.2%,#1f998a 59%,#3a548c 62.2%,#423f85 64%,#414487 64.7%,#3b528b 65.4%,#1e9b8a 67.9%,#21a685 68.3%,#40bd72 69%,#77d153 69.7%,#bddf26 70.4%,#e2e418 70.8%,#fde725 71.1%,#fde725 99.8%)"></i><i style="background:linear-gradient(90deg,#fde725 0.2%,#fde725 30.3%,#dae319 30.6%,#54c568 32.1%,#3bbb75 32.4%,#20a486 33.2%,#26828e 34.2%,#3c508b 36%,#433e85 37.1%,#3f4788 38.5%,#306a8e 40.3%,#1e9d89 42.8%,#29af7f 44.3%,#2eb37c 45.3%,#2ab07f 46.1%,#20a486 47.1%,#297b8e 48.2%,#306a8e 48.9%,#33628d 49.6%,#34608d 51.1%,#31688e 52.2%,#2a778e 52.9%,#20928c 53.6%,#23a983 54.3%,#2db27d 55.4%,#2db27d 56.5%,#24aa83 57.5%,#20928c 59%,#3f4889 62.5%,#433e85 64%,#39568c 65.4%,#1f958b 67.6%,#25ac82 68.3%,#35b779 68.6%,#67cc5c 69.4%,#cde11d 70.4%,#f1e51d 70.8%,#fde725 71.1%,#fde725 99.8%)"></i><i style="background:linear-gradient(90deg,#fde725 0.2%,#fde725 30.3%,#ece51b 30.6%,#c8e020 31%,#63cb5f 32.1%,#32b67a 32.8%,#24aa83 33.2%,#20928c 33.9%,#3a548c 36%,#414487 36.7%,#433d84 37.5%,#414287 38.5%,#32648e 40.3%,#1e9d89 43.2%,#26ad81 45%,#25ab82 46.1%,#1f9f88 47.1%,#2f6b8e 48.9%,#33638d 49.6%,#34618d 51.1%,#2d708e 52.5%,#1e9d89 53.9%,#24aa83 55%,#25ac82 56.5%,#1f9f88 57.9%,#20928c 58.6%,#3e4989 62.2%,#433d84 63.6%,#414287 64.3%,#3b518b 65.1%,#25848e 66.8%,#21a685 67.9%,#2cb17e 68.3%,#58c765 69%,#75d054 69.4%,#dfe318 70.4%,#fde725 70.8%,#fde725 99.8%)"></i><i style="background:linear-gradient(90deg,#fde725 0.2%,#fde725 30.6%,#dde318 31%,#95d840 31.7%,#56c667 32.4%,#3dbc74 32.8%,#21a585 33.5%,#218e8d 34.2%,#3c508b 36.4%,#443a83 37.8%,#3f4889 39.2%,#32658e 40.7%,#1e9b8a 43.5%,#22a785 45.3%,#1f9f88 46.8%,#20928c 47.5%,#306a8e 48.9%,#34608d 50%,#34608d 51.1%,#31688e 52.2%,#1e9d89 54.3%,#21a685 55.4%,#21a585 56.5%,#20928c 58.2%,#3e4a89 61.8%,#443a83 63.3%,#423f85 64%,#3d4d8a 64.7%,#1f958b 67.2%,#26ad81 67.9%,#37b878 68.3%,#69cd5b 69%,#d2e21b 70.1%,#f4e61e 70.4%,#fde725 70.8%,#fde725 99.8%)"></i><i style="background:linear-gradient(90deg,#fde725 0.2%,#fde725 30.6%,#f6e620 31%,#d2e21b 31.4%,#69cd5b 32.4%,#4ec36b 32.8%,#26ad81 33.5%,#1fa187 33.9%,#27808e 34.9%,#3d4d8a 36.7%,#433e85 37.5%,#443983 38.2%,#424186 39.2%,#32648e 41%,#218e8d 43.2%,#1e9b8a 44.3%,#1fa188 45.7%,#1f998a 46.8%,#218e8d 47.5%,#31678e 48.9%,#355f8d 49.6%,#355e8d 51.1%,#2f6c8e 52.5%,#238a8d 53.6%,#1f978b 54.3%,#1fa188 56.1%,#21908d 57.9%,#3e4989 61.5%,#443b84 62.5%,#443983 63.3%,#3e4989 64.3%,#24868e 66.5%,#1e9d89 67.2%,#23a983 67.6%,#31b57b 67.9%,#60ca60 68.6%,#c5e021 69.7%,#eae51a 70.1%,#fde725 70.4%,#fde725 99.8%)"></i><i style="background:linear-gradient(90deg,#fde725 0.2%,#fde725 31%,#eae51a 31.4%,#c5e021 31.7%,#60ca60 32.8%,#31b57b 33.5%,#23a983 33.9%,#20928c 34.6%,#3b528b 36.7%,#453882 38.2%,#424186 39.6%,#32648e 41.4%,#21918c 43.9%,#1e9b8a 45.7%,#218f8d 47.1%,#34608d 49.3%,#375b8d 50.4%,#355e8d 51.8%,#20928c 54.3%,#1f9a8a 55.4%,#1f988b 56.5%,#218e8d 57.5%,#31668e 59.7%,#433e85 61.8%,#453882 62.9%,#404688 64%,#218e8d 66.5%,#21a585 67.2%,#2ab07f 67.6%,#56c667 68.3%,#95d840 69%,#dde318 69.7%,#fde725 70.1%,#fde725 99.8%)"></i><i style="background:linear-gradient(90deg,#fde725 0.2%,#fde725 31.4%,#dfe318 31.7%,#95d840 32.4%,#3dbc74 33.5%,#21a585 34.2%,#1f998a 34.6%,#3c4f8a 37.1%,#453581 38.5%,#424086 40%,#25848e 43.5%,#1f948c 45.3%,#218e8d 46.8%,#33628d 48.9%,#38598c 50%,#34608d 52.2%,#26828e 53.6%,#21908d 54.7%,#20928c 56.5%,#26818e 57.9%,#414287 61.1%,#453581 62.5%,#443b84 63.3%,#39558c 64.3%,#1f958b 66.5%,#26ad81 67.2%,#37b878 67.6%,#69cd5b 68.3%,#d2e21b 69.4%,#f6e620 69.7%,#fde725 70.1%,#fde725 99.8%)"></i><i style="background:linear-gradient(90deg,#fde725 0.2%,#fde725 31.4%,#f6e620 31.7%,#d2e21b 32.1%,#69cd5b 33.2%,#37b878 33.9%,#26ad81 34.2%,#1f958b 34.9%,#306a8e 36.4%,#414287 37.8%,#463480 38.9%,#443a83 40%,#3a548c 41.4%,#287d8e 43.5%,#218f8d 45.3%,#25848e 47.1%,#355f8d 48.9%,#39558c 50.4%,#38598c 51.8%,#26828e 53.9%,#228d8d 55%,#218e8d 56.1%,#277f8e 57.5%,#39568c 59.7%,#453882 61.5%,#453581 62.5%,#3f4889 63.6%,#31668e 64.7%,#1e9d89 66.5%,#23a983 66.8%,#46c06f 67.6%,#7fd34e 68.3%,#c5e021 69%,#eae51a 69.4%,#fde725 69.7%,#fde725 99.8%)"></i><i style="background:linear-gradient(90deg,#fde725 0.2%,#fde725 31.7%,#eae51a 32.1%,#c8e020 32.4%,#7fd34e 33.2%,#46c06f 33.9%,#23a983 34.6%,#1e9d89 34.9%,#31668e 36.7%,#423f85 38.2%,#46327e 39.2%,#423f85 40.7%,#375b8d 42.1%,#27808e 44.3%,#23898e 45.7%,#277f8e 47.1%,#365c8d 48.9%,#3a538b 50%,#39568c 51.8%,#26828e 54.3%,#24878e 56.1%,#287d8e 57.2%,#443b84 60.8%,#46337f 62.2%,#3d4e8a 63.6%,#218e8d 65.8%,#21a585 66.5%,#2ab07f 66.8%,#56c667 67.6%,#95d840 68.3%,#dde318 69%,#fde725 69.4%,#fde725 99.8%)"></i><i style="background:linear-gradient(90deg,#fde725 0.2%,#fde725 32.1%,#dfe318 32.4%,#95d840 33.2%,#3dbc74 34.2%,#21a585 34.9%,#1f998a 35.3%,#2e6d8e 36.7%,#443b84 38.5%,#46307e 39.6%,#443983 40.7%,#2e6e8e 43.5%,#26828e 45.3%,#287d8e 46.8%,#3a548c 49.3%,#3b518b 50%,#3a548c 51.8%,#287c8e 54.3%,#26818e 56.1%,#2d708e 57.5%,#443b84 60.4%,#46307e 61.8%,#424186 62.9%,#306a8e 64.3%,#1f958b 65.8%,#26ad81 66.5%,#37b878 66.8%,#69cd5b 67.6%,#d2e21b 68.6%,#f6e620 69%,#fde725 69.4%,#fde725 99.8%)"></i><i style="background:linear-gradient(90deg,#fde725 0.2%,#fde725 32.1%,#f6e620 32.4%,#d2e21b 32.8%,#69cd5b 33.9%,#37b878 34.6%,#26ad81 34.9%,#1f958b 35.7%,#30698e 37.1%,#424086 38.5%,#472f7d 39.6%,#453882 41%,#2f6c8e 43.9%,#287d8e 45.7%,#2e6f8e 47.5%,#3b528b 49.3%,#3d4e8a 50.4%,#3a548c 52.2%,#2a768e 54.3%,#287c8e 55.7%,#30698e 57.5%,#453581 60.4%,#46307e 61.8%,#375b8d 63.6%,#1e9d89 65.8%,#23a983 66.1%,#46c06f 66.8%,#7fd34e 67.6%,#c5e021 68.3%,#eae51a 68.6%,#fde725 69%,#fde725 99.8%)"></i><i style="background:linear-gradient(90deg,#fde725 0.2%,#fde725 32.4%,#eae51a 32.8%,#c8e020 33.2%,#7fd34e 33.9%,#46c06f 34.6%,#23a983 35.3%,#1e9d89 35.7%,#31668e 37.5%,#404688 38.5%,#453581 39.2%,#472d7b 40%,#46337f 41%,#32658e 43.9%,#2a768e 45.7%,#2e6e8e 47.1%,#3a538b 48.9%,#3e4c8a 50%,#3c4f8a 51.8%,#2d718e 54.3%,#2b758e 55.7%,#31678e 57.2%,#463480 60%,#472d7b 61.1%,#46337f 61.8%,#414287 62.5%,#26828e 64.7%,#20a486 65.8%,#2ab07f 66.1%,#56c667 66.8%,#95d840 67.6%,#dfe318 68.3%,#fde725 68.6%,#fde725 99.8%)"></i><i style="background:linear-gradient(90deg,#fde725 0.2%,#fde725 32.8%,#dfe318 33.2%,#95d840 33.9%,#56c667 34.6%,#3dbc74 34.9%,#2ab07f 35.3%,#1f998a 36%,#39568c 38.2%,#443983 39.2%,#472d7b 40%,#46327e 41.4%,#33638d 44.3%,#2d718e 45.7%,#2f6c8e 46.8%,#3d4d8a 49.3%,#3f4889 50.4%,#3e4989 51.4%,#2f6b8e 54.3%,#2d718e 55.4%,#32658e 56.8%,#46337f 59.7%,#472c7a 61.1%,#423f85 62.2%,#30698e 63.6%,#1f958b 65.1%,#26ad81 65.8%,#37b878 66.1%,#69cd5b 66.8%,#d2e21b 67.9%,#f6e620 68.3%,#fde725 68.6%,#fde725 99.8%)"></i><i style="background:linear-gradient(90deg,#fde725 0.2%,#fde725 32.8%,#f6e620 33.2%,#d2e21b 33.5%,#69cd5b 34.6%,#37b878 35.3%,#26ad81 35.7%,#1f958b 36.4%,#30698e 37.8%,#453581 39.6%,#482979 40.7%,#46307e 41.8%,#32658e 45%,#2f6b8e 46.1%,#404688 50%,#3e4989 51.8%,#375b8d 53.2%,#2f6b8e 55.4%,#38588c 57.2%,#46327e 59.3%,#472a7a 60.8%,#443b84 61.8%,#32658e 63.3%,#1e9d89 65.1%,#22a884 65.4%,#44bf70 66.1%,#7fd34e 66.8%,#c5e021 67.6%,#eae51a 67.9%,#fde725 68.3%,#fde725 99.8%)"></i><i style="background:linear-gradient(90deg,#fde725 0.2%,#fde725 33.2%,#eae51a 33.5%,#c5e021 33.9%,#7fd34e 34.6%,#44bf70 35.3%,#22a884 36%,#1e9d89 36.4%,#32658e 38.2%,#443a83 39.6%,#482878 40.7%,#472f7d 42.1%,#355e8d 45%,#32648e 46.1%,#414287 50.4%,#404688 51.8%,#38588c 53.2%,#32648e 55.4%,#375b8d 56.5%,#46307e 59%,#482878 60.4%,#472f7d 61.1%,#39558c 62.5%,#26828e 64%,#20a486 65.1%,#2ab07f 65.4%,#56c667 66.1%,#73d056 66.5%,#bade28 67.2%,#dde318 67.6%,#fde725 67.9%,#fde725 99.8%)"></i><i style="background:linear-gradient(90deg,#fde725 0.2%,#fde725 33.5%,#e2e418 33.9%,#c0df25 34.2%,#77d153 34.9%,#40bd72 35.7%,#21a685 36.4%,#1f9a8a 36.7%,#38588c 38.9%,#453882 40%,#482677 41%,#472e7c 42.5%,#3e4c8a 44.3%,#355e8d 45.7%,#365c8d 46.8%,#414287 49.6%,#424086 50.7%,#355f8d 55%,#38588c 56.1%,#472f7d 58.6%,#482576 60%,#453581 61.1%,#306a8e 62.9%,#1f968b 64.3%,#27ad81 65.1%,#50c46a 65.8%,#8ed645 66.5%,#d8e219 67.2%,#f8e621 67.6%,#fde725 67.9%,#fde725 99.8%)"></i><i style="background:linear-gradient(90deg,#fde725 0.2%,#fde725 33.9%,#dfe318 34.2%,#75d054 35.3%,#3fbc73 36%,#21a585 36.7%,#1f998a 37.1%,#39568c 39.2%,#472f7d 40.7%,#482576 41.4%,#472d7b 42.8%,#375b8d 46.1%,#3a548c 47.8%,#423f85 50%,#424086 51.4%,#3a538b 53.2%,#375b8d 55%,#3b518b 56.1%,#472e7c 58.2%,#482576 59.7%,#463480 60.8%,#30698e 62.5%,#1f958b 64%,#26ad81 64.7%,#37b878 65.1%,#69cd5b 65.8%,#d2e21b 66.8%,#f6e620 67.2%,#fde725 67.6%,#fde725 99.8%)"></i><i style="background:linear-gradient(90deg,#fde725 0.2%,#fde725 34.2%,#dde318 34.6%,#93d741 35.3%,#3bbb75 36.4%,#29af7f 36.7%,#1f988b 37.5%,#39558c 39.6%,#472e7c 41%,#482475 41.8%,#482677 42.8%,#3b528b 45.7%,#39568c 46.4%,#3c508b 48.2%,#424186 49.3%,#433d84 50.4%,#424086 51.8%,#3b518b 53.2%,#39558c 55%,#433e85 56.8%,#482878 58.2%,#482475 59.3%,#46337f 60.4%,#31688e 62.2%,#1f948c 63.6%,#25ac82 64.3%,#35b779 64.7%,#67cc5c 65.4%,#d0e11c 66.5%,#f4e61e 66.8%,#fde725 67.2%,#fde725 99.8%)"></i><i style="background:linear-gradient(90deg,#fde725 0.2%,#fbe723 34.6%,#d8e219 34.9%,#90d743 35.7%,#52c569 36.4%,#28ae80 37.1%,#1f978b 37.8%,#3a548c 40%,#453581 41%,#482374 42.1%,#482576 43.2%,#424086 45%,#3b518b 46.4%,#3d4e8a 48.2%,#443b84 50%,#423f85 51.8%,#3c4f8a 53.2%,#3c508b 55%,#482677 57.9%,#482374 59%,#46327e 60%,#365c8d 61.5%,#20938c 63.3%,#25ab82 64%,#34b679 64.3%,#65cb5e 65.1%,#cae11f 66.1%,#efe51c 66.5%,#fde725 66.8%,#fde725 99.8%)"></i><i style="background:linear-gradient(90deg,#fde725 0.2%,#fde725 34.6%,#f8e621 34.9%,#d5e21a 35.3%,#6ccd5a 36.4%,#50c46a 36.7%,#27ad81 37.5%,#1fa187 37.8%,#228b8d 38.5%,#355f8d 40%,#463480 41.4%,#482173 42.5%,#482475 43.5%,#3e4c8a 46.4%,#3d4e8a 47.5%,#443983 50%,#443a83 51.4%,#3d4d8a 53.2%,#3d4d8a 54.7%,#482576 57.5%,#482173 58.6%,#482979 59.3%,#375b8d 61.1%,#20928c 62.9%,#24aa83 63.6%,#46c06f 64.3%,#81d34d 65.1%,#c8e020 65.8%,#ece51b 66.1%,#fde725 66.5%,#fde725 99.8%)"></i><i style="background:linear-gradient(90deg,#fde725 0.2%,#fde725 34.9%,#f4e61e 35.3%,#d0e11c 35.7%,#69cd5b 36.7%,#37b878 37.5%,#26ad81 37.8%,#1f958b 38.5%,#355e8d 40.3%,#472a7a 42.1%,#482071 42.8%,#482677 44.3%,#404688 46.4%,#3e4a89 47.5%,#453781 50.4%,#443a83 51.8%,#3e4a89 53.2%,#3f4889 54.3%,#482475 57.2%,#482071 58.2%,#46307e 59.3%,#32658e 61.1%,#1e9d89 62.9%,#22a884 63.3%,#44bf70 64%,#5ec962 64.3%,#c5e021 65.4%,#e7e419 65.8%,#fde725 66.1%,#fde725 99.8%)"></i><i style="background:linear-gradient(90deg,#fde725 0.2%,#fde725 35.3%,#f1e51d 35.7%,#cde11d 36%,#67cc5c 37.1%,#35b779 37.8%,#25ac82 38.2%,#1f948c 38.9%,#365d8d 40.7%,#482979 42.5%,#481f70 43.2%,#482173 44.3%,#423f85 46.4%,#3f4889 47.8%,#453581 50%,#443983 51.8%,#3f4889 53.2%,#404688 53.9%,#482677 56.5%,#481f70 57.5%,#482173 58.2%,#414287 59.7%,#32648e 60.8%,#1e9c89 62.5%,#22a785 62.9%,#42be71 63.6%,#7ad151 64.3%,#c0df25 65.1%,#e5e419 65.4%,#fde725 65.8%,#fde725 99.8%)"></i><i style="background:linear-gradient(90deg,#fde725 0.2%,#fde725 35.7%,#ece51b 36%,#cae11f 36.4%,#63cb5f 37.5%,#32b67a 38.2%,#25ab82 38.5%,#20938c 39.2%,#365c8d 41%,#46307e 42.5%,#481d6f 43.5%,#482071 44.6%,#453882 46.4%,#404588 47.8%,#46337f 50.4%,#463480 51.4%,#414487 52.9%,#414487 53.6%,#482173 56.5%,#481d6f 57.5%,#482677 58.2%,#3d4d8a 59.7%,#1e9b8a 62.2%,#21a685 62.5%,#40bd72 63.3%,#77d153 64%,#bddf26 64.7%,#e2e418 65.1%,#fde725 65.4%,#fde725 99.8%)"></i><i style="background:linear-gradient(90deg,#fde725 0.2%,#fde725 36%,#eae51a 36.4%,#c5e021 36.7%,#7fd34e 37.5%,#46c06f 38.2%,#23a983 38.9%,#1f9e89 39.2%,#375b8d 41.4%,#472f7d 42.8%,#481c6e 43.9%,#481f70 45%,#424086 47.8%,#46327e 50%,#46327e 51.4%,#424086 52.9%,#423f85 53.6%,#482071 56.1%,#481c6e 57.2%,#472d7b 58.2%,#39568c 59.7%,#218e8d 61.5%,#21a585 62.2%,#3dbc74 62.9%,#58c765 63.3%,#95d840 64%,#dde318 64.7%,#fde725 65.1%,#fde725 99.8%)"></i><i style="background:linear-gradient(90deg,#fde725 0.2%,#fde725 36.4%,#e5e419 36.7%,#c2df23 37.1%,#7cd250 37.8%,#44bf70 38.5%,#22a884 39.2%,#1e9d89 39.6%,#25858e 40.3%,#3d4e8a 42.1%,#482677 43.5%,#481b6d 44.3%,#482071 45.7%,#433d84 48.2%,#472f7d 50%,#46307e 51.4%,#433d84 52.9%,#482173 55.4%,#481b6d 56.8%,#472c7a 57.9%,#39558c 59.3%,#26828e 60.8%,#20a486 61.8%,#29af7f 62.2%,#54c568 62.9%,#70cf57 63.3%,#dae319 64.3%,#fbe723 64.7%,#fde725 99.8%)"></i><i style="background:linear-gradient(90deg,#fde725 0.2%,#fde725 36.7%,#e2e418 37.1%,#bddf26 37.5%,#7ad151 38.2%,#40bd72 38.9%,#22a785 39.6%,#1e9b8a 40%,#3d4d8a 42.5%,#482576 43.9%,#481a6c 44.6%,#481c6e 45.7%,#453882 48.2%,#472d7b 50%,#453781 53.2%,#481c6e 55.4%,#481a6c 56.5%,#472a7a 57.5%,#3a548c 59%,#26818e 60.4%,#1fa287 61.5%,#28ae80 61.8%,#52c569 62.5%,#8ed645 63.3%,#d5e21a 64%,#f8e621 64.3%,#fde725 64.7%,#fde725 99.8%)"></i><i style="background:linear-gradient(90deg,#fde725 0.2%,#fde725 37.1%,#dde318 37.5%,#75d054 38.5%,#3fbc73 39.2%,#21a685 40%,#1f9a8a 40.3%,#3e4c8a 42.8%,#482475 44.3%,#48186a 45%,#481a6c 46.1%,#46337f 48.2%,#472a7a 50.4%,#46337f 52.9%,#481769 55.7%,#481b6d 56.5%,#482979 57.2%,#355f8d 59%,#228b8d 60.4%,#1fa187 61.1%,#27ad81 61.5%,#4ec36b 62.2%,#8bd646 62.9%,#d2e21b 63.6%,#f4e61e 64%,#fde725 64.3%,#fde725 99.8%)"></i><i style="background:linear-gradient(90deg,#fde725 0.2%,#fde725 37.5%,#dae319 37.8%,#b8de29 38.2%,#73d056 38.9%,#3dbc74 39.6%,#2ab07f 40%,#20a486 40.3%,#1f998a 40.7%,#39558c 42.8%,#482173 44.6%,#481769 45.3%,#48186a 46.4%,#472f7d 48.6%,#482979 50%,#472f7d 52.5%,#481668 55.4%,#481f70 56.5%,#443b84 57.5%,#365d8d 58.6%,#1f948c 60.4%,#25ac82 61.1%,#35b779 61.5%,#67cc5c 62.2%,#cde11d 63.3%,#f1e51d 63.6%,#fde725 64%,#fde725 99.8%)"></i><i style="background:linear-gradient(90deg,#fde725 0.2%,#fde725 37.5%,#fbe723 37.8%,#d8e219 38.2%,#6ece58 39.2%,#52c569 39.6%,#28ae80 40.3%,#1fa287 40.7%,#27808e 41.8%,#3f4889 43.5%,#481f70 45%,#481668 45.7%,#481769 46.8%,#472a7a 48.6%,#482677 51.1%,#472c7a 52.5%,#48186a 54.3%,#481467 55.4%,#482576 56.5%,#375b8d 58.2%,#20928c 60%,#25ab82 60.8%,#32b67a 61.1%,#65cb5e 61.8%,#cae11f 62.9%,#efe51c 63.3%,#fde725 63.6%,#fde725 99.8%)"></i><i style="background:linear-gradient(90deg,#fde725 0.2%,#fde725 37.8%,#f8e621 38.2%,#d5e21a 38.5%,#6ccd5a 39.6%,#37b878 40.3%,#26ad81 40.7%,#1f958b 41.4%,#365d8d 43.2%,#404688 43.9%,#482576 45%,#471365 46.1%,#481668 47.1%,#482677 48.9%,#482677 52.5%,#481467 54.3%,#481668 55.4%,#472c7a 56.5%,#3d4d8a 57.5%,#25858e 59.3%,#1e9d89 60%,#23a983 60.4%,#46c06f 61.1%,#60ca60 61.5%,#c8e020 62.5%,#ece51b 62.9%,#fde725 63.3%,#fde725 99.8%)"></i><i style="background:linear-gradient(90deg,#fde725 0.2%,#fde725 38.2%,#f4e61e 38.5%,#d0e11c 38.9%,#67cc5c 40%,#35b779 40.7%,#25ac82 41%,#20938c 41.8%,#375b8d 43.5%,#482374 45.3%,#471164 46.4%,#482374 48.9%,#482374 52.2%,#471365 53.9%,#471365 55%,#482979 56.1%,#39568c 57.5%,#1e9b8a 59.7%,#22a785 60%,#42be71 60.8%,#7cd250 61.5%,#c5e021 62.2%,#eae51a 62.5%,#fde725 62.9%,#fde725 99.8%)"></i><i style="background:linear-gradient(90deg,#fde725 0.2%,#fde725 38.5%,#f1e51d 38.9%,#cde11d 39.2%,#65cb5e 40.3%,#4ac16d 40.7%,#32b67a 41%,#24aa83 41.4%,#1f9e89 41.8%,#24868e 42.5%,#3d4d8a 44.3%,#482071 45.7%,#471365 46.4%,#471164 47.5%,#481f70 49.3%,#482071 50.7%,#481f70 52.2%,#471063 54.3%,#481d6f 55.4%,#3a548c 57.2%,#218e8d 59%,#21a685 59.7%,#2db27d 60%,#5ac864 60.8%,#c0df25 61.8%,#e5e419 62.2%,#fde725 62.5%,#fde725 99.8%)"></i><i style="background:linear-gradient(90deg,#fde725 0.2%,#fde725 38.9%,#efe51c 39.2%,#cae11f 39.6%,#81d34d 40.3%,#46c06f 41%,#22a884 41.8%,#1e9c89 42.1%,#39568c 44.3%,#46337f 45.3%,#471063 46.8%,#470e61 47.5%,#481b6d 49.3%,#481d6f 50.7%,#481a6c 52.2%,#470d60 53.9%,#481b6d 55%,#472f7d 55.7%,#3b528b 56.8%,#26818e 58.2%,#20a486 59.3%,#2ab07f 59.7%,#58c765 60.4%,#75d054 60.8%,#bddf26 61.5%,#e2e418 61.8%,#fde725 62.2%,#fde725 99.8%)"></i><i style="background:linear-gradient(90deg,#fde725 0.2%,#fde725 39.2%,#ece51b 39.6%,#c8e020 40%,#7fd34e 40.7%,#42be71 41.4%,#2eb37c 41.8%,#1e9b8a 42.5%,#2f6c8e 43.9%,#3f4889 45%,#482576 46.1%,#470e61 47.1%,#460b5e 47.8%,#481b6d 50.7%,#460b5e 53.6%,#48186a 54.7%,#453882 55.7%,#3c508b 56.5%,#277f8e 57.9%,#1fa287 59%,#28ae80 59.3%,#54c568 60%,#95d840 60.8%,#dfe318 61.5%,#fde725 61.8%,#fde725 99.8%)"></i><i style="background:linear-gradient(90deg,#fde725 0.2%,#fde725 39.6%,#eae51a 40%,#c2df23 40.3%,#7ad151 41%,#40bd72 41.8%,#2cb17e 42.1%,#21a585 42.5%,#1f998a 42.8%,#306a8e 44.3%,#404688 45.3%,#482374 46.4%,#460b5e 47.5%,#481769 50.7%,#460a5d 53.2%,#470e61 53.9%,#472a7a 55%,#3d4e8a 56.1%,#23898e 57.9%,#1fa188 58.6%,#27ad81 59%,#38b977 59.3%,#52c569 59.7%,#90d743 60.4%,#dde318 61.1%,#fde725 61.5%,#fde725 99.8%)"></i><i style="background:linear-gradient(90deg,#fde725 0.2%,#fde725 40%,#e5e419 40.3%,#c0df25 40.7%,#58c765 41.8%,#2ab07f 42.5%,#20a386 42.8%,#228b8d 43.5%,#3c508b 45.3%,#482071 46.8%,#470e61 47.5%,#46085c 48.2%,#481467 50.7%,#46085c 52.5%,#470d60 53.6%,#482878 54.7%,#3e4c8a 55.7%,#24878e 57.5%,#1fa088 58.2%,#25ac82 58.6%,#35b779 59%,#4ec36b 59.3%,#8ed645 60%,#d8e219 60.8%,#fde725 61.1%,#fde725 99.8%)"></i><i style="background:linear-gradient(90deg,#fde725 0.2%,#fde725 40.3%,#e2e418 40.7%,#bddf26 41%,#95d840 41.4%,#54c568 42.1%,#28ae80 42.8%,#1fa187 43.2%,#23898e 43.9%,#3d4d8a 45.7%,#481d6f 47.1%,#460b5e 47.8%,#450559 48.6%,#471063 50.7%,#450559 52.5%,#460a5d 53.2%,#482576 54.3%,#39558c 55.7%,#20928c 57.5%,#24aa83 58.2%,#4ac16d 59%,#67cc5c 59.3%,#d5e21a 60.4%,#f8e621 60.8%,#fde725 61.1%,#fde725 99.8%)"></i><i style="background:linear-gradient(90deg,#fde725 0.2%,#fde725 40.7%,#dde318 41%,#b8de29 41.4%,#6ece58 42.1%,#37b878 42.8%,#26ad81 43.2%,#20938c 43.9%,#38588c 45.7%,#46327e 46.8%,#471164 47.8%,#450457 48.9%,#460b5e 50.7%,#450457 51.8%,#46075a 52.9%,#482173 53.9%,#404688 55%,#26828e 56.8%,#1e9c89 57.5%,#22a884 57.9%,#31b57b 58.2%,#63cb5f 59%,#d0e11c 60%,#f6e620 60.4%,#fde725 60.8%,#fde725 99.8%)"></i><i style="background:linear-gradient(90deg,#fde725 0.2%,#fde725 41%,#dae319 41.4%,#69cd5b 42.5%,#34b679 43.2%,#25ab82 43.5%,#20928c 44.3%,#3a548c 46.1%,#472e7c 47.1%,#470e61 48.2%,#440154 49.3%,#46075a 50.7%,#440154 52.2%,#460b5e 52.9%,#472a7a 53.9%,#3c508b 55%,#228d8d 56.8%,#21a685 57.5%,#2eb37c 57.9%,#60ca60 58.6%,#cde11d 59.7%,#f1e51d 60%,#fde725 60.4%,#fde725 99.8%)"></i><i style="background:linear-gradient(90deg,#fde725 0.2%,#fde725 41%,#f1e51d 41.4%,#cde11d 41.8%,#5ec962 42.8%,#2db27d 43.5%,#21a585 43.9%,#228c8d 44.6%,#3d4e8a 46.4%,#463480 47.1%,#471164 48.2%,#440256 48.9%,#440154 49.3%,#440154 52.2%,#450559 52.5%,#472f7d 53.9%,#3e4989 54.7%,#24878e 56.5%,#1fa188 57.2%,#27ad81 57.5%,#54c568 58.2%,#73d056 58.6%,#c0df25 59.3%,#e5e419 59.7%,#fde725 60%,#fde725 99.8%)"></i><i style="background:linear-gradient(90deg,#fde725 0.2%,#fde725 41.4%,#e2e418 41.8%,#bade28 42.1%,#6ece58 42.8%,#35b779 43.5%,#25ab82 43.9%,#21918c 44.6%,#404588 46.8%,#472a7a 47.5%,#46085c 48.6%,#440154 49.3%,#440154 52.2%,#450559 52.5%,#482677 53.6%,#3d4e8a 54.7%,#228d8d 56.5%,#21a685 57.2%,#2eb37c 57.5%,#63cb5f 58.2%,#d5e21a 59.3%,#fbe723 59.7%,#fde725 99.8%)"></i><i style="background:linear-gradient(90deg,#fde725 0.2%,#fde725 41.4%,#f6e620 41.8%,#d0e11c 42.1%,#5ec962 43.2%,#40bd72 43.5%,#20a386 44.3%,#287d8e 45.3%,#3e4989 46.8%,#472e7c 47.5%,#460b5e 48.6%,#440154 49.3%,#440154 52.2%,#46075a 52.5%,#472a7a 53.6%,#404588 54.3%,#2f6c8e 55.4%,#1fa088 56.8%,#26ad81 57.2%,#38b977 57.5%,#75d054 58.2%,#c2df23 59%,#eae51a 59.3%,#fde725 59.7%,#fde725 99.8%)"></i><i style="background:linear-gradient(90deg,#fde725 0.2%,#fde725 41.8%,#e5e419 42.1%,#bddf26 42.5%,#6ece58 43.2%,#4ec36b 43.5%,#24aa83 44.3%,#1e9d89 44.6%,#218f8d 45%,#3d4e8a 46.8%,#482576 47.8%,#440256 48.9%,#440154 49.3%,#440154 52.2%,#46085c 52.5%,#472e7c 53.6%,#3e4989 54.3%,#277e8e 55.7%,#21a585 56.8%,#2db27d 57.2%,#63cb5f 57.9%,#d8e219 59%,#fde725 59.3%,#fde725 99.8%)"></i><i style="background:linear-gradient(90deg,#fde725 0.2%,#fbe723 42.1%,#d2e21b 42.5%,#5ec962 43.5%,#2ab07f 44.3%,#1fa287 44.6%,#24878e 45.3%,#404588 47.1%,#482979 47.8%,#450457 48.9%,#440154 49.3%,#440154 52.2%,#482475 53.2%,#3d4e8a 54.3%,#21908d 56.1%,#25ac82 56.8%,#37b878 57.2%,#54c568 57.5%,#75d054 57.9%,#c5e021 58.6%,#efe51c 59%,#fde725 59.3%,#fde725 99.8%)"></i><i style="background:linear-gradient(90deg,#fde725 0.2%,#fde725 42.1%,#eae51a 42.5%,#c0df25 42.8%,#95d840 43.2%,#4ec36b 43.9%,#34b679 44.3%,#23a983 44.6%,#1e9b8a 45%,#32658e 46.4%,#3e4989 47.1%,#472d7b 47.8%,#46075a 48.9%,#440154 49.3%,#440256 52.2%,#482878 53.2%,#404588 53.9%,#23888e 55.7%,#20a386 56.5%,#2cb17e 56.8%,#63cb5f 57.5%,#dde318 58.6%,#fde725 59%,#fde725 99.8%)"></i><i style="background:linear-gradient(90deg,#fde725 0.2%,#fde725 42.5%,#d8e219 42.8%,#5ec962 43.9%,#3fbc73 44.3%,#29af7f 44.6%,#1fa188 45%,#306a8e 46.4%,#424086 47.5%,#46085c 48.9%,#440154 49.3%,#440154 51.8%,#450559 52.2%,#472d7b 53.2%,#3e4989 53.9%,#218e8d 55.7%,#1e9c89 56.1%,#24aa83 56.5%,#52c569 57.2%,#75d054 57.5%,#c8e020 58.2%,#f4e61e 58.6%,#fde725 59%,#fde725 99.8%)"></i><i style="background:linear-gradient(90deg,#fde725 0.2%,#fde725 42.5%,#efe51c 42.8%,#c2df23 43.2%,#70cf57 43.9%,#4ec36b 44.3%,#32b67a 44.6%,#22a785 45%,#228b8d 45.7%,#404588 47.5%,#482677 48.2%,#440154 49.3%,#440154 51.8%,#46075a 52.2%,#46307e 53.2%,#3d4e8a 53.9%,#24868e 55.4%,#1fa287 56.1%,#2cb17e 56.5%,#42be71 56.8%,#89d548 57.5%,#b5de2b 57.9%,#dfe318 58.2%,#fde725 58.6%,#fde725 99.8%)"></i><i style="background:linear-gradient(90deg,#fde725 0.2%,#fde725 42.8%,#dde318 43.2%,#84d44b 43.9%,#5ec962 44.3%,#28ae80 45%,#1fa088 45.3%,#20928c 45.7%,#3e4989 47.5%,#472c7a 48.2%,#470e61 48.9%,#440256 49.3%,#440154 49.6%,#440154 51.8%,#460a5d 52.2%,#482677 52.9%,#404588 53.6%,#228c8d 55.4%,#1e9b8a 55.7%,#23a983 56.1%,#35b779 56.5%,#52c569 56.8%,#cde11d 57.9%,#f8e621 58.2%,#fde725 58.6%,#fde725 99.8%)"></i><i style="background:linear-gradient(90deg,#fde725 0.2%,#fde725 42.8%,#f4e61e 43.2%,#c8e020 43.5%,#70cf57 44.3%,#31b57b 45%,#21a685 45.3%,#23898e 46.1%,#424086 47.8%,#482173 48.6%,#450559 49.3%,#440154 49.6%,#440154 51.8%,#472c7a 52.9%,#3e4989 53.6%,#25838e 55%,#1fa187 55.7%,#2ab07f 56.1%,#42be71 56.5%,#8bd646 57.2%,#b8de29 57.5%,#e5e419 57.9%,#fde725 58.2%,#fde725 99.8%)"></i><i style="background:linear-gradient(90deg,#fde725 0.2%,#fde725 43.2%,#dfe318 43.5%,#5ec962 44.6%,#3dbc74 45%,#27ad81 45.3%,#1f9e89 45.7%,#21908d 46.1%,#3a548c 47.5%,#482576 48.6%,#46085c 49.3%,#440154 49.6%,#450457 51.8%,#472f7d 52.9%,#3c4f8a 53.6%,#238a8d 55%,#22a884 55.7%,#34b679 56.1%,#52c569 56.5%,#77d153 56.8%,#d0e11c 57.5%,#fde725 57.9%,#fde725 99.8%)"></i><i style="background:linear-gradient(90deg,#fde725 0.2%,#fde725 43.2%,#f8e621 43.5%,#cde11d 43.9%,#9dd93b 44.3%,#4ec36b 45%,#31b57b 45.3%,#21a585 45.7%,#24868e 46.4%,#3e4a89 47.8%,#472a7a 48.6%,#440154 49.6%,#440154 51.4%,#46075a 51.8%,#482576 52.5%,#404588 53.2%,#32648e 53.9%,#1fa088 55.4%,#29af7f 55.7%,#42be71 56.1%,#65cb5e 56.5%,#bade28 57.2%,#eae51a 57.5%,#fde725 57.9%,#fde725 99.8%)"></i><i style="background:linear-gradient(90deg,#fde725 0.2%,#fde725 43.2%,#f8e621 43.5%,#cde11d 43.9%,#9dd93b 44.3%,#4ec36b 45%,#31b57b 45.3%,#21a585 45.7%,#24868e 46.4%,#3e4a89 47.8%,#472a7a 48.6%,#440154 49.6%,#440154 51.4%,#46075a 51.8%,#482576 52.5%,#404588 53.2%,#32648e 53.9%,#1fa088 55.4%,#29af7f 55.7%,#42be71 56.1%,#65cb5e 56.5%,#bade28 57.2%,#eae51a 57.5%,#fde725 57.9%,#fde725 99.8%)"></i><i style="background:linear-gradient(90deg,#fde725 0.2%,#fde725 43.2%,#f8e621 43.5%,#cde11d 43.9%,#9dd93b 44.3%,#4ec36b 45%,#31b57b 45.3%,#21a585 45.7%,#24868e 46.4%,#3e4a89 47.8%,#472a7a 48.6%,#440154 49.6%,#440154 51.4%,#46075a 51.8%,#482576 52.5%,#404588 53.2%,#32648e 53.9%,#1fa088 55.4%,#29af7f 55.7%,#42be71 56.1%,#65cb5e 56.5%,#bade28 57.2%,#eae51a 57.5%,#fde725 57.9%,#fde725 99.8%)"></i></div></div>
<div class="hw" style="left:441px;top:493px"><div class="hm"><i style="background:linear-gradient(90deg,#fde725 0.2%,#fde725 24.6%,#d8e219 24.9%,#86d549 25.6%,#44bf70 26.3%,#2eb37c 26.7%,#21a685 27.1%,#1f9a8a 27.4%,#25838e 28.1%,#38598c 29.9%,#3d4e8a 31.4%,#3b518b 32.1%,#34618d 33.2%,#24878e 34.9%,#1fa187 36%,#2db27d 36.7%,#3bbb75 37.1%,#73d056 38.2%,#aadc32 39.2%,#d0e11c 40.3%,#dde318 41.4%,#e2e418 42.8%,#d5e21a 43.9%,#b8de29 44.6%,#52c569 46.4%,#38b977 46.8%,#20a486 47.1%,#287d8e 47.8%,#32658e 48.6%,#3a548c 49.6%,#3b528b 50.4%,#39568c 51.8%,#33628d 52.5%,#2a778e 53.2%,#1e9c89 53.9%,#2db27d 54.3%,#4ac16d 54.7%,#86d549 55.7%,#c2df23 56.8%,#d2e21b 57.2%,#e2e418 58.2%,#dfe318 59.7%,#d8e219 60.4%,#c8e020 61.1%,#a0da39 62.2%,#40bd72 64%,#26ad81 64.7%,#20a486 65.1%,#228b8d 66.1%,#365d8d 68.3%,#3d4e8a 69.7%,#3b528b 70.8%,#355e8d 71.5%,#2a768e 72.6%,#1fa287 74%,#28ae80 74.4%,#3bbb75 74.7%,#7ad151 75.4%,#cae11f 76.2%,#f4e61e 76.5%,#fde725 76.9%,#fde725 99.8%)"></i><i style="background:linear-gradient(90deg,#fde725 0.2%,#fde725 24.6%,#d8e219 24.9%,#86d549 25.6%,#44bf70 26.3%,#2eb37c 26.7%,#21a685 27.1%,#1f9a8a 27.4%,#25838e 28.1%,#38598c 29.9%,#3d4e8a 31.4%,#3b518b 32.1%,#34618d 33.2%,#24878e 34.9%,#1fa187 36%,#2db27d 36.7%,#3bbb75 37.1%,#73d056 38.2%,#aadc32 39.2%,#d0e11c 40.3%,#dde318 41.4%,#e2e418 42.8%,#d5e21a 43.9%,#b8de29 44.6%,#52c569 46.4%,#38b977 46.8%,#20a486 47.1%,#287d8e 47.8%,#32658e 48.6%,#3a548c 49.6%,#3b528b 50.4%,#39568c 51.8%,#33628d 52.5%,#2a778e 53.2%,#1e9c89 53.9%,#2db27d 54.3%,#4ac16d 54.7%,#86d549 55.7%,#c2df23 56.8%,#d2e21b 57.2%,#e2e418 58.2%,#dfe318 59.7%,#d8e219 60.4%,#c8e020 61.1%,#a0da39 62.2%,#40bd72 64%,#26ad81 64.7%,#20a486 65.1%,#228b8d 66.1%,#365d8d 68.3%,#3d4e8a 69.7%,#3b528b 70.8%,#355e8d 71.5%,#2a768e 72.6%,#1fa287 74%,#28ae80 74.4%,#3bbb75 74.7%,#7ad151 75.4%,#cae11f 76.2%,#f4e61e 76.5%,#fde725 76.9%,#fde725 99.8%)"></i><i style="background:linear-gradient(90deg,#fde725 0.2%,#fde725 24.6%,#d8e219 24.9%,#86d549 25.6%,#44bf70 26.3%,#2eb37c 26.7%,#21a685 27.1%,#1f9a8a 27.4%,#25838e 28.1%,#38598c 29.9%,#3d4e8a 31.4%,#3b518b 32.1%,#34618d 33.2%,#24878e 34.9%,#1fa187 36%,#2db27d 36.7%,#3bbb75 37.1%,#73d056 38.2%,#aadc32 39.2%,#d0e11c 40.3%,#dde318 41.4%,#e2e418 42.8%,#d5e21a 43.9%,#b8de29 44.6%,#52c569 46.4%,#38b977 46.8%,#20a486 47.1%,#287d8e 47.8%,#32658e 48.6%,#3a548c 49.6%,#3b528b 50.4%,#39568c 51.8%,#33628d 52.5%,#2a778e 53.2%,#1e9c89 53.9%,#2db27d 54.3%,#4ac16d 54.7%,#86d549 55.7%,#c2df23 56.8%,#d2e21b 57.2%,#e2e418 58.2%,#dfe318 59.7%,#d8e219 60.4%,#c8e020 61.1%,#a0da39 62.2%,#40bd72 64%,#26ad81 64.7%,#20a486 65.1%,#228b8d 66.1%,#365d8d 68.3%,#3d4e8a 69.7%,#3b528b 70.8%,#355e8d 71.5%,#2a768e 72.6%,#1fa287 74%,#28ae80 74.4%,#3bbb75 74.7%,#7ad151 75.4%,#cae11f 76.2%,#f4e61e 76.5%,#fde725 76.9%,#fde725 99.8%)"></i><i style="background:linear-gradient(90deg,#fde725 0.2%,#fde725 24.6%,#f4e61e 24.9%,#cae11f 25.3%,#77d153 26%,#56c667 26.3%,#28ae80 27.1%,#1fa287 27.4%,#32648e 29.6%,#3b518b 30.6%,#3d4d8a 31.4%,#39568c 32.8%,#1e9b8a 36%,#25ac82 36.7%,#2fb47c 37.1%,#63cb5f 38.2%,#9bd93c 39.2%,#b8de29 40%,#d0e11c 41%,#dae319 42.1%,#dae319 43.2%,#d0e11c 43.9%,#52c569 46.4%,#3aba76 46.8%,#21a585 47.1%,#277f8e 47.8%,#31678e 48.6%,#39568c 49.6%,#3a548c 50.4%,#39568c 51.4%,#32648e 52.5%,#297a8e 53.2%,#1f9e89 53.9%,#2fb47c 54.3%,#4ac16d 54.7%,#bddf26 56.8%,#d5e21a 57.5%,#dae319 59%,#d2e21b 60%,#bddf26 61.1%,#a0da39 61.8%,#44bf70 63.6%,#28ae80 64.3%,#21a685 64.7%,#1f958b 65.4%,#355e8d 67.9%,#3d4d8a 69.4%,#3a548c 70.8%,#2c728e 72.2%,#1f9e89 73.7%,#24aa83 74%,#4cc26c 74.7%,#90d743 75.4%,#bade28 75.8%,#e5e419 76.2%,#fde725 76.5%,#fde725 99.8%)"></i><i style="background:linear-gradient(90deg,#fde725 0.2%,#fde725 24.9%,#e5e419 25.3%,#bade28 25.6%,#6ccd5a 26.3%,#4cc26c 26.7%,#24aa83 27.4%,#20928c 28.1%,#34618d 29.9%,#3a538b 30.6%,#3e4c8a 31.7%,#39568c 33.2%,#1e9d89 36.4%,#27ad81 37.1%,#32b67a 37.5%,#77d153 38.9%,#b8de29 40.3%,#c8e020 41%,#d2e21b 42.1%,#d2e21b 43.2%,#c8e020 43.9%,#86d549 45.3%,#52c569 46.4%,#3bbb75 46.8%,#22a785 47.1%,#26818e 47.8%,#30698e 48.6%,#365c8d 49.3%,#39568c 50.7%,#375b8d 51.8%,#31668e 52.5%,#287c8e 53.2%,#1fa088 53.9%,#31b57b 54.3%,#4ac16d 54.7%,#7fd34e 55.7%,#c5e021 57.2%,#d2e21b 57.9%,#d2e21b 59%,#c8e020 60%,#b0dd2f 61.1%,#7fd34e 62.2%,#38b977 63.6%,#22a884 64.3%,#218f8d 65.4%,#38598c 67.9%,#3e4c8a 69.4%,#3b528b 70.4%,#355e8d 71.1%,#1f998a 73.3%,#21a585 73.7%,#2db27d 74%,#42be71 74.4%,#84d44b 75.1%,#d8e219 75.8%,#fde725 76.2%,#fde725 99.8%)"></i><i style="background:linear-gradient(90deg,#fde725 0.2%,#fde725 25.3%,#d8e219 25.6%,#60ca60 26.7%,#42be71 27.1%,#2db27d 27.4%,#21a585 27.8%,#26828e 28.9%,#39568c 30.6%,#3e4a89 32.1%,#38588c 33.5%,#1f958b 36.4%,#29af7f 37.5%,#44bf70 38.2%,#69cd5b 38.9%,#9dd93b 40%,#b5de2b 40.7%,#cae11f 42.1%,#c8e020 43.5%,#b5de2b 44.3%,#52c569 46.4%,#3dbc74 46.8%,#23a983 47.1%,#1f948c 47.5%,#2b758e 48.2%,#32648e 48.9%,#375a8c 50%,#375a8c 51.1%,#31688e 52.5%,#277e8e 53.2%,#1fa187 53.9%,#34b679 54.3%,#5cc863 55%,#b0dd2f 56.8%,#bddf26 57.2%,#cae11f 57.9%,#c8e020 59.3%,#b8de29 60.4%,#93d741 61.5%,#3aba76 63.3%,#1fa187 64.3%,#31688e 66.8%,#3d4d8a 68.6%,#3d4d8a 69.7%,#3a548c 70.4%,#2b748e 71.9%,#1fa188 73.3%,#27ad81 73.7%,#54c568 74.4%,#9dd93b 75.1%,#c8e020 75.4%,#f1e51d 75.8%,#fde725 76.2%,#fde725 99.8%)"></i><i style="background:linear-gradient(90deg,#fde725 0.2%,#fde725 25.3%,#f1e51d 25.6%,#c8e020 26%,#75d054 26.7%,#54c568 27.1%,#27ad81 27.8%,#1fa188 28.1%,#23898e 28.9%,#33628d 30.3%,#3c4f8a 31.4%,#3e4a89 32.4%,#38598c 33.9%,#218f8d 36.4%,#23a983 37.5%,#38b977 38.2%,#5ac864 38.9%,#9dd93b 40.3%,#b2dd2d 41%,#c2df23 42.5%,#c0df25 43.5%,#b0dd2f 44.3%,#50c46a 46.4%,#3dbc74 46.8%,#25ab82 47.1%,#1f968b 47.5%,#2a778e 48.2%,#31668e 48.9%,#365c8d 50%,#365c8d 51.1%,#306a8e 52.5%,#27808e 53.2%,#20a386 53.9%,#35b779 54.3%,#4cc26c 54.7%,#aadc32 56.8%,#c2df23 57.9%,#c2df23 59%,#b5de2b 60%,#84d44b 61.5%,#2fb47c 63.3%,#25ac82 63.6%,#1e9b8a 64.3%,#39558c 67.6%,#3e4a89 69%,#3b528b 70.1%,#355f8d 70.8%,#1e9c89 72.9%,#23a983 73.3%,#32b67a 73.7%,#69cd5b 74.4%,#b8de29 75.1%,#e5e419 75.4%,#fde725 75.8%,#fde725 99.8%)"></i><i style="background:linear-gradient(90deg,#fde725 0.2%,#fde725 25.6%,#e5e419 26%,#b8de29 26.3%,#8ed645 26.7%,#4ac16d 27.4%,#32b67a 27.8%,#23a983 28.1%,#1e9c89 28.5%,#31678e 30.3%,#3b518b 31.4%,#3e4989 32.8%,#34618d 34.6%,#23888e 36.4%,#1fa287 37.5%,#3bbb75 38.5%,#9bd93c 40.7%,#b5de2b 41.8%,#bade28 42.5%,#b8de29 43.5%,#a8db34 44.3%,#50c46a 46.4%,#26ad81 47.1%,#1f988b 47.5%,#29798e 48.2%,#31688e 48.9%,#34608d 49.6%,#355e8d 51.1%,#2f6c8e 52.5%,#26828e 53.2%,#21a585 53.9%,#37b878 54.3%,#5ac864 55%,#b0dd2f 57.2%,#bade28 57.9%,#b5de2b 59.3%,#a0da39 60.4%,#73d056 61.5%,#40bd72 62.5%,#27ad81 63.3%,#21a585 63.6%,#1e9d89 64%,#2c728e 65.8%,#39568c 67.2%,#3e4989 68.3%,#3e4989 69%,#39558c 70.1%,#2a768e 71.5%,#20a486 72.9%,#40bd72 73.7%,#5ec962 74%,#81d34d 74.4%,#d5e21a 75.1%,#fde725 75.4%,#fde725 99.8%)"></i><i style="background:linear-gradient(90deg,#fde725 0.2%,#fde725 26%,#d5e21a 26.3%,#81d34d 27.1%,#5ec962 27.4%,#2ab07f 28.1%,#20a486 28.5%,#2a768e 29.9%,#3a548c 31.4%,#3f4889 32.8%,#39558c 34.2%,#1e9b8a 37.5%,#26ad81 38.2%,#31b57b 38.5%,#70cf57 40%,#9bd93c 41%,#b2dd2d 42.5%,#b0dd2f 43.5%,#a2da37 44.3%,#40bd72 46.8%,#28ae80 47.1%,#1f9a8a 47.5%,#297b8e 48.2%,#306a8e 48.9%,#34608d 50.7%,#32648e 51.8%,#2e6f8e 52.5%,#25838e 53.2%,#22a785 53.9%,#38b977 54.3%,#4cc26c 54.7%,#84d44b 56.1%,#a8db34 57.2%,#b2dd2d 57.9%,#addc30 59.3%,#9dd93b 60%,#75d054 61.1%,#35b779 62.5%,#22a785 63.3%,#1f958b 64%,#32658e 66.1%,#3e4989 67.9%,#3f4889 68.6%,#3b528b 69.7%,#2c728e 71.1%,#1fa088 72.6%,#25ac82 72.9%,#52c569 73.7%,#73d056 74%,#c5e021 74.7%,#f1e51d 75.1%,#fde725 75.4%,#fde725 99.8%)"></i><i style="background:linear-gradient(90deg,#fde725 0.2%,#fde725 26%,#f1e51d 26.3%,#c5e021 26.7%,#73d056 27.4%,#52c569 27.8%,#37b878 28.1%,#25ac82 28.5%,#20938c 29.2%,#34608d 31%,#3b518b 31.7%,#3f4788 33.2%,#39568c 34.6%,#1e9d89 37.8%,#28ae80 38.5%,#40bd72 39.2%,#8ed645 41%,#a0da39 41.8%,#aadc32 42.8%,#a8db34 43.5%,#9bd93c 44.3%,#50c46a 46.4%,#40bd72 46.8%,#29af7f 47.1%,#1e9c89 47.5%,#287d8e 48.2%,#2f6c8e 48.9%,#33628d 50.7%,#31668e 51.8%,#2d718e 52.5%,#25858e 53.2%,#1f958b 53.6%,#23a983 53.9%,#3aba76 54.3%,#4cc26c 54.7%,#98d83e 56.8%,#aadc32 57.9%,#a8db34 59%,#9bd93c 59.7%,#86d549 60.4%,#38b977 62.2%,#23a983 62.9%,#1fa188 63.3%,#24868e 64.3%,#3b528b 66.8%,#3f4788 67.9%,#3f4889 68.6%,#39558c 69.7%,#1e9b8a 72.2%,#22a785 72.6%,#2fb47c 72.9%,#48c16e 73.3%,#67cc5c 73.7%,#e2e418 74.7%,#fde725 75.1%,#fde725 99.8%)"></i><i style="background:linear-gradient(90deg,#fde725 0.2%,#fde725 26.3%,#e2e418 26.7%,#8bd646 27.4%,#48c16e 28.1%,#2fb47c 28.5%,#22a785 28.9%,#1e9b8a 29.2%,#2a788e 30.3%,#39558c 31.7%,#3f4788 32.8%,#3f4889 33.9%,#3b518b 34.6%,#25858e 37.1%,#1f968b 37.8%,#22a785 38.5%,#35b779 39.2%,#81d34d 41%,#95d840 41.8%,#a2da37 42.8%,#9dd93b 43.9%,#8bd646 44.6%,#42be71 46.8%,#2cb17e 47.1%,#1f9e89 47.5%,#2b758e 48.6%,#30698e 49.3%,#31688e 51.8%,#297b8e 52.9%,#1f988b 53.6%,#25ab82 53.9%,#3bbb75 54.3%,#4cc26c 54.7%,#86d549 56.5%,#9bd93c 57.2%,#a2da37 57.9%,#9dd93b 59%,#90d743 59.7%,#69cd5b 60.8%,#3aba76 61.8%,#1fa187 62.9%,#23888e 64%,#3a538b 66.5%,#3f4788 67.6%,#3e4989 68.6%,#3a538b 69.4%,#2b748e 70.8%,#1fa287 72.2%,#29af7f 72.6%,#5cc863 73.3%,#7fd34e 73.7%,#d2e21b 74.4%,#fde725 74.7%,#fde725 99.8%)"></i><i style="background:linear-gradient(90deg,#fde725 0.2%,#fde725 26.7%,#d2e21b 27.1%,#5ac864 28.1%,#3dbc74 28.5%,#29af7f 28.9%,#1fa287 29.2%,#1f968b 29.6%,#33628d 31.4%,#3b528b 32.1%,#404688 33.2%,#3f4889 34.2%,#3b528b 34.9%,#24878e 37.5%,#1fa188 38.5%,#2cb17e 39.2%,#56c667 40.3%,#7fd34e 41.4%,#90d743 42.1%,#9bd93c 43.2%,#8ed645 44.3%,#50c46a 46.4%,#2eb37c 47.1%,#1fa088 47.5%,#2a778e 48.6%,#31678e 50%,#2e6e8e 52.2%,#277e8e 52.9%,#1f9a8a 53.6%,#26ad81 53.9%,#3dbc74 54.3%,#4cc26c 54.7%,#93d741 57.2%,#9bd93c 58.2%,#84d44b 59.7%,#69cd5b 60.4%,#2fb47c 61.8%,#25ac82 62.2%,#1e9b8a 62.9%,#3a548c 66.1%,#3e4989 66.8%,#404688 67.9%,#39568c 69.4%,#20928c 71.5%,#25ab82 72.2%,#35b779 72.6%,#50c46a 72.9%,#70cf57 73.3%,#c2df23 74%,#efe51c 74.4%,#fde725 74.7%,#fde725 99.8%)"></i><i style="background:linear-gradient(90deg,#fde725 0.2%,#fde725 26.7%,#efe51c 27.1%,#c2df23 27.4%,#70cf57 28.1%,#50c46a 28.5%,#35b779 28.9%,#25ab82 29.2%,#20928c 29.9%,#39558c 32.1%,#404588 33.5%,#404688 34.2%,#3a538b 35.3%,#23898e 37.8%,#1fa287 38.9%,#2eb37c 39.6%,#58c765 40.7%,#7fd34e 41.8%,#86d549 42.1%,#93d741 43.2%,#8bd646 44.3%,#50c46a 46.4%,#2fb47c 47.1%,#1fa187 47.5%,#29798e 48.6%,#30698e 50%,#306a8e 51.4%,#2a768e 52.5%,#1e9c89 53.6%,#27ad81 53.9%,#3dbc74 54.3%,#4cc26c 54.7%,#89d548 56.8%,#93d741 57.5%,#93d741 58.2%,#81d34d 59.3%,#6ccd5a 60%,#4ec36b 60.8%,#32b67a 61.5%,#21a585 62.2%,#1f948c 62.9%,#39558c 65.8%,#404588 67.2%,#3f4889 68.3%,#3a538b 69%,#26828e 70.8%,#21a685 71.9%,#2eb37c 72.2%,#65cb5e 72.9%,#b5de2b 73.7%,#dfe318 74%,#fde725 74.4%,#fde725 99.8%)"></i><i style="background:linear-gradient(90deg,#fde725 0.2%,#fde725 27.1%,#dfe318 27.4%,#b5de2b 27.8%,#89d548 28.1%,#65cb5e 28.5%,#2eb37c 29.2%,#21a685 29.6%,#26828e 30.6%,#3b528b 32.4%,#414487 33.9%,#3e4989 34.9%,#3a548c 35.7%,#1e9c89 38.9%,#2fb47c 40%,#5ac864 41%,#84d44b 42.5%,#8ed645 43.5%,#81d34d 44.6%,#44bf70 46.8%,#20a386 47.5%,#25858e 48.2%,#2b748e 48.9%,#2f6b8e 50%,#2f6c8e 51.4%,#2a788e 52.5%,#1f9e89 53.6%,#29af7f 53.9%,#3fbc73 54.3%,#7fd34e 56.5%,#8bd646 57.2%,#86d549 58.6%,#6ccd5a 59.7%,#29af7f 61.5%,#1f9f88 62.2%,#25858e 63.3%,#39568c 65.4%,#3e4a89 66.1%,#414487 67.2%,#3e4a89 68.3%,#34608d 69.4%,#1f958b 71.1%,#1fa187 71.5%,#28ae80 71.9%,#3bbb75 72.2%,#58c765 72.6%,#d0e11c 73.7%,#fbe723 74%,#fde725 99.8%)"></i><i style="background:linear-gradient(90deg,#fde725 0.2%,#fbe723 27.4%,#d2e21b 27.8%,#7cd250 28.5%,#58c765 28.9%,#3bbb75 29.2%,#28ae80 29.6%,#1fa187 29.9%,#23888e 30.6%,#39568c 32.4%,#3e4989 33.2%,#414287 34.2%,#404588 34.9%,#39558c 36%,#1e9d89 39.2%,#27ad81 40%,#58c765 41.4%,#77d153 42.5%,#84d44b 43.5%,#81d34d 44.3%,#75d054 45%,#44bf70 46.8%,#21a585 47.5%,#24878e 48.2%,#2c718e 49.3%,#2e6f8e 51.4%,#2b748e 52.2%,#25838e 52.9%,#1fa088 53.6%,#3fbc73 54.3%,#73d056 56.1%,#84d44b 57.5%,#7fd34e 58.2%,#73d056 59%,#50c46a 60%,#2ab07f 61.1%,#1fa188 61.8%,#24878e 62.9%,#3b518b 65.4%,#414287 67.2%,#3d4d8a 68.3%,#365c8d 69%,#1e9d89 71.1%,#24aa83 71.5%,#34b679 71.9%,#4ec36b 72.2%,#95d840 72.9%,#c2df23 73.3%,#ece51b 73.7%,#fde725 74%,#fde725 99.8%)"></i><i style="background:linear-gradient(90deg,#fde725 0.2%,#fde725 27.4%,#efe51c 27.8%,#c2df23 28.1%,#70cf57 28.9%,#4ec36b 29.2%,#34b679 29.6%,#24aa83 29.9%,#1e9d89 30.3%,#25848e 31%,#3a538b 32.8%,#414287 33.9%,#424186 34.6%,#3c4f8a 36%,#25858e 38.5%,#1f9e89 39.6%,#28ae80 40.3%,#60ca60 42.1%,#73d056 43.2%,#77d153 44.3%,#70cf57 45%,#58c765 46.1%,#44bf70 46.8%,#22a884 47.5%,#238a8d 48.2%,#29798e 48.9%,#2c718e 49.6%,#2d708e 51.1%,#287d8e 52.5%,#1fa187 53.6%,#3fbc73 54.3%,#67cc5c 55.7%,#73d056 56.5%,#77d153 57.5%,#70cf57 58.2%,#5ac864 59.3%,#2ab07f 60.8%,#1fa188 61.5%,#23888e 62.5%,#3b518b 65.1%,#414287 66.1%,#424186 66.8%,#3c508b 68.3%,#27808e 70.1%,#21a585 71.1%,#2db27d 71.5%,#63cb5f 72.2%,#dfe318 73.3%,#fde725 73.7%,#fde725 99.8%)"></i><i style="background:linear-gradient(90deg,#fde725 0.2%,#fde725 27.8%,#dfe318 28.1%,#b5de2b 28.5%,#89d548 28.9%,#44bf70 29.6%,#2db27d 29.9%,#20a486 30.3%,#1f988b 30.6%,#2b748e 31.7%,#3c4f8a 33.2%,#414487 33.9%,#423f85 34.9%,#39568c 36.7%,#24868e 38.9%,#1f9f88 40%,#28ae80 40.7%,#5ac864 42.5%,#69cd5b 43.5%,#6ccd5a 44.6%,#65cb5e 45.3%,#4ec36b 46.4%,#35b779 47.1%,#24aa83 47.5%,#1f9a8a 47.8%,#297b8e 48.9%,#2c718e 50.7%,#29798e 52.2%,#23888e 52.9%,#20a486 53.6%,#3fbc73 54.3%,#63cb5f 55.7%,#6ccd5a 56.8%,#69cd5b 57.5%,#63cb5f 58.2%,#4cc26c 59.3%,#35b779 60%,#1fa187 61.1%,#23898e 62.2%,#3b528b 64.7%,#414287 65.8%,#423f85 66.5%,#414287 67.2%,#3a548c 68.3%,#20938c 70.4%,#1fa188 70.8%,#27ad81 71.1%,#3bbb75 71.5%,#58c765 71.9%,#d0e11c 72.9%,#fde725 73.3%,#fde725 99.8%)"></i><i style="background:linear-gradient(90deg,#fde725 0.2%,#fde725 28.1%,#d2e21b 28.5%,#7cd250 29.2%,#58c765 29.6%,#3aba76 29.9%,#27ad81 30.3%,#1fa088 30.6%,#24878e 31.4%,#3a538b 33.2%,#424186 34.2%,#433e85 34.9%,#3e4989 36.4%,#24878e 39.2%,#1fa088 40.3%,#28ae80 41%,#54c568 42.8%,#60ca60 44.3%,#5cc863 45.3%,#4cc26c 46.4%,#37b878 47.1%,#25ac82 47.5%,#1e9c89 47.8%,#25858e 48.6%,#29798e 49.3%,#2b748e 51.1%,#26828e 52.5%,#21a685 53.6%,#31b57b 53.9%,#48c16e 54.7%,#5cc863 55.7%,#60ca60 57.2%,#5ac864 57.9%,#48c16e 59%,#1fa287 60.8%,#26828e 62.2%,#3e4c8a 64.7%,#424186 65.4%,#433e85 66.5%,#3b518b 67.9%,#26828e 69.7%,#1e9b8a 70.4%,#23a983 70.8%,#32b67a 71.1%,#4cc26c 71.5%,#95d840 72.2%,#c2df23 72.6%,#efe51c 72.9%,#fde725 73.3%,#fde725 99.8%)"></i><i style="background:linear-gradient(90deg,#fde725 0.2%,#fde725 28.1%,#efe51c 28.5%,#c2df23 28.9%,#6ece58 29.6%,#4cc26c 29.9%,#32b67a 30.3%,#22a884 30.6%,#1e9b8a 31%,#2f6c8e 32.4%,#3f4889 33.9%,#423f85 34.6%,#433d84 35.7%,#3b518b 37.1%,#23888e 39.6%,#1fa188 40.7%,#28ae80 41.4%,#48c16e 42.8%,#54c568 43.9%,#56c667 45%,#46c06f 46.4%,#35b779 47.1%,#1f9e89 47.8%,#26818e 48.9%,#2a768e 50.7%,#297a8e 51.8%,#25848e 52.5%,#1f998a 53.2%,#22a884 53.6%,#3bbb75 54.3%,#50c46a 55.4%,#56c667 56.5%,#52c569 57.5%,#3bbb75 59%,#24aa83 60%,#1e9b8a 60.8%,#2f6b8e 62.9%,#404688 64.7%,#433d84 66.1%,#424186 66.8%,#39558c 67.9%,#277e8e 69.4%,#20a386 70.4%,#2cb17e 70.8%,#42be71 71.1%,#89d548 71.9%,#dfe318 72.6%,#fde725 72.9%,#fde725 99.8%)"></i><i style="background:linear-gradient(90deg,#fde725 0.2%,#fde725 28.5%,#e2e418 28.9%,#b5de2b 29.2%,#89d548 29.6%,#42be71 30.3%,#2cb17e 30.6%,#20a386 31%,#277e8e 32.1%,#3a548c 33.5%,#404588 34.2%,#443a83 35.3%,#423f85 36.4%,#3e4a89 37.1%,#23898e 40%,#1fa188 41%,#2eb37c 42.1%,#48c16e 43.9%,#46c06f 45.7%,#37b878 46.8%,#1fa088 47.8%,#26828e 48.9%,#29798e 50%,#287d8e 51.8%,#24878e 52.5%,#1e9b8a 53.2%,#2cb17e 53.9%,#48c16e 55.7%,#4ac16d 56.8%,#3dbc74 58.2%,#29af7f 59.3%,#1e9c89 60.4%,#32648e 62.9%,#404688 64.3%,#443a83 65.8%,#414287 66.8%,#3b518b 67.6%,#25858e 69.4%,#1f9f88 70.1%,#26ad81 70.4%,#56c667 71.1%,#7ad151 71.5%,#d2e21b 72.2%,#fde725 72.6%,#fde725 99.8%)"></i><i style="background:linear-gradient(90deg,#fde725 0.2%,#fde725 28.9%,#d2e21b 29.2%,#7ad151 29.9%,#56c667 30.3%,#26ad81 31%,#20928c 31.7%,#3c508b 33.9%,#424186 34.6%,#443983 35.7%,#443b84 36.4%,#3e4a89 37.5%,#306a8e 38.9%,#1f998a 41%,#26ad81 42.1%,#3aba76 43.5%,#3fbc73 45.3%,#2eb37c 46.8%,#1f9f88 47.8%,#25848e 48.9%,#287d8e 49.6%,#287c8e 51.4%,#23888e 52.5%,#1e9b8a 53.2%,#2db27d 54.3%,#3fbc73 55.7%,#3fbc73 57.2%,#38b977 57.9%,#1e9c89 60%,#32658e 62.5%,#3f4788 64%,#443a83 65.1%,#443983 65.8%,#424086 66.5%,#39568c 67.6%,#228d8d 69.4%,#22a785 70.1%,#31b57b 70.4%,#4cc26c 70.8%,#95d840 71.5%,#c2df23 71.9%,#efe51c 72.2%,#fde725 72.6%,#fde725 99.8%)"></i><i style="background:linear-gradient(90deg,#fde725 0.2%,#fde725 28.9%,#f1e51d 29.2%,#c2df23 29.6%,#95d840 29.9%,#4cc26c 30.6%,#31b57b 31%,#22a785 31.4%,#228d8d 32.1%,#39558c 33.9%,#433e85 34.9%,#453882 35.7%,#443a83 36.7%,#404588 37.5%,#2f6b8e 39.2%,#1f998a 41.4%,#25ac82 42.5%,#37b878 44.3%,#37b878 45.3%,#2db27d 46.4%,#1f9e89 47.8%,#25858e 48.9%,#277e8e 50%,#25838e 52.2%,#1fa287 53.6%,#34b679 55.4%,#37b878 56.8%,#2fb47c 57.9%,#1e9c89 59.7%,#31668e 62.2%,#3f4788 63.6%,#443b84 64.3%,#453882 65.4%,#3e4989 66.8%,#23888e 69%,#1fa287 69.7%,#2ab07f 70.1%,#40bd72 70.4%,#60ca60 70.8%,#b2dd2d 71.5%,#e2e418 71.9%,#fde725 72.2%,#fde725 99.8%)"></i><i style="background:linear-gradient(90deg,#fde725 0.2%,#fde725 29.2%,#e2e418 29.6%,#b5de2b 29.9%,#60ca60 30.6%,#40bd72 31%,#2ab07f 31.4%,#1fa287 31.7%,#23888e 32.4%,#3b518b 34.2%,#443b84 35.3%,#453581 36%,#443a83 37.1%,#404588 37.8%,#32648e 39.2%,#20928c 41.4%,#21a585 42.5%,#2eb37c 44.3%,#2db27d 45.7%,#24aa83 46.8%,#1fa188 47.5%,#228c8d 48.6%,#26818e 50%,#24868e 52.2%,#1f9f88 53.6%,#2eb37c 55.7%,#2ab07f 57.5%,#1e9c89 59.3%,#31678e 61.8%,#3f4788 63.3%,#443b84 64%,#453581 65.1%,#443a83 65.8%,#3d4e8a 66.8%,#21918c 69%,#25ac82 69.7%,#38b977 70.1%,#56c667 70.4%,#7ad151 70.8%,#d2e21b 71.5%,#fde725 71.9%,#fde725 99.8%)"></i><i style="background:linear-gradient(90deg,#fde725 0.2%,#fde725 29.6%,#d2e21b 29.9%,#7ad151 30.6%,#56c667 31%,#38b977 31.4%,#25ab82 31.7%,#1f9e89 32.1%,#25838e 32.8%,#3d4d8a 34.6%,#453882 35.7%,#463480 36.4%,#423f85 37.8%,#32658e 39.6%,#228b8d 41.4%,#22a785 43.2%,#28ae80 45.3%,#1e9c89 47.5%,#24868e 49.3%,#25838e 51.4%,#1f9f88 53.9%,#26ad81 55.4%,#25ab82 57.5%,#1f948c 59.3%,#31678e 61.5%,#443b84 63.6%,#463480 65.1%,#3e4989 66.5%,#277f8e 68.3%,#21a685 69.4%,#2fb47c 69.7%,#4ac16d 70.1%,#6ccd5a 70.4%,#c2df23 71.1%,#f1e51d 71.5%,#fde725 71.9%,#fde725 99.8%)"></i><i style="background:linear-gradient(90deg,#fde725 0.2%,#fde725 29.6%,#f1e51d 29.9%,#c5e021 30.3%,#95d840 30.6%,#4ac16d 31.4%,#2fb47c 31.7%,#21a685 32.1%,#277f8e 33.2%,#3b528b 34.6%,#424086 35.3%,#46337f 36.4%,#453581 37.5%,#423f85 38.2%,#31668e 40%,#1e9d89 42.8%,#22a884 44.3%,#22a884 45.7%,#1e9b8a 47.1%,#23898e 49.3%,#25858e 51.1%,#1f948c 52.9%,#21a585 55%,#23a983 56.8%,#1f948c 59%,#31688e 61.1%,#424186 62.9%,#46337f 64%,#46337f 64.7%,#453882 65.4%,#3c4f8a 66.5%,#24878e 68.3%,#1fa187 69%,#29af7f 69.4%,#40bd72 69.7%,#86d549 70.4%,#b5de2b 70.8%,#e2e418 71.1%,#fde725 71.5%,#fde725 99.8%)"></i><i style="background:linear-gradient(90deg,#fde725 0.2%,#fde725 29.9%,#e5e419 30.3%,#b5de2b 30.6%,#89d548 31%,#60ca60 31.4%,#40bd72 31.7%,#29af7f 32.1%,#1fa187 32.4%,#24868e 33.2%,#3d4e8a 34.9%,#433d84 35.7%,#46307e 36.7%,#443983 38.2%,#31668e 40.3%,#20928c 42.5%,#1e9b8a 43.2%,#20a486 45.3%,#1f978b 48.2%,#23898e 49.6%,#23888e 51.1%,#1fa188 55%,#1fa088 57.5%,#27808e 59.7%,#443b84 62.9%,#46307e 64.3%,#443a83 65.4%,#3e4a89 66.1%,#218f8d 68.3%,#1e9d89 68.6%,#25ab82 69%,#37b878 69.4%,#54c568 69.7%,#d2e21b 70.8%,#fde725 71.1%,#fde725 99.8%)"></i><i style="background:linear-gradient(90deg,#fde725 0.2%,#fde725 30.3%,#d8e219 30.6%,#7cd250 31.4%,#38b977 32.1%,#25ac82 32.4%,#1f9e89 32.8%,#2f6b8e 34.2%,#414287 35.7%,#472f7d 37.1%,#443983 38.5%,#39568c 40%,#287d8e 41.8%,#1e9c89 43.9%,#1fa088 45.3%,#23888e 51.1%,#1f988b 53.2%,#1f9f88 56.8%,#20928c 58.2%,#30698e 60.4%,#453581 62.9%,#472f7d 64%,#46337f 64.7%,#3b518b 66.1%,#228b8d 67.9%,#22a785 68.6%,#31b57b 69%,#6ece58 69.7%,#c8e020 70.4%,#f4e61e 70.8%,#fde725 71.1%,#fde725 99.8%)"></i><i style="background:linear-gradient(90deg,#fde725 0.2%,#fde725 30.3%,#f8e621 30.6%,#cde11d 31%,#75d054 31.7%,#50c46a 32.1%,#34b679 32.4%,#23a983 32.8%,#1e9b8a 33.2%,#30698e 34.6%,#3e4989 35.7%,#46307e 37.1%,#46307e 38.2%,#443983 38.9%,#39558c 40.3%,#287c8e 42.1%,#1f998a 44.3%,#1e9d89 45.3%,#1f988b 47.5%,#24878e 50.7%,#1f978b 53.2%,#1e9d89 56.1%,#21908d 57.9%,#31688e 60%,#453581 62.5%,#472f7d 64%,#404688 65.4%,#23898e 67.6%,#20a486 68.3%,#2db27d 68.6%,#46c06f 69%,#8ed645 69.7%,#bddf26 70.1%,#eae51a 70.4%,#fde725 70.8%,#fde725 99.8%)"></i><i style="background:linear-gradient(90deg,#fde725 0.2%,#fde725 30.6%,#efe51c 31%,#c2df23 31.4%,#6ccd5a 32.1%,#4ac16d 32.4%,#2fb47c 32.8%,#21a685 33.2%,#1f988b 33.5%,#3b518b 35.7%,#453882 36.7%,#472f7d 37.5%,#472e7c 38.2%,#453882 39.2%,#39558c 40.7%,#26818e 42.8%,#1f968b 44.6%,#1f968b 47.8%,#24868e 50.7%,#1f958b 53.2%,#1f998a 55.7%,#218e8d 57.5%,#31678e 59.7%,#443a83 61.8%,#472e7c 63.3%,#46327e 64%,#404588 65.1%,#24868e 67.2%,#1fa187 67.9%,#29af7f 68.3%,#3fbc73 68.6%,#5ec962 69%,#dfe318 70.1%,#fde725 70.4%,#fde725 99.8%)"></i><i style="background:linear-gradient(90deg,#fde725 0.2%,#fde725 31%,#e5e419 31.4%,#b8de29 31.7%,#8bd646 32.1%,#42be71 32.8%,#2cb17e 33.2%,#20a386 33.5%,#1f958b 33.9%,#32658e 35.3%,#404688 36.4%,#472f7d 37.8%,#472f7d 38.9%,#453882 39.6%,#32648e 41.8%,#27808e 43.2%,#20928c 44.6%,#1f948c 47.8%,#25858e 50.7%,#20928c 52.9%,#1f958b 55.7%,#21908d 56.8%,#26828e 57.9%,#38588c 60%,#463480 61.8%,#472e7c 63.3%,#443b84 64.3%,#39568c 65.4%,#21918c 67.2%,#1f9f88 67.6%,#26ad81 67.9%,#3aba76 68.3%,#58c765 68.6%,#7cd250 69%,#d5e21a 69.7%,#fde725 70.1%,#fde725 99.8%)"></i><i style="background:linear-gradient(90deg,#fde725 0.2%,#fde725 31.4%,#dae319 31.7%,#81d34d 32.4%,#5cc863 32.8%,#3dbc74 33.2%,#28ae80 33.5%,#1fa188 33.9%,#20938c 34.2%,#3d4e8a 36.4%,#453581 37.5%,#472d7b 38.5%,#453882 40%,#365c8d 41.8%,#23888e 44.3%,#20928c 46.1%,#20928c 48.2%,#25848e 50.7%,#20928c 53.2%,#21908d 56.1%,#297a8e 57.9%,#39568c 59.7%,#463480 61.5%,#472f7d 63.3%,#3e4a89 64.7%,#2f6b8e 65.8%,#1e9c89 67.2%,#24aa83 67.6%,#35b779 67.9%,#50c46a 68.3%,#9dd93b 69%,#cae11f 69.4%,#f8e621 69.7%,#fde725 70.1%,#fde725 99.8%)"></i><i style="background:linear-gradient(90deg,#fde725 0.2%,#fde725 31.7%,#d0e11c 32.1%,#a2da37 32.4%,#56c667 33.2%,#38b977 33.5%,#25ac82 33.9%,#1f9e89 34.2%,#2e6d8e 35.7%,#414287 37.1%,#472d7b 38.5%,#46327e 40%,#375b8d 42.1%,#26828e 44.3%,#228c8d 45.3%,#21908d 48.2%,#25838e 50.7%,#21918c 53.6%,#228d8d 55.7%,#25838e 56.8%,#39558c 59.3%,#46337f 61.1%,#472c7a 62.2%,#472f7d 62.9%,#424086 64%,#27808e 66.1%,#1f998a 66.8%,#22a785 67.2%,#31b57b 67.6%,#4ac16d 67.9%,#6ccd5a 68.3%,#c0df25 69%,#efe51c 69.4%,#fde725 69.7%,#fde725 99.8%)"></i><i style="background:linear-gradient(90deg,#fde725 0.2%,#fde725 31.7%,#f4e61e 32.1%,#c5e021 32.4%,#70cf57 33.2%,#4ec36b 33.5%,#34b679 33.9%,#23a983 34.2%,#1e9b8a 34.6%,#2f6b8e 36%,#3e4a89 37.1%,#46337f 38.2%,#472d7b 38.9%,#46327e 40.3%,#3b528b 42.1%,#297b8e 44.3%,#24878e 45.3%,#218e8d 47.8%,#26828e 50.7%,#218e8d 53.9%,#26828e 56.5%,#39558c 59%,#46337f 60.8%,#472c7a 62.2%,#453781 63.3%,#3f4788 64%,#277e8e 65.8%,#20a486 66.8%,#2db27d 67.2%,#44bf70 67.6%,#8bd646 68.3%,#b8de29 68.6%,#e5e419 69%,#fde725 69.4%,#fde725 99.8%)"></i><i style="background:linear-gradient(90deg,#fde725 0.2%,#fde725 32.1%,#eae51a 32.4%,#bddf26 32.8%,#90d743 33.2%,#48c16e 33.9%,#2fb47c 34.2%,#21a685 34.6%,#1f998a 34.9%,#31688e 36.4%,#424086 37.8%,#46327e 38.5%,#472a7a 39.6%,#46307e 40.7%,#3b518b 42.5%,#277e8e 45%,#228b8d 47.5%,#26828e 49.6%,#26828e 51.4%,#228b8d 53.2%,#25858e 55.4%,#297b8e 56.5%,#3a548c 58.6%,#453882 60%,#472a7a 61.5%,#46307e 62.5%,#433d84 63.3%,#32658e 64.7%,#24878e 65.8%,#1fa187 66.5%,#28ae80 66.8%,#5cc863 67.6%,#81d34d 67.9%,#dae319 68.6%,#fde725 69%,#fde725 99.8%)"></i><i style="background:linear-gradient(90deg,#fde725 0.2%,#fde725 32.4%,#dfe318 32.8%,#86d549 33.5%,#42be71 34.2%,#2cb17e 34.6%,#20a386 34.9%,#1f968b 35.3%,#31668e 36.7%,#3f4788 37.8%,#46307e 38.9%,#472a7a 39.6%,#472a7a 40.3%,#453581 41.4%,#3b518b 42.8%,#287c8e 45.3%,#23888e 47.5%,#26818e 50%,#23888e 53.6%,#26818e 55.4%,#375b8d 57.9%,#46327e 60%,#472a7a 61.5%,#463480 62.5%,#414487 63.3%,#2e6e8e 64.7%,#20928c 65.8%,#25ac82 66.5%,#38b977 66.8%,#56c667 67.2%,#a2da37 67.9%,#d0e11c 68.3%,#fbe723 68.6%,#fde725 99.8%)"></i><i style="background:linear-gradient(90deg,#fde725 0.2%,#fde725 32.8%,#d5e21a 33.2%,#a8db34 33.5%,#5ac864 34.2%,#28ae80 34.9%,#1fa188 35.3%,#32648e 37.1%,#433d84 38.5%,#472f7d 39.2%,#482979 40.3%,#472f7d 41.4%,#3c508b 43.2%,#297a8e 45.7%,#25858e 47.8%,#277f8e 50.4%,#25858e 53.6%,#277f8e 55%,#2e6d8e 56.5%,#3e4c8a 58.2%,#453781 59.3%,#472a7a 60.4%,#482979 61.1%,#472e7c 61.8%,#414287 62.9%,#2f6c8e 64.3%,#1e9c89 65.8%,#23a983 66.1%,#34b679 66.5%,#70cf57 67.2%,#c5e021 67.9%,#f1e51d 68.3%,#fde725 68.6%,#fde725 99.8%)"></i><i style="background:linear-gradient(90deg,#fde725 0.2%,#fde725 32.8%,#f6e620 33.2%,#cae11f 33.5%,#75d054 34.2%,#37b878 34.9%,#25ac82 35.3%,#1f9e89 35.7%,#2e6e8e 37.1%,#414487 38.5%,#472e7c 39.6%,#482979 40.3%,#482979 41%,#463480 42.1%,#3f4889 43.2%,#2d708e 45.3%,#26828e 47.8%,#277f8e 54.3%,#2f6c8e 56.1%,#3b528b 57.5%,#46307e 59.3%,#482979 60.8%,#472d7b 61.5%,#424186 62.5%,#26818e 64.7%,#1f998a 65.4%,#22a785 65.8%,#2fb47c 66.1%,#48c16e 66.5%,#90d743 67.2%,#bade28 67.6%,#e7e419 67.9%,#fde725 68.3%,#fde725 99.8%)"></i><i style="background:linear-gradient(90deg,#fde725 0.2%,#fde725 33.2%,#ece51b 33.5%,#c0df25 33.9%,#6ece58 34.6%,#4cc26c 34.9%,#32b67a 35.3%,#23a983 35.7%,#1e9b8a 36%,#2f6c8e 37.5%,#414287 38.9%,#46337f 39.6%,#482878 40.7%,#472a7a 41.8%,#424086 43.2%,#30698e 45.3%,#277f8e 47.8%,#277f8e 53.2%,#297a8e 54.3%,#32658e 56.1%,#46307e 59%,#482878 60.4%,#46307e 61.5%,#423f85 62.2%,#31688e 63.6%,#1f978b 65.1%,#20a486 65.4%,#2cb17e 65.8%,#60ca60 66.5%,#dde318 67.6%,#fde725 67.9%,#fde725 99.8%)"></i><i style="background:linear-gradient(90deg,#fde725 0.2%,#fde725 33.5%,#e5e419 33.9%,#b8de29 34.2%,#8ed645 34.6%,#48c16e 35.3%,#2fb47c 35.7%,#21a685 36%,#1f998a 36.4%,#306a8e 37.8%,#3e4a89 38.9%,#46327e 40%,#482979 40.7%,#472e7c 42.5%,#3a548c 44.6%,#2f6c8e 46.1%,#2a768e 47.1%,#287c8e 48.6%,#287c8e 52.5%,#2d718e 54.7%,#3c508b 56.8%,#472f7d 58.6%,#482878 60%,#46307e 61.1%,#433e85 61.8%,#31668e 63.3%,#23888e 64.3%,#1fa187 65.1%,#29af7f 65.4%,#5cc863 66.1%,#7fd34e 66.5%,#d5e21a 67.2%,#fde725 67.6%,#fde725 99.8%)"></i><i style="background:linear-gradient(90deg,#fde725 0.2%,#fde725 33.9%,#dde318 34.2%,#86d549 34.9%,#44bf70 35.7%,#2db27d 36%,#21a585 36.4%,#1f988b 36.7%,#30698e 38.2%,#424086 39.6%,#472c7a 40.7%,#482677 41.4%,#472e7c 42.8%,#3e4c8a 44.6%,#30698e 46.4%,#2a778e 48.6%,#2a778e 52.5%,#2c718e 53.9%,#39558c 56.1%,#472f7d 58.2%,#482677 59.7%,#472f7d 60.8%,#404688 61.8%,#32658e 62.9%,#20938c 64.3%,#1fa188 64.7%,#27ad81 65.1%,#3aba76 65.4%,#7ad151 66.1%,#cde11d 66.8%,#f8e621 67.2%,#fde725 67.6%,#fde725 99.8%)"></i><i style="background:linear-gradient(90deg,#fde725 0.2%,#fde725 34.2%,#d5e21a 34.6%,#81d34d 35.3%,#40bd72 36%,#2ab07f 36.4%,#20a386 36.7%,#1f968b 37.1%,#31688e 38.5%,#423f85 40%,#46307e 40.7%,#482677 41.8%,#472d7b 43.2%,#3b518b 45.3%,#306a8e 47.1%,#2b748e 50%,#2e6e8e 53.6%,#375a8c 55.4%,#472e7c 57.9%,#482677 59.3%,#472f7d 60.4%,#404588 61.5%,#32648e 62.5%,#20928c 64%,#25ac82 64.7%,#37b878 65.1%,#52c569 65.4%,#c5e021 66.5%,#f1e51d 66.8%,#fde725 67.2%,#fde725 99.8%)"></i><i style="background:linear-gradient(90deg,#fde725 0.2%,#fde725 34.2%,#f8e621 34.6%,#cde11d 34.9%,#a2da37 35.3%,#58c765 36%,#3bbb75 36.4%,#28ae80 36.7%,#1fa187 37.1%,#23888e 37.8%,#3f4788 40%,#472a7a 41.4%,#482576 42.5%,#46307e 43.9%,#3c508b 45.7%,#32648e 47.1%,#2e6e8e 48.6%,#2d718e 50.4%,#2f6b8e 53.2%,#3e4c8a 55.7%,#482979 57.9%,#482677 59.3%,#443b84 60.8%,#2e6e8e 62.5%,#1e9d89 64%,#24aa83 64.3%,#34b679 64.7%,#4ec36b 65.1%,#6ece58 65.4%,#c0df25 66.1%,#eae51a 66.5%,#fde725 66.8%,#fde725 99.8%)"></i><i style="background:linear-gradient(90deg,#fde725 0.2%,#fde725 34.6%,#f1e51d 34.9%,#c8e020 35.3%,#75d054 36%,#54c568 36.4%,#38b977 36.7%,#26ad81 37.1%,#20938c 37.8%,#3c508b 40%,#453581 41%,#482576 42.5%,#482576 43.2%,#46307e 44.3%,#3f4889 45.7%,#34618d 47.5%,#2f6c8e 50%,#32658e 53.2%,#3c508b 55%,#482979 57.5%,#482677 59%,#443a83 60.4%,#2e6d8e 62.2%,#1e9b8a 63.6%,#22a884 64%,#31b57b 64.3%,#4ac16d 64.7%,#8ed645 65.4%,#b8de29 65.8%,#e2e418 66.1%,#fde725 66.5%,#fde725 99.8%)"></i><i style="background:linear-gradient(90deg,#fde725 0.2%,#fde725 34.9%,#eae51a 35.3%,#c0df25 35.7%,#95d840 36%,#50c46a 36.7%,#35b779 37.1%,#25ab82 37.5%,#1f9e89 37.8%,#25858e 38.5%,#3c4f8a 40.3%,#472e7c 41.8%,#482677 42.5%,#482677 43.9%,#424086 45.7%,#355e8d 47.8%,#31688e 50.7%,#355f8d 53.2%,#3f4889 55%,#46307e 56.5%,#482475 58.2%,#482878 59%,#414287 60.4%,#26828e 62.5%,#21a685 63.6%,#2eb37c 64%,#65cb5e 64.7%,#dae319 65.8%,#fde725 66.1%,#fde725 99.8%)"></i><i style="background:linear-gradient(90deg,#fde725 0.2%,#fde725 35.3%,#e2e418 35.7%,#b8de29 36%,#69cd5b 36.7%,#4ac16d 37.1%,#32b67a 37.5%,#23a983 37.8%,#1e9c89 38.2%,#2e6e8e 39.6%,#443b84 41.4%,#482576 42.8%,#482979 44.6%,#3e4989 46.8%,#365d8d 48.6%,#33638d 51.1%,#38588c 53.2%,#472f7d 56.1%,#482475 57.9%,#472c7a 59%,#424186 60%,#306a8e 61.5%,#228c8d 62.5%,#20a486 63.3%,#40bd72 64%,#5ec962 64.3%,#d2e21b 65.4%,#fde725 65.8%,#fde725 99.8%)"></i><i style="background:linear-gradient(90deg,#fde725 0.2%,#fde725 35.7%,#dae319 36%,#65cb5e 37.1%,#2fb47c 37.8%,#22a785 38.2%,#218e8d 38.9%,#2f6c8e 40%,#443a83 41.8%,#482878 42.8%,#482374 43.5%,#482576 44.6%,#3c508b 47.8%,#355e8d 50.4%,#38588c 52.5%,#3e4989 53.9%,#482677 56.5%,#482677 58.2%,#3e4989 60%,#31688e 61.1%,#1f968b 62.5%,#1fa287 62.9%,#29af7f 63.3%,#3dbc74 63.6%,#7cd250 64.3%,#cde11d 65.1%,#f6e620 65.4%,#fde725 65.8%,#fde725 99.8%)"></i><i style="background:linear-gradient(90deg,#fde725 0.2%,#fbe723 36%,#d2e21b 36.4%,#81d34d 37.1%,#42be71 37.8%,#2db27d 38.2%,#21a585 38.5%,#1f988b 38.9%,#39558c 41%,#443983 42.1%,#482677 43.2%,#482475 45%,#3d4d8a 48.2%,#38598c 51.1%,#404688 53.6%,#482576 56.1%,#482173 57.2%,#482576 57.9%,#423f85 59.3%,#31678e 60.8%,#1fa188 62.5%,#27ad81 62.9%,#54c568 63.6%,#75d054 64%,#c5e021 64.7%,#efe51c 65.1%,#fde725 65.4%,#fde725 99.8%)"></i><i style="background:linear-gradient(90deg,#fde725 0.2%,#fde725 36%,#f4e61e 36.4%,#cae11f 36.7%,#7cd250 37.5%,#3dbc74 38.2%,#29af7f 38.5%,#1f968b 39.2%,#3a548c 41.4%,#46307e 42.8%,#482576 43.5%,#482374 45.3%,#3d4d8a 48.9%,#3a538b 50.7%,#414487 53.2%,#482173 56.1%,#482173 57.2%,#453581 58.6%,#375b8d 60%,#20928c 61.8%,#25ab82 62.5%,#35b779 62.9%,#6ece58 63.6%,#bddf26 64.3%,#e5e419 64.7%,#fde725 65.1%,#fde725 99.8%)"></i><i style="background:linear-gradient(90deg,#fde725 0.2%,#fde725 36.4%,#ece51b 36.7%,#c2df23 37.1%,#54c568 38.2%,#27ad81 38.9%,#1fa188 39.2%,#31688e 41%,#423f85 42.5%,#482979 43.5%,#482071 44.6%,#482173 45.7%,#443b84 47.8%,#3d4e8a 50.4%,#414487 52.5%,#482071 55.7%,#482173 56.8%,#463480 58.2%,#32648e 60%,#1e9d89 61.8%,#23a983 62.2%,#32b67a 62.5%,#4ac16d 62.9%,#69cd5b 63.3%,#dde318 64.3%,#fde725 64.7%,#fde725 99.8%)"></i><i style="background:linear-gradient(90deg,#fde725 0.2%,#fde725 36.7%,#e5e419 37.1%,#bade28 37.5%,#93d741 37.8%,#4ec36b 38.5%,#35b779 38.9%,#25ab82 39.2%,#1f9f88 39.6%,#24868e 40.3%,#3f4788 42.5%,#472e7c 43.5%,#482071 44.6%,#482071 46.1%,#423f85 48.9%,#3f4889 50.7%,#414487 51.8%,#482173 55%,#481f70 56.1%,#482173 56.8%,#443a83 58.2%,#2e6d8e 60%,#218f8d 61.1%,#22a785 61.8%,#2eb37c 62.2%,#44bf70 62.5%,#63cb5f 62.9%,#d5e21a 64%,#fde725 64.3%,#fde725 99.8%)"></i><i style="background:linear-gradient(90deg,#fde725 0.2%,#fde725 37.1%,#dde318 37.5%,#8bd646 38.2%,#4ac16d 38.9%,#32b67a 39.2%,#23a983 39.6%,#1e9c89 40%,#38598c 42.1%,#443b84 43.2%,#482173 44.6%,#481d6f 46.1%,#433e85 49.3%,#404588 50.7%,#46307e 53.2%,#482071 54.7%,#481d6f 56.1%,#482979 57.2%,#453882 57.9%,#306a8e 59.7%,#228c8d 60.8%,#20a486 61.5%,#2cb17e 61.8%,#5cc863 62.5%,#a5db36 63.3%,#d0e11c 63.6%,#f6e620 64%,#fde725 64.3%,#fde725 99.8%)"></i><i style="background:linear-gradient(90deg,#fde725 0.2%,#fde725 37.5%,#d8e219 37.8%,#86d549 38.5%,#44bf70 39.2%,#2eb37c 39.6%,#21a685 40%,#1f998a 40.3%,#39558c 42.5%,#472f7d 43.9%,#481f70 45%,#481d6f 46.4%,#453781 48.9%,#424186 50.7%,#46307e 52.9%,#481d6f 54.7%,#481c6e 55.7%,#482173 56.5%,#453581 57.5%,#31678e 59.3%,#23898e 60.4%,#1fa187 61.1%,#28ae80 61.5%,#3bbb75 61.8%,#7ad151 62.5%,#c8e020 63.3%,#f1e51d 63.6%,#fde725 64%,#fde725 99.8%)"></i><i style="background:linear-gradient(90deg,#fde725 0.2%,#fde725 37.5%,#fbe723 37.8%,#d2e21b 38.2%,#7fd34e 38.9%,#40bd72 39.6%,#2ab07f 40%,#20a386 40.3%,#1f978b 40.7%,#31688e 42.1%,#433e85 43.5%,#482677 44.6%,#481d6f 45.3%,#481c6e 46.8%,#453781 49.3%,#423f85 50.7%,#481d6f 54.3%,#481b6d 55.4%,#482475 56.5%,#443a83 57.5%,#32648e 59%,#24868e 60%,#1f9f88 60.8%,#25ac82 61.1%,#37b878 61.5%,#52c569 61.8%,#98d83e 62.5%,#c2df23 62.9%,#ece51b 63.3%,#fde725 63.6%,#fde725 99.8%)"></i><i style="background:linear-gradient(90deg,#fde725 0.2%,#fde725 37.8%,#f6e620 38.2%,#cae11f 38.5%,#a0da39 38.9%,#58c765 39.6%,#3bbb75 40%,#27ad81 40.3%,#1fa188 40.7%,#32658e 42.5%,#443a83 43.9%,#482475 45%,#481a6c 46.1%,#481c6e 47.1%,#443b84 50.7%,#481d6f 53.9%,#481d6f 55.7%,#472f7d 56.8%,#3e4c8a 57.9%,#25838e 59.7%,#1e9c89 60.4%,#23a983 60.8%,#4cc26c 61.5%,#93d741 62.2%,#bddf26 62.5%,#e7e419 62.9%,#fde725 63.3%,#fde725 99.8%)"></i><i style="background:linear-gradient(90deg,#fde725 0.2%,#fde725 38.2%,#efe51c 38.5%,#c5e021 38.9%,#73d056 39.6%,#52c569 40%,#37b878 40.3%,#25ab82 40.7%,#1f9e89 41%,#25848e 41.8%,#3e4c8a 43.5%,#472e7c 44.6%,#481c6e 45.7%,#48186a 46.8%,#453882 50.7%,#481c6e 53.6%,#48186a 54.7%,#481f70 55.7%,#463480 56.8%,#30698e 58.6%,#228d8d 59.7%,#21a685 60.4%,#2fb47c 60.8%,#67cc5c 61.5%,#e2e418 62.5%,#fde725 62.9%,#fde725 99.8%)"></i><i style="background:linear-gradient(90deg,#fde725 0.2%,#fde725 38.5%,#eae51a 38.9%,#c0df25 39.2%,#6ece58 40%,#4cc26c 40.3%,#32b67a 40.7%,#22a884 41%,#1e9b8a 41.4%,#306a8e 42.8%,#3f4889 43.9%,#482475 45.3%,#481a6c 46.1%,#48186a 47.5%,#463480 50.7%,#481c6e 53.2%,#481769 54.7%,#481c6e 55.4%,#46307e 56.5%,#31668e 58.2%,#1f968b 59.7%,#20a386 60%,#2cb17e 60.4%,#60ca60 61.1%,#dae319 62.2%,#fde725 62.5%,#fde725 99.8%)"></i><i style="background:linear-gradient(90deg,#fde725 0.2%,#fde725 38.9%,#e5e419 39.2%,#b8de29 39.6%,#8ed645 40%,#46c06f 40.7%,#2eb37c 41%,#21a585 41.4%,#1f988b 41.8%,#365c8d 43.5%,#46307e 45%,#48186a 46.4%,#48186a 47.8%,#46307e 50.7%,#481c6e 52.9%,#481668 54.3%,#481f70 55.4%,#453781 56.5%,#2e6f8e 58.2%,#1fa188 59.7%,#28ae80 60%,#3dbc74 60.4%,#5cc863 60.8%,#7fd34e 61.1%,#d5e21a 61.8%,#fde725 62.2%,#fde725 99.8%)"></i><i style="background:linear-gradient(90deg,#fde725 0.2%,#fde725 39.2%,#dfe318 39.6%,#86d549 40.3%,#60ca60 40.7%,#2ab07f 41.4%,#1fa287 41.8%,#23888e 42.5%,#3d4d8a 44.3%,#472d7b 45.3%,#481a6c 46.4%,#481467 47.1%,#481769 48.2%,#472d7b 50.7%,#48186a 52.9%,#481467 53.9%,#481c6e 55%,#46337f 56.1%,#2f6c8e 57.9%,#21918c 59%,#25ac82 59.7%,#38b977 60%,#56c667 60.4%,#a2da37 61.1%,#d0e11c 61.5%,#fbe723 61.8%,#fde725 99.8%)"></i><i style="background:linear-gradient(90deg,#fde725 0.2%,#fde725 39.6%,#d8e219 40%,#aadc32 40.3%,#5ac864 41%,#27ad81 41.8%,#1fa088 42.1%,#20928c 42.5%,#2e6d8e 43.5%,#46337f 45.3%,#481b6d 46.4%,#471365 47.5%,#482979 50.7%,#481467 53.2%,#481a6c 54.7%,#482677 55.4%,#3c508b 56.8%,#1e9b8a 59%,#23a983 59.3%,#34b679 59.7%,#73d056 60.4%,#c8e020 61.1%,#f4e61e 61.5%,#fde725 61.8%,#fde725 99.8%)"></i><i style="background:linear-gradient(90deg,#fde725 0.2%,#fde725 40%,#d2e21b 40.3%,#7ad151 41%,#56c667 41.4%,#38b977 41.8%,#25ab82 42.1%,#1e9d89 42.5%,#26828e 43.2%,#3b518b 44.6%,#472f7d 45.7%,#48186a 46.8%,#471164 48.2%,#482576 50.7%,#481467 52.5%,#471164 53.6%,#481c6e 54.7%,#472c7a 55.4%,#32658e 57.2%,#228b8d 58.2%,#21a685 59%,#2fb47c 59.3%,#4ac16d 59.7%,#6ccd5a 60%,#c2df23 60.8%,#efe51c 61.1%,#fde725 61.5%,#fde725 99.8%)"></i><i style="background:linear-gradient(90deg,#fde725 0.2%,#fde725 40%,#f8e621 40.3%,#cae11f 40.7%,#73d056 41.4%,#34b679 42.1%,#22a884 42.5%,#1f9a8a 42.8%,#3d4d8a 45%,#472c7a 46.1%,#481668 47.1%,#471164 48.6%,#482173 50.7%,#471063 53.2%,#481467 53.9%,#482979 55%,#39558c 56.5%,#24878e 57.9%,#20a386 58.6%,#2cb17e 59%,#44bf70 59.3%,#65cb5e 59.7%,#bade28 60.4%,#eae51a 60.8%,#fde725 61.1%,#fde725 99.8%)"></i><i style="background:linear-gradient(90deg,#fde725 0.2%,#fde725 40.3%,#f1e51d 40.7%,#c5e021 41%,#6ccd5a 41.8%,#2eb37c 42.5%,#21a585 42.8%,#1f968b 43.2%,#39558c 45%,#46327e 46.1%,#48186a 47.1%,#470e61 48.6%,#481d6f 50.7%,#470e61 52.9%,#471164 53.6%,#472e7c 55%,#355e8d 56.5%,#1fa088 58.2%,#28ae80 58.6%,#5ec962 59.3%,#e2e418 60.4%,#fde725 60.8%,#fde725 99.8%)"></i><i style="background:linear-gradient(90deg,#fde725 0.2%,#fde725 40.3%,#f1e51d 40.7%,#c5e021 41%,#6ccd5a 41.8%,#2eb37c 42.5%,#21a585 42.8%,#1f968b 43.2%,#39558c 45%,#46327e 46.1%,#48186a 47.1%,#470e61 48.6%,#481d6f 50.7%,#470e61 52.9%,#471164 53.6%,#472e7c 55%,#355e8d 56.5%,#1fa088 58.2%,#28ae80 58.6%,#5ec962 59.3%,#e2e418 60.4%,#fde725 60.8%,#fde725 99.8%)"></i><i style="background:linear-gradient(90deg,#fde725 0.2%,#fde725 40.3%,#f1e51d 40.7%,#c5e021 41%,#6ccd5a 41.8%,#2eb37c 42.5%,#21a585 42.8%,#1f968b 43.2%,#39558c 45%,#46327e 46.1%,#48186a 47.1%,#470e61 48.6%,#481d6f 50.7%,#470e61 52.9%,#471164 53.6%,#472e7c 55%,#355e8d 56.5%,#1fa088 58.2%,#28ae80 58.6%,#5ec962 59.3%,#e2e418 60.4%,#fde725 60.8%,#fde725 99.8%)"></i></div></div>
<div class="hw" style="left:762px;top:493px"><div class="hm"><i style="background:linear-gradient(90deg,#fde725 0.2%,#fde725 21.3%,#f1e51d 21.7%,#c8e020 22%,#58c765 23.1%,#2ab07f 23.8%,#20a486 24.2%,#228d8d 24.9%,#31678e 26.3%,#3a538b 27.4%,#3d4e8a 28.1%,#3c508b 29.2%,#38598c 29.9%,#1e9d89 33.2%,#27ad81 33.9%,#32b67a 34.2%,#73d056 35.7%,#a8db34 37.1%,#b8de29 37.8%,#c2df23 39.2%,#c2df23 42.8%,#b8de29 43.9%,#93d741 45%,#54c568 46.4%,#42be71 46.8%,#27ad81 47.1%,#1f988b 47.5%,#2a778e 48.2%,#32648e 48.9%,#375a8c 50%,#375a8c 51.1%,#33628d 52.2%,#2c728e 52.9%,#20928c 53.6%,#21a685 53.9%,#3aba76 54.3%,#4ec36b 54.7%,#aadc32 56.8%,#bddf26 57.5%,#c2df23 58.2%,#c0df25 62.5%,#addc30 64%,#89d548 65.1%,#67cc5c 65.8%,#44bf70 66.5%,#22a884 67.6%,#1f978b 68.3%,#34618d 70.8%,#3c4f8a 72.2%,#3c4f8a 73.3%,#39568c 74%,#2b758e 75.4%,#1fa088 76.9%,#25ac82 77.2%,#35b779 77.6%,#4ec36b 78%,#6ece58 78.3%,#bade28 79%,#e2e418 79.4%,#fde725 79.7%,#fde725 99.8%)"></i><i style="background:linear-gradient(90deg,#fde725 0.2%,#fde725 21.3%,#f1e51d 21.7%,#c8e020 22%,#58c765 23.1%,#2ab07f 23.8%,#20a486 24.2%,#228d8d 24.9%,#31678e 26.3%,#3a538b 27.4%,#3d4e8a 28.1%,#3c508b 29.2%,#38598c 29.9%,#1e9d89 33.2%,#27ad81 33.9%,#32b67a 34.2%,#73d056 35.7%,#a8db34 37.1%,#b8de29 37.8%,#c2df23 39.2%,#c2df23 42.8%,#b8de29 43.9%,#93d741 45%,#54c568 46.4%,#42be71 46.8%,#27ad81 47.1%,#1f988b 47.5%,#2a778e 48.2%,#32648e 48.9%,#375a8c 50%,#375a8c 51.1%,#33628d 52.2%,#2c728e 52.9%,#20928c 53.6%,#21a685 53.9%,#3aba76 54.3%,#4ec36b 54.7%,#aadc32 56.8%,#bddf26 57.5%,#c2df23 58.2%,#c0df25 62.5%,#addc30 64%,#89d548 65.1%,#67cc5c 65.8%,#44bf70 66.5%,#22a884 67.6%,#1f978b 68.3%,#34618d 70.8%,#3c4f8a 72.2%,#3c4f8a 73.3%,#39568c 74%,#2b758e 75.4%,#1fa088 76.9%,#25ac82 77.2%,#35b779 77.6%,#4ec36b 78%,#6ece58 78.3%,#bade28 79%,#e2e418 79.4%,#fde725 79.7%,#fde725 99.8%)"></i><i style="background:linear-gradient(90deg,#fde725 0.2%,#fde725 21.3%,#f1e51d 21.7%,#c8e020 22%,#58c765 23.1%,#2ab07f 23.8%,#20a486 24.2%,#228d8d 24.9%,#31678e 26.3%,#3a538b 27.4%,#3d4e8a 28.1%,#3c508b 29.2%,#38598c 29.9%,#1e9d89 33.2%,#27ad81 33.9%,#32b67a 34.2%,#73d056 35.7%,#a8db34 37.1%,#b8de29 37.8%,#c2df23 39.2%,#c2df23 42.8%,#b8de29 43.9%,#93d741 45%,#54c568 46.4%,#42be71 46.8%,#27ad81 47.1%,#1f988b 47.5%,#2a778e 48.2%,#32648e 48.9%,#375a8c 50%,#375a8c 51.1%,#33628d 52.2%,#2c728e 52.9%,#20928c 53.6%,#21a685 53.9%,#3aba76 54.3%,#4ec36b 54.7%,#aadc32 56.8%,#bddf26 57.5%,#c2df23 58.2%,#c0df25 62.5%,#addc30 64%,#89d548 65.1%,#67cc5c 65.8%,#44bf70 66.5%,#22a884 67.6%,#1f978b 68.3%,#34618d 70.8%,#3c4f8a 72.2%,#3c4f8a 73.3%,#39568c 74%,#2b758e 75.4%,#1fa088 76.9%,#25ac82 77.2%,#35b779 77.6%,#4ec36b 78%,#6ece58 78.3%,#bade28 79%,#e2e418 79.4%,#fde725 79.7%,#fde725 99.8%)"></i><i style="background:linear-gradient(90deg,#fde725 0.2%,#fde725 21.7%,#dfe318 22%,#b8de29 22.4%,#69cd5b 23.1%,#34b679 23.8%,#24aa83 24.2%,#20928c 24.9%,#33638d 26.7%,#39558c 27.4%,#3e4c8a 28.5%,#3a548c 29.9%,#1f968b 33.2%,#29af7f 34.2%,#65cb5e 35.7%,#a0da39 37.1%,#b5de2b 38.2%,#c0df25 40%,#c0df25 42.8%,#bade28 43.5%,#aadc32 44.3%,#52c569 46.4%,#26ad81 47.1%,#1f988b 47.5%,#2a788e 48.2%,#31668e 48.9%,#365c8d 50%,#365c8d 51.1%,#32648e 52.2%,#2b748e 52.9%,#20928c 53.6%,#21a585 53.9%,#38b977 54.3%,#4cc26c 54.7%,#a5db36 56.8%,#b8de29 57.5%,#c0df25 58.6%,#bddf26 62.2%,#b2dd2d 63.3%,#98d83e 64.3%,#7cd250 65.1%,#3aba76 66.5%,#1fa187 67.6%,#23898e 68.6%,#365c8d 70.8%,#3e4c8a 72.2%,#3c4f8a 73.3%,#38598c 74%,#297a8e 75.4%,#1f9a8a 76.5%,#21a685 76.9%,#2db27d 77.2%,#42be71 77.6%,#81d34d 78.3%,#d2e21b 79%,#fbe723 79.4%,#fde725 99.8%)"></i><i style="background:linear-gradient(90deg,#fde725 0.2%,#fde725 21.7%,#f8e621 22%,#d0e11c 22.4%,#a5db36 22.8%,#5cc863 23.5%,#40bd72 23.8%,#20a486 24.6%,#228d8d 25.3%,#355e8d 27.1%,#3d4e8a 28.1%,#3e4a89 29.2%,#33628d 31%,#23888e 32.8%,#1fa187 33.9%,#23a983 34.2%,#38b977 34.9%,#69cd5b 36%,#95d840 37.1%,#b0dd2f 38.2%,#bddf26 41%,#b8de29 43.2%,#a5db36 44.3%,#50c46a 46.4%,#26ad81 47.1%,#1f988b 47.5%,#24868e 47.8%,#2e6f8e 48.6%,#34608d 49.6%,#355e8d 51.1%,#31668e 52.2%,#2b758e 52.9%,#20928c 53.6%,#21a585 53.9%,#37b878 54.3%,#4cc26c 54.7%,#aadc32 57.2%,#b8de29 57.9%,#bddf26 60.4%,#b5de2b 62.5%,#9bd93c 64%,#5ec962 65.4%,#2fb47c 66.5%,#1e9c89 67.6%,#26828e 68.6%,#3b528b 71.1%,#3e4a89 72.6%,#33638d 74.4%,#23898e 75.8%,#1fa188 76.5%,#26ad81 76.9%,#52c569 77.6%,#c0df25 78.7%,#eae51a 79%,#fde725 79.4%,#fde725 99.8%)"></i><i style="background:linear-gradient(90deg,#fde725 0.2%,#fde725 22%,#e7e419 22.4%,#bddf26 22.8%,#93d741 23.1%,#4ec36b 23.8%,#35b779 24.2%,#25ab82 24.6%,#20938c 25.3%,#306a8e 26.7%,#3a538b 27.8%,#3e4989 28.9%,#3e4989 29.6%,#39568c 30.6%,#1e9b8a 33.9%,#25ac82 34.6%,#3bbb75 35.3%,#98d83e 37.5%,#b2dd2d 38.9%,#b8de29 40%,#b8de29 42.8%,#aadc32 43.9%,#4ec36b 46.4%,#3dbc74 46.8%,#25ac82 47.1%,#1f988b 47.5%,#297a8e 48.2%,#306a8e 48.9%,#33628d 49.6%,#34618d 51.4%,#2a768e 52.9%,#21a585 53.9%,#4ac16d 54.7%,#73d056 55.7%,#a8db34 57.2%,#b0dd2f 57.5%,#b8de29 58.6%,#b8de29 61.1%,#b0dd2f 62.5%,#9bd93c 63.6%,#73d056 64.7%,#40bd72 65.8%,#21a685 66.8%,#25858e 68.3%,#355f8d 70.1%,#3e4a89 71.5%,#3e4a89 72.6%,#3b518b 73.3%,#2d708e 74.7%,#1e9b8a 76.2%,#2eb37c 76.9%,#44bf70 77.2%,#86d549 78%,#d8e219 78.7%,#fde725 79%,#fde725 99.8%)"></i><i style="background:linear-gradient(90deg,#fde725 0.2%,#fde725 22.4%,#d5e21a 22.8%,#aadc32 23.1%,#60ca60 23.8%,#42be71 24.2%,#2db27d 24.6%,#21a585 24.9%,#26828e 26%,#39558c 27.8%,#3f4788 29.2%,#3b518b 30.6%,#25848e 33.2%,#1e9d89 34.2%,#27ad81 34.9%,#32b67a 35.3%,#70cf57 36.7%,#98d83e 37.8%,#b0dd2f 39.2%,#b5de2b 40.7%,#b5de2b 42.5%,#addc30 43.5%,#90d743 44.6%,#4cc26c 46.4%,#25ac82 47.1%,#1f988b 47.5%,#287c8e 48.2%,#2f6b8e 48.9%,#33628d 50.7%,#31668e 51.8%,#2d708e 52.5%,#25838e 53.2%,#20a486 53.9%,#48c16e 54.7%,#98d83e 56.8%,#b0dd2f 57.9%,#b5de2b 59%,#b2dd2d 61.5%,#a2da37 62.9%,#90d743 63.6%,#75d054 64.3%,#37b878 65.8%,#22a884 66.5%,#21908d 67.6%,#3a538b 70.4%,#3f4889 71.5%,#3e4a89 72.6%,#3a538b 73.3%,#2b748e 74.7%,#1fa187 76.2%,#27ad81 76.5%,#54c568 77.2%,#75d054 77.6%,#c8e020 78.3%,#f1e51d 78.7%,#fde725 79%,#fde725 99.8%)"></i><i style="background:linear-gradient(90deg,#fde725 0.2%,#fde725 22.4%,#efe51c 22.8%,#c2df23 23.1%,#98d83e 23.5%,#52c569 24.2%,#37b878 24.6%,#25ac82 24.9%,#1fa088 25.3%,#2c728e 26.7%,#3b528b 28.1%,#3f4889 28.9%,#404688 29.9%,#3b528b 31%,#218f8d 33.9%,#22a884 34.9%,#35b779 35.7%,#63cb5f 36.7%,#98d83e 38.2%,#aadc32 39.2%,#b0dd2f 40.3%,#b0dd2f 42.8%,#a8db34 43.5%,#98d83e 44.3%,#58c765 46.1%,#3aba76 46.8%,#25ab82 47.1%,#1f998a 47.5%,#2c738e 48.6%,#31668e 49.6%,#31668e 51.4%,#2d718e 52.5%,#25848e 53.2%,#20a486 53.9%,#46c06f 54.7%,#93d741 56.8%,#a5db36 57.5%,#b0dd2f 58.6%,#b0dd2f 61.1%,#a8db34 62.2%,#93d741 63.3%,#69cd5b 64.3%,#3aba76 65.4%,#1fa287 66.5%,#23898e 67.6%,#33628d 69.4%,#3f4788 71.1%,#3f4788 72.2%,#39568c 73.3%,#29798e 74.7%,#1e9b8a 75.8%,#22a884 76.2%,#48c16e 76.9%,#8bd646 77.6%,#dfe318 78.3%,#fde725 78.7%,#fde725 99.8%)"></i><i style="background:linear-gradient(90deg,#fde725 0.2%,#fde725 22.8%,#dde318 23.1%,#89d548 23.8%,#44bf70 24.6%,#2eb37c 24.9%,#21a685 25.3%,#1f9a8a 25.6%,#3a548c 28.1%,#404688 29.2%,#404688 30.3%,#3a538b 31.4%,#23888e 33.9%,#1fa187 34.9%,#2db27d 35.7%,#58c765 36.7%,#90d743 38.2%,#a0da39 38.9%,#addc30 40.7%,#addc30 42.5%,#9dd93b 43.9%,#4ac16d 46.4%,#25ab82 47.1%,#1f998a 47.5%,#2b758e 48.6%,#31688e 49.6%,#2e6d8e 52.2%,#25858e 53.2%,#20a486 53.9%,#32b67a 54.3%,#52c569 55%,#84d44b 56.5%,#a2da37 57.5%,#addc30 58.6%,#addc30 60.4%,#a5db36 61.8%,#93d741 62.9%,#7cd250 63.6%,#31b57b 65.4%,#26ad81 65.8%,#1e9c89 66.5%,#39558c 69.7%,#3f4788 70.8%,#404588 71.9%,#3e4c8a 72.6%,#34618d 73.7%,#1fa187 75.8%,#28ae80 76.2%,#3bbb75 76.5%,#7ad151 77.2%,#cde11d 78%,#f8e621 78.3%,#fde725 78.7%,#fde725 99.8%)"></i><i style="background:linear-gradient(90deg,#fde725 0.2%,#fde725 22.8%,#f4e61e 23.1%,#cae11f 23.5%,#77d153 24.2%,#56c667 24.6%,#26ad81 25.3%,#1fa188 25.6%,#2c728e 27.1%,#3c508b 28.5%,#414287 29.9%,#404588 30.6%,#3a548c 31.7%,#1e9c89 34.9%,#25ac82 35.7%,#2fb47c 36%,#7ad151 37.8%,#98d83e 38.9%,#a8db34 40.3%,#aadc32 41.4%,#a8db34 42.8%,#98d83e 43.9%,#48c16e 46.4%,#25ab82 47.1%,#1f998a 47.5%,#27808e 48.2%,#2d718e 48.9%,#306a8e 49.6%,#30698e 51.1%,#2b748e 52.5%,#24868e 53.2%,#20a486 53.9%,#44bf70 54.7%,#95d840 57.2%,#a2da37 57.9%,#aadc32 59.7%,#a8db34 60.8%,#9bd93c 62.2%,#70cf57 63.6%,#34b679 65.1%,#22a785 65.8%,#218e8d 66.8%,#3c508b 69.7%,#414287 71.1%,#3f4889 72.2%,#3a548c 72.9%,#29798e 74.4%,#1e9c89 75.4%,#23a983 75.8%,#32b67a 76.2%,#4ac16d 76.5%,#90d743 77.2%,#bade28 77.6%,#e7e419 78%,#fde725 78.3%,#fde725 99.8%)"></i><i style="background:linear-gradient(90deg,#fde725 0.2%,#fde725 23.1%,#e2e418 23.5%,#b8de29 23.8%,#67cc5c 24.6%,#48c16e 24.9%,#2fb47c 25.3%,#22a785 25.6%,#1f9a8a 26%,#2a778e 27.1%,#3b528b 28.5%,#424186 29.9%,#414287 30.6%,#39568c 32.1%,#1f958b 34.9%,#21a685 35.7%,#32b67a 36.4%,#50c46a 37.1%,#7cd250 38.2%,#90d743 38.9%,#9dd93b 39.6%,#a5db36 41%,#a5db36 42.5%,#9bd93c 43.5%,#8bd646 44.3%,#46c06f 46.4%,#25ab82 47.1%,#1f9a8a 47.5%,#26818e 48.2%,#2c728e 48.9%,#2f6b8e 51.1%,#2a768e 52.5%,#24878e 53.2%,#20a486 53.9%,#42be71 54.7%,#7cd250 56.5%,#98d83e 57.5%,#a5db36 58.6%,#a5db36 60.4%,#93d741 62.2%,#73d056 63.3%,#37b878 64.7%,#1fa188 65.8%,#24878e 66.8%,#3b528b 69.4%,#424186 70.8%,#414287 71.5%,#3c508b 72.6%,#277f8e 74.4%,#1fa287 75.4%,#29af7f 75.8%,#5cc863 76.5%,#7fd34e 76.9%,#d5e21a 77.6%,#fde725 78%,#fde725 99.8%)"></i><i style="background:linear-gradient(90deg,#fde725 0.2%,#fbe723 23.5%,#d0e11c 23.8%,#58c765 24.9%,#3bbb75 25.3%,#28ae80 25.6%,#1fa187 26%,#1f948c 26.3%,#39568c 28.5%,#3f4889 29.2%,#424086 30.3%,#3e4a89 31.7%,#24878e 34.6%,#1fa088 35.7%,#2ab07f 36.4%,#63cb5f 37.8%,#90d743 39.2%,#a0da39 40.7%,#a2da37 42.1%,#a0da39 42.8%,#90d743 43.9%,#46c06f 46.4%,#25ab82 47.1%,#1e9b8a 47.5%,#26828e 48.2%,#2b748e 48.9%,#2e6d8e 50%,#2e6e8e 51.4%,#2a778e 52.5%,#23898e 53.2%,#21a585 53.9%,#40bd72 54.7%,#58c765 55.4%,#84d44b 56.8%,#9bd93c 57.9%,#a2da37 59%,#a0da39 60.4%,#98d83e 61.5%,#8bd646 62.2%,#67cc5c 63.3%,#2eb37c 64.7%,#1fa287 65.4%,#26828e 66.8%,#3a538b 69%,#414287 70.1%,#424086 71.1%,#3a538b 72.6%,#25848e 74.4%,#1e9d89 75.1%,#24aa83 75.4%,#34b679 75.8%,#4ec36b 76.2%,#6ece58 76.5%,#c2df23 77.2%,#ece51b 77.6%,#fde725 78%,#fde725 99.8%)"></i><i style="background:linear-gradient(90deg,#fde725 0.2%,#fde725 23.5%,#eae51a 23.8%,#bddf26 24.2%,#6ccd5a 24.9%,#4cc26c 25.3%,#32b67a 25.6%,#22a884 26%,#1e9b8a 26.3%,#2a778e 27.4%,#3b518b 28.9%,#424086 29.9%,#423f85 31%,#3b528b 32.4%,#23898e 34.9%,#1fa287 36%,#2db27d 36.7%,#48c16e 37.5%,#89d548 39.2%,#9dd93b 41%,#9dd93b 42.5%,#8ed645 43.9%,#44bf70 46.4%,#25ab82 47.1%,#1e9b8a 47.5%,#25838e 48.2%,#2c728e 49.3%,#2c718e 51.8%,#26818e 52.9%,#21a585 53.9%,#2fb47c 54.3%,#4cc26c 55%,#8bd646 57.2%,#98d83e 57.9%,#9dd93b 60%,#8bd646 61.8%,#77d153 62.5%,#4ec36b 63.6%,#31b57b 64.3%,#21a585 65.1%,#1f948c 65.8%,#3a548c 68.6%,#414287 69.7%,#433e85 70.4%,#414287 71.5%,#39568c 72.6%,#277f8e 74%,#20a386 75.1%,#2ab07f 75.4%,#40bd72 75.8%,#84d44b 76.5%,#dae319 77.2%,#fde725 77.6%,#fde725 99.8%)"></i><i style="background:linear-gradient(90deg,#fde725 0.2%,#fde725 23.8%,#d8e219 24.2%,#aadc32 24.6%,#5cc863 25.3%,#29af7f 26%,#1fa287 26.3%,#23898e 27.1%,#3a548c 28.9%,#424186 29.9%,#433d84 30.6%,#424186 31.7%,#3a538b 32.8%,#26828e 34.9%,#1e9c89 36%,#26ad81 36.7%,#5ac864 38.2%,#89d548 39.6%,#9bd93c 41.4%,#9bd93c 42.5%,#8bd646 43.9%,#42be71 46.4%,#25ab82 47.1%,#1e9c89 47.5%,#25848e 48.2%,#2b748e 49.3%,#2c718e 51.4%,#26828e 52.9%,#21a585 53.9%,#3fbc73 54.7%,#69cd5b 56.1%,#89d548 57.2%,#98d83e 58.2%,#9bd93c 59.7%,#90d743 61.1%,#77d153 62.2%,#50c46a 63.3%,#29af7f 64.3%,#1f9f88 65.1%,#24868e 66.1%,#3f4889 69%,#433d84 70.4%,#414487 71.5%,#3b528b 72.2%,#21918c 74.4%,#25ab82 75.1%,#37b878 75.4%,#52c569 75.8%,#73d056 76.2%,#c8e020 76.9%,#f4e61e 77.2%,#fde725 77.6%,#fde725 99.8%)"></i><i style="background:linear-gradient(90deg,#fde725 0.2%,#fde725 23.8%,#f6e620 24.2%,#cae11f 24.6%,#9dd93b 24.9%,#52c569 25.6%,#37b878 26%,#25ab82 26.3%,#1e9d89 26.7%,#2a788e 27.8%,#3e4989 29.6%,#443b84 30.6%,#443b84 31.4%,#424186 32.1%,#39558c 33.2%,#25858e 35.3%,#1f9f88 36.4%,#28ae80 37.1%,#50c46a 38.2%,#6ccd5a 38.9%,#7fd34e 39.6%,#95d840 41.4%,#8ed645 43.5%,#42be71 46.4%,#25ab82 47.1%,#1e9d89 47.5%,#24878e 48.2%,#2a778e 49.3%,#2a768e 51.8%,#25848e 52.9%,#21a685 53.9%,#3dbc74 54.7%,#73d056 56.5%,#8bd646 57.5%,#95d840 58.6%,#95d840 59.7%,#89d548 61.1%,#63cb5f 62.5%,#2cb17e 64%,#1fa187 64.7%,#31678e 67.2%,#3e4989 68.6%,#443b84 69.7%,#433d84 70.8%,#3d4e8a 71.9%,#2b748e 73.3%,#1f998a 74.4%,#21a685 74.7%,#2eb37c 75.1%,#46c06f 75.4%,#8ed645 76.2%,#bade28 76.5%,#e7e419 76.9%,#fde725 77.2%,#fde725 99.8%)"></i><i style="background:linear-gradient(90deg,#fde725 0.2%,#fde725 24.2%,#ece51b 24.6%,#c0df25 24.9%,#93d741 25.3%,#4ac16d 26%,#2fb47c 26.3%,#22a785 26.7%,#228d8d 27.4%,#39558c 29.2%,#443b84 30.6%,#443983 31.4%,#424186 32.4%,#31668e 34.2%,#1fa188 36.7%,#2cb17e 37.5%,#54c568 38.5%,#6ece58 39.2%,#86d549 40.3%,#90d743 41.8%,#8ed645 43.2%,#84d44b 43.9%,#69cd5b 45%,#40bd72 46.4%,#25ac82 47.1%,#1fa088 47.5%,#25838e 48.6%,#2a788e 50%,#277e8e 52.2%,#23888e 52.9%,#1e9b8a 53.6%,#22a785 53.9%,#46c06f 55%,#7ad151 56.8%,#90d743 58.6%,#8ed645 60%,#81d34d 61.1%,#58c765 62.5%,#2fb47c 63.6%,#20a486 64.3%,#26828e 65.8%,#3e4a89 68.3%,#443b84 69.4%,#443983 70.1%,#433e85 70.8%,#3b528b 71.9%,#23888e 73.7%,#1fa287 74.4%,#29af7f 74.7%,#3fbc73 75.1%,#5ec962 75.4%,#dde318 76.5%,#fde725 76.9%,#fde725 99.8%)"></i><i style="background:linear-gradient(90deg,#fde725 0.2%,#fde725 24.6%,#e5e419 24.9%,#b5de2b 25.3%,#89d548 25.6%,#42be71 26.3%,#2ab07f 26.7%,#1fa287 27.1%,#23888e 27.8%,#3e4989 29.9%,#453882 31.4%,#443983 32.1%,#3f4889 33.2%,#31688e 34.6%,#1e9b8a 36.7%,#25ac82 37.5%,#63cb5f 39.2%,#7fd34e 40.3%,#89d548 41.4%,#89d548 43.2%,#7fd34e 43.9%,#48c16e 46.1%,#32b67a 46.8%,#1fa187 47.5%,#26828e 48.9%,#287d8e 51.4%,#25858e 52.5%,#1f9e89 53.6%,#23a983 53.9%,#44bf70 55%,#84d44b 57.5%,#8bd646 59.3%,#7fd34e 60.8%,#73d056 61.5%,#5cc863 62.2%,#28ae80 63.6%,#21a685 64%,#25848e 65.4%,#3e4a89 67.9%,#443a83 69%,#453882 69.7%,#443b84 70.4%,#3c4f8a 71.5%,#21918c 73.7%,#25ac82 74.4%,#38b977 74.7%,#56c667 75.1%,#a5db36 75.8%,#d5e21a 76.2%,#fde725 76.5%,#fde725 99.8%)"></i><i style="background:linear-gradient(90deg,#fde725 0.2%,#fde725 24.9%,#dae319 25.3%,#7fd34e 26%,#5ac864 26.3%,#3bbb75 26.7%,#26ad81 27.1%,#1f9f88 27.4%,#25848e 28.1%,#3d4e8a 29.9%,#453781 31.4%,#443983 32.4%,#414287 33.2%,#306a8e 34.9%,#1f948c 36.7%,#28ae80 37.8%,#5ac864 39.2%,#77d153 40.3%,#84d44b 41.8%,#84d44b 43.2%,#7cd250 43.9%,#3dbc74 46.4%,#27ad81 47.1%,#1f998a 47.8%,#25838e 49.3%,#26828e 51.8%,#218f8d 52.9%,#24aa83 53.9%,#3aba76 54.7%,#73d056 56.8%,#7fd34e 57.5%,#86d549 58.6%,#84d44b 59.7%,#73d056 61.1%,#52c569 62.2%,#2cb17e 63.3%,#1fa188 64%,#24868e 65.1%,#404588 67.9%,#453781 69%,#453781 69.7%,#433d84 70.4%,#3a548c 71.5%,#228d8d 73.3%,#22a884 74%,#32b67a 74.4%,#4ec36b 74.7%,#73d056 75.1%,#cae11f 75.8%,#f8e621 76.2%,#fde725 76.5%,#fde725 99.8%)"></i><i style="background:linear-gradient(90deg,#fde725 0.2%,#fde725 25.3%,#d0e11c 25.6%,#75d054 26.3%,#52c569 26.7%,#35b779 27.1%,#23a983 27.4%,#1e9b8a 27.8%,#30698e 29.2%,#3e4a89 30.3%,#443b84 31%,#463480 32.1%,#453882 32.8%,#3e4a89 33.9%,#25858e 36.4%,#1fa088 37.5%,#2ab07f 38.2%,#50c46a 39.2%,#67cc5c 40%,#75d054 40.7%,#7fd34e 41.8%,#7cd250 43.5%,#73d056 44.3%,#3bbb75 46.4%,#27ad81 47.1%,#1e9c89 47.8%,#238a8d 48.9%,#25858e 51.1%,#23898e 52.2%,#1fa187 53.6%,#38b977 54.7%,#67cc5c 56.5%,#7ad151 57.5%,#7fd34e 59.3%,#77d153 60.4%,#60ca60 61.5%,#48c16e 62.2%,#2eb37c 62.9%,#20a386 63.6%,#20928c 64.3%,#31668e 66.1%,#423f85 67.9%,#463480 69.4%,#443a83 70.1%,#3c508b 71.1%,#23898e 72.9%,#20a486 73.7%,#2db27d 74%,#46c06f 74.4%,#69cd5b 74.7%,#c0df25 75.4%,#efe51c 75.8%,#fde725 76.2%,#fde725 99.8%)"></i><i style="background:linear-gradient(90deg,#fde725 0.2%,#fde725 25.3%,#f6e620 25.6%,#c5e021 26%,#6ccd5a 26.7%,#4ac16d 27.1%,#2fb47c 27.4%,#21a585 27.8%,#1f978b 28.1%,#287d8e 28.9%,#3c508b 30.3%,#443983 31.4%,#46337f 32.1%,#463480 32.8%,#414487 33.9%,#32658e 35.3%,#23888e 36.7%,#1fa287 37.8%,#2eb37c 38.5%,#46c06f 39.2%,#5ec962 40%,#73d056 41%,#7ad151 42.1%,#7ad151 43.2%,#73d056 43.9%,#67cc5c 44.6%,#3aba76 46.4%,#21a685 47.5%,#20928c 48.6%,#238a8d 50%,#228c8d 51.8%,#1e9c89 53.2%,#25ab82 53.9%,#37b878 54.7%,#73d056 57.2%,#7ad151 57.9%,#7ad151 59.3%,#69cd5b 60.8%,#4cc26c 61.8%,#27ad81 62.9%,#1e9d89 63.6%,#31688e 65.8%,#423f85 67.6%,#46337f 69%,#453781 69.7%,#39568c 71.1%,#20928c 72.9%,#1fa188 73.3%,#28ae80 73.7%,#3fbc73 74%,#60ca60 74.4%,#b5de2b 75.1%,#e5e419 75.4%,#fde725 75.8%,#fde725 99.8%)"></i><i style="background:linear-gradient(90deg,#fde725 0.2%,#fde725 25.6%,#ece51b 26%,#bade28 26.3%,#63cb5f 27.1%,#42be71 27.4%,#29af7f 27.8%,#1fa187 28.1%,#25858e 28.9%,#414287 31%,#453581 31.7%,#46327e 32.4%,#46337f 33.2%,#404588 34.2%,#31678e 35.7%,#1e9d89 37.8%,#27ad81 38.5%,#56c667 40%,#67cc5c 40.7%,#75d054 42.1%,#70cf57 43.9%,#38b977 46.4%,#27ad81 47.1%,#1fa088 47.8%,#20928c 48.9%,#218f8d 51.4%,#1f948c 52.5%,#20a486 53.6%,#3dbc74 55%,#69cd5b 56.8%,#73d056 57.5%,#75d054 59%,#69cd5b 60.4%,#42be71 61.8%,#2ab07f 62.5%,#1fa088 63.3%,#306a8e 65.4%,#424086 67.2%,#46327e 68.3%,#46327e 69%,#443983 69.7%,#3b528b 70.8%,#218f8d 72.6%,#1e9c89 72.9%,#25ab82 73.3%,#38b977 73.7%,#56c667 74%,#dae319 75.1%,#fde725 75.4%,#fde725 99.8%)"></i><i style="background:linear-gradient(90deg,#fde725 0.2%,#fde725 26%,#e2e418 26.3%,#84d44b 27.1%,#5ac864 27.4%,#3aba76 27.8%,#25ac82 28.1%,#1e9d89 28.5%,#26828e 29.2%,#3f4889 31%,#453882 31.7%,#472f7d 32.8%,#46337f 33.5%,#404688 34.6%,#30698e 36%,#1f9f88 38.2%,#2ab07f 38.9%,#5ec962 40.7%,#6ece58 41.8%,#70cf57 43.2%,#67cc5c 44.3%,#48c16e 45.7%,#22a785 47.5%,#20938c 49.6%,#20938c 51.4%,#1e9c89 52.9%,#25ac82 53.9%,#65cb5e 56.8%,#70cf57 57.9%,#70cf57 59%,#6ccd5a 59.7%,#5ac864 60.8%,#2db27d 62.2%,#1fa287 62.9%,#2f6c8e 65.1%,#424186 66.8%,#46307e 67.9%,#472f7d 68.6%,#404588 70.1%,#287d8e 71.9%,#1f988b 72.6%,#21a685 72.9%,#32b67a 73.3%,#4ec36b 73.7%,#73d056 74%,#d0e11c 74.7%,#fde725 75.1%,#fde725 99.8%)"></i><i style="background:linear-gradient(90deg,#fde725 0.2%,#fde725 26.3%,#d8e219 26.7%,#77d153 27.4%,#52c569 27.8%,#34b679 28.1%,#22a884 28.5%,#228b8d 29.2%,#3d4e8a 31%,#463480 32.1%,#472e7c 32.8%,#472f7d 33.5%,#423f85 34.6%,#2f6b8e 36.4%,#1fa187 38.5%,#2db27d 39.2%,#58c765 40.7%,#67cc5c 41.8%,#6ccd5a 43.2%,#5ec962 44.6%,#22a884 47.5%,#1f998a 49.3%,#1e9b8a 52.2%,#25ab82 53.9%,#5cc863 56.5%,#69cd5b 57.5%,#6ccd5a 58.6%,#5ac864 60.4%,#26ad81 62.2%,#1e9c89 62.9%,#32658e 65.1%,#443a83 66.8%,#472e7c 68.3%,#46337f 69%,#3e4a89 70.1%,#24868e 71.9%,#1fa287 72.6%,#2cb17e 72.9%,#46c06f 73.3%,#69cd5b 73.7%,#c5e021 74.4%,#f6e620 74.7%,#fde725 75.1%,#fde725 99.8%)"></i><i style="background:linear-gradient(90deg,#fde725 0.2%,#fde725 26.7%,#cde11d 27.1%,#6ece58 27.8%,#2eb37c 28.5%,#20a386 28.9%,#24878e 29.6%,#3e4989 31.4%,#46327e 32.4%,#472d7b 33.2%,#472e7c 33.9%,#424086 34.9%,#32648e 36.4%,#1e9c89 38.5%,#26ad81 39.2%,#58c765 41%,#67cc5c 42.8%,#63cb5f 43.9%,#54c568 45%,#2cb17e 46.8%,#1fa287 48.6%,#1e9d89 49.6%,#1f9f88 52.2%,#2ab07f 54.3%,#52c569 56.1%,#63cb5f 57.2%,#65cb5e 59%,#5ac864 60%,#29af7f 61.8%,#1f9f88 62.5%,#31688e 64.7%,#443b84 66.5%,#472f7d 67.2%,#472d7b 68.3%,#453581 69%,#404688 69.7%,#21908d 71.9%,#1f9f88 72.2%,#27ad81 72.6%,#3fbc73 72.9%,#60ca60 73.3%,#bade28 74%,#ece51b 74.4%,#fde725 74.7%,#fde725 99.8%)"></i><i style="background:linear-gradient(90deg,#fde725 0.2%,#fde725 26.7%,#f4e61e 27.1%,#c2df23 27.4%,#90d743 27.8%,#40bd72 28.5%,#28ae80 28.9%,#1fa088 29.2%,#26828e 29.9%,#404688 31.7%,#463480 32.4%,#472a7a 33.5%,#472e7c 34.2%,#424186 35.3%,#31678e 36.7%,#1f9e89 38.9%,#28ae80 39.6%,#50c46a 41%,#5cc863 41.8%,#60ca60 43.5%,#58c765 44.6%,#2eb37c 46.8%,#1fa287 49.3%,#1fa187 51.8%,#2fb47c 54.7%,#56c667 56.5%,#5ec962 57.2%,#60ca60 58.6%,#58c765 59.7%,#37b878 61.1%,#1fa187 62.2%,#306a8e 64.3%,#453581 66.5%,#472a7a 67.6%,#472d7b 68.3%,#414287 69.4%,#277e8e 71.1%,#1f9a8a 71.9%,#23a983 72.2%,#37b878 72.6%,#58c765 72.9%,#81d34d 73.3%,#e2e418 74%,#fde725 74.4%,#fde725 99.8%)"></i><i style="background:linear-gradient(90deg,#fde725 0.2%,#fde725 27.1%,#eae51a 27.4%,#b8de29 27.8%,#86d549 28.1%,#3aba76 28.9%,#25ab82 29.2%,#1e9b8a 29.6%,#32648e 31%,#424186 32.1%,#46307e 32.8%,#482979 33.9%,#443a83 35.3%,#30698e 37.1%,#1fa188 39.2%,#35b779 40.3%,#50c46a 41.4%,#5cc863 43.5%,#54c568 44.6%,#38b977 46.1%,#31b57b 47.5%,#22a884 48.9%,#21a685 51.8%,#32b67a 53.9%,#35b779 55%,#4cc26c 56.1%,#5ac864 57.2%,#5ac864 59%,#4cc26c 60%,#3aba76 60.8%,#25ac82 61.5%,#1e9b8a 62.2%,#2f6c8e 64%,#453581 66.1%,#482979 67.6%,#453581 68.6%,#3f4889 69.4%,#24878e 71.1%,#21a585 71.9%,#31b57b 72.2%,#4ec36b 72.6%,#75d054 72.9%,#d8e219 73.7%,#fde725 74%,#fde725 99.8%)"></i><i style="background:linear-gradient(90deg,#fde725 0.2%,#fde725 27.4%,#dfe318 27.8%,#7cd250 28.5%,#54c568 28.9%,#34b679 29.2%,#22a785 29.6%,#23898e 30.3%,#3e4989 32.1%,#453581 32.8%,#482878 33.9%,#482979 34.6%,#46337f 35.3%,#306a8e 37.5%,#1fa287 39.6%,#38b977 40.7%,#58c765 42.1%,#5ec962 43.5%,#42be71 45.7%,#3fbc73 47.1%,#28ae80 49.3%,#26ad81 51.1%,#2cb17e 52.5%,#3fbc73 53.9%,#44bf70 55.7%,#58c765 56.8%,#5ec962 58.2%,#54c568 59.3%,#46c06f 60%,#27ad81 61.1%,#1e9d89 61.8%,#32648e 64%,#433e85 65.4%,#472a7a 66.5%,#482878 67.2%,#472d7b 67.9%,#404588 69%,#25848e 70.8%,#1fa187 71.5%,#2cb17e 71.9%,#48c16e 72.2%,#6ece58 72.6%,#cde11d 73.3%,#fde725 73.7%,#fde725 99.8%)"></i><i style="background:linear-gradient(90deg,#fde725 0.2%,#fde725 27.8%,#d5e21a 28.1%,#73d056 28.9%,#4cc26c 29.2%,#2fb47c 29.6%,#20a486 29.9%,#1f958b 30.3%,#2f6c8e 31.4%,#433d84 32.8%,#482979 33.9%,#482677 34.6%,#443b84 36%,#2f6b8e 37.8%,#1f9a8a 39.6%,#26ad81 40.3%,#58c765 42.1%,#63cb5f 43.5%,#54c568 45%,#52c569 47.1%,#37b878 49.3%,#34b679 51.1%,#3bbb75 52.5%,#52c569 53.9%,#54c568 56.5%,#60ca60 57.2%,#63cb5f 58.2%,#4ac16d 59.7%,#29af7f 60.8%,#1f9e89 61.5%,#32648e 63.6%,#433e85 65.1%,#472a7a 66.1%,#482677 66.8%,#443983 68.3%,#375b8d 69.4%,#21908d 70.8%,#1f9f88 71.1%,#28ae80 71.5%,#40bd72 71.9%,#65cb5e 72.2%,#c2df23 72.9%,#f6e620 73.3%,#fde725 73.7%,#fde725 99.8%)"></i><i style="background:linear-gradient(90deg,#fde725 0.2%,#fbe723 28.1%,#cae11f 28.5%,#98d83e 28.9%,#46c06f 29.6%,#2cb17e 29.9%,#1fa187 30.3%,#25848e 31%,#404588 32.8%,#46337f 33.5%,#482677 34.6%,#46337f 36%,#2f6b8e 38.2%,#1e9c89 40%,#27ad81 40.7%,#3fbc73 41.4%,#56c667 42.1%,#67cc5c 43.2%,#65cb5e 46.8%,#4cc26c 48.9%,#46c06f 50%,#48c16e 51.8%,#65cb5e 54.3%,#67cc5c 57.9%,#60ca60 58.6%,#2ab07f 60.4%,#1f9f88 61.1%,#32658e 63.3%,#423f85 64.7%,#472f7d 65.4%,#482677 66.5%,#472a7a 67.2%,#424186 68.3%,#32658e 69.4%,#218e8d 70.4%,#1e9c89 70.8%,#25ac82 71.1%,#3bbb75 71.5%,#5cc863 71.9%,#b8de29 72.6%,#ece51b 72.9%,#fde725 73.3%,#fde725 99.8%)"></i><i style="background:linear-gradient(90deg,#fde725 0.2%,#fde725 28.1%,#f1e51d 28.5%,#c0df25 28.9%,#63cb5f 29.6%,#40bd72 29.9%,#27ad81 30.3%,#1f9f88 30.6%,#31678e 32.1%,#443983 33.5%,#482576 34.9%,#46337f 36.4%,#2f6c8e 38.5%,#1e9d89 40.3%,#28ae80 41%,#50c46a 42.1%,#63cb5f 42.8%,#70cf57 44.3%,#73d056 47.1%,#5ac864 50%,#5ec962 52.2%,#73d056 54.3%,#73d056 56.1%,#69cd5b 57.9%,#5ec962 58.6%,#46c06f 59.3%,#23a983 60.4%,#1fa088 60.8%,#32658e 62.9%,#423f85 64.3%,#482979 65.4%,#482576 66.1%,#472f7d 67.2%,#3e4a89 68.3%,#228b8d 70.1%,#23a983 70.8%,#37b878 71.1%,#56c667 71.5%,#7fd34e 71.9%,#e2e418 72.6%,#fde725 72.9%,#fde725 99.8%)"></i><i style="background:linear-gradient(90deg,#fde725 0.2%,#fde725 28.5%,#e7e419 28.9%,#b5de2b 29.2%,#86d549 29.6%,#3aba76 30.3%,#25ab82 30.6%,#1e9c89 31%,#32658e 32.4%,#424186 33.5%,#472a7a 34.6%,#482576 35.7%,#443b84 37.1%,#2f6c8e 38.9%,#1f9e89 40.7%,#2ab07f 41.4%,#54c568 42.5%,#69cd5b 43.2%,#75d054 43.9%,#7cd250 45%,#7cd250 47.5%,#6ece58 49.6%,#6ece58 51.4%,#7cd250 53.6%,#7cd250 56.1%,#73d056 57.5%,#58c765 58.6%,#2eb37c 59.7%,#1fa188 60.4%,#31668e 62.5%,#472f7d 64.7%,#482576 66.1%,#463480 67.2%,#3f4889 67.9%,#23888e 69.7%,#21a685 70.4%,#31b57b 70.8%,#50c46a 71.1%,#75d054 71.5%,#d8e219 72.2%,#fde725 72.6%,#fde725 99.8%)"></i><i style="background:linear-gradient(90deg,#fde725 0.2%,#fde725 28.9%,#dde318 29.2%,#7cd250 29.9%,#54c568 30.3%,#35b779 30.6%,#22a884 31%,#1f998a 31.4%,#2d708e 32.4%,#424086 33.9%,#472e7c 34.6%,#482475 35.7%,#482878 36.4%,#443b84 37.5%,#2e6d8e 39.2%,#1f9f88 41%,#2cb17e 41.8%,#70cf57 43.5%,#81d34d 44.6%,#86d549 45.7%,#7fd34e 49.6%,#86d549 55.4%,#7fd34e 56.8%,#73d056 57.5%,#4ec36b 58.6%,#2fb47c 59.3%,#1fa187 60%,#31668e 62.2%,#423f85 63.6%,#482979 64.7%,#482475 65.4%,#46337f 66.8%,#2f6b8e 68.6%,#1fa287 70.1%,#2db27d 70.4%,#48c16e 70.8%,#6ece58 71.1%,#cde11d 71.9%,#fde725 72.2%,#fde725 99.8%)"></i><i style="background:linear-gradient(90deg,#fde725 0.2%,#fde725 29.2%,#d2e21b 29.6%,#75d054 30.3%,#4ec36b 30.6%,#31b57b 31%,#21a585 31.4%,#1f968b 31.7%,#3a548c 33.5%,#463480 34.6%,#482878 35.3%,#482475 36.4%,#463480 37.5%,#32648e 39.2%,#1fa088 41.4%,#2db27d 42.1%,#69cd5b 43.5%,#7fd34e 44.3%,#8ed645 45.7%,#8ed645 55.4%,#86d549 56.5%,#7ad151 57.2%,#52c569 58.2%,#32b67a 59%,#1fa287 59.7%,#31678e 61.8%,#472f7d 64%,#482576 64.7%,#482475 65.4%,#472a7a 66.1%,#443a83 66.8%,#30698e 68.3%,#1fa088 69.7%,#29af7f 70.1%,#42be71 70.4%,#65cb5e 70.8%,#c2df23 71.5%,#f4e61e 71.9%,#fde725 72.2%,#fde725 99.8%)"></i><i style="background:linear-gradient(90deg,#fde725 0.2%,#fbe723 29.6%,#cae11f 29.9%,#6ccd5a 30.6%,#48c16e 31%,#2db27d 31.4%,#1fa287 31.7%,#2f6b8e 33.2%,#46337f 34.9%,#482677 35.7%,#482374 36.4%,#482677 37.1%,#463480 37.8%,#32648e 39.6%,#1fa188 41.8%,#2fb47c 42.5%,#7cd250 44.3%,#90d743 45.3%,#98d83e 47.1%,#98d83e 53.9%,#89d548 56.5%,#56c667 57.9%,#34b679 58.6%,#20a386 59.3%,#21908d 60%,#355e8d 61.8%,#472f7d 63.6%,#482374 64.7%,#482979 65.8%,#414287 66.8%,#218f8d 69%,#1f9e89 69.4%,#26ad81 69.7%,#3dbc74 70.1%,#5ec962 70.4%,#b8de29 71.1%,#eae51a 71.5%,#fde725 71.9%,#fde725 99.8%)"></i><i style="background:linear-gradient(90deg,#fde725 0.2%,#fde725 29.6%,#f1e51d 29.9%,#c0df25 30.3%,#8ed645 30.6%,#65cb5e 31%,#40bd72 31.4%,#28ae80 31.7%,#1fa088 32.1%,#21918c 32.4%,#365d8d 33.9%,#443a83 34.9%,#472a7a 35.7%,#482374 36.4%,#482677 37.5%,#463480 38.2%,#32658e 40%,#1fa187 42.1%,#31b57b 42.8%,#52c569 43.5%,#75d054 44.3%,#8bd646 45%,#98d83e 45.7%,#a0da39 47.1%,#a0da39 53.9%,#95d840 55.7%,#86d549 56.5%,#7ad151 56.8%,#35b779 58.2%,#20a486 59%,#21918c 59.7%,#355e8d 61.5%,#472f7d 63.3%,#482374 64.3%,#482475 65.1%,#453781 66.1%,#32658e 67.6%,#1e9b8a 69%,#24aa83 69.4%,#37b878 69.7%,#56c667 70.1%,#7fd34e 70.4%,#dfe318 71.1%,#fde725 71.5%,#fde725 99.8%)"></i><i style="background:linear-gradient(90deg,#fde725 0.2%,#fde725 29.9%,#e7e419 30.3%,#b5de2b 30.6%,#86d549 31%,#5cc863 31.4%,#3bbb75 31.7%,#25ac82 32.1%,#1e9d89 32.4%,#31678e 33.9%,#414287 34.9%,#482979 36%,#482173 37.1%,#482677 37.8%,#463480 38.5%,#32658e 40.3%,#218e8d 41.8%,#1fa287 42.5%,#32b67a 43.2%,#89d548 45%,#9bd93c 45.7%,#a8db34 47.1%,#a8db34 53.9%,#a5db36 54.7%,#95d840 55.7%,#7fd34e 56.5%,#5cc863 57.2%,#29af7f 58.2%,#21a585 58.6%,#1e9b8a 59%,#30698e 60.8%,#453781 62.5%,#482878 63.3%,#482173 64.3%,#472d7b 65.4%,#423f85 66.1%,#2e6f8e 67.6%,#1f988b 68.6%,#22a785 69%,#32b67a 69.4%,#50c46a 69.7%,#77d153 70.1%,#d5e21a 70.8%,#fde725 71.1%,#fde725 99.8%)"></i><i style="background:linear-gradient(90deg,#fde725 0.2%,#fde725 30.3%,#dde318 30.6%,#7cd250 31.4%,#56c667 31.7%,#37b878 32.1%,#23a983 32.4%,#1f9a8a 32.8%,#277e8e 33.5%,#424186 35.3%,#472e7c 36%,#482173 37.1%,#482677 38.2%,#463480 38.9%,#31668e 40.7%,#1fa287 42.8%,#34b679 43.5%,#7fd34e 45%,#9bd93c 45.7%,#a8db34 46.4%,#b0dd2f 47.5%,#b0dd2f 53.6%,#a5db36 55%,#93d741 55.7%,#60ca60 56.8%,#2ab07f 57.9%,#1e9c89 58.6%,#30698e 60.4%,#453781 62.2%,#482878 62.9%,#482173 64%,#482677 64.7%,#433d84 65.8%,#2e6d8e 67.2%,#1f958b 68.3%,#20a486 68.6%,#2eb37c 69%,#4ac16d 69.4%,#6ece58 69.7%,#cae11f 70.4%,#fbe723 70.8%,#fde725 71.1%,#fde725 99.8%)"></i><i style="background:linear-gradient(90deg,#fde725 0.2%,#fde725 30.6%,#d2e21b 31%,#75d054 31.7%,#4ec36b 32.1%,#31b57b 32.4%,#21a685 32.8%,#23898e 33.5%,#423f85 35.7%,#482677 36.7%,#482071 37.5%,#482173 38.2%,#463480 39.2%,#31668e 41%,#218f8d 42.5%,#20a386 43.2%,#35b779 43.9%,#84d44b 45.3%,#aadc32 46.4%,#b8de29 47.8%,#b8de29 53.6%,#aadc32 54.7%,#98d83e 55.4%,#77d153 56.1%,#3bbb75 57.2%,#22a785 57.9%,#1e9d89 58.2%,#23888e 59%,#39558c 60.8%,#472f7d 62.2%,#482374 62.9%,#482071 63.6%,#472a7a 64.7%,#443b84 65.4%,#2f6b8e 66.8%,#1fa187 68.3%,#2ab07f 68.6%,#42be71 69%,#90d743 69.7%,#c2df23 70.1%,#f1e51d 70.4%,#fde725 70.8%,#fde725 99.8%)"></i><i style="background:linear-gradient(90deg,#fde725 0.2%,#fde725 30.6%,#f8e621 31%,#c8e020 31.4%,#6ccd5a 32.1%,#48c16e 32.4%,#2db27d 32.8%,#20a386 33.2%,#24878e 33.9%,#3f4889 35.7%,#482576 37.1%,#482071 37.8%,#482173 38.5%,#463480 39.6%,#31668e 41.4%,#218f8d 42.8%,#20a486 43.5%,#35b779 44.3%,#81d34d 45.7%,#a2da37 46.8%,#b0dd2f 48.2%,#b0dd2f 52.9%,#aadc32 53.9%,#93d741 55%,#63cb5f 56.1%,#2cb17e 57.2%,#1e9d89 57.9%,#23888e 58.6%,#39558c 60.4%,#472f7d 61.8%,#482374 62.5%,#482071 63.3%,#46307e 64.7%,#365c8d 66.1%,#1f9f88 67.9%,#27ad81 68.3%,#3dbc74 68.6%,#5ec962 69%,#b8de29 69.7%,#e7e419 70.1%,#fde725 70.4%,#fde725 99.8%)"></i><i style="background:linear-gradient(90deg,#fde725 0.2%,#fde725 31%,#efe51c 31.4%,#c0df25 31.7%,#65cb5e 32.4%,#42be71 32.8%,#2ab07f 33.2%,#1fa187 33.5%,#2f6b8e 34.9%,#443b84 36.4%,#472a7a 37.1%,#482071 38.2%,#482173 38.9%,#463480 40%,#31668e 41.8%,#218f8d 43.2%,#20a386 43.9%,#27ad81 44.3%,#46c06f 45%,#84d44b 46.4%,#98d83e 47.5%,#9dd93b 48.6%,#9dd93b 52.5%,#95d840 53.9%,#89d548 54.7%,#5ec962 55.7%,#2cb17e 56.8%,#1e9d89 57.5%,#23888e 58.2%,#39558c 60%,#472f7d 61.5%,#481f70 62.9%,#482878 64%,#414287 65.1%,#31678e 66.1%,#1e9c89 67.6%,#25ab82 67.9%,#38b977 68.3%,#7fd34e 69%,#dfe318 69.7%,#fde725 70.1%,#fde725 99.8%)"></i><i style="background:linear-gradient(90deg,#fde725 0.2%,#fde725 31.4%,#e5e419 31.7%,#b5de2b 32.1%,#5ec962 32.8%,#3dbc74 33.2%,#27ad81 33.5%,#1f9f88 33.9%,#21918c 34.2%,#365d8d 35.7%,#443a83 36.7%,#482979 37.5%,#481f70 38.5%,#482173 39.2%,#463480 40.3%,#31668e 42.1%,#218f8d 43.5%,#20a386 44.3%,#27ad81 44.6%,#52c569 45.7%,#63cb5f 46.1%,#77d153 46.8%,#84d44b 47.5%,#8bd646 48.9%,#8bd646 52.2%,#81d34d 53.9%,#73d056 54.7%,#58c765 55.4%,#2ab07f 56.5%,#1e9d89 57.2%,#23888e 57.9%,#39558c 59.7%,#472f7d 61.1%,#481f70 62.5%,#482374 63.3%,#453781 64.3%,#32658e 65.8%,#228c8d 66.8%,#22a884 67.6%,#34b679 67.9%,#52c569 68.3%,#77d153 68.6%,#d5e21a 69.4%,#fde725 69.7%,#fde725 99.8%)"></i><i style="background:linear-gradient(90deg,#fde725 0.2%,#fde725 31.7%,#dae319 32.1%,#7fd34e 32.8%,#38b977 33.5%,#25ab82 33.9%,#1e9c89 34.2%,#375b8d 36%,#46307e 37.5%,#482071 38.5%,#481f70 39.2%,#482576 40%,#463480 40.7%,#365c8d 42.1%,#218f8d 43.9%,#1fa287 44.6%,#31b57b 45.3%,#5ac864 46.4%,#6ccd5a 47.1%,#75d054 47.8%,#7ad151 51.8%,#73d056 53.6%,#67cc5c 54.3%,#52c569 55%,#29af7f 56.1%,#1e9d89 56.8%,#23888e 57.5%,#39558c 59.3%,#472f7d 60.8%,#481f70 62.2%,#482173 62.9%,#453581 64%,#2d708e 65.8%,#1f978b 66.8%,#21a585 67.2%,#2fb47c 67.6%,#4cc26c 67.9%,#70cf57 68.3%,#cae11f 69%,#f8e621 69.4%,#fde725 69.7%,#fde725 99.8%)"></i><i style="background:linear-gradient(90deg,#fde725 0.2%,#fde725 32.1%,#d2e21b 32.4%,#75d054 33.2%,#34b679 33.9%,#22a884 34.2%,#228c8d 34.9%,#32658e 36%,#453882 37.5%,#482878 38.2%,#481f70 39.2%,#482576 40.3%,#463480 41%,#31678e 42.8%,#1fa287 45%,#2fb47c 45.7%,#52c569 46.8%,#63cb5f 47.8%,#67cc5c 48.6%,#67cc5c 52.5%,#5cc863 53.9%,#28ae80 55.7%,#1e9c89 56.5%,#23888e 57.2%,#39558c 59%,#472f7d 60.4%,#481f70 61.5%,#481f70 62.2%,#482576 62.9%,#463480 63.6%,#2e6e8e 65.4%,#1f948c 66.5%,#20a386 66.8%,#2cb17e 67.2%,#46c06f 67.6%,#69cd5b 67.9%,#c0df25 68.6%,#f1e51d 69%,#fde725 69.4%,#fde725 99.8%)"></i><i style="background:linear-gradient(90deg,#fde725 0.2%,#fde725 32.1%,#f6e620 32.4%,#c8e020 32.8%,#98d83e 33.2%,#4ac16d 33.9%,#2fb47c 34.2%,#21a585 34.6%,#23898e 35.3%,#424086 37.5%,#482677 38.5%,#481d6f 39.6%,#482576 40.7%,#453581 41.4%,#365d8d 42.8%,#1f988b 45%,#24aa83 45.7%,#48c16e 47.1%,#58c765 48.9%,#56c667 52.9%,#50c46a 53.6%,#3aba76 54.7%,#26ad81 55.4%,#1e9b8a 56.1%,#39558c 58.6%,#472f7d 60%,#481d6f 61.5%,#482071 62.2%,#46337f 63.3%,#355f8d 64.7%,#1fa188 66.5%,#29af7f 66.8%,#40bd72 67.2%,#60ca60 67.6%,#89d548 67.9%,#b8de29 68.3%,#e7e419 68.6%,#fde725 69%,#fde725 99.8%)"></i><i style="background:linear-gradient(90deg,#fde725 0.2%,#fde725 32.4%,#ece51b 32.8%,#bddf26 33.2%,#67cc5c 33.9%,#44bf70 34.2%,#2cb17e 34.6%,#20a386 34.9%,#1f958b 35.3%,#39558c 37.1%,#453581 38.2%,#482173 39.2%,#481d6f 40.3%,#453581 41.8%,#31678e 43.5%,#1f978b 45.3%,#22a884 46.1%,#31b57b 46.8%,#3fbc73 47.5%,#48c16e 48.6%,#4ac16d 51.8%,#44bf70 53.2%,#2cb17e 54.7%,#1f9a8a 55.7%,#39558c 58.2%,#472f7d 59.7%,#481f70 60.8%,#481d6f 61.5%,#482475 62.2%,#443b84 63.3%,#26828e 65.4%,#1f9e89 66.1%,#26ad81 66.5%,#3bbb75 66.8%,#5ac864 67.2%,#81d34d 67.6%,#dde318 68.3%,#fde725 68.6%,#fde725 99.8%)"></i><i style="background:linear-gradient(90deg,#fde725 0.2%,#fde725 32.8%,#e5e419 33.2%,#b5de2b 33.5%,#60ca60 34.2%,#3fbc73 34.6%,#28ae80 34.9%,#1fa188 35.3%,#20928c 35.7%,#3a548c 37.5%,#472c7a 38.9%,#481d6f 40%,#482576 41.4%,#365d8d 43.5%,#1f968b 45.7%,#26ad81 46.8%,#38b977 48.2%,#3dbc74 51.4%,#37b878 53.2%,#2eb37c 53.9%,#1f998a 55.4%,#306a8e 57.2%,#3e4c8a 58.2%,#472f7d 59.3%,#481d6f 60.8%,#482071 61.5%,#46307e 62.5%,#365c8d 64%,#1e9c89 65.8%,#24aa83 66.1%,#37b878 66.5%,#54c568 66.8%,#d2e21b 67.9%,#fde725 68.3%,#fde725 99.8%)"></i><i style="background:linear-gradient(90deg,#fde725 0.2%,#fde725 33.2%,#dae319 33.5%,#7fd34e 34.2%,#3aba76 34.9%,#26ad81 35.3%,#1f9e89 35.7%,#355e8d 37.5%,#46337f 38.9%,#481d6f 40.3%,#482576 41.8%,#365d8d 43.9%,#1e9d89 46.4%,#27ad81 47.5%,#31b57b 49.3%,#31b57b 52.2%,#25ab82 53.9%,#1f988b 55%,#306a8e 56.8%,#3e4c8a 57.9%,#472f7d 59%,#481f70 60%,#481d6f 60.8%,#472f7d 62.2%,#31668e 64%,#228c8d 65.1%,#22a785 65.8%,#32b67a 66.1%,#4ec36b 66.5%,#9bd93c 67.2%,#cae11f 67.6%,#f8e621 67.9%,#fde725 68.3%,#fde725 99.8%)"></i><i style="background:linear-gradient(90deg,#fde725 0.2%,#fde725 33.5%,#d0e11c 33.9%,#77d153 34.6%,#54c568 34.9%,#37b878 35.3%,#24aa83 35.7%,#1e9c89 36%,#31688e 37.5%,#443b84 38.9%,#482475 40%,#481c6e 41%,#482576 42.1%,#365d8d 44.3%,#228b8d 46.1%,#1fa188 47.1%,#26ad81 48.6%,#25ac82 52.9%,#1f968b 54.7%,#306a8e 56.5%,#3e4c8a 57.5%,#472f7d 58.6%,#481f70 59.7%,#481c6e 60.4%,#482173 61.1%,#424186 62.5%,#23898e 64.7%,#21a585 65.4%,#2eb37c 65.8%,#48c16e 66.1%,#69cd5b 66.5%,#c0df25 67.2%,#efe51c 67.6%,#fde725 67.9%,#fde725 99.8%)"></i><i style="background:linear-gradient(90deg,#fde725 0.2%,#fde725 33.5%,#f4e61e 33.9%,#c8e020 34.2%,#70cf57 34.9%,#4ec36b 35.3%,#32b67a 35.7%,#22a785 36%,#1f998a 36.4%,#31678e 37.8%,#443983 39.2%,#482374 40.3%,#481c6e 41%,#482576 42.5%,#365d8d 44.6%,#26828e 46.1%,#1e9d89 47.5%,#22a884 50%,#22a785 52.2%,#1f9f88 53.6%,#228d8d 54.7%,#306a8e 56.1%,#3e4c8a 57.2%,#472f7d 58.2%,#481d6f 59.3%,#481c6e 60%,#482677 61.1%,#424086 62.2%,#2e6f8e 63.6%,#1fa287 65.1%,#2ab07f 65.4%,#42be71 65.8%,#8bd646 66.5%,#b8de29 66.8%,#e5e419 67.2%,#fde725 67.6%,#fde725 99.8%)"></i><i style="background:linear-gradient(90deg,#fde725 0.2%,#fde725 33.9%,#ece51b 34.2%,#bddf26 34.6%,#90d743 34.9%,#48c16e 35.7%,#2eb37c 36%,#21a585 36.4%,#1f978b 36.7%,#32658e 38.2%,#453882 39.6%,#482173 40.7%,#481c6e 41.4%,#482576 42.8%,#365c8d 45%,#26818e 46.4%,#1e9c89 48.2%,#1fa188 51.8%,#1f9a8a 53.2%,#228b8d 54.3%,#39558c 56.5%,#482173 58.6%,#481c6e 59.7%,#482071 60.4%,#453581 61.5%,#2e6d8e 63.3%,#20928c 64.3%,#1fa088 64.7%,#27ad81 65.1%,#3dbc74 65.4%,#5cc863 65.8%,#addc30 66.5%,#dde318 66.8%,#fde725 67.2%,#fde725 99.8%)"></i><i style="background:linear-gradient(90deg,#fde725 0.2%,#fde725 34.2%,#dfe318 34.6%,#86d549 35.3%,#40bd72 36%,#29af7f 36.4%,#1fa187 36.7%,#2e6e8e 38.2%,#424086 39.6%,#482677 40.7%,#481c6e 41.8%,#481d6f 42.5%,#472f7d 43.5%,#3a548c 45%,#2d718e 46.1%,#218e8d 47.5%,#1e9b8a 49.6%,#1e9b8a 51.4%,#21908d 53.6%,#38598c 56.1%,#472a7a 57.9%,#481c6e 59.3%,#482475 60.4%,#46337f 61.1%,#355e8d 62.5%,#1e9d89 64.3%,#25ab82 64.7%,#37b878 65.1%,#54c568 65.4%,#77d153 65.8%,#d0e11c 66.5%,#fde725 66.8%,#fde725 99.8%)"></i><i style="background:linear-gradient(90deg,#fde725 0.2%,#fde725 34.6%,#d2e21b 34.9%,#56c667 36%,#38b977 36.4%,#25ac82 36.7%,#1f9e89 37.1%,#2f6b8e 38.5%,#463480 40.3%,#481d6f 41.8%,#481f70 42.8%,#472a7a 43.5%,#38598c 45.3%,#297b8e 46.8%,#228c8d 47.8%,#1f958b 49.6%,#1f958b 51.4%,#21918c 52.9%,#25848e 53.9%,#365c8d 55.7%,#472d7b 57.5%,#481c6e 59%,#481f70 59.7%,#46307e 60.8%,#31678e 62.5%,#228c8d 63.6%,#22a785 64.3%,#31b57b 64.7%,#4cc26c 65.1%,#95d840 65.8%,#c2df23 66.1%,#f1e51d 66.5%,#fde725 66.8%,#fde725 99.8%)"></i><i style="background:linear-gradient(90deg,#fde725 0.2%,#fde725 34.6%,#f4e61e 34.9%,#c8e020 35.3%,#70cf57 36%,#32b67a 36.7%,#22a884 37.1%,#1f9a8a 37.5%,#31678e 38.9%,#443b84 40.3%,#472a7a 41%,#481d6f 42.1%,#482677 43.5%,#3f4889 45%,#2e6e8e 46.4%,#26828e 47.5%,#218e8d 48.9%,#21918c 50.7%,#228b8d 52.9%,#277e8e 53.9%,#3e4c8a 56.1%,#482979 57.5%,#481d6f 59%,#482878 60%,#424186 61.1%,#2e6f8e 62.5%,#1fa287 64%,#2cb17e 64.3%,#42be71 64.7%,#8bd646 65.4%,#b8de29 65.8%,#e5e419 66.1%,#fde725 66.5%,#fde725 99.8%)"></i><i style="background:linear-gradient(90deg,#fde725 0.2%,#fde725 34.9%,#e7e419 35.3%,#bade28 35.7%,#65cb5e 36.4%,#44bf70 36.7%,#2db27d 37.1%,#20a386 37.5%,#1f968b 37.8%,#32648e 39.2%,#453882 40.7%,#482071 42.1%,#481d6f 42.8%,#482979 43.9%,#39558c 45.7%,#2d708e 46.8%,#26818e 47.8%,#228b8d 50.7%,#24878e 52.5%,#277e8e 53.6%,#404688 56.1%,#482576 57.5%,#481d6f 58.6%,#482173 59.3%,#453581 60.4%,#2f6c8e 62.2%,#20928c 63.3%,#26ad81 64%,#3bbb75 64.3%,#5ac864 64.7%,#7fd34e 65.1%,#d8e219 65.8%,#fde725 66.1%,#fde725 99.8%)"></i><i style="background:linear-gradient(90deg,#fde725 0.2%,#fde725 35.3%,#dae319 35.7%,#81d34d 36.4%,#5cc863 36.7%,#3dbc74 37.1%,#27ad81 37.5%,#1fa088 37.8%,#20928c 38.2%,#2e6d8e 39.2%,#424086 40.7%,#482878 41.8%,#481f70 42.8%,#482576 43.9%,#404688 45.3%,#2d718e 47.1%,#297b8e 47.8%,#25858e 50.4%,#26828e 52.5%,#2a788e 53.6%,#3e4989 55.7%,#482878 57.2%,#481f70 57.9%,#482173 59%,#46337f 60%,#404688 60.8%,#30698e 61.8%,#1e9b8a 63.3%,#23a983 63.6%,#34b679 64%,#73d056 64.7%,#cae11f 65.4%,#f8e621 65.8%,#fde725 66.1%,#fde725 99.8%)"></i><i style="background:linear-gradient(90deg,#fde725 0.2%,#fbe723 35.7%,#cde11d 36%,#75d054 36.7%,#52c569 37.1%,#35b779 37.5%,#24aa83 37.8%,#1e9c89 38.2%,#306a8e 39.6%,#3f4788 40.7%,#472c7a 41.8%,#482173 42.5%,#482071 43.5%,#482878 44.3%,#3e4989 45.7%,#2b758e 47.8%,#287d8e 48.9%,#27808e 51.1%,#297a8e 52.9%,#2e6d8e 53.9%,#3d4d8a 55.4%,#472a7a 56.8%,#481f70 57.9%,#482475 59%,#46307e 59.7%,#32658e 61.5%,#1f978b 62.9%,#21a585 63.3%,#2eb37c 63.6%,#48c16e 64%,#69cd5b 64.3%,#bddf26 65.1%,#ece51b 65.4%,#fde725 65.8%,#fde725 99.8%)"></i><i style="background:linear-gradient(90deg,#fde725 0.2%,#fde725 35.7%,#efe51c 36%,#c0df25 36.4%,#93d741 36.7%,#4ac16d 37.5%,#2fb47c 37.8%,#21a685 38.2%,#228b8d 38.9%,#31668e 40%,#443a83 41.4%,#472a7a 42.1%,#482071 43.2%,#472a7a 44.6%,#3e4c8a 46.1%,#2e6f8e 47.8%,#297a8e 50%,#2d718e 53.2%,#34608d 54.3%,#404688 55.4%,#482677 56.8%,#482173 58.2%,#482878 59%,#424186 60%,#2e6e8e 61.5%,#1fa187 62.9%,#29af7f 63.3%,#3fbc73 63.6%,#5ec962 64%,#dfe318 65.1%,#fde725 65.4%,#fde725 99.8%)"></i><i style="background:linear-gradient(90deg,#fde725 0.2%,#fde725 36%,#e2e418 36.4%,#b2dd2d 36.7%,#60ca60 37.5%,#40bd72 37.8%,#2ab07f 38.2%,#1fa187 38.5%,#2e6f8e 40%,#424186 41.4%,#482979 42.5%,#482071 43.5%,#482677 44.6%,#404688 46.1%,#30698e 47.8%,#2b748e 50%,#2f6b8e 53.2%,#3e4989 55%,#482979 56.5%,#482173 57.2%,#482374 58.2%,#472d7b 59%,#3f4889 60%,#2f6b8e 61.1%,#1e9d89 62.5%,#25ab82 62.9%,#38b977 63.3%,#56c667 63.6%,#7ad151 64%,#d2e21b 64.7%,#fde725 65.1%,#fde725 99.8%)"></i><i style="background:linear-gradient(90deg,#fde725 0.2%,#fde725 36.4%,#d5e21a 36.7%,#7cd250 37.5%,#56c667 37.8%,#25ac82 38.5%,#1f9e89 38.9%,#2f6b8e 40.3%,#453581 42.1%,#482173 43.5%,#482979 45%,#3f4889 46.4%,#31678e 48.2%,#2e6f8e 51.1%,#32658e 53.2%,#3e4c8a 54.7%,#482576 56.5%,#482071 57.2%,#482677 58.2%,#443b84 59.3%,#31678e 60.8%,#228c8d 61.8%,#22a785 62.5%,#31b57b 62.9%,#4cc26c 63.3%,#6ece58 63.6%,#c5e021 64.3%,#f1e51d 64.7%,#fde725 65.1%,#fde725 99.8%)"></i><i style="background:linear-gradient(90deg,#fde725 0.2%,#fde725 36.4%,#f4e61e 36.7%,#c8e020 37.1%,#70cf57 37.8%,#32b67a 38.5%,#22a884 38.9%,#1f9a8a 39.2%,#31688e 40.7%,#443b84 42.1%,#482374 43.5%,#482576 45%,#414287 46.4%,#34618d 48.2%,#30698e 51.1%,#355f8d 53.2%,#404588 54.7%,#482878 56.1%,#482173 57.5%,#46307e 58.6%,#414287 59.3%,#32648e 60.4%,#23888e 61.5%,#1fa287 62.2%,#2cb17e 62.5%,#42be71 62.9%,#8bd646 63.6%,#b8de29 64%,#e5e419 64.3%,#fde725 64.7%,#fde725 99.8%)"></i><i style="background:linear-gradient(90deg,#fde725 0.2%,#fde725 36.7%,#e7e419 37.1%,#b8de29 37.5%,#8bd646 37.8%,#44bf70 38.5%,#2cb17e 38.9%,#20a386 39.2%,#1f958b 39.6%,#32648e 41%,#414287 42.1%,#482576 43.5%,#482374 45%,#414487 46.8%,#355e8d 48.6%,#33638d 51.4%,#38598c 53.2%,#404688 54.3%,#482979 55.7%,#482173 57.2%,#482878 57.9%,#423f85 59%,#3a548c 59.7%,#20928c 61.5%,#26ad81 62.2%,#3aba76 62.5%,#58c765 62.9%,#a8db34 63.6%,#d8e219 64%,#fde725 64.3%,#fde725 99.8%)"></i><i style="background:linear-gradient(90deg,#fde725 0.2%,#fde725 37.1%,#d8e219 37.5%,#7fd34e 38.2%,#5ac864 38.5%,#3bbb75 38.9%,#26ad81 39.2%,#1f9f88 39.6%,#25848e 40.3%,#3e4989 42.1%,#472e7c 43.2%,#482173 44.3%,#482475 45.3%,#404588 47.1%,#38588c 48.6%,#365d8d 50%,#38598c 52.5%,#424086 54.3%,#482576 55.7%,#482173 56.8%,#472c7a 57.9%,#404688 59%,#27808e 60.8%,#1f9a8a 61.5%,#22a884 61.8%,#4ec36b 62.5%,#9bd93c 63.3%,#c8e020 63.6%,#f6e620 64%,#fde725 64.3%,#fde725 99.8%)"></i><i style="background:linear-gradient(90deg,#fde725 0.2%,#fde725 37.1%,#d8e219 37.5%,#7fd34e 38.2%,#5ac864 38.5%,#3bbb75 38.9%,#26ad81 39.2%,#1f9f88 39.6%,#25848e 40.3%,#3e4989 42.1%,#472e7c 43.2%,#482173 44.3%,#482475 45.3%,#404588 47.1%,#38588c 48.6%,#365d8d 50%,#38598c 52.5%,#424086 54.3%,#482576 55.7%,#482173 56.8%,#472c7a 57.9%,#404688 59%,#27808e 60.8%,#1f9a8a 61.5%,#22a884 61.8%,#4ec36b 62.5%,#9bd93c 63.3%,#c8e020 63.6%,#f6e620 64%,#fde725 64.3%,#fde725 99.8%)"></i><i style="background:linear-gradient(90deg,#fde725 0.2%,#fde725 37.1%,#d8e219 37.5%,#7fd34e 38.2%,#5ac864 38.5%,#3bbb75 38.9%,#26ad81 39.2%,#1f9f88 39.6%,#25848e 40.3%,#3e4989 42.1%,#472e7c 43.2%,#482173 44.3%,#482475 45.3%,#404588 47.1%,#38588c 48.6%,#365d8d 50%,#38598c 52.5%,#424086 54.3%,#482576 55.7%,#482173 56.8%,#472c7a 57.9%,#404688 59%,#27808e 60.8%,#1f9a8a 61.5%,#22a884 61.8%,#4ec36b 62.5%,#9bd93c 63.3%,#c8e020 63.6%,#f6e620 64%,#fde725 64.3%,#fde725 99.8%)"></i></div></div>
<svg class="l" width="1248" height="768" viewBox="0 0 1248 768" font-family="Liberation Sans, sans-serif">
<path d="M260.8 127.8 L260.8 196.7 L271.9 207.2 L287.3 207.7" stroke="#fff" stroke-width="2.84" fill="none" stroke-linejoin="round" stroke-linecap="butt"/><circle cx="260.8" cy="127.8" r="6.1" fill="#fff"/><circle cx="287.3" cy="207.7" r="6.1" fill="#fff"/><circle cx="262.0" cy="199.4" r="6.1" fill="#f00"/><path d="M582.7 124.9 L582.7 240.5 L608.3 240.5 L614.8 235.5 L624.2 224.3" stroke="#fff" stroke-width="2.84" fill="none" stroke-linejoin="round" stroke-linecap="butt"/><circle cx="582.7" cy="124.9" r="6.1" fill="#fff"/><circle cx="624.2" cy="224.3" r="6.1" fill="#fff"/><circle cx="582.7" cy="221.1" r="6.1" fill="#f00"/><path d="M904.4 123.0 L904.4 189.5 L912.8 195.1 L939.2 195.1 L978.6 216.8 L971.1 226.6" stroke="#fff" stroke-width="2.84" fill="none" stroke-linejoin="round" stroke-linecap="butt"/><circle cx="904.4" cy="123.0" r="6.1" fill="#fff"/><circle cx="971.1" cy="226.6" r="6.1" fill="#fff"/><circle cx="939.2" cy="195.1" r="6.1" fill="#f00"/><path d="M260.8 302.1 L260.6 446.0 L259.4 448.9" stroke="#fff" stroke-width="2.84" fill="none" stroke-linejoin="round" stroke-linecap="butt"/><circle cx="260.8" cy="302.1" r="6.1" fill="#fff"/><circle cx="259.4" cy="448.9" r="6.1" fill="#fff"/><circle cx="259.4" cy="378.2" r="6.1" fill="#f00"/><path d="M582.4 299.6 L582.4 322.3 L581.3 322.3 L581.3 363.3 L582.4 363.3 L582.4 382.4 L589.7 390.6 L620.1 390.6 L620.1 394.9 L618.7 394.9 L618.7 399.3 L617.3 399.3 L617.3 403.6 L616.0 403.6 L616.0 407.9 L614.6 407.9" stroke="#fff" stroke-width="2.84" fill="none" stroke-linejoin="round" stroke-linecap="butt"/><circle cx="582.4" cy="299.6" r="6.1" fill="#fff"/><circle cx="614.6" cy="407.9" r="6.1" fill="#fff"/><circle cx="595.2" cy="387.4" r="6.1" fill="#f00"/><path d="M903.1 299.6 L903.1 336.8 L904.4 336.8 L904.4 378.7 L915.7 386.9 L957.7 387.4 L957.7 391.9 L956.1 391.9 L956.1 396.4 L954.5 396.4 L954.5 400.9 L952.9 400.9 L952.9 405.4 L951.2 405.4 L951.2 409.9 L949.6 409.9 L949.6 414.4 L948.0 414.4 L948.0 418.8 L946.4 418.8" stroke="#fff" stroke-width="2.84" fill="none" stroke-linejoin="round" stroke-linecap="butt"/><circle cx="903.1" cy="299.6" r="6.1" fill="#fff"/><circle cx="946.4" cy="418.8" r="6.1" fill="#fff"/><circle cx="926.9" cy="387.1" r="6.1" fill="#f00"/><path d="M259.4 507.9 L259.4 658.5" stroke="#fff" stroke-width="2.84" fill="none" stroke-linejoin="round" stroke-linecap="butt"/><circle cx="259.4" cy="507.9" r="6.1" fill="#fff"/><circle cx="259.4" cy="658.5" r="6.1" fill="#fff"/><circle cx="259.4" cy="553.5" r="6.1" fill="#f00"/><path d="M581.3 507.9 L581.8 521.7 L581.8 609.8 L580.6 609.8 L580.6 649.6 L582.5 652.3 L582.5 663.2" stroke="#fff" stroke-width="2.84" fill="none" stroke-linejoin="round" stroke-linecap="butt"/><circle cx="581.3" cy="507.9" r="6.1" fill="#fff"/><circle cx="582.5" cy="663.2" r="6.1" fill="#fff"/><circle cx="582.5" cy="581.7" r="6.1" fill="#f00"/><path d="M902.8 507.7 L902.8 555.1 L910.1 560.0 L927.1 561.2 L949.2 562.6 L949.2 567.6 L947.9 567.6 L947.9 572.6 L946.6 572.6 L946.6 577.6 L945.3 577.6 L945.3 582.6 L944.0 582.6 L944.0 587.5 L942.7 587.5 L942.7 592.5 L941.4 592.5 L941.4 597.5 L940.2 597.5 L940.2 602.5 L938.9 602.5 L938.9 607.5 L937.6 607.5 L937.6 612.5 L936.3 612.5 L936.3 617.4 L935.0 617.4" stroke="#fff" stroke-width="2.84" fill="none" stroke-linejoin="round" stroke-linecap="butt"/><circle cx="902.8" cy="507.7" r="6.1" fill="#fff"/><circle cx="935.0" cy="617.4" r="6.1" fill="#fff"/><circle cx="925.2" cy="560.0" r="6.1" fill="#f00"/>
<rect x="106.21" y="60.71" width="305.43" height="195.93" fill="none" stroke="#333" stroke-width="1.42"/><rect x="427.73" y="60.71" width="305.43" height="195.93" fill="none" stroke="#333" stroke-width="1.42"/><rect x="749.25" y="60.71" width="305.43" height="195.93" fill="none" stroke="#333" stroke-width="1.42"/><rect x="106.21" y="272.73" width="305.43" height="195.93" fill="none" stroke="#333" stroke-width="1.42"/><rect x="427.73" y="272.73" width="305.43" height="195.93" fill="none" stroke="#333" stroke-width="1.42"/><rect x="749.25" y="272.73" width="305.43" height="195.93" fill="none" stroke="#333" stroke-width="1.42"/><rect x="106.21" y="484.75" width="305.43" height="195.93" fill="none" stroke="#333" stroke-width="1.42"/><rect x="427.73" y="484.75" width="305.43" height="195.93" fill="none" stroke="#333" stroke-width="1.42"/><rect x="749.25" y="484.75" width="305.43" height="195.93" fill="none" stroke="#333" stroke-width="1.42"/><rect x="106.21" y="15.51" width="305.43" height="43.78" fill="#d9d9d9" stroke="#333" stroke-width="1.42"/><text x="258.93" y="45.50" font-size="23.47" fill="#1a1a1a" text-anchor="middle">b: 0.5</text><rect x="427.73" y="15.51" width="305.43" height="43.78" fill="#d9d9d9" stroke="#333" stroke-width="1.42"/><text x="580.45" y="45.50" font-size="23.47" fill="#1a1a1a" text-anchor="middle">b: 1</text><rect x="749.25" y="15.51" width="305.43" height="43.78" fill="#d9d9d9" stroke="#333" stroke-width="1.42"/><text x="901.97" y="45.50" font-size="23.47" fill="#1a1a1a" text-anchor="middle">b: 1.5</text><rect x="1056.10" y="60.71" width="43.88" height="195.93" fill="#d9d9d9" stroke="#333" stroke-width="1.42"/><text transform="translate(1069.94 158.68) rotate(90)" font-size="23.47" fill="#1a1a1a" text-anchor="middle">k: 0.5</text><rect x="1056.10" y="272.73" width="43.88" height="195.93" fill="#d9d9d9" stroke="#333" stroke-width="1.42"/><text transform="translate(1069.94 370.70) rotate(90)" font-size="23.47" fill="#1a1a1a" text-anchor="middle">k: 1</text><rect x="1056.10" y="484.75" width="43.88" height="195.93" fill="#d9d9d9" stroke="#333" stroke-width="1.42"/><text transform="translate(1069.94 582.71) rotate(90)" font-size="23.47" fill="#1a1a1a" text-anchor="middle">k: 1.5</text>
<text x="91.27" y="257.38" font-size="23.47" fill="#4d4d4d" text-anchor="end">-0.5</text><text x="91.27" y="221.50" font-size="23.47" fill="#4d4d4d" text-anchor="end">0.0</text><text x="91.27" y="185.62" font-size="23.47" fill="#4d4d4d" text-anchor="end">0.5</text><text x="91.27" y="149.73" font-size="23.47" fill="#4d4d4d" text-anchor="end">1.0</text><text x="91.27" y="113.85" font-size="23.47" fill="#4d4d4d" text-anchor="end">1.5</text><text x="91.27" y="77.97" font-size="23.47" fill="#4d4d4d" text-anchor="end">2.0</text><text x="91.27" y="469.40" font-size="23.47" fill="#4d4d4d" text-anchor="end">-0.5</text><text x="91.27" y="433.52" font-size="23.47" fill="#4d4d4d" text-anchor="end">0.0</text><text x="91.27" y="397.64" font-size="23.47" fill="#4d4d4d" text-anchor="end">0.5</text><text x="91.27" y="361.75" font-size="23.47" fill="#4d4d4d" text-anchor="end">1.0</text><text x="91.27" y="325.87" font-size="23.47" fill="#4d4d4d" text-anchor="end">1.5</text><text x="91.27" y="289.99" font-size="23.47" fill="#4d4d4d" text-anchor="end">2.0</text><text x="91.27" y="681.42" font-size="23.47" fill="#4d4d4d" text-anchor="end">-0.5</text><text x="91.27" y="645.54" font-size="23.47" fill="#4d4d4d" text-anchor="end">0.0</text><text x="91.27" y="609.66" font-size="23.47" fill="#4d4d4d" text-anchor="end">0.5</text><text x="91.27" y="573.77" font-size="23.47" fill="#4d4d4d" text-anchor="end">1.0</text><text x="91.27" y="537.89" font-size="23.47" fill="#4d4d4d" text-anchor="end">1.5</text><text x="91.27" y="502.01" font-size="23.47" fill="#4d4d4d" text-anchor="end">2.0</text><text x="119.45" y="711.82" font-size="23.47" fill="#4d4d4d" text-anchor="middle">-5.0</text><text x="189.19" y="711.82" font-size="23.47" fill="#4d4d4d" text-anchor="middle">-2.5</text><text x="258.93" y="711.82" font-size="23.47" fill="#4d4d4d" text-anchor="middle">0.0</text><text x="328.66" y="711.82" font-size="23.47" fill="#4d4d4d" text-anchor="middle">2.5</text><text x="398.40" y="711.82" font-size="23.47" fill="#4d4d4d" text-anchor="middle">5.0</text><text x="440.97" y="711.82" font-size="23.47" fill="#4d4d4d" text-anchor="middle">-5.0</text><text x="510.71" y="711.82" font-size="23.47" fill="#4d4d4d" text-anchor="middle">-2.5</text><text x="580.45" y="711.82" font-size="23.47" fill="#4d4d4d" text-anchor="middle">0.0</text><text x="650.18" y="711.82" font-size="23.47" fill="#4d4d4d" text-anchor="middle">2.5</text><text x="719.92" y="711.82" font-size="23.47" fill="#4d4d4d" text-anchor="middle">5.0</text><text x="762.49" y="711.82" font-size="23.47" fill="#4d4d4d" text-anchor="middle">-5.0</text><text x="832.23" y="711.82" font-size="23.47" fill="#4d4d4d" text-anchor="middle">-2.5</text><text x="901.97" y="711.82" font-size="23.47" fill="#4d4d4d" text-anchor="middle">0.0</text><text x="971.70" y="711.82" font-size="23.47" fill="#4d4d4d" text-anchor="middle">2.5</text><text x="1041.44" y="711.82" font-size="23.47" fill="#4d4d4d" text-anchor="middle">5.0</text><path d="M98.17 248.38H105.50M98.17 212.50H105.50M98.17 176.62H105.50M98.17 140.73H105.50M98.17 104.85H105.50M98.17 68.97H105.50M98.17 460.40H105.50M98.17 424.52H105.50M98.17 388.64H105.50M98.17 352.75H105.50M98.17 316.87H105.50M98.17 280.99H105.50M98.17 672.42H105.50M98.17 636.54H105.50M98.17 600.66H105.50M98.17 564.77H105.50M98.17 528.89H105.50M98.17 493.01H105.50M119.45 681.39V688.72M189.19 681.39V688.72M258.93 681.39V688.72M328.66 681.39V688.72M398.40 681.39V688.72M440.97 681.39V688.72M510.71 681.39V688.72M580.45 681.39V688.72M650.18 681.39V688.72M719.92 681.39V688.72M762.49 681.39V688.72M832.23 681.39V688.72M901.97 681.39V688.72M971.70 681.39V688.72M1041.44 681.39V688.72" stroke="#333" stroke-width="2.84" fill="none"/><text x="580.45" y="745.6" font-size="29.33" fill="#000" text-anchor="middle">delta_x</text><text transform="translate(37.3 370.69) rotate(-90)" font-size="29.33" fill="#000" text-anchor="middle">a</text>
<defs><linearGradient id="vg" x1="0" y1="1" x2="0" y2="0"><stop offset="0.0000" stop-color="#440154"/><stop offset="0.0312" stop-color="#470d60"/><stop offset="0.0625" stop-color="#48186a"/><stop offset="0.0938" stop-color="#482374"/><stop offset="0.1250" stop-color="#472d7b"/><stop offset="0.1562" stop-color="#453781"/><stop offset="0.1875" stop-color="#424086"/><stop offset="0.2188" stop-color="#3e4989"/><stop offset="0.2500" stop-color="#3b528b"/><stop offset="0.2812" stop-color="#375b8d"/><stop offset="0.3125" stop-color="#33638d"/><stop offset="0.3438" stop-color="#2f6b8e"/><stop offset="0.3750" stop-color="#2c728e"/><stop offset="0.4062" stop-color="#297a8e"/><stop offset="0.4375" stop-color="#26828e"/><stop offset="0.4688" stop-color="#23898e"/><stop offset="0.5000" stop-color="#21918c"/><stop offset="0.5312" stop-color="#1f988b"/><stop offset="0.5625" stop-color="#1fa088"/><stop offset="0.5938" stop-color="#22a785"/><stop offset="0.6250" stop-color="#28ae80"/><stop offset="0.6562" stop-color="#32b67a"/><stop offset="0.6875" stop-color="#3fbc73"/><stop offset="0.7188" stop-color="#4ec36b"/><stop offset="0.7500" stop-color="#5ec962"/><stop offset="0.7812" stop-color="#70cf57"/><stop offset="0.8125" stop-color="#84d44b"/><stop offset="0.8438" stop-color="#98d83e"/><stop offset="0.8750" stop-color="#addc30"/><stop offset="0.9062" stop-color="#c2df23"/><stop offset="0.9375" stop-color="#d8e219"/><stop offset="0.9688" stop-color="#ece51b"/><stop offset="1.0000" stop-color="#fde725"/></linearGradient></defs><rect x="1145.3" y="277.8" width="46.08" height="230.4" fill="url(#vg)"/><text x="1206.2" y="458.80" font-size="23.47" fill="#000">2</text><text x="1206.2" y="401.20" font-size="23.47" fill="#000">4</text><text x="1206.2" y="343.60" font-size="23.47" fill="#000">6</text><text x="1206.2" y="286.00" font-size="23.47" fill="#000">8</text><path d="M1145.3 450.60h9.2M1191.3799999999999 450.60h-9.2M1145.3 393.00h9.2M1191.3799999999999 393.00h-9.2M1145.3 335.40h9.2M1191.3799999999999 335.40h-9.2M1145.3 277.80h9.2M1191.3799999999999 277.80h-9.2" stroke="#fff" stroke-width="1.4" fill="none"/><text x="1145.3" y="258.4" font-size="29.33" fill="#000">U</text></svg>
</div></body></html>
